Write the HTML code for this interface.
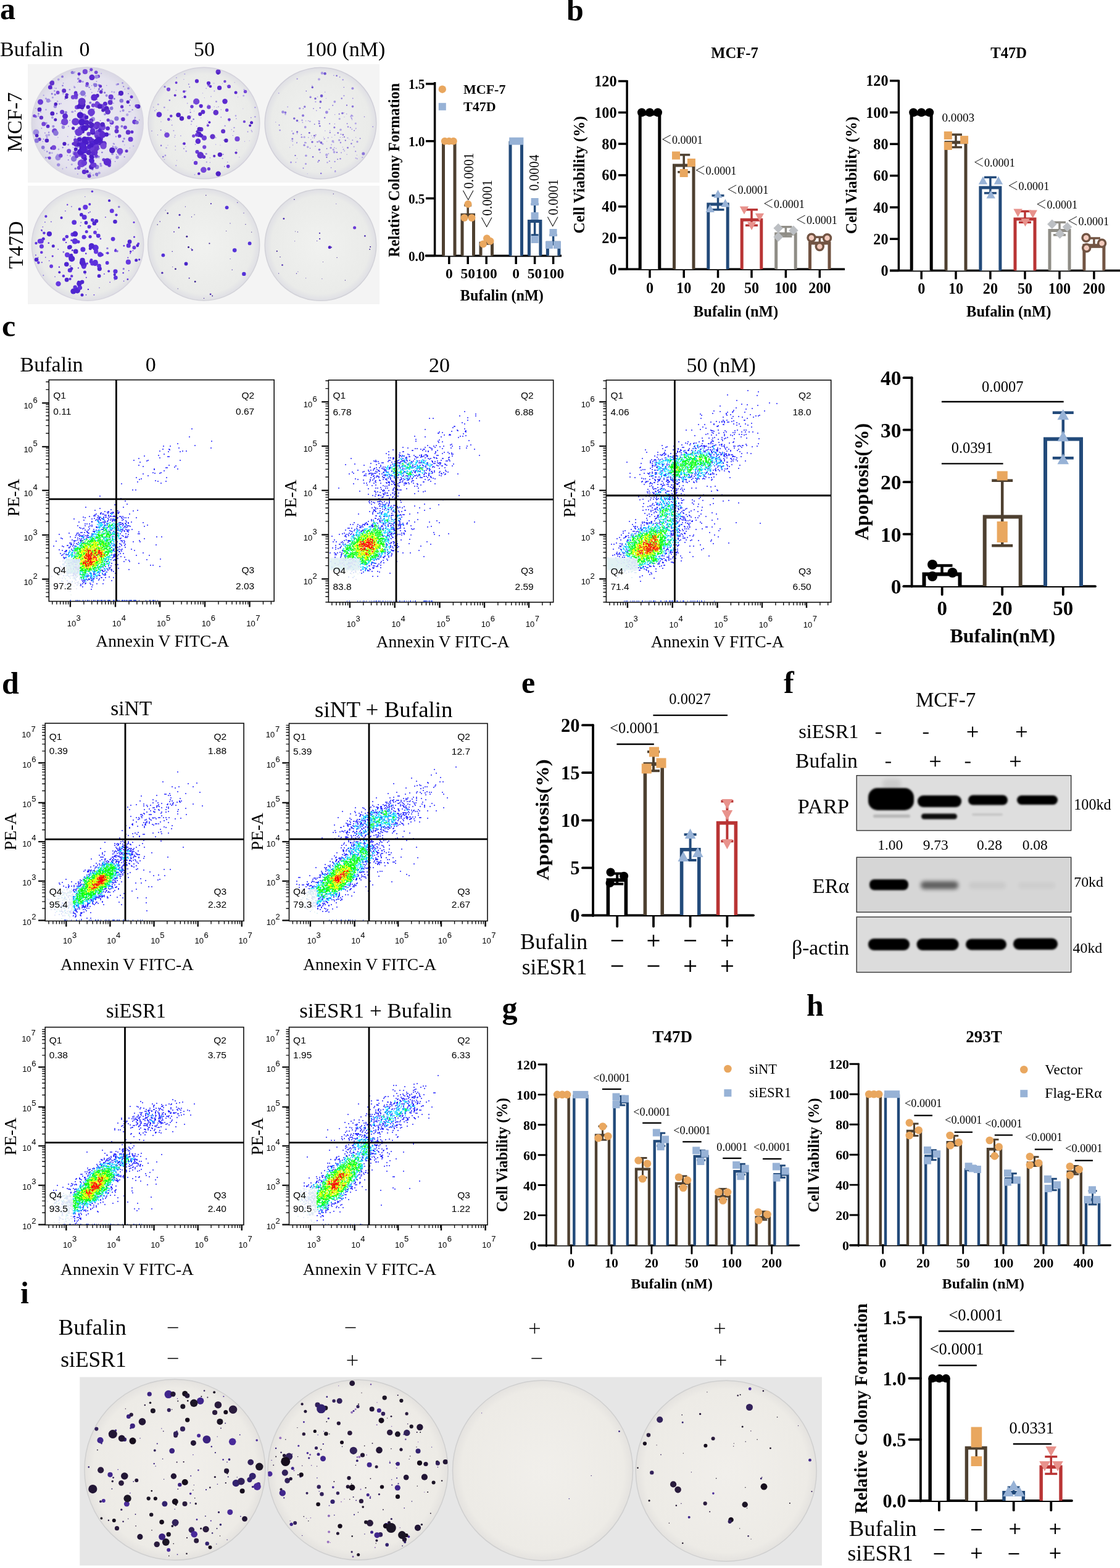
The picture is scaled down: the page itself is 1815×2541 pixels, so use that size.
<!DOCTYPE html>
<html><head><meta charset="utf-8"><title>Figure</title>
<style>
html,body{margin:0;padding:0;background:#fff;overflow:hidden;width:1815px;height:2541px;}
svg{display:block;}
.s{font-family:"Liberation Serif","Times New Roman","Noto Serif CJK SC",serif;}
.a{font-family:"Liberation Sans",Arial,sans-serif;}
.b{font-weight:bold;}
</style></head><body>
<svg width="1815" height="2541" viewBox="0 0 1815 2541">
<rect width="1815" height="2541" fill="#fff"/>
<defs>
<radialGradient id="gpa" cx="50%" cy="50%" r="50%"><stop offset="0" stop-color="#ecebf3"/><stop offset="0.85" stop-color="#e4e2ee"/><stop offset="1" stop-color="#d9d7e4"/></radialGradient>
<radialGradient id="gpb" cx="50%" cy="50%" r="50%"><stop offset="0" stop-color="#f1f2f0"/><stop offset="0.88" stop-color="#eaebe9"/><stop offset="1" stop-color="#dfdfe5"/></radialGradient>
<radialGradient id="gpi" cx="50%" cy="50%" r="50%"><stop offset="0" stop-color="#f1efeb"/><stop offset="0.9" stop-color="#edebe6"/><stop offset="1" stop-color="#e4e2df"/></radialGradient>
<filter id="bc" x="-5%" y="-5%" width="110%" height="110%"><feGaussianBlur stdDeviation="0.5"/></filter>
<filter id="bl0" x="-20%" y="-20%" width="140%" height="140%"><feGaussianBlur stdDeviation="1.2"/></filter>
<filter id="bl1" x="-20%" y="-50%" width="140%" height="200%"><feGaussianBlur stdDeviation="1.6"/></filter>
<filter id="bl2" x="-20%" y="-50%" width="140%" height="200%"><feGaussianBlur stdDeviation="3"/></filter>
<filter id="bl3" x="-10%" y="-10%" width="120%" height="120%"><feGaussianBlur stdDeviation="8"/></filter>
</defs><text class="s b" x="0" y="31" font-size="50">a</text>
<text class="s" x="0" y="90.5" font-size="34">Bufalin</text>
<text class="s" x="137" y="90.5" font-size="34" text-anchor="middle">0</text>
<text class="s" x="331" y="90.5" font-size="34" text-anchor="middle">50</text>
<text class="s" x="495" y="90.5" font-size="34">100 (nM)</text>
<rect x="45" y="104" width="570" height="192" fill="#f4f4f4"/>
<rect x="45" y="301" width="570" height="192" fill="#f4f4f4"/>
<text class="s" x="35" y="198" font-size="33" text-anchor="middle" transform="rotate(-90 35 198)">MCF-7</text>
<text class="s" x="36.5" y="397" font-size="33" text-anchor="middle" transform="rotate(-90 36.5 397)">T47D</text>
<clipPath id="pa1"><circle cx="141.7" cy="199.5" r="90.5"/></clipPath>
<circle cx="141.7" cy="199.5" r="90.5" fill="url(#gpa)" stroke="#d8d6e2" stroke-width="1.5"/>
<g clip-path="url(#pa1)"><g filter="url(#bc)"><circle cx="79.1" cy="218.8" r="2" fill="#b3a6e6"/><circle cx="64.5" cy="223.6" r="0.9" fill="#b3a6e6"/><circle cx="88.3" cy="142.7" r="0.8" fill="#a898e4"/><circle cx="182.1" cy="249.4" r="1.9" fill="#9d8ae0"/><circle cx="96.2" cy="168.4" r="1.1" fill="#8a74da"/><circle cx="84.6" cy="143.7" r="0.8" fill="#9d8ae0"/><circle cx="157.5" cy="239.5" r="0.8" fill="#b3a6e6"/><circle cx="110.7" cy="259.2" r="0.9" fill="#8a74da"/><circle cx="102.4" cy="151.8" r="1.4" fill="#b3a6e6"/><circle cx="110.3" cy="153.4" r="1.2" fill="#9d8ae0"/><circle cx="128.8" cy="152.1" r="0.9" fill="#a898e4"/><circle cx="206.2" cy="211.7" r="0.8" fill="#9d8ae0"/><circle cx="172.7" cy="154.8" r="2.1" fill="#9d8ae0"/><circle cx="160.9" cy="281.5" r="0.8" fill="#b3a6e6"/><circle cx="196.4" cy="192.7" r="0.8" fill="#8a74da"/><circle cx="149.8" cy="154.8" r="0.8" fill="#a898e4"/><circle cx="197.5" cy="204.8" r="2" fill="#8a74da"/><circle cx="142.3" cy="227.3" r="0.8" fill="#b3a6e6"/><circle cx="170.4" cy="258.3" r="1.1" fill="#8a74da"/><circle cx="218.1" cy="192.4" r="1" fill="#b3a6e6"/><circle cx="183.9" cy="237.4" r="0.9" fill="#a898e4"/><circle cx="198.6" cy="134.5" r="1.3" fill="#9d8ae0"/><circle cx="155.1" cy="252.8" r="1.8" fill="#9d8ae0"/><circle cx="174" cy="208.3" r="1.1" fill="#9d8ae0"/><circle cx="148.8" cy="149.8" r="0.9" fill="#9d8ae0"/><circle cx="177.4" cy="217.5" r="1.4" fill="#9d8ae0"/><circle cx="98.8" cy="167.8" r="1.1" fill="#b3a6e6"/><circle cx="157.6" cy="171.5" r="1" fill="#8a74da"/><circle cx="126.1" cy="238.3" r="1.3" fill="#8a74da"/><circle cx="179.4" cy="257.7" r="1.2" fill="#b3a6e6"/><circle cx="191.9" cy="153.7" r="1" fill="#9d8ae0"/><circle cx="190.2" cy="239.1" r="0.9" fill="#b3a6e6"/><circle cx="138.2" cy="278.8" r="1.3" fill="#a898e4"/><circle cx="58" cy="188.9" r="2.1" fill="#8a74da"/><circle cx="150.6" cy="264.3" r="1.8" fill="#9d8ae0"/><circle cx="125.9" cy="281.8" r="0.9" fill="#9d8ae0"/><circle cx="192.6" cy="223.1" r="0.9" fill="#9d8ae0"/><circle cx="165.4" cy="247" r="1.3" fill="#8a74da"/><circle cx="168.9" cy="217.3" r="1.1" fill="#a898e4"/><circle cx="101.5" cy="138.8" r="1.3" fill="#8a74da"/><circle cx="70.7" cy="154.5" r="1.1" fill="#a898e4"/><circle cx="115.7" cy="117.7" r="0.8" fill="#9d8ae0"/><circle cx="67.4" cy="207.8" r="0.9" fill="#9d8ae0"/><circle cx="199.3" cy="229" r="1.6" fill="#8a74da"/><circle cx="164.2" cy="118.9" r="1" fill="#b3a6e6"/><circle cx="208" cy="151.8" r="1" fill="#9d8ae0"/><circle cx="185" cy="149.4" r="1.3" fill="#b3a6e6"/><circle cx="134.6" cy="206.2" r="0.8" fill="#9d8ae0"/><circle cx="85.9" cy="132.5" r="1.9" fill="#a898e4"/><circle cx="84.4" cy="247.9" r="1.3" fill="#b3a6e6"/><circle cx="79.1" cy="214.5" r="1.2" fill="#9d8ae0"/><circle cx="132.1" cy="223.6" r="0.8" fill="#9d8ae0"/><circle cx="73.1" cy="200.7" r="2" fill="#a898e4"/><circle cx="183.9" cy="167.3" r="0.8" fill="#8a74da"/><circle cx="66.2" cy="190.7" r="1" fill="#b3a6e6"/><circle cx="98.7" cy="200" r="1" fill="#a898e4"/><circle cx="160" cy="254" r="1.7" fill="#8a74da"/><circle cx="181.3" cy="162.4" r="1.3" fill="#a898e4"/><circle cx="149.7" cy="230.6" r="1" fill="#9d8ae0"/><circle cx="121.1" cy="116.7" r="0.9" fill="#8a74da"/><circle cx="187.3" cy="238.6" r="2" fill="#b3a6e6"/><circle cx="95" cy="242" r="1.4" fill="#b3a6e6"/><circle cx="107.6" cy="271.5" r="0.9" fill="#9d8ae0"/><circle cx="121.5" cy="157.7" r="1" fill="#9d8ae0"/><circle cx="106.5" cy="156.4" r="0.9" fill="#a898e4"/><circle cx="144.3" cy="232.2" r="0.8" fill="#9d8ae0"/><circle cx="76.1" cy="222.4" r="1.4" fill="#a898e4"/><circle cx="211.6" cy="180.8" r="0.9" fill="#b3a6e6"/><circle cx="138.9" cy="273.4" r="1.6" fill="#9d8ae0"/><circle cx="161.4" cy="240.7" r="1" fill="#8a74da"/><circle cx="80.6" cy="247.8" r="1.9" fill="#9d8ae0"/><circle cx="71.8" cy="243.6" r="1" fill="#b3a6e6"/><circle cx="75.4" cy="219.4" r="2" fill="#b3a6e6"/><circle cx="74.5" cy="177.7" r="1.2" fill="#a898e4"/><circle cx="72.9" cy="215.5" r="0.9" fill="#9d8ae0"/><circle cx="160.7" cy="280.3" r="2.1" fill="#a898e4"/><circle cx="66" cy="181.6" r="0.9" fill="#9d8ae0"/><circle cx="127.1" cy="220" r="1.1" fill="#b3a6e6"/><circle cx="148.7" cy="138.8" r="0.8" fill="#9d8ae0"/><circle cx="126.9" cy="206.6" r="1.2" fill="#8a74da"/><circle cx="55.7" cy="215.6" r="1.9" fill="#b3a6e6"/><circle cx="199.6" cy="179" r="2.1" fill="#9d8ae0"/><circle cx="144.6" cy="141.6" r="1.2" fill="#8a74da"/><circle cx="62.2" cy="188" r="1.2" fill="#a898e4"/><circle cx="101.1" cy="124.2" r="1.9" fill="#8a74da"/><circle cx="130.7" cy="230.5" r="1.2" fill="#a898e4"/><circle cx="106.5" cy="182.1" r="1.2" fill="#9d8ae0"/><circle cx="130.2" cy="190.5" r="2.1" fill="#b3a6e6"/><circle cx="58" cy="175.7" r="0.8" fill="#9d8ae0"/><circle cx="133.6" cy="178.6" r="1.2" fill="#b3a6e6"/><circle cx="210.5" cy="162.1" r="1" fill="#8a74da"/><circle cx="111" cy="204.7" r="1.1" fill="#b3a6e6"/><circle cx="113.2" cy="195" r="1" fill="#9d8ae0"/><circle cx="169.8" cy="185.3" r="1.7" fill="#9d8ae0"/><circle cx="175.3" cy="207.2" r="0.8" fill="#a898e4"/><circle cx="118.9" cy="246.4" r="1.3" fill="#9d8ae0"/><circle cx="74.9" cy="199.6" r="1.8" fill="#a898e4"/><circle cx="126.9" cy="127.7" r="1.9" fill="#9d8ae0"/><circle cx="101.7" cy="239.1" r="1.2" fill="#8a74da"/><circle cx="62.7" cy="180.2" r="1.2" fill="#8a74da"/><circle cx="62.4" cy="184.6" r="1.3" fill="#8a74da"/><circle cx="149.9" cy="274.4" r="1.7" fill="#8a74da"/><circle cx="121.9" cy="244.5" r="2" fill="#8a74da"/><circle cx="148.5" cy="161.5" r="0.8" fill="#8a74da"/><circle cx="159.2" cy="218.7" r="1" fill="#b3a6e6"/><circle cx="169.7" cy="150.1" r="1.7" fill="#8a74da"/><circle cx="162.9" cy="265.5" r="1.7" fill="#9d8ae0"/><circle cx="163.6" cy="268.4" r="2" fill="#a898e4"/><circle cx="188.3" cy="240.8" r="1.6" fill="#8a74da"/><circle cx="161.5" cy="142.1" r="0.8" fill="#b3a6e6"/><circle cx="164.4" cy="229.4" r="0.9" fill="#8a74da"/><circle cx="225.8" cy="194.4" r="0.8" fill="#9d8ae0"/><circle cx="189.6" cy="253.5" r="0.8" fill="#9d8ae0"/><circle cx="113.9" cy="252.5" r="1.2" fill="#b3a6e6"/><circle cx="155" cy="251.3" r="1.4" fill="#9d8ae0"/><circle cx="162.5" cy="168.6" r="1.1" fill="#a898e4"/><circle cx="109.7" cy="221.2" r="0.8" fill="#9d8ae0"/><circle cx="130.3" cy="222.3" r="1.8" fill="#b3a6e6"/><circle cx="107.1" cy="183.3" r="1.3" fill="#a898e4"/><circle cx="156.7" cy="157.6" r="2" fill="#8a74da"/><circle cx="163.7" cy="148.3" r="1.9" fill="#a898e4"/><circle cx="150" cy="123.4" r="1" fill="#8a74da"/><circle cx="187.9" cy="221.4" r="1.1" fill="#9d8ae0"/><circle cx="208.1" cy="143.2" r="1.9" fill="#9d8ae0"/><circle cx="151.2" cy="284" r="1.4" fill="#a898e4"/><circle cx="153.5" cy="254" r="0.8" fill="#9d8ae0"/><circle cx="74.4" cy="255.4" r="1.4" fill="#9d8ae0"/><circle cx="148.1" cy="113.1" r="0.8" fill="#9d8ae0"/><circle cx="138.6" cy="155.3" r="1" fill="#9d8ae0"/><circle cx="146.7" cy="129.2" r="0.8" fill="#a898e4"/><circle cx="141.2" cy="282.8" r="1.2" fill="#b3a6e6"/><circle cx="206.2" cy="186" r="2.2" fill="#b3a6e6"/><circle cx="150.5" cy="177" r="1.3" fill="#9d8ae0"/><circle cx="77.6" cy="255" r="1" fill="#8a74da"/><circle cx="181.4" cy="148.8" r="1.3" fill="#b3a6e6"/><circle cx="195.1" cy="180.4" r="1.2" fill="#a898e4"/><circle cx="110.6" cy="234.5" r="1.4" fill="#a898e4"/><circle cx="102.6" cy="134.7" r="0.8" fill="#8a74da"/><circle cx="82" cy="163.8" r="1" fill="#b3a6e6"/><circle cx="188.1" cy="215.5" r="1" fill="#a898e4"/><circle cx="216.2" cy="236.6" r="1.1" fill="#b3a6e6"/><circle cx="141.3" cy="275.6" r="0.8" fill="#9d8ae0"/><circle cx="210.4" cy="170.9" r="1.1" fill="#8a74da"/><circle cx="118.1" cy="181.5" r="1.3" fill="#b3a6e6"/><circle cx="201.6" cy="254.3" r="1" fill="#8a74da"/><circle cx="183" cy="240.5" r="1.4" fill="#b3a6e6"/><circle cx="85.4" cy="158" r="1.5" fill="#a898e4"/><circle cx="152.8" cy="136.7" r="2.2" fill="#a898e4"/><circle cx="137.5" cy="157" r="0.8" fill="#a898e4"/><circle cx="156.5" cy="131.9" r="1" fill="#a898e4"/><circle cx="84.2" cy="152.1" r="1.5" fill="#8a74da"/><circle cx="90.8" cy="143.1" r="0.9" fill="#8a74da"/><circle cx="71" cy="198.5" r="0.9" fill="#9d8ae0"/><circle cx="135.8" cy="193.3" r="0.9" fill="#9d8ae0"/><circle cx="121.7" cy="179.9" r="1.2" fill="#9d8ae0"/><circle cx="144.7" cy="116" r="0.8" fill="#8a74da"/><circle cx="105.4" cy="160.3" r="1.1" fill="#8a74da"/><circle cx="109.3" cy="251.8" r="0.8" fill="#9d8ae0"/><circle cx="160.6" cy="144.1" r="1.7" fill="#8a74da"/><circle cx="70.6" cy="225.4" r="1" fill="#8a74da"/><circle cx="93.6" cy="251.4" r="2.2" fill="#a898e4"/><circle cx="122.3" cy="273.2" r="1.8" fill="#8a74da"/><circle cx="93.9" cy="222.8" r="0.8" fill="#a898e4"/><circle cx="163.9" cy="211.4" r="1.2" fill="#b3a6e6"/><circle cx="165.5" cy="144.9" r="1.7" fill="#9d8ae0"/><circle cx="177.6" cy="218.1" r="1.4" fill="#9d8ae0"/><circle cx="120.9" cy="141.6" r="1.6" fill="#a898e4"/><circle cx="134.9" cy="231.9" r="1" fill="#a898e4"/><circle cx="121.7" cy="221.8" r="1.5" fill="#a898e4"/><circle cx="69.2" cy="229.3" r="0.9" fill="#a898e4"/><circle cx="157.2" cy="284.2" r="1.5" fill="#8a74da"/><circle cx="210.4" cy="239.7" r="0.8" fill="#b3a6e6"/><circle cx="74.5" cy="159.8" r="1.6" fill="#a898e4"/><circle cx="160.5" cy="138" r="1.8" fill="#8a74da"/><circle cx="175.6" cy="267.8" r="1.9" fill="#a898e4"/><circle cx="157.3" cy="161.4" r="0.8" fill="#8a74da"/><circle cx="63.3" cy="164.1" r="1.4" fill="#b3a6e6"/><circle cx="201.2" cy="224.8" r="1.7" fill="#9d8ae0"/><circle cx="118.5" cy="239" r="0.8" fill="#a898e4"/><circle cx="201.7" cy="234.9" r="0.8" fill="#b3a6e6"/><circle cx="142.9" cy="240.6" r="1.6" fill="#a898e4"/><circle cx="146.8" cy="144.8" r="1" fill="#a898e4"/><circle cx="112.9" cy="145.2" r="1.2" fill="#9d8ae0"/><circle cx="119.9" cy="118.7" r="1" fill="#a898e4"/><circle cx="189.3" cy="137" r="1.8" fill="#b3a6e6"/><circle cx="209.3" cy="181.1" r="1.2" fill="#9d8ae0"/><circle cx="160" cy="145.7" r="1" fill="#8a74da"/><circle cx="142.6" cy="234.7" r="1.4" fill="#8a74da"/><circle cx="118.2" cy="248.8" r="1.2" fill="#a898e4"/><circle cx="162.6" cy="195.5" r="0.9" fill="#9d8ae0"/><circle cx="130.3" cy="232.1" r="2" fill="#9d8ae0"/><circle cx="141.9" cy="188" r="1.1" fill="#9d8ae0"/><circle cx="126.8" cy="235.4" r="1" fill="#8a74da"/><circle cx="93.1" cy="164.2" r="1.2" fill="#b3a6e6"/><circle cx="160.1" cy="242.1" r="0.8" fill="#a898e4"/><circle cx="82.3" cy="138.8" r="1.2" fill="#a898e4"/><circle cx="86.4" cy="204.8" r="2.1" fill="#9d8ae0"/><circle cx="100.8" cy="204" r="0.8" fill="#8a74da"/><circle cx="158.9" cy="148" r="1.2" fill="#a898e4"/><circle cx="146.6" cy="179" r="2" fill="#9d8ae0"/><circle cx="200.2" cy="140.3" r="1.1" fill="#8a74da"/><circle cx="126.1" cy="133.2" r="0.8" fill="#8a74da"/><circle cx="146.3" cy="166.5" r="2" fill="#8a74da"/><circle cx="84.8" cy="133.4" r="0.9" fill="#9d8ae0"/><circle cx="186.6" cy="261.8" r="0.8" fill="#8a74da"/><circle cx="152.7" cy="176.9" r="0.9" fill="#9d8ae0"/><circle cx="197.8" cy="152.9" r="0.8" fill="#a898e4"/><circle cx="179.3" cy="204" r="0.9" fill="#9d8ae0"/><circle cx="153.1" cy="142.6" r="0.8" fill="#b3a6e6"/><circle cx="107.4" cy="193.9" r="1.8" fill="#a898e4"/><circle cx="119.2" cy="250.5" r="1.2" fill="#b3a6e6"/><circle cx="130.4" cy="179.8" r="0.8" fill="#8a74da"/><circle cx="185" cy="233.4" r="1.1" fill="#9d8ae0"/><circle cx="136.2" cy="191.5" r="1" fill="#b3a6e6"/><circle cx="146.9" cy="265" r="1.1" fill="#9d8ae0"/><circle cx="191.4" cy="136.3" r="1.5" fill="#8a74da"/><circle cx="128.2" cy="251.4" r="1.2" fill="#a898e4"/><circle cx="214.6" cy="177.9" r="1.2" fill="#9d8ae0"/><circle cx="140.1" cy="238.6" r="1.5" fill="#a898e4"/><circle cx="124.9" cy="242.1" r="1.1" fill="#a898e4"/><circle cx="90.6" cy="217.2" r="0.8" fill="#9d8ae0"/><circle cx="188.8" cy="250.6" r="0.8" fill="#8a74da"/><circle cx="76.3" cy="245.6" r="1.3" fill="#9d8ae0"/><circle cx="154.4" cy="208.8" r="2.2" fill="#b3a6e6"/><circle cx="122" cy="212.5" r="2" fill="#b3a6e6"/><circle cx="170.9" cy="185" r="0.9" fill="#8a74da"/><circle cx="165.2" cy="150.5" r="1" fill="#b3a6e6"/><circle cx="88.3" cy="147.4" r="1.3" fill="#a898e4"/><circle cx="219" cy="190.7" r="1.4" fill="#9d8ae0"/><circle cx="139.1" cy="237.4" r="0.9" fill="#b3a6e6"/><circle cx="183.9" cy="232.8" r="1.2" fill="#a898e4"/><circle cx="172.8" cy="138.6" r="0.8" fill="#a898e4"/><circle cx="92.1" cy="184" r="1.2" fill="#8a74da"/><circle cx="106.9" cy="182" r="2" fill="#8a74da"/><circle cx="128.7" cy="193.6" r="1.4" fill="#9d8ae0"/><circle cx="181.3" cy="245.2" r="1" fill="#a898e4"/><circle cx="101.4" cy="273.6" r="1" fill="#b3a6e6"/><circle cx="185.3" cy="160" r="1.5" fill="#8a74da"/><circle cx="194.8" cy="162.9" r="1.2" fill="#a898e4"/><circle cx="178.7" cy="265.4" r="1.9" fill="#a898e4"/><circle cx="117.1" cy="181.3" r="1.8" fill="#a898e4"/><circle cx="120.8" cy="151.1" r="1.6" fill="#a898e4"/><circle cx="160" cy="166.6" r="1.2" fill="#9d8ae0"/><circle cx="88.4" cy="215.2" r="1.7" fill="#8a74da"/><circle cx="116.3" cy="266.5" r="1.6" fill="#b3a6e6"/><circle cx="89.2" cy="153.1" r="1.6" fill="#8a74da"/><circle cx="160.4" cy="256.4" r="0.8" fill="#b3a6e6"/><circle cx="182.7" cy="237.2" r="1" fill="#8a74da"/><circle cx="136" cy="265.2" r="1" fill="#9d8ae0"/><circle cx="127.9" cy="123.1" r="1" fill="#b3a6e6"/><circle cx="93.2" cy="164.2" r="1" fill="#b3a6e6"/><circle cx="142.4" cy="138.5" r="2.2" fill="#b3a6e6"/><circle cx="155.3" cy="172.8" r="0.8" fill="#a898e4"/><circle cx="84.9" cy="190.5" r="1.9" fill="#a898e4"/><circle cx="181.5" cy="173.3" r="1.3" fill="#b3a6e6"/><circle cx="134.1" cy="132.3" r="1.6" fill="#a898e4"/><circle cx="202.3" cy="144.4" r="0.9" fill="#b3a6e6"/><circle cx="145.6" cy="281.2" r="2.1" fill="#b3a6e6"/><circle cx="120.2" cy="139.8" r="0.9" fill="#a898e4"/><circle cx="94.8" cy="128.8" r="1.9" fill="#a898e4"/><circle cx="179.7" cy="157.2" r="4.1" fill="#6a3ad6"/><circle cx="108.2" cy="153.6" r="2.5" fill="#5b2bd0"/><circle cx="205.1" cy="244.7" r="2.5" fill="#6233cc"/><circle cx="89.4" cy="172.5" r="2.7" fill="#9d8ae0"/><circle cx="126.5" cy="247" r="2.5" fill="#7446d8"/><circle cx="163.7" cy="148.9" r="2.8" fill="#6233cc"/><circle cx="147.5" cy="247.6" r="3" fill="#4f22c4"/><circle cx="119.7" cy="257.2" r="4.7" fill="#8a74da"/><circle cx="102.5" cy="206.3" r="2.7" fill="#9d8ae0"/><circle cx="172.5" cy="176.1" r="4.3" fill="#4f22c4"/><circle cx="150.6" cy="192.9" r="3.5" fill="#9d8ae0"/><circle cx="181" cy="198.4" r="3.5" fill="#6a3ad6"/><circle cx="223.8" cy="172.5" r="3.6" fill="#4f22c4"/><circle cx="134.3" cy="151.1" r="4.5" fill="#8a74da"/><circle cx="69.7" cy="238.9" r="2.8" fill="#8a74da"/><circle cx="118.6" cy="207.8" r="2.6" fill="#4f22c4"/><circle cx="194.5" cy="249.5" r="2.7" fill="#9d8ae0"/><circle cx="148.2" cy="270.5" r="4.1" fill="#4f22c4"/><circle cx="162.7" cy="139.7" r="2.5" fill="#6233cc"/><circle cx="148" cy="247.1" r="4.6" fill="#9d8ae0"/><circle cx="146.5" cy="231" r="3.6" fill="#7446d8"/><circle cx="199.4" cy="193.3" r="3.2" fill="#6233cc"/><circle cx="147.8" cy="195.5" r="3.4" fill="#6233cc"/><circle cx="141.3" cy="277.9" r="2.5" fill="#4f22c4"/><circle cx="179.7" cy="196.7" r="2.6" fill="#9d8ae0"/><circle cx="105.6" cy="188.3" r="4.5" fill="#5b2bd0"/><circle cx="81.3" cy="141.4" r="3.4" fill="#5b2bd0"/><circle cx="197.6" cy="172.9" r="2.6" fill="#6233cc"/><circle cx="155.7" cy="117.2" r="2.8" fill="#7446d8"/><circle cx="154.6" cy="137.9" r="3.1" fill="#8a74da"/><circle cx="84.2" cy="134.5" r="3.9" fill="#6233cc"/><circle cx="177.2" cy="268.1" r="2.6" fill="#6233cc"/><circle cx="75.9" cy="227.7" r="3.3" fill="#4f22c4"/><circle cx="159.4" cy="123.7" r="2.6" fill="#7446d8"/><circle cx="64" cy="177.4" r="3.4" fill="#4f22c4"/><circle cx="207.6" cy="214.4" r="3.8" fill="#6233cc"/><circle cx="63.9" cy="225.7" r="2.8" fill="#6233cc"/><circle cx="202.9" cy="206.4" r="3" fill="#7446d8"/><circle cx="128.1" cy="119.7" r="2.5" fill="#5b2bd0"/><circle cx="196.8" cy="163.2" r="3.2" fill="#8a74da"/><circle cx="129.7" cy="131.5" r="2.5" fill="#7446d8"/><circle cx="189" cy="212.4" r="3.5" fill="#6233cc"/><circle cx="156.4" cy="124.4" r="3.1" fill="#9d8ae0"/><circle cx="157.2" cy="166.8" r="2.7" fill="#6a3ad6"/><circle cx="70.7" cy="200.9" r="3.4" fill="#7446d8"/><circle cx="193.7" cy="220.5" r="2.8" fill="#6a3ad6"/><circle cx="117.2" cy="117.5" r="2.5" fill="#8a74da"/><circle cx="147.8" cy="112.8" r="2.6" fill="#7446d8"/><circle cx="55.6" cy="187.7" r="2.5" fill="#7446d8"/><circle cx="167.1" cy="178.5" r="2.9" fill="#4f22c4"/><circle cx="58.4" cy="214.4" r="4.9" fill="#9d8ae0"/><circle cx="218.1" cy="197.6" r="3.8" fill="#6a3ad6"/><circle cx="133.2" cy="228.4" r="4.3" fill="#7446d8"/><circle cx="59.7" cy="219.7" r="2.8" fill="#4f22c4"/><circle cx="221.1" cy="171.7" r="2.6" fill="#6a3ad6"/><circle cx="83.9" cy="239.9" r="2.5" fill="#4f22c4"/><circle cx="65.5" cy="165.2" r="4.5" fill="#6a3ad6"/><circle cx="88.4" cy="212.3" r="4.3" fill="#7446d8"/><circle cx="127.7" cy="212.9" r="2.9" fill="#6a3ad6"/><circle cx="168" cy="258.8" r="2.6" fill="#6a3ad6"/><circle cx="87.1" cy="239.1" r="3.9" fill="#7446d8"/><circle cx="59.3" cy="227.9" r="3.7" fill="#8a74da"/><circle cx="77.6" cy="204.7" r="2.9" fill="#5b2bd0"/><circle cx="122.7" cy="150.3" r="2.7" fill="#5b2bd0"/><circle cx="66.9" cy="190.6" r="3.2" fill="#6233cc"/><circle cx="207.3" cy="165.3" r="2.7" fill="#4f22c4"/><circle cx="211.6" cy="225.8" r="4" fill="#6a3ad6"/><circle cx="149" cy="125.4" r="4.6" fill="#5b2bd0"/><circle cx="221.8" cy="198.5" r="3" fill="#8a74da"/><circle cx="178.6" cy="165.9" r="4" fill="#6233cc"/><circle cx="118.3" cy="157.5" r="3.4" fill="#7446d8"/><circle cx="174.6" cy="208.1" r="3.4" fill="#5b2bd0"/><circle cx="156.1" cy="253.7" r="3.1" fill="#9d8ae0"/><circle cx="190" cy="255" r="2.7" fill="#9d8ae0"/><circle cx="90.4" cy="215.6" r="4.4" fill="#8a74da"/><circle cx="127.7" cy="272" r="2.9" fill="#7446d8"/><circle cx="89.8" cy="194" r="2.5" fill="#4f22c4"/><circle cx="118.9" cy="233.1" r="2.5" fill="#5b2bd0"/><circle cx="140.6" cy="138.7" r="2.5" fill="#8a74da"/><circle cx="188.9" cy="192.2" r="3.6" fill="#8a74da"/><circle cx="157" cy="270.5" r="3.6" fill="#8a74da"/><circle cx="170.4" cy="168.3" r="3.5" fill="#5b2bd0"/><circle cx="151" cy="170.7" r="3.1" fill="#7446d8"/><circle cx="104.4" cy="233" r="3.1" fill="#4f22c4"/><circle cx="156.6" cy="282.3" r="2.6" fill="#8a74da"/><circle cx="177.4" cy="261.3" r="2.6" fill="#5b2bd0"/><circle cx="137.9" cy="116.2" r="4.1" fill="#7446d8"/><circle cx="78.1" cy="163.1" r="3.3" fill="#9d8ae0"/><circle cx="213.1" cy="157" r="2.5" fill="#5b2bd0"/><circle cx="180.6" cy="175.6" r="2.9" fill="#8a74da"/><circle cx="90.3" cy="168.7" r="2.8" fill="#4f22c4"/><circle cx="156.5" cy="206.7" r="2.8" fill="#4f22c4"/><circle cx="100.7" cy="181.5" r="3.6" fill="#6a3ad6"/><circle cx="107.7" cy="157.2" r="2.8" fill="#4f22c4"/><circle cx="213.9" cy="213.8" r="2.6" fill="#5b2bd0"/><circle cx="93.7" cy="150" r="2.9" fill="#7446d8"/><circle cx="162.8" cy="208.4" r="3" fill="#7446d8"/><circle cx="80.2" cy="255.9" r="2.5" fill="#6a3ad6"/><circle cx="123.1" cy="157.7" r="3.1" fill="#7446d8"/><circle cx="175.2" cy="194.6" r="2.6" fill="#6a3ad6"/><circle cx="139.6" cy="240.5" r="3.2" fill="#6233cc"/><circle cx="146.8" cy="198.8" r="3.2" fill="#8a74da"/><circle cx="103.7" cy="147.1" r="3.5" fill="#6233cc"/><circle cx="196" cy="151.1" r="4.1" fill="#4f22c4"/><circle cx="94.7" cy="267.1" r="2.7" fill="#9d8ae0"/><circle cx="156.1" cy="252.7" r="2.6" fill="#6a3ad6"/><circle cx="157.4" cy="168.3" r="3.5" fill="#7446d8"/><circle cx="157.8" cy="154.9" r="2.9" fill="#4f22c4"/><circle cx="141.3" cy="135.6" r="2.6" fill="#6a3ad6"/><circle cx="94" cy="255.5" r="4.6" fill="#9d8ae0"/><circle cx="149.8" cy="227.2" r="3" fill="#5b2bd0"/><circle cx="157.7" cy="202.5" r="5.5" fill="#6233cc"/><circle cx="147.9" cy="185.5" r="3.1" fill="#7446d8"/><circle cx="149.2" cy="212.2" r="3.2" fill="#6233cc"/><circle cx="142.7" cy="173.4" r="3.2" fill="#4f22c4"/><circle cx="124.3" cy="253.1" r="3.1" fill="#6a3ad6"/><circle cx="165.4" cy="172.5" r="4.1" fill="#7446d8"/><circle cx="138.2" cy="207.4" r="4.9" fill="#4f22c4"/><circle cx="148" cy="204.8" r="3.5" fill="#4f22c4"/><circle cx="146.2" cy="238.5" r="3" fill="#6233cc"/><circle cx="132.5" cy="169.7" r="6" fill="#4f22c4"/><circle cx="136.7" cy="190.6" r="4.4" fill="#7446d8"/><circle cx="121.9" cy="249.1" r="3.1" fill="#6a3ad6"/><circle cx="142.4" cy="204.8" r="3" fill="#4f22c4"/><circle cx="129.3" cy="248.8" r="5.2" fill="#7446d8"/><circle cx="142.5" cy="225.6" r="4" fill="#7446d8"/><circle cx="148.2" cy="229.4" r="3.7" fill="#4f22c4"/><circle cx="150" cy="266.8" r="3.6" fill="#6a3ad6"/><circle cx="164.4" cy="215.9" r="4.7" fill="#6233cc"/><circle cx="136.5" cy="278.5" r="3.7" fill="#5b2bd0"/><circle cx="104.7" cy="197.4" r="5.7" fill="#7446d8"/><circle cx="157.6" cy="237.7" r="3" fill="#6233cc"/><circle cx="130.2" cy="209.4" r="3.6" fill="#4f22c4"/><circle cx="147.9" cy="253.6" r="3.5" fill="#4f22c4"/><circle cx="134" cy="213.3" r="3" fill="#4f22c4"/><circle cx="143.8" cy="217.1" r="3.4" fill="#6a3ad6"/><circle cx="158.1" cy="219.1" r="5.6" fill="#7446d8"/><circle cx="162.9" cy="225.1" r="4.1" fill="#6233cc"/><circle cx="168.4" cy="232.9" r="4.5" fill="#6233cc"/><circle cx="144.5" cy="238.9" r="3.3" fill="#6a3ad6"/><circle cx="166.3" cy="218.3" r="5.4" fill="#5b2bd0"/><circle cx="146.8" cy="225.7" r="3.1" fill="#5b2bd0"/><circle cx="137.5" cy="198.3" r="3" fill="#6233cc"/><circle cx="135.9" cy="253" r="3" fill="#6a3ad6"/><circle cx="162.2" cy="230.6" r="5.1" fill="#4f22c4"/><circle cx="157.8" cy="170.1" r="4.9" fill="#7446d8"/><circle cx="135.9" cy="254" r="4.6" fill="#5b2bd0"/><circle cx="165.8" cy="206.1" r="5.5" fill="#7446d8"/><circle cx="144.6" cy="285.3" r="3" fill="#6233cc"/><circle cx="155.9" cy="240" r="4.8" fill="#6233cc"/><circle cx="124.6" cy="173.8" r="3.5" fill="#7446d8"/><circle cx="134.9" cy="238.8" r="5.9" fill="#4f22c4"/><circle cx="131.7" cy="206.4" r="3.2" fill="#6a3ad6"/><circle cx="152.6" cy="267.5" r="4" fill="#6a3ad6"/><circle cx="148.9" cy="232.2" r="3.1" fill="#4f22c4"/><circle cx="146.4" cy="225.3" r="3.6" fill="#5b2bd0"/><circle cx="130.2" cy="234.6" r="4" fill="#6a3ad6"/><circle cx="157" cy="221.9" r="3" fill="#6233cc"/><circle cx="98.3" cy="252.2" r="3.2" fill="#7446d8"/><circle cx="152.6" cy="157.9" r="5.3" fill="#5b2bd0"/><circle cx="123.2" cy="154.1" r="3.4" fill="#6a3ad6"/><circle cx="148.9" cy="183.4" r="3" fill="#7446d8"/><circle cx="150.4" cy="214.1" r="4.3" fill="#4f22c4"/><circle cx="174.7" cy="181.2" r="4.4" fill="#6233cc"/><circle cx="189.4" cy="206.4" r="3.1" fill="#7446d8"/><circle cx="124" cy="232.6" r="5.4" fill="#6233cc"/><circle cx="148.1" cy="259.8" r="4.1" fill="#6233cc"/><circle cx="166.2" cy="201.8" r="3.7" fill="#4f22c4"/><circle cx="122.3" cy="197.2" r="6" fill="#6a3ad6"/><circle cx="127.3" cy="213.3" r="3.2" fill="#6233cc"/><circle cx="132.1" cy="264.7" r="6.4" fill="#7446d8"/><circle cx="194.4" cy="245" r="5" fill="#7446d8"/><circle cx="154.6" cy="231.9" r="6" fill="#6a3ad6"/><circle cx="161.8" cy="172.4" r="3.9" fill="#4f22c4"/><circle cx="181.8" cy="243.5" r="4.8" fill="#4f22c4"/><circle cx="126.3" cy="216.4" r="3.2" fill="#5b2bd0"/><circle cx="153.5" cy="204.7" r="3.3" fill="#6a3ad6"/><circle cx="167.5" cy="236.5" r="5.2" fill="#7446d8"/><circle cx="150.2" cy="211.4" r="3.9" fill="#5b2bd0"/><circle cx="148" cy="181.9" r="5.9" fill="#6a3ad6"/><circle cx="149.4" cy="202.1" r="3.4" fill="#4f22c4"/><circle cx="158.2" cy="213.6" r="3.3" fill="#7446d8"/><circle cx="153" cy="246.6" r="5.5" fill="#6233cc"/><circle cx="122.1" cy="226.9" r="3" fill="#6a3ad6"/><circle cx="127.6" cy="214.2" r="6.2" fill="#6a3ad6"/><circle cx="84.8" cy="184" r="3.5" fill="#4f22c4"/><circle cx="132.7" cy="164.5" r="6.1" fill="#6233cc"/><circle cx="148.2" cy="239.4" r="5.1" fill="#6a3ad6"/><circle cx="136.9" cy="188" r="3.1" fill="#5b2bd0"/><circle cx="143.7" cy="247" r="4.4" fill="#4f22c4"/><circle cx="133" cy="173.8" r="3.5" fill="#4f22c4"/><circle cx="146.4" cy="199.6" r="3" fill="#4f22c4"/><circle cx="111.7" cy="244.8" r="3.6" fill="#7446d8"/><circle cx="151.6" cy="231" r="3" fill="#6233cc"/><circle cx="140.5" cy="198.5" r="4.2" fill="#4f22c4"/><circle cx="174" cy="262.4" r="6.2" fill="#5b2bd0"/><circle cx="134.9" cy="189.9" r="6.1" fill="#7446d8"/><circle cx="151.2" cy="248.9" r="3.2" fill="#5b2bd0"/><circle cx="132.6" cy="239.5" r="4.2" fill="#4f22c4"/><circle cx="136.5" cy="264.1" r="4.6" fill="#6a3ad6"/><circle cx="151.3" cy="231.8" r="3.9" fill="#5020d0"/><circle cx="135.5" cy="242.6" r="3" fill="#4a1cc8"/><circle cx="137.3" cy="226.2" r="5" fill="#4a1cc8"/><circle cx="142.1" cy="225.1" r="3" fill="#5020d0"/><circle cx="160.1" cy="226.6" r="4.9" fill="#4a1cc8"/><circle cx="132.4" cy="234.1" r="3.5" fill="#5020d0"/><circle cx="127.3" cy="234.1" r="3" fill="#4a1cc8"/><circle cx="172.7" cy="218" r="3.4" fill="#4a1cc8"/><circle cx="132.6" cy="198.1" r="5.5" fill="#4a1cc8"/><circle cx="156.3" cy="229.4" r="4.6" fill="#4a1cc8"/><circle cx="128.5" cy="225.8" r="3.6" fill="#4a1cc8"/><circle cx="137.2" cy="228.4" r="4.6" fill="#4a1cc8"/><circle cx="148.9" cy="260.8" r="4" fill="#5020d0"/><circle cx="128" cy="172.9" r="3.6" fill="#4a1cc8"/><circle cx="136.4" cy="235.4" r="3.3" fill="#5020d0"/><circle cx="161.7" cy="211.3" r="3" fill="#5020d0"/><circle cx="130.7" cy="246.2" r="5.4" fill="#4a1cc8"/><circle cx="137.9" cy="257.7" r="3" fill="#4a1cc8"/><circle cx="144.7" cy="237.3" r="3.7" fill="#5020d0"/><circle cx="137.2" cy="244.5" r="3.9" fill="#5020d0"/><circle cx="148.3" cy="235.4" r="3.5" fill="#4a1cc8"/><circle cx="122.8" cy="241.8" r="3" fill="#4a1cc8"/><circle cx="149.7" cy="254.8" r="3.1" fill="#4a1cc8"/><circle cx="140.4" cy="231.4" r="3.1" fill="#4a1cc8"/><circle cx="140.2" cy="190.2" r="3.1" fill="#4a1cc8"/><circle cx="132.1" cy="245.9" r="5.1" fill="#4a1cc8"/><circle cx="135.2" cy="243" r="3.1" fill="#4a1cc8"/><circle cx="136" cy="207.7" r="5" fill="#4a1cc8"/><circle cx="129.9" cy="186.5" r="5.2" fill="#4a1cc8"/><circle cx="135.1" cy="242.5" r="4.4" fill="#5020d0"/></g></g>
<clipPath id="pa2"><circle cx="330.5" cy="199.5" r="90.3"/></clipPath>
<circle cx="330.5" cy="199.5" r="90.3" fill="url(#gpb)" stroke="#d4d2dc" stroke-width="1.5"/>
<g clip-path="url(#pa2)"><g filter="url(#bc)"><circle cx="260.6" cy="210.8" r="1" fill="#8a74da"/><circle cx="266.4" cy="258.5" r="0.8" fill="#b3a6e6"/><circle cx="305.8" cy="136.5" r="0.9" fill="#8a74da"/><circle cx="382.9" cy="192.2" r="0.7" fill="#8a74da"/><circle cx="404.2" cy="228" r="0.6" fill="#a898e4"/><circle cx="297.9" cy="128.6" r="0.6" fill="#9d8ae0"/><circle cx="360.6" cy="135.2" r="0.6" fill="#b3a6e6"/><circle cx="358.2" cy="189.9" r="0.8" fill="#8a74da"/><circle cx="251" cy="179.4" r="0.9" fill="#9d8ae0"/><circle cx="272" cy="178.4" r="0.6" fill="#b3a6e6"/><circle cx="301.1" cy="147.4" r="1" fill="#9d8ae0"/><circle cx="314.6" cy="180.1" r="0.6" fill="#a898e4"/><circle cx="297.9" cy="240.8" r="1.1" fill="#a898e4"/><circle cx="362.4" cy="227.3" r="0.7" fill="#8a74da"/><circle cx="408.4" cy="213.4" r="0.8" fill="#9d8ae0"/><circle cx="340.4" cy="255.7" r="0.8" fill="#9d8ae0"/><circle cx="331.3" cy="158.5" r="0.6" fill="#a898e4"/><circle cx="375.2" cy="210" r="0.7" fill="#9d8ae0"/><circle cx="277.7" cy="194.8" r="0.7" fill="#b3a6e6"/><circle cx="246" cy="212.2" r="0.8" fill="#8a74da"/><circle cx="267.4" cy="213.7" r="0.6" fill="#8a74da"/><circle cx="336.6" cy="195.8" r="0.7" fill="#a898e4"/><circle cx="363.8" cy="269.8" r="0.9" fill="#8a74da"/><circle cx="267" cy="140.6" r="1.6" fill="#8a74da"/><circle cx="379.5" cy="206.9" r="1.2" fill="#a898e4"/><circle cx="303.7" cy="167.4" r="0.9" fill="#b3a6e6"/><circle cx="278.7" cy="202.8" r="1.1" fill="#b3a6e6"/><circle cx="358.2" cy="177.8" r="0.7" fill="#9d8ae0"/><circle cx="315.5" cy="283" r="0.9" fill="#b3a6e6"/><circle cx="319.2" cy="160.7" r="0.7" fill="#a898e4"/><circle cx="335.7" cy="200.4" r="0.6" fill="#a898e4"/><circle cx="292.9" cy="220.1" r="0.8" fill="#9d8ae0"/><circle cx="266.3" cy="174.1" r="1.4" fill="#a898e4"/><circle cx="334.2" cy="143.2" r="0.9" fill="#b3a6e6"/><circle cx="346.7" cy="135" r="0.7" fill="#a898e4"/><circle cx="295.5" cy="158.2" r="0.6" fill="#8a74da"/><circle cx="394.7" cy="155.2" r="1.4" fill="#b3a6e6"/><circle cx="254.8" cy="182.6" r="0.7" fill="#9d8ae0"/><circle cx="321.1" cy="162.7" r="0.7" fill="#b3a6e6"/><circle cx="308.3" cy="178.1" r="0.9" fill="#b3a6e6"/><circle cx="310.1" cy="188.1" r="0.7" fill="#9d8ae0"/><circle cx="317.5" cy="169.3" r="0.6" fill="#a898e4"/><circle cx="316.7" cy="233.9" r="1.1" fill="#b3a6e6"/><circle cx="320.5" cy="210.8" r="0.8" fill="#b3a6e6"/><circle cx="309.8" cy="201.4" r="1" fill="#b3a6e6"/><circle cx="334.2" cy="249.3" r="1.5" fill="#9d8ae0"/><circle cx="382" cy="187.6" r="1.3" fill="#b3a6e6"/><circle cx="312.6" cy="259.6" r="0.6" fill="#a898e4"/><circle cx="361.6" cy="250.2" r="1" fill="#8a74da"/><circle cx="255.5" cy="218.7" r="0.6" fill="#8a74da"/><circle cx="269.5" cy="239.6" r="1.2" fill="#b3a6e6"/><circle cx="285.9" cy="125.9" r="0.9" fill="#a898e4"/><circle cx="286.5" cy="259.9" r="0.7" fill="#b3a6e6"/><circle cx="385.5" cy="157.2" r="0.6" fill="#b3a6e6"/><circle cx="340.3" cy="263.2" r="0.7" fill="#9d8ae0"/><circle cx="282.9" cy="222.2" r="0.8" fill="#a898e4"/><circle cx="267.9" cy="251.9" r="1.4" fill="#a898e4"/><circle cx="357" cy="235.2" r="0.6" fill="#b3a6e6"/><circle cx="272" cy="235.4" r="0.7" fill="#b3a6e6"/><circle cx="337.7" cy="138.7" r="1.5" fill="#8a74da"/><circle cx="349.6" cy="234.1" r="0.7" fill="#a898e4"/><circle cx="310.6" cy="196.6" r="1.3" fill="#a898e4"/><circle cx="413.4" cy="189.2" r="1.2" fill="#a898e4"/><circle cx="350.5" cy="164.7" r="1.4" fill="#9d8ae0"/><circle cx="313.6" cy="193.3" r="1.3" fill="#8a74da"/><circle cx="368.8" cy="262.7" r="0.7" fill="#8a74da"/><circle cx="406.8" cy="190.6" r="0.9" fill="#9d8ae0"/><circle cx="308.6" cy="182.1" r="1.1" fill="#8a74da"/><circle cx="270.4" cy="219.7" r="1" fill="#b3a6e6"/><circle cx="260.9" cy="197.2" r="0.8" fill="#b3a6e6"/><circle cx="380.2" cy="133.6" r="0.6" fill="#a898e4"/><circle cx="364.6" cy="203.9" r="1.2" fill="#a898e4"/><circle cx="299.3" cy="120" r="1.1" fill="#b3a6e6"/><circle cx="248.8" cy="173.7" r="0.7" fill="#9d8ae0"/><circle cx="347.2" cy="172.9" r="0.6" fill="#9d8ae0"/><circle cx="261.1" cy="235.9" r="1.3" fill="#8a74da"/><circle cx="401.5" cy="213.5" r="0.9" fill="#9d8ae0"/><circle cx="274.8" cy="162.5" r="1.2" fill="#8a74da"/><circle cx="281.4" cy="211.8" r="1" fill="#a898e4"/><circle cx="347.4" cy="147.6" r="1" fill="#a898e4"/><circle cx="413.4" cy="174.1" r="1.2" fill="#a898e4"/><circle cx="349.7" cy="223.3" r="0.8" fill="#8a74da"/><circle cx="325.7" cy="191" r="0.7" fill="#b3a6e6"/><circle cx="283.7" cy="219.4" r="0.8" fill="#a898e4"/><circle cx="301.7" cy="245.1" r="1.3" fill="#b3a6e6"/><circle cx="285.3" cy="268.3" r="1" fill="#a898e4"/><circle cx="377.4" cy="219.6" r="0.7" fill="#8a74da"/><circle cx="368.1" cy="139" r="0.8" fill="#a898e4"/><circle cx="329.7" cy="256" r="0.6" fill="#b3a6e6"/><circle cx="360.6" cy="256.7" r="1" fill="#a898e4"/><circle cx="295.4" cy="233.1" r="0.7" fill="#a898e4"/><circle cx="393.8" cy="176" r="0.6" fill="#b3a6e6"/><circle cx="395.5" cy="145.3" r="1" fill="#a898e4"/><circle cx="351.2" cy="174" r="0.7" fill="#b3a6e6"/><circle cx="378.7" cy="212.8" r="0.9" fill="#9d8ae0"/><circle cx="354" cy="173.1" r="0.8" fill="#9d8ae0"/><circle cx="313.8" cy="167.4" r="0.8" fill="#a898e4"/><circle cx="396.5" cy="229.2" r="0.6" fill="#a898e4"/><circle cx="285.4" cy="146.3" r="0.9" fill="#b3a6e6"/><circle cx="328.5" cy="150.9" r="0.6" fill="#b3a6e6"/><circle cx="284.2" cy="237" r="0.7" fill="#8a74da"/><circle cx="334.8" cy="262.7" r="1.1" fill="#a898e4"/><circle cx="300.8" cy="237.6" r="0.6" fill="#a898e4"/><circle cx="264.3" cy="254.1" r="1.4" fill="#8a74da"/><circle cx="307.3" cy="141" r="0.9" fill="#8a74da"/><circle cx="327.3" cy="255.6" r="0.6" fill="#9d8ae0"/><circle cx="269.6" cy="218" r="0.7" fill="#8a74da"/><circle cx="387.9" cy="254.7" r="0.7" fill="#b3a6e6"/><circle cx="321.1" cy="224.4" r="0.6" fill="#8a74da"/><circle cx="284.2" cy="243" r="0.7" fill="#a898e4"/><circle cx="337.3" cy="169.3" r="0.6" fill="#9d8ae0"/><circle cx="342" cy="156.4" r="0.9" fill="#b3a6e6"/><circle cx="383.7" cy="242.8" r="0.6" fill="#9d8ae0"/><circle cx="318.7" cy="204.5" r="0.8" fill="#a898e4"/><circle cx="344.3" cy="178.1" r="0.9" fill="#b3a6e6"/><circle cx="256.3" cy="169.2" r="1.4" fill="#b3a6e6"/><circle cx="253.2" cy="177.6" r="0.7" fill="#8a74da"/><circle cx="407.5" cy="211.4" r="0.9" fill="#a898e4"/><circle cx="371.4" cy="197" r="0.8" fill="#b3a6e6"/><circle cx="254.4" cy="187.8" r="1.1" fill="#a898e4"/><circle cx="299.6" cy="156.9" r="2.2" fill="#5b2bd0"/><circle cx="285.6" cy="134.1" r="2" fill="#6a3ad6"/><circle cx="361.6" cy="212.8" r="3.5" fill="#6233cc"/><circle cx="294.5" cy="192" r="3.7" fill="#4f22c4"/><circle cx="371.4" cy="193.8" r="2.4" fill="#6a3ad6"/><circle cx="317.1" cy="264" r="3.2" fill="#6a3ad6"/><circle cx="364.4" cy="131.9" r="2.2" fill="#7446d8"/><circle cx="353.7" cy="281.6" r="4.2" fill="#4f22c4"/><circle cx="313.7" cy="220.3" r="2.6" fill="#7446d8"/><circle cx="319.7" cy="213.3" r="2.2" fill="#6233cc"/><circle cx="283.7" cy="154.4" r="2" fill="#6233cc"/><circle cx="364.5" cy="164.2" r="4.2" fill="#5b2bd0"/><circle cx="367.7" cy="178.5" r="2.7" fill="#6a3ad6"/><circle cx="349.8" cy="182.4" r="4.3" fill="#6233cc"/><circle cx="356.4" cy="250.6" r="3.7" fill="#4f22c4"/><circle cx="407.6" cy="198.7" r="2.5" fill="#4f22c4"/><circle cx="322.4" cy="217.6" r="4.3" fill="#4f22c4"/><circle cx="298.2" cy="148.4" r="2.1" fill="#6a3ad6"/><circle cx="273" cy="144.8" r="3.1" fill="#7446d8"/><circle cx="397.5" cy="148.4" r="2.7" fill="#7446d8"/><circle cx="277.2" cy="188" r="2.3" fill="#6a3ad6"/><circle cx="371.1" cy="140.2" r="2.9" fill="#6a3ad6"/><circle cx="257.9" cy="185.6" r="4.4" fill="#5b2bd0"/><circle cx="347.2" cy="252.9" r="2.1" fill="#6233cc"/><circle cx="384.5" cy="225.2" r="4.1" fill="#7446d8"/><circle cx="273.3" cy="193.5" r="2.4" fill="#6a3ad6"/><circle cx="369.7" cy="269.6" r="2.8" fill="#6a3ad6"/><circle cx="311" cy="172.7" r="2.7" fill="#6a3ad6"/><circle cx="319" cy="131.4" r="3.1" fill="#5b2bd0"/><circle cx="338.4" cy="273.7" r="2.6" fill="#6a3ad6"/><circle cx="344.5" cy="221.4" r="4.2" fill="#6233cc"/><circle cx="395.9" cy="197.2" r="2.1" fill="#7446d8"/><circle cx="353.6" cy="116.6" r="4" fill="#6233cc"/><circle cx="289.1" cy="186.3" r="3.8" fill="#4f22c4"/><circle cx="330.4" cy="254.2" r="2.8" fill="#6233cc"/><circle cx="382.1" cy="150.1" r="2.5" fill="#5b2bd0"/><circle cx="270.5" cy="218.7" r="4.3" fill="#7446d8"/><circle cx="338" cy="134.8" r="3.1" fill="#5b2bd0"/><circle cx="405.2" cy="203.4" r="2" fill="#4f22c4"/><circle cx="306.2" cy="190.2" r="3.1" fill="#6233cc"/><circle cx="355.6" cy="142.4" r="3.6" fill="#5b2bd0"/><circle cx="353.3" cy="119.1" r="2" fill="#4f22c4"/><circle cx="339.4" cy="198.2" r="2" fill="#5b2bd0"/><circle cx="322.3" cy="281.4" r="2.2" fill="#4f22c4"/><circle cx="382.5" cy="247.6" r="2.1" fill="#6233cc"/><circle cx="338.4" cy="173.5" r="3.2" fill="#7446d8"/><circle cx="298.5" cy="232.8" r="2.3" fill="#5b2bd0"/><circle cx="366.4" cy="227.7" r="3.2" fill="#4f22c4"/><circle cx="341" cy="140" r="2.3" fill="#5b2bd0"/><circle cx="336.9" cy="203.3" r="2.1" fill="#7446d8"/><circle cx="318.2" cy="164.5" r="5.1" fill="#7446d8"/><circle cx="328.9" cy="181.4" r="3.4" fill="#5b2bd0"/><circle cx="331.2" cy="238.3" r="3.1" fill="#7446d8"/><circle cx="329.9" cy="275.3" r="4.8" fill="#7446d8"/><circle cx="320.9" cy="228.9" r="4.3" fill="#5b2bd0"/><circle cx="325.8" cy="209.7" r="3.6" fill="#6233cc"/><circle cx="319.5" cy="246" r="3.1" fill="#6a3ad6"/><circle cx="324.2" cy="185.1" r="3" fill="#4f22c4"/><circle cx="323" cy="209.3" r="3.5" fill="#4f22c4"/><circle cx="326.5" cy="219.9" r="3" fill="#4f22c4"/><circle cx="319" cy="218.6" r="3" fill="#6a3ad6"/><circle cx="324.8" cy="251.5" r="5.4" fill="#6233cc"/><circle cx="325.7" cy="171.8" r="3.1" fill="#5b2bd0"/><circle cx="330.9" cy="223.6" r="4.1" fill="#6a3ad6"/></g></g>
<clipPath id="pa3"><circle cx="519.5" cy="199.7" r="90.3"/></clipPath>
<circle cx="519.5" cy="199.7" r="90.3" fill="url(#gpb)" stroke="#d0cfd8" stroke-width="1.5"/>
<g clip-path="url(#pa3)"><g filter="url(#bc)"><circle cx="516.9" cy="260.3" r="1.3" fill="#8a74da"/><circle cx="493.8" cy="173" r="1.7" fill="#8a74da"/><circle cx="544.7" cy="240.5" r="0.7" fill="#a898e4"/><circle cx="534.8" cy="214.8" r="1.3" fill="#9d8ae0"/><circle cx="576.3" cy="209" r="0.6" fill="#a898e4"/><circle cx="542.4" cy="164.8" r="1.9" fill="#a898e4"/><circle cx="506" cy="230.1" r="1.7" fill="#7a62d4"/><circle cx="490.3" cy="198.4" r="0.8" fill="#b3a6e6"/><circle cx="491.3" cy="176" r="0.8" fill="#7a62d4"/><circle cx="545.6" cy="122.7" r="1.3" fill="#7a62d4"/><circle cx="451.7" cy="151" r="0.9" fill="#b3a6e6"/><circle cx="495.1" cy="205.7" r="0.6" fill="#a898e4"/><circle cx="518.8" cy="247.2" r="1.1" fill="#b3a6e6"/><circle cx="549.7" cy="184.8" r="1" fill="#7a62d4"/><circle cx="521.3" cy="232.7" r="0.8" fill="#9d8ae0"/><circle cx="481.2" cy="230.8" r="0.9" fill="#9d8ae0"/><circle cx="505.9" cy="138.7" r="0.6" fill="#8a74da"/><circle cx="473.1" cy="212.3" r="0.9" fill="#a898e4"/><circle cx="536.1" cy="239.6" r="1.7" fill="#a898e4"/><circle cx="536.6" cy="271.7" r="0.8" fill="#8a74da"/><circle cx="557.6" cy="182.7" r="0.7" fill="#b3a6e6"/><circle cx="529.4" cy="254.8" r="1.1" fill="#7a62d4"/><circle cx="558" cy="221.9" r="1.1" fill="#8a74da"/><circle cx="514.4" cy="230.1" r="1.3" fill="#9d8ae0"/><circle cx="534.2" cy="200.4" r="0.9" fill="#7a62d4"/><circle cx="484.3" cy="197.9" r="0.6" fill="#b3a6e6"/><circle cx="539.2" cy="170.7" r="1" fill="#8a74da"/><circle cx="534.8" cy="211.5" r="0.7" fill="#a898e4"/><circle cx="476.8" cy="192" r="1.8" fill="#7a62d4"/><circle cx="481.4" cy="256.8" r="0.6" fill="#a898e4"/><circle cx="541.1" cy="245.6" r="1" fill="#b3a6e6"/><circle cx="522.9" cy="233.2" r="1.5" fill="#b3a6e6"/><circle cx="453.6" cy="211.1" r="1.4" fill="#a898e4"/><circle cx="469.6" cy="238.7" r="0.7" fill="#b3a6e6"/><circle cx="495.6" cy="195.9" r="0.7" fill="#a898e4"/><circle cx="480.9" cy="231.7" r="0.9" fill="#a898e4"/><circle cx="509.3" cy="219.9" r="1.4" fill="#7a62d4"/><circle cx="557.9" cy="189.6" r="0.7" fill="#b3a6e6"/><circle cx="481.6" cy="216.6" r="0.8" fill="#a898e4"/><circle cx="446.8" cy="197.9" r="0.6" fill="#9d8ae0"/><circle cx="562.1" cy="250.2" r="0.7" fill="#a898e4"/><circle cx="499.7" cy="195.7" r="0.8" fill="#9d8ae0"/><circle cx="498.7" cy="238.2" r="1.7" fill="#b3a6e6"/><circle cx="555.2" cy="222.4" r="0.6" fill="#9d8ae0"/><circle cx="491.5" cy="272.4" r="1" fill="#8a74da"/><circle cx="571.5" cy="172.6" r="1.8" fill="#8a74da"/><circle cx="578.3" cy="251.3" r="0.6" fill="#a898e4"/><circle cx="526.2" cy="190.7" r="1.3" fill="#8a74da"/><circle cx="452.5" cy="202.7" r="0.9" fill="#7a62d4"/><circle cx="511.7" cy="218.4" r="1" fill="#9d8ae0"/><circle cx="531.7" cy="223.2" r="1" fill="#a898e4"/><circle cx="494.7" cy="206" r="1.9" fill="#a898e4"/><circle cx="517.5" cy="242.5" r="1.8" fill="#8a74da"/><circle cx="517.4" cy="196.6" r="1.3" fill="#9d8ae0"/><circle cx="574.1" cy="211.6" r="0.9" fill="#7a62d4"/><circle cx="564" cy="205.5" r="1.3" fill="#9d8ae0"/><circle cx="539.4" cy="229.1" r="2" fill="#b3a6e6"/><circle cx="506.3" cy="223.4" r="0.6" fill="#a898e4"/><circle cx="526.8" cy="211.9" r="0.7" fill="#a898e4"/><circle cx="590.5" cy="189.2" r="0.8" fill="#8a74da"/><circle cx="570.3" cy="209.4" r="0.9" fill="#a898e4"/><circle cx="541.6" cy="246.5" r="1.9" fill="#b3a6e6"/><circle cx="529.6" cy="240.8" r="0.9" fill="#8a74da"/><circle cx="583.6" cy="224.3" r="0.9" fill="#7a62d4"/><circle cx="525.6" cy="225.1" r="1.1" fill="#a898e4"/><circle cx="576.2" cy="245.3" r="1.1" fill="#9d8ae0"/><circle cx="530.5" cy="263.3" r="1.2" fill="#b3a6e6"/><circle cx="555.9" cy="218.4" r="1.4" fill="#8a74da"/><circle cx="507.1" cy="254.2" r="1.2" fill="#7a62d4"/><circle cx="474.5" cy="235" r="0.7" fill="#9d8ae0"/><circle cx="502.1" cy="196.7" r="1" fill="#9d8ae0"/><circle cx="462.5" cy="182.4" r="1.8" fill="#8a74da"/><circle cx="491" cy="187.2" r="2" fill="#8a74da"/><circle cx="561.8" cy="184.7" r="0.6" fill="#8a74da"/><circle cx="569.8" cy="187.2" r="1.6" fill="#a898e4"/><circle cx="511.4" cy="165" r="1.1" fill="#a898e4"/><circle cx="515.9" cy="195.6" r="0.6" fill="#9d8ae0"/><circle cx="559.8" cy="227.6" r="1.1" fill="#7a62d4"/><circle cx="552.5" cy="217.5" r="0.8" fill="#7a62d4"/><circle cx="533.5" cy="177.1" r="1.1" fill="#b3a6e6"/><circle cx="573.6" cy="237.7" r="1" fill="#a898e4"/><circle cx="495.9" cy="252.3" r="1.8" fill="#a898e4"/><circle cx="511" cy="220.8" r="0.9" fill="#b3a6e6"/><circle cx="498.2" cy="281.5" r="0.6" fill="#b3a6e6"/><circle cx="493.1" cy="235.2" r="1.7" fill="#9d8ae0"/><circle cx="537.8" cy="222.4" r="0.6" fill="#a898e4"/><circle cx="576.8" cy="208" r="1" fill="#b3a6e6"/><circle cx="542.4" cy="200.8" r="0.7" fill="#9d8ae0"/><circle cx="519.4" cy="164.9" r="1.9" fill="#7a62d4"/><circle cx="503.8" cy="226.2" r="0.6" fill="#9d8ae0"/><circle cx="529.8" cy="229" r="0.6" fill="#b3a6e6"/><circle cx="462.5" cy="185.2" r="1.2" fill="#b3a6e6"/><circle cx="503.1" cy="157.3" r="1.6" fill="#8a74da"/><circle cx="540.8" cy="230.8" r="0.6" fill="#7a62d4"/><circle cx="528.4" cy="159.3" r="0.6" fill="#b3a6e6"/><circle cx="511" cy="237" r="0.7" fill="#7a62d4"/><circle cx="512.8" cy="179.2" r="0.7" fill="#8a74da"/><circle cx="555.2" cy="238.3" r="0.6" fill="#9d8ae0"/><circle cx="541.9" cy="206.4" r="1.5" fill="#8a74da"/><circle cx="509.7" cy="201.3" r="0.9" fill="#7a62d4"/><circle cx="556.6" cy="242.2" r="1.1" fill="#b3a6e6"/><circle cx="541.8" cy="239.3" r="0.9" fill="#a898e4"/><circle cx="553" cy="247.4" r="0.9" fill="#9d8ae0"/><circle cx="526.7" cy="149.2" r="0.7" fill="#9d8ae0"/><circle cx="505" cy="220" r="0.6" fill="#7a62d4"/><circle cx="537.1" cy="234.5" r="0.9" fill="#b3a6e6"/><circle cx="547.7" cy="215.4" r="1.4" fill="#8a74da"/><circle cx="558.2" cy="244.5" r="1" fill="#b3a6e6"/><circle cx="569.8" cy="191.7" r="1.1" fill="#9d8ae0"/><circle cx="481.6" cy="213.8" r="1.5" fill="#7a62d4"/><circle cx="570.6" cy="193.9" r="0.8" fill="#b3a6e6"/><circle cx="502.5" cy="240.3" r="0.7" fill="#7a62d4"/><circle cx="520.4" cy="231.1" r="1.9" fill="#7a62d4"/><circle cx="551.3" cy="222.5" r="0.6" fill="#7a62d4"/><circle cx="511" cy="159.7" r="1.7" fill="#7a62d4"/><circle cx="565.8" cy="225.5" r="0.6" fill="#b3a6e6"/><circle cx="542.5" cy="218.8" r="0.9" fill="#a898e4"/><circle cx="543.4" cy="276.8" r="0.8" fill="#7a62d4"/><circle cx="547.1" cy="258.1" r="0.9" fill="#7a62d4"/><circle cx="496.1" cy="231.5" r="0.7" fill="#8a74da"/><circle cx="490.6" cy="198.6" r="0.6" fill="#9d8ae0"/><circle cx="474.1" cy="228.7" r="1.1" fill="#b3a6e6"/><circle cx="550.2" cy="192.6" r="1.6" fill="#b3a6e6"/><circle cx="587.3" cy="255.1" r="1.1" fill="#b3a6e6"/><circle cx="551.9" cy="231.1" r="1.3" fill="#9d8ae0"/><circle cx="569.4" cy="232.7" r="1.2" fill="#8a74da"/><circle cx="518.3" cy="204.3" r="1.3" fill="#7a62d4"/><circle cx="542.6" cy="185.7" r="0.6" fill="#9d8ae0"/><circle cx="533.9" cy="261.2" r="0.9" fill="#8a74da"/><circle cx="551.5" cy="257.2" r="1.3" fill="#9d8ae0"/><circle cx="524.4" cy="222.4" r="0.6" fill="#b3a6e6"/><circle cx="562.6" cy="200.3" r="0.9" fill="#7a62d4"/><circle cx="517.2" cy="200" r="1.5" fill="#9d8ae0"/><circle cx="517.5" cy="200.1" r="1" fill="#8a74da"/><circle cx="543.2" cy="278" r="1.4" fill="#b3a6e6"/><circle cx="485.7" cy="175.6" r="1.7" fill="#a898e4"/><circle cx="545.9" cy="246.9" r="1.2" fill="#8a74da"/><circle cx="562" cy="170.6" r="1.1" fill="#7a62d4"/><circle cx="508" cy="175.8" r="0.9" fill="#8a74da"/><circle cx="494.5" cy="231.2" r="1.4" fill="#a898e4"/><circle cx="471.8" cy="227.8" r="0.6" fill="#b3a6e6"/><circle cx="473.8" cy="225.1" r="1.5" fill="#8a74da"/><circle cx="515.3" cy="262.5" r="0.9" fill="#8a74da"/><circle cx="481.5" cy="195.6" r="1.8" fill="#7a62d4"/><circle cx="554.9" cy="183.5" r="1.8" fill="#8a74da"/><circle cx="499.8" cy="222.8" r="0.9" fill="#b3a6e6"/><circle cx="517.3" cy="229" r="1.7" fill="#b3a6e6"/><circle cx="576.6" cy="222.6" r="0.6" fill="#a898e4"/><circle cx="563.5" cy="239.4" r="1.4" fill="#8a74da"/><circle cx="518.7" cy="174.8" r="1.1" fill="#7a62d4"/><circle cx="506.3" cy="141.5" r="1.7" fill="#6e55d0"/><circle cx="479.4" cy="263" r="1" fill="#b3a6e6"/><circle cx="526.6" cy="119.2" r="2.2" fill="#6e55d0"/><circle cx="532.4" cy="249" r="0.8" fill="#8a74da"/><circle cx="579" cy="229.7" r="1.6" fill="#a898e4"/><circle cx="517" cy="128.4" r="2" fill="#b3a6e6"/><circle cx="542.6" cy="261.9" r="1.1" fill="#9d8ae0"/><circle cx="571.3" cy="227.2" r="0.9" fill="#9d8ae0"/><circle cx="496.3" cy="147.6" r="0.8" fill="#6e55d0"/><circle cx="495.5" cy="265.4" r="1.5" fill="#a898e4"/><circle cx="604.2" cy="205.4" r="0.8" fill="#8a74da"/><circle cx="502.7" cy="196.8" r="1" fill="#b3a6e6"/><circle cx="576.3" cy="200" r="1.6" fill="#b3a6e6"/><circle cx="552" cy="210.3" r="1.8" fill="#b3a6e6"/><circle cx="520.2" cy="281" r="1.3" fill="#8a74da"/><circle cx="567.9" cy="206.7" r="0.9" fill="#8a74da"/><circle cx="529.3" cy="250.9" r="2.2" fill="#b3a6e6"/><circle cx="557.3" cy="141.5" r="0.8" fill="#8a74da"/><circle cx="521.1" cy="155.4" r="2.3" fill="#6e55d0"/><circle cx="514.5" cy="157.1" r="0.8" fill="#b3a6e6"/><circle cx="475.2" cy="216.5" r="1.4" fill="#9d8ae0"/><circle cx="503.1" cy="156.2" r="0.9" fill="#b3a6e6"/><circle cx="578.8" cy="257.2" r="0.8" fill="#8a74da"/><circle cx="549.7" cy="227.1" r="1.6" fill="#a898e4"/><circle cx="488.9" cy="222.3" r="1.3" fill="#9d8ae0"/><circle cx="563.4" cy="223.5" r="1.1" fill="#b3a6e6"/><circle cx="501.3" cy="215.3" r="1.4" fill="#6e55d0"/><circle cx="540.2" cy="242.5" r="1.7" fill="#b3a6e6"/><circle cx="458.5" cy="181.5" r="2.3" fill="#9d8ae0"/><circle cx="471.5" cy="263.1" r="1.5" fill="#a898e4"/><circle cx="478.5" cy="252" r="1.1" fill="#6e55d0"/><circle cx="493.2" cy="222.2" r="1.6" fill="#b3a6e6"/><circle cx="550.6" cy="124.9" r="0.8" fill="#8a74da"/><circle cx="576.6" cy="256.3" r="1.1" fill="#b3a6e6"/><circle cx="481.6" cy="127.8" r="1.1" fill="#9d8ae0"/><circle cx="557.4" cy="155.2" r="1.1" fill="#a898e4"/><circle cx="555.7" cy="129.2" r="1.2" fill="#a898e4"/><circle cx="571.6" cy="188" r="0.9" fill="#a898e4"/><circle cx="571.4" cy="143.3" r="2" fill="#9d8ae0"/><circle cx="509.3" cy="223.2" r="0.8" fill="#8a74da"/><circle cx="522" cy="118.5" r="2.2" fill="#a898e4"/><circle cx="553.7" cy="159.5" r="1.2" fill="#8a74da"/><circle cx="466.2" cy="173.2" r="1" fill="#b3a6e6"/><circle cx="588.8" cy="248.9" r="2.5" fill="#8a74da"/><circle cx="540.9" cy="122.3" r="0.8" fill="#9d8ae0"/><circle cx="488.4" cy="218.2" r="0.9" fill="#8a74da"/><circle cx="568.6" cy="188.9" r="1.3" fill="#b3a6e6"/><circle cx="489.6" cy="194.9" r="1.4" fill="#b3a6e6"/><circle cx="529.4" cy="182" r="2.4" fill="#9d8ae0"/><circle cx="571.7" cy="159.4" r="0.9" fill="#9d8ae0"/></g></g>
<clipPath id="pa4"><circle cx="142.1" cy="396.5" r="90.7"/></clipPath>
<circle cx="142.1" cy="396.5" r="90.7" fill="url(#gpb)" stroke="#d6d4de" stroke-width="1.5"/>
<g clip-path="url(#pa4)"><g filter="url(#bc)"><circle cx="199.7" cy="442.2" r="1.2" fill="#5b30dc"/><circle cx="136.2" cy="440.5" r="1.3" fill="#8c78dc"/><circle cx="85.2" cy="415.1" r="1.6" fill="#6638e0"/><circle cx="147.3" cy="366.8" r="0.8" fill="#6638e0"/><circle cx="114" cy="431.3" r="1.4" fill="#8c78dc"/><circle cx="107.1" cy="392.9" r="1.2" fill="#6638e0"/><circle cx="178.2" cy="457.4" r="0.8" fill="#6638e0"/><circle cx="187.3" cy="404.5" r="1.5" fill="#6638e0"/><circle cx="70.3" cy="446.2" r="1" fill="#8c78dc"/><circle cx="200.3" cy="435.7" r="1.6" fill="#8c78dc"/><circle cx="82.9" cy="359.4" r="0.8" fill="#5b30dc"/><circle cx="140.9" cy="335.3" r="1.3" fill="#6638e0"/><circle cx="102.9" cy="408.5" r="1.4" fill="#8c78dc"/><circle cx="141.2" cy="427" r="1.8" fill="#6638e0"/><circle cx="139.3" cy="410.9" r="1.3" fill="#5b30dc"/><circle cx="115.9" cy="334.7" r="1" fill="#8c78dc"/><circle cx="168.9" cy="444" r="0.9" fill="#6638e0"/><circle cx="79.7" cy="422.6" r="0.8" fill="#6638e0"/><circle cx="95.9" cy="432.8" r="1.2" fill="#6638e0"/><circle cx="172.4" cy="410" r="1.3" fill="#8c78dc"/><circle cx="67.8" cy="425.2" r="1" fill="#6638e0"/><circle cx="215.4" cy="406.1" r="0.9" fill="#6638e0"/><circle cx="138" cy="444.5" r="0.8" fill="#8c78dc"/><circle cx="69.3" cy="367.7" r="0.8" fill="#5b30dc"/><circle cx="190" cy="407.1" r="1.8" fill="#8c78dc"/><circle cx="78.8" cy="393.8" r="1.4" fill="#6638e0"/><circle cx="206.9" cy="452.7" r="1.4" fill="#5b30dc"/><circle cx="152.4" cy="477.8" r="0.9" fill="#5b30dc"/><circle cx="161" cy="466.3" r="0.9" fill="#8c78dc"/><circle cx="146" cy="343.4" r="1.1" fill="#8c78dc"/><circle cx="137.8" cy="318.8" r="0.8" fill="#8c78dc"/><circle cx="170.9" cy="351.9" r="0.9" fill="#6638e0"/><circle cx="68.2" cy="374.5" r="0.9" fill="#8c78dc"/><circle cx="211.1" cy="410.4" r="1" fill="#6638e0"/><circle cx="208.7" cy="438.6" r="0.8" fill="#5b30dc"/><circle cx="130.4" cy="365.8" r="0.9" fill="#6638e0"/><circle cx="200.6" cy="455.5" r="0.8" fill="#5b30dc"/><circle cx="139.8" cy="449.7" r="1" fill="#5b30dc"/><circle cx="117.3" cy="405.4" r="1.5" fill="#5b30dc"/><circle cx="185.5" cy="453.6" r="0.8" fill="#8c78dc"/><circle cx="192.8" cy="335.3" r="1.8" fill="#8c78dc"/><circle cx="105.9" cy="341.9" r="0.8" fill="#6638e0"/><circle cx="57.9" cy="413.4" r="0.9" fill="#5b30dc"/><circle cx="156.4" cy="380" r="1.3" fill="#8c78dc"/><circle cx="115.8" cy="389.3" r="1.6" fill="#6638e0"/><circle cx="158" cy="371.3" r="0.8" fill="#8c78dc"/><circle cx="162.9" cy="386.9" r="1.4" fill="#6638e0"/><circle cx="225.7" cy="420.7" r="1.6" fill="#5b30dc"/><circle cx="200.9" cy="398.3" r="1.4" fill="#6638e0"/><circle cx="139.6" cy="384.4" r="0.8" fill="#6638e0"/><circle cx="142.9" cy="468.9" r="1.2" fill="#5b30dc"/><circle cx="67.4" cy="373.1" r="1.3" fill="#5b30dc"/><circle cx="217" cy="360.3" r="1.5" fill="#6638e0"/><circle cx="107" cy="428.5" r="1.3" fill="#6638e0"/><circle cx="174" cy="402.4" r="1.7" fill="#8c78dc"/><circle cx="126.9" cy="434.3" r="1.1" fill="#6638e0"/><circle cx="211.7" cy="407.8" r="1.8" fill="#6638e0"/><circle cx="72.9" cy="360.1" r="1" fill="#8c78dc"/><circle cx="149.4" cy="310.2" r="1.7" fill="#5b30dc"/><circle cx="89.1" cy="448.4" r="0.9" fill="#8c78dc"/><circle cx="217.5" cy="384.1" r="1.5" fill="#5b30dc"/><circle cx="139.5" cy="477.8" r="0.9" fill="#5b30dc"/><circle cx="73.8" cy="417.1" r="0.8" fill="#5b30dc"/><circle cx="109.2" cy="331.7" r="1.2" fill="#6638e0"/><circle cx="61.6" cy="417.4" r="0.8" fill="#5b30dc"/><circle cx="131.3" cy="360.5" r="0.9" fill="#8c78dc"/><circle cx="150.5" cy="424" r="0.9" fill="#5b30dc"/><circle cx="143.6" cy="344.8" r="1" fill="#6638e0"/><circle cx="207.3" cy="417.6" r="1" fill="#6638e0"/><circle cx="94.2" cy="403.9" r="0.8" fill="#5b30dc"/><circle cx="70.3" cy="387" r="2.5" fill="#4f28d0"/><circle cx="121.7" cy="465.4" r="3.2" fill="#5b30dc"/><circle cx="146.1" cy="383.6" r="2.6" fill="#5b30dc"/><circle cx="224.2" cy="395" r="2.1" fill="#6638e0"/><circle cx="181.3" cy="341.7" r="3.5" fill="#6638e0"/><circle cx="161.3" cy="435.6" r="3.6" fill="#4f28d0"/><circle cx="94.5" cy="459.9" r="4.2" fill="#6638e0"/><circle cx="155.6" cy="407.7" r="3.7" fill="#6638e0"/><circle cx="160.5" cy="431" r="3.4" fill="#5b30dc"/><circle cx="66.9" cy="390.7" r="3.9" fill="#6638e0"/><circle cx="117.7" cy="380.1" r="3.3" fill="#6638e0"/><circle cx="210.1" cy="391.7" r="3.4" fill="#4f28d0"/><circle cx="177.1" cy="325.2" r="2.1" fill="#4f28d0"/><circle cx="79.9" cy="379.1" r="4.1" fill="#4f28d0"/><circle cx="96.3" cy="441.2" r="2" fill="#4f28d0"/><circle cx="112.2" cy="400.9" r="3.3" fill="#5b30dc"/><circle cx="188.5" cy="348.3" r="2.1" fill="#5b30dc"/><circle cx="185.8" cy="445.1" r="2.2" fill="#4f28d0"/><circle cx="207.9" cy="424.7" r="4.1" fill="#6638e0"/><circle cx="187" cy="439.8" r="3.6" fill="#5b30dc"/><circle cx="59.1" cy="420.8" r="3.3" fill="#4f28d0"/><circle cx="102.9" cy="447.3" r="2.2" fill="#5b30dc"/><circle cx="103.6" cy="387.9" r="2.6" fill="#6638e0"/><circle cx="64.7" cy="390.8" r="3.9" fill="#6638e0"/><circle cx="109" cy="413.1" r="4" fill="#6638e0"/><circle cx="99.6" cy="352.9" r="2.1" fill="#4f28d0"/><circle cx="186.5" cy="359.3" r="3.3" fill="#4f28d0"/><circle cx="71.4" cy="377.6" r="2.2" fill="#5b30dc"/><circle cx="156.1" cy="358.2" r="3.1" fill="#4f28d0"/><circle cx="173.7" cy="426" r="2.9" fill="#5b30dc"/><circle cx="176.2" cy="439.6" r="2" fill="#5b30dc"/><circle cx="217.4" cy="401.3" r="3" fill="#6638e0"/><circle cx="187.1" cy="406.4" r="2.1" fill="#6638e0"/><circle cx="183.1" cy="387.3" r="3.4" fill="#5b30dc"/><circle cx="222.8" cy="398" r="2.4" fill="#4f28d0"/><circle cx="133.1" cy="457.1" r="3.3" fill="#4f28d0"/><circle cx="220.7" cy="421.8" r="2.5" fill="#4f28d0"/><circle cx="136.7" cy="352.1" r="4" fill="#5b30dc"/><circle cx="58.5" cy="394.1" r="2.2" fill="#5b30dc"/><circle cx="86.3" cy="398.7" r="2.5" fill="#4f28d0"/><circle cx="116.2" cy="447.4" r="2.2" fill="#6638e0"/><circle cx="154" cy="376.7" r="2.9" fill="#6638e0"/><circle cx="174.5" cy="410.2" r="2.1" fill="#6638e0"/><circle cx="62.3" cy="425.6" r="2.3" fill="#6638e0"/><circle cx="208.3" cy="397.9" r="3.6" fill="#5b30dc"/><circle cx="127.7" cy="457.4" r="2.7" fill="#4f28d0"/><circle cx="138.3" cy="335.8" r="4" fill="#6638e0"/><circle cx="128.9" cy="338.9" r="2.3" fill="#4f28d0"/><circle cx="67.3" cy="409" r="2.3" fill="#6638e0"/><circle cx="154.5" cy="425.2" r="4.1" fill="#5b30dc"/><circle cx="67.4" cy="399.3" r="3.5" fill="#6638e0"/><circle cx="120.2" cy="360.3" r="3.9" fill="#5b30dc"/><circle cx="187.4" cy="450.1" r="3.3" fill="#5b30dc"/><circle cx="74.4" cy="350.7" r="2.1" fill="#5b30dc"/><circle cx="149.8" cy="426.9" r="3.5" fill="#6638e0"/><circle cx="113.6" cy="452.1" r="2.1" fill="#5b30dc"/><circle cx="162.2" cy="412.4" r="4.2" fill="#5b30dc"/><circle cx="145.3" cy="330.9" r="2" fill="#5b30dc"/><circle cx="108.2" cy="453.4" r="3.4" fill="#4f28d0"/><circle cx="83.1" cy="431.5" r="2.9" fill="#6638e0"/><circle cx="165.3" cy="412.7" r="2.5" fill="#5b30dc"/><circle cx="136" cy="384.2" r="3.4" fill="#5b30dc"/><circle cx="148" cy="421.5" r="2.5" fill="#5b30dc"/><circle cx="149.8" cy="356.6" r="2.8" fill="#5b30dc"/><circle cx="135.8" cy="429.5" r="4.7" fill="#4f28d0"/><circle cx="113.3" cy="438" r="3.6" fill="#5b30dc"/><circle cx="113.7" cy="400.2" r="3.1" fill="#4f28d0"/><circle cx="146.3" cy="402.8" r="2.5" fill="#4f28d0"/><circle cx="133.6" cy="421.9" r="4.1" fill="#4f28d0"/><circle cx="125.3" cy="470.8" r="4.7" fill="#4f28d0"/><circle cx="140.2" cy="375.5" r="2.5" fill="#5b30dc"/><circle cx="154.8" cy="401.5" r="5" fill="#5b30dc"/><circle cx="108.3" cy="383.5" r="2.8" fill="#5b30dc"/><circle cx="139.5" cy="361" r="2.9" fill="#4f28d0"/><circle cx="126.9" cy="391.8" r="2.6" fill="#5b30dc"/><circle cx="144.5" cy="367.5" r="2.9" fill="#5b30dc"/><circle cx="129.3" cy="466.2" r="3.8" fill="#5b30dc"/><circle cx="121.7" cy="379.1" r="4.5" fill="#4f28d0"/><circle cx="148.3" cy="398.6" r="4.6" fill="#4f28d0"/><circle cx="160.6" cy="447.2" r="2.9" fill="#4f28d0"/><circle cx="147.4" cy="424" r="2.7" fill="#5b30dc"/><circle cx="128.4" cy="459.8" r="4.2" fill="#4f28d0"/><circle cx="122.7" cy="407.4" r="3.9" fill="#4f28d0"/><circle cx="121.4" cy="390.9" r="4.7" fill="#5b30dc"/><circle cx="118.9" cy="472" r="4.6" fill="#4f28d0"/><circle cx="137.5" cy="441.1" r="2.5" fill="#4f28d0"/><circle cx="148.9" cy="398.3" r="2.7" fill="#4f28d0"/><circle cx="135.8" cy="432" r="3.7" fill="#5b30dc"/><circle cx="154.3" cy="426.6" r="4.5" fill="#5b30dc"/><circle cx="159.3" cy="382.1" r="3.4" fill="#5b30dc"/><circle cx="131.9" cy="347.9" r="2.9" fill="#4f28d0"/><circle cx="115.9" cy="435.3" r="2.5" fill="#4f28d0"/><circle cx="133.7" cy="425.6" r="4.9" fill="#4f28d0"/><circle cx="107.8" cy="428.2" r="3.8" fill="#4f28d0"/><circle cx="152.8" cy="361.9" r="3.4" fill="#4f28d0"/><circle cx="115.4" cy="414" r="2.9" fill="#4f28d0"/><circle cx="113.6" cy="416.7" r="2.6" fill="#5b30dc"/><circle cx="116.3" cy="419.3" r="5" fill="#4f28d0"/><circle cx="133" cy="478" r="2.5" fill="#4f28d0"/><circle cx="134.4" cy="404.2" r="4" fill="#5b30dc"/></g></g>
<clipPath id="pa5"><circle cx="330.2" cy="396.5" r="90.5"/></clipPath>
<circle cx="330.2" cy="396.5" r="90.5" fill="url(#gpb)" stroke="#d2d2d8" stroke-width="1.5"/>
<g clip-path="url(#pa5)"><g filter="url(#bc)"><circle cx="339.4" cy="394.5" r="1.1" fill="#3a2090"/><circle cx="366.7" cy="374.3" r="0.6" fill="#3a2090"/><circle cx="384.8" cy="328.2" r="0.7" fill="#4a2ab0"/><circle cx="279.2" cy="407.5" r="0.8" fill="#4a2ab0"/><circle cx="341.1" cy="476.8" r="1.4" fill="#4a2ab0"/><circle cx="344.2" cy="479.5" r="0.9" fill="#3a2090"/><circle cx="259.2" cy="359.1" r="0.8" fill="#4a2ab0"/><circle cx="282" cy="375.7" r="0.9" fill="#4a2ab0"/><circle cx="262.9" cy="442.2" r="1.6" fill="#4a2ab0"/><circle cx="407.7" cy="376.2" r="0.6" fill="#3a2090"/><circle cx="271.7" cy="345.6" r="1.3" fill="#3a2090"/><circle cx="316.2" cy="456.4" r="1.4" fill="#3a2090"/><circle cx="373" cy="361.9" r="0.6" fill="#4a2ab0"/><circle cx="279.7" cy="432.5" r="0.6" fill="#4a2ab0"/><circle cx="373.1" cy="419.5" r="0.6" fill="#4a2ab0"/><circle cx="284.4" cy="435.9" r="1.4" fill="#3a2090"/><circle cx="333.8" cy="316.5" r="0.7" fill="#3a2090"/><circle cx="376.2" cy="437.2" r="0.7" fill="#4a2ab0"/><circle cx="397.9" cy="363.6" r="0.7" fill="#3a2090"/><circle cx="309.9" cy="403" r="0.7" fill="#4a2ab0"/><circle cx="255.2" cy="364" r="0.8" fill="#3a2090"/><circle cx="305.5" cy="400.5" r="1.5" fill="#3a2090"/><circle cx="341.9" cy="330.1" r="1.1" fill="#4a2ab0"/><circle cx="300.4" cy="334.9" r="0.6" fill="#4a2ab0"/><circle cx="311.3" cy="404.9" r="1.5" fill="#4a2ab0"/><circle cx="289.9" cy="368.9" r="1.3" fill="#4a2ab0"/><circle cx="395" cy="345.2" r="0.6" fill="#4a2ab0"/><circle cx="268.1" cy="340.8" r="0.6" fill="#4a2ab0"/><circle cx="330.5" cy="483.4" r="0.7" fill="#3a2090"/><circle cx="310.5" cy="351.5" r="0.7" fill="#4a2ab0"/><circle cx="315.1" cy="347.8" r="0.6" fill="#3a2090"/><circle cx="291" cy="348.2" r="1.5" fill="#4a2ab0"/><circle cx="288.2" cy="467.8" r="0.6" fill="#3a2090"/><circle cx="306.6" cy="450.8" r="1" fill="#4a2ab0"/><circle cx="302.8" cy="383.2" r="1.5" fill="#3a2090"/><circle cx="395.3" cy="443.9" r="3.2" fill="#5530d8"/><circle cx="367.6" cy="336.3" r="2.9" fill="#5530d8"/><circle cx="301.5" cy="427.5" r="2.9" fill="#4a28c8"/><circle cx="404.6" cy="394.4" r="2.9" fill="#5530d8"/><circle cx="264.4" cy="413.6" r="2.9" fill="#5530d8"/><circle cx="380.2" cy="405.6" r="3.3" fill="#5530d8"/></g></g>
<clipPath id="pa6"><circle cx="519.5" cy="397" r="90.3"/></clipPath>
<circle cx="519.5" cy="397" r="90.3" fill="url(#gpb)" stroke="#d2d2d8" stroke-width="1.5"/>
<g clip-path="url(#pa6)"><g filter="url(#bc)"><circle cx="480.5" cy="443.3" r="0.7" fill="#4a2ab0"/><circle cx="600.1" cy="400" r="1" fill="#3a2090"/><circle cx="513.7" cy="390.4" r="0.6" fill="#4a2ab0"/><circle cx="476.9" cy="323.2" r="0.8" fill="#3a2090"/><circle cx="540.3" cy="314.2" r="0.6" fill="#3a2090"/><circle cx="544.8" cy="330.3" r="0.5" fill="#4a2ab0"/><circle cx="459.9" cy="354.4" r="1.4" fill="#4a2ab0"/><circle cx="482.9" cy="440.2" r="0.5" fill="#4a2ab0"/><circle cx="457.5" cy="429.5" r="1.3" fill="#4a2ab0"/><circle cx="478.6" cy="375" r="0.5" fill="#3a2090"/><circle cx="477.7" cy="390.8" r="0.5" fill="#4a2ab0"/><circle cx="495.7" cy="450.8" r="0.5" fill="#4a2ab0"/><circle cx="518.1" cy="387.1" r="1.1" fill="#4a2ab0"/><circle cx="599.2" cy="404" r="0.9" fill="#3a2090"/><circle cx="454" cy="416.4" r="0.7" fill="#3a2090"/><circle cx="591.4" cy="382.4" r="1.3" fill="#4a2ab0"/><circle cx="537.2" cy="400.7" r="0.9" fill="#4a2ab0"/><circle cx="448.8" cy="407.1" r="1.1" fill="#3a2090"/><circle cx="523.4" cy="424.5" r="0.5" fill="#3a2090"/><circle cx="521.9" cy="451.8" r="0.5" fill="#3a2090"/><circle cx="518" cy="377.9" r="1.1" fill="#4a2ab0"/><circle cx="559.4" cy="454.2" r="0.6" fill="#3a2090"/><circle cx="482.4" cy="375.9" r="0.6" fill="#3a2090"/><circle cx="546.1" cy="417.4" r="0.6" fill="#3a2090"/><circle cx="451.6" cy="443.1" r="0.7" fill="#4a2ab0"/><circle cx="534.2" cy="400.7" r="2.5" fill="#4f22c4"/><circle cx="574.6" cy="368.9" r="2.5" fill="#6a3ad6"/></g></g>
<line x1="704.6" y1="133" x2="704.6" y2="416" stroke="#000" stroke-width="3.5"/>
<line x1="689" y1="414.5" x2="910" y2="414.5" stroke="#000" stroke-width="3.5"/>
<line x1="690" y1="414.4" x2="704.6" y2="414.4" stroke="#000" stroke-width="3.5"/>
<text class="s b" x="688.5" y="422.9" font-size="24" text-anchor="end" textLength="26.6" lengthAdjust="spacingAndGlyphs">0.0</text>
<line x1="690" y1="321.5" x2="704.6" y2="321.5" stroke="#000" stroke-width="3.5"/>
<text class="s b" x="688.5" y="330" font-size="24" text-anchor="end" textLength="26.6" lengthAdjust="spacingAndGlyphs">0.5</text>
<line x1="690" y1="228.7" x2="704.6" y2="228.7" stroke="#000" stroke-width="3.5"/>
<text class="s b" x="688.5" y="237.2" font-size="24" text-anchor="end" textLength="26.6" lengthAdjust="spacingAndGlyphs">1.0</text>
<line x1="690" y1="135.9" x2="704.6" y2="135.9" stroke="#000" stroke-width="3.5"/>
<text class="s b" x="688.5" y="144.4" font-size="24" text-anchor="end" textLength="26.6" lengthAdjust="spacingAndGlyphs">1.5</text>
<line x1="727.8" y1="414.5" x2="727.8" y2="428" stroke="#000" stroke-width="3.5"/>
<line x1="758.2" y1="414.5" x2="758.2" y2="428" stroke="#000" stroke-width="3.5"/>
<line x1="788.2" y1="414.5" x2="788.2" y2="428" stroke="#000" stroke-width="3.5"/>
<line x1="836.2" y1="414.5" x2="836.2" y2="428" stroke="#000" stroke-width="3.5"/>
<line x1="866.6" y1="414.5" x2="866.6" y2="428" stroke="#000" stroke-width="3.5"/>
<line x1="896.6" y1="414.5" x2="896.6" y2="428" stroke="#000" stroke-width="3.5"/>
<text class="s b" x="727.8" y="451" font-size="23.5" text-anchor="middle">0</text>
<text class="s b" x="758.2" y="451" font-size="23.5" text-anchor="middle">50</text>
<text class="s b" x="788.2" y="451" font-size="23.5" text-anchor="middle">100</text>
<text class="s b" x="836.2" y="451" font-size="23.5" text-anchor="middle">0</text>
<text class="s b" x="866.6" y="451" font-size="23.5" text-anchor="middle">50</text>
<text class="s b" x="896.6" y="451" font-size="23.5" text-anchor="middle">100</text>
<text class="s b" x="745.8" y="486.5" font-size="24.2">Bufalin (nM)</text>
<text class="s b" x="647" y="275.8" font-size="24.3" text-anchor="middle" transform="rotate(-90 647 275.8)">Relative Colony Formation</text>
<path d="M718.5 414.5V231.2H737V414.5" stroke="#4e4030" stroke-width="5" fill="#fff"/>
<path d="M749 414.5V348.2H767.5V414.5" stroke="#4e4030" stroke-width="5" fill="#fff"/>
<path d="M779 414.5V394.2H797.5V414.5" stroke="#4e4030" stroke-width="5" fill="#fff"/>
<path d="M827 414.5V231.2H845.5V414.5" stroke="#224a7a" stroke-width="5" fill="#fff"/>
<path d="M857.4 414.5V358.6H875.9V414.5" stroke="#224a7a" stroke-width="5" fill="#fff"/>
<path d="M887.4 414.5V393.3H905.9V414.5" stroke="#224a7a" stroke-width="5" fill="#fff"/>
<line x1="758.2" y1="353.1" x2="758.2" y2="332.7" stroke="#4e4030" stroke-width="3.5"/>
<line x1="752.2" y1="332.7" x2="764.2" y2="332.7" stroke="#4e4030" stroke-width="3.5"/>
<line x1="866.6" y1="381" x2="866.6" y2="330.8" stroke="#224a7a" stroke-width="3.5"/>
<line x1="860.6" y1="330.8" x2="872.6" y2="330.8" stroke="#224a7a" stroke-width="3.5"/>
<line x1="860.6" y1="381" x2="872.6" y2="381" stroke="#224a7a" stroke-width="3.5"/>
<line x1="896.6" y1="397.7" x2="896.6" y2="381" stroke="#224a7a" stroke-width="3.5"/>
<line x1="890.6" y1="381" x2="902.6" y2="381" stroke="#224a7a" stroke-width="3.5"/>
<circle cx="720.8" cy="228.7" r="6" fill="#e9a75f"/>
<circle cx="727.8" cy="228.7" r="6" fill="#e9a75f"/>
<circle cx="734.8" cy="228.7" r="6" fill="#e9a75f"/>
<circle cx="758.5" cy="330.8" r="6" fill="#e9a75f"/>
<circle cx="752.5" cy="353" r="6" fill="#e9a75f"/>
<circle cx="764.5" cy="353" r="6" fill="#e9a75f"/>
<circle cx="783" cy="395.4" r="6" fill="#e9a75f"/>
<circle cx="789" cy="386.2" r="6" fill="#e9a75f"/>
<circle cx="794.5" cy="390.8" r="6" fill="#e9a75f"/>
<rect x="825.2" y="222.7" width="23.2" height="12" fill="#97b2d6"/>
<rect x="860.6" y="321" width="12" height="12" fill="#97b2d6"/>
<rect x="860.6" y="344" width="12" height="12" fill="#97b2d6"/>
<rect x="860.6" y="382" width="12" height="12" fill="#97b2d6"/>
<rect x="890.5" y="371" width="12" height="12" fill="#97b2d6"/>
<rect x="884" y="391" width="12" height="12" fill="#97b2d6"/>
<rect x="897" y="391" width="12" height="12" fill="#97b2d6"/>
<circle cx="716.8" cy="144.7" r="6.2" fill="#e9a75f"/>
<text class="s b" x="751" y="152" font-size="22">MCF-7</text>
<rect x="710.8" y="166.8" width="12" height="12" fill="#97b2d6"/>
<text class="s b" x="751" y="179.8" font-size="22">T47D</text>
<text class="s" x="767" y="287.4" font-size="22.9" text-anchor="middle" transform="rotate(-90 767 287.4)" textLength="79.7" lengthAdjust="spacingAndGlyphs">&#xFF1C;0.0001</text>
<text class="s" x="797" y="331.1" font-size="22.9" text-anchor="middle" transform="rotate(-90 797 331.1)" textLength="79.7" lengthAdjust="spacingAndGlyphs">&#xFF1C;0.0001</text>
<text class="s" x="873.3" y="280" font-size="22.9" text-anchor="middle" transform="rotate(-90 873.3 280)" textLength="58.6" lengthAdjust="spacingAndGlyphs">0.0004</text>
<text class="s" x="903.7" y="330.2" font-size="22.9" text-anchor="middle" transform="rotate(-90 903.7 330.2)" textLength="79.7" lengthAdjust="spacingAndGlyphs">&#xFF1C;0.0001</text>
<text class="s b" x="918" y="32.6" font-size="50">b</text>
<line x1="1016.1" y1="130" x2="1016.1" y2="437.8" stroke="#000" stroke-width="3.5"/>
<line x1="1002" y1="436.3" x2="1369" y2="436.3" stroke="#000" stroke-width="3.5"/>
<line x1="1002" y1="436.3" x2="1016.1" y2="436.3" stroke="#000" stroke-width="3.5"/>
<text class="s b" x="999.5" y="444.8" font-size="24.2" text-anchor="end">0</text>
<line x1="1002" y1="385.5" x2="1016.1" y2="385.5" stroke="#000" stroke-width="3.5"/>
<text class="s b" x="999.5" y="394" font-size="24.2" text-anchor="end">20</text>
<line x1="1002" y1="334.7" x2="1016.1" y2="334.7" stroke="#000" stroke-width="3.5"/>
<text class="s b" x="999.5" y="343.2" font-size="24.2" text-anchor="end">40</text>
<line x1="1002" y1="283.9" x2="1016.1" y2="283.9" stroke="#000" stroke-width="3.5"/>
<text class="s b" x="999.5" y="292.4" font-size="24.2" text-anchor="end">60</text>
<line x1="1002" y1="233.1" x2="1016.1" y2="233.1" stroke="#000" stroke-width="3.5"/>
<text class="s b" x="999.5" y="241.6" font-size="24.2" text-anchor="end">80</text>
<line x1="1002" y1="182.3" x2="1016.1" y2="182.3" stroke="#000" stroke-width="3.5"/>
<text class="s b" x="999.5" y="190.8" font-size="24.2" text-anchor="end">100</text>
<line x1="1002" y1="131.5" x2="1016.1" y2="131.5" stroke="#000" stroke-width="3.5"/>
<text class="s b" x="999.5" y="140" font-size="24.2" text-anchor="end">120</text>
<line x1="1053" y1="436.3" x2="1053" y2="450.3" stroke="#000" stroke-width="3.5"/>
<line x1="1108.2" y1="436.3" x2="1108.2" y2="450.3" stroke="#000" stroke-width="3.5"/>
<line x1="1163.5" y1="436.3" x2="1163.5" y2="450.3" stroke="#000" stroke-width="3.5"/>
<line x1="1218" y1="436.3" x2="1218" y2="450.3" stroke="#000" stroke-width="3.5"/>
<line x1="1273.4" y1="436.3" x2="1273.4" y2="450.3" stroke="#000" stroke-width="3.5"/>
<line x1="1328.3" y1="436.3" x2="1328.3" y2="450.3" stroke="#000" stroke-width="3.5"/>
<text class="s b" x="1053" y="474.5" font-size="24.2" text-anchor="middle">0</text>
<text class="s b" x="1108.2" y="474.5" font-size="24.2" text-anchor="middle">10</text>
<text class="s b" x="1163.5" y="474.5" font-size="24.2" text-anchor="middle">20</text>
<text class="s b" x="1218" y="474.5" font-size="24.2" text-anchor="middle">50</text>
<text class="s b" x="1273.4" y="474.5" font-size="24.2" text-anchor="middle">100</text>
<text class="s b" x="1328.3" y="474.5" font-size="24.2" text-anchor="middle">200</text>
<text class="s b" x="1190.5" y="93.5" font-size="24.6" text-anchor="middle">MCF-7</text>
<text class="s b" x="947.5" y="283.3" font-size="25.2" text-anchor="middle" transform="rotate(-90 947.5 283.3)">Cell Viability (%)</text>
<text class="s b" x="1123.8" y="512.7" font-size="24.6">Bufalin (nM)</text>
<path d="M1037.2 436.3V184.8H1068.8V436.3" stroke="#000" stroke-width="5" fill="#fff"/>
<path d="M1092.5 436.3V267.9H1124V436.3" stroke="#4e4030" stroke-width="5" fill="#fff"/>
<path d="M1147.8 436.3V330.9H1179.2V436.3" stroke="#224a7a" stroke-width="5" fill="#fff"/>
<path d="M1202.2 436.3V356.2H1233.8V436.3" stroke="#b93434" stroke-width="5" fill="#fff"/>
<path d="M1257.7 436.3V378.9H1289.2V436.3" stroke="#8f8d86" stroke-width="5" fill="#fff"/>
<path d="M1312.5 436.3V394.1H1344V436.3" stroke="#725443" stroke-width="5" fill="#fff"/>
<line x1="1108.2" y1="278.8" x2="1108.2" y2="250.9" stroke="#4e4030" stroke-width="3.5"/>
<line x1="1098.2" y1="250.9" x2="1118.2" y2="250.9" stroke="#4e4030" stroke-width="3.5"/>
<line x1="1098.2" y1="278.8" x2="1118.2" y2="278.8" stroke="#4e4030" stroke-width="3.5"/>
<line x1="1163.5" y1="339.8" x2="1163.5" y2="316.9" stroke="#224a7a" stroke-width="3.5"/>
<line x1="1153.5" y1="316.9" x2="1173.5" y2="316.9" stroke="#224a7a" stroke-width="3.5"/>
<line x1="1153.5" y1="339.8" x2="1173.5" y2="339.8" stroke="#224a7a" stroke-width="3.5"/>
<line x1="1218" y1="365.2" x2="1218" y2="339.8" stroke="#b93434" stroke-width="3.5"/>
<line x1="1208" y1="339.8" x2="1228" y2="339.8" stroke="#b93434" stroke-width="3.5"/>
<line x1="1208" y1="365.2" x2="1228" y2="365.2" stroke="#b93434" stroke-width="3.5"/>
<line x1="1273.4" y1="383" x2="1273.4" y2="367.7" stroke="#8f8d86" stroke-width="3.5"/>
<line x1="1263.4" y1="367.7" x2="1283.4" y2="367.7" stroke="#8f8d86" stroke-width="3.5"/>
<line x1="1263.4" y1="383" x2="1283.4" y2="383" stroke="#8f8d86" stroke-width="3.5"/>
<line x1="1328.3" y1="394.4" x2="1328.3" y2="384.2" stroke="#725443" stroke-width="3.5"/>
<line x1="1318.3" y1="384.2" x2="1338.3" y2="384.2" stroke="#725443" stroke-width="3.5"/>
<line x1="1318.3" y1="394.4" x2="1338.3" y2="394.4" stroke="#725443" stroke-width="3.5"/>
<circle cx="1040" cy="182.3" r="7" fill="#000"/>
<circle cx="1053" cy="182.3" r="7" fill="#000"/>
<circle cx="1066" cy="182.3" r="7" fill="#000"/>
<rect x="1089" y="245.5" width="13" height="13" fill="#e9a75f"/>
<rect x="1113.9" y="257" width="13" height="13" fill="#e9a75f"/>
<rect x="1101.7" y="274" width="13" height="13" fill="#e9a75f"/>
<path d="M1163.5 307.5L1170.7 320.6H1156.3Z" fill="#97b2d6"/>
<path d="M1150.7 331L1157.9 344.1H1143.5Z" fill="#97b2d6"/>
<path d="M1175.4 322.5L1182.6 335.6H1168.2Z" fill="#97b2d6"/>
<path d="M1206 347.5L1213.2 334.4H1198.8Z" fill="#e8928c"/>
<path d="M1230.9 358.8L1238.1 345.7H1223.8Z" fill="#e8928c"/>
<path d="M1218.1 372.9L1225.2 359.8H1210.9Z" fill="#e8928c"/>
<path d="M1261.2 361.9L1269 369.7L1261.2 377.5L1253.4 369.7Z" fill="#bcbfc3"/>
<path d="M1285.8 365.6L1293.6 373.4L1285.8 381.2L1278 373.4Z" fill="#bcbfc3"/>
<path d="M1261.2 376.1L1269 383.9L1261.2 391.7L1253.4 383.9Z" fill="#bcbfc3"/>
<circle cx="1315" cy="385.3" r="6" fill="#f3cbbd" stroke="#725443" stroke-width="3.5"/>
<circle cx="1340.5" cy="385.8" r="6" fill="#f3cbbd" stroke="#725443" stroke-width="3.5"/>
<circle cx="1328.3" cy="399.4" r="6" fill="#f3cbbd" stroke="#725443" stroke-width="3.5"/>
<text class="s" x="1070.9" y="232.8" font-size="19.2" textLength="67.8" lengthAdjust="spacingAndGlyphs">&#xFF1C;0.0001</text>
<text class="s" x="1125.5" y="283.2" font-size="19.2" textLength="67.8" lengthAdjust="spacingAndGlyphs">&#xFF1C;0.0001</text>
<text class="s" x="1177.4" y="314.4" font-size="19.2" textLength="67.8" lengthAdjust="spacingAndGlyphs">&#xFF1C;0.0001</text>
<text class="s" x="1236" y="337" font-size="19.2" textLength="67.8" lengthAdjust="spacingAndGlyphs">&#xFF1C;0.0001</text>
<text class="s" x="1289" y="362.5" font-size="19.2" textLength="67.8" lengthAdjust="spacingAndGlyphs">&#xFF1C;0.0001</text>
<line x1="1456.4" y1="129.4" x2="1456.4" y2="440" stroke="#000" stroke-width="3.5"/>
<line x1="1442" y1="438.5" x2="1815" y2="438.5" stroke="#000" stroke-width="3.5"/>
<line x1="1442" y1="438.5" x2="1456.4" y2="438.5" stroke="#000" stroke-width="3.5"/>
<text class="s b" x="1439.5" y="447" font-size="24.2" text-anchor="end">0</text>
<line x1="1442" y1="387.2" x2="1456.4" y2="387.2" stroke="#000" stroke-width="3.5"/>
<text class="s b" x="1439.5" y="395.7" font-size="24.2" text-anchor="end">20</text>
<line x1="1442" y1="336" x2="1456.4" y2="336" stroke="#000" stroke-width="3.5"/>
<text class="s b" x="1439.5" y="344.5" font-size="24.2" text-anchor="end">40</text>
<line x1="1442" y1="284.7" x2="1456.4" y2="284.7" stroke="#000" stroke-width="3.5"/>
<text class="s b" x="1439.5" y="293.2" font-size="24.2" text-anchor="end">60</text>
<line x1="1442" y1="233.4" x2="1456.4" y2="233.4" stroke="#000" stroke-width="3.5"/>
<text class="s b" x="1439.5" y="241.9" font-size="24.2" text-anchor="end">80</text>
<line x1="1442" y1="182.2" x2="1456.4" y2="182.2" stroke="#000" stroke-width="3.5"/>
<text class="s b" x="1439.5" y="190.7" font-size="24.2" text-anchor="end">100</text>
<line x1="1442" y1="130.9" x2="1456.4" y2="130.9" stroke="#000" stroke-width="3.5"/>
<text class="s b" x="1439.5" y="139.4" font-size="24.2" text-anchor="end">120</text>
<line x1="1493.2" y1="438.5" x2="1493.2" y2="452.5" stroke="#000" stroke-width="3.5"/>
<line x1="1549" y1="438.5" x2="1549" y2="452.5" stroke="#000" stroke-width="3.5"/>
<line x1="1604.9" y1="438.5" x2="1604.9" y2="452.5" stroke="#000" stroke-width="3.5"/>
<line x1="1661" y1="438.5" x2="1661" y2="452.5" stroke="#000" stroke-width="3.5"/>
<line x1="1717" y1="438.5" x2="1717" y2="452.5" stroke="#000" stroke-width="3.5"/>
<line x1="1772.9" y1="438.5" x2="1772.9" y2="452.5" stroke="#000" stroke-width="3.5"/>
<text class="s b" x="1493.2" y="476" font-size="24.2" text-anchor="middle">0</text>
<text class="s b" x="1549" y="476" font-size="24.2" text-anchor="middle">10</text>
<text class="s b" x="1604.9" y="476" font-size="24.2" text-anchor="middle">20</text>
<text class="s b" x="1661" y="476" font-size="24.2" text-anchor="middle">50</text>
<text class="s b" x="1717" y="476" font-size="24.2" text-anchor="middle">100</text>
<text class="s b" x="1772.9" y="476" font-size="24.2" text-anchor="middle">200</text>
<text class="s b" x="1634.7" y="93.5" font-size="24.6" text-anchor="middle">T47D</text>
<text class="s b" x="1388" y="284" font-size="25.2" text-anchor="middle" transform="rotate(-90 1388 284)">Cell Viability (%)</text>
<text class="s b" x="1566" y="512.7" font-size="24.6">Bufalin (nM)</text>
<path d="M1477.2 438.5V184.7H1509.2V438.5" stroke="#000" stroke-width="5" fill="#fff"/>
<path d="M1533 438.5V230.8H1565V438.5" stroke="#4e4030" stroke-width="5" fill="#fff"/>
<path d="M1588.9 438.5V304.1H1620.9V438.5" stroke="#224a7a" stroke-width="5" fill="#fff"/>
<path d="M1645 438.5V355.1H1677V438.5" stroke="#b93434" stroke-width="5" fill="#fff"/>
<path d="M1701 438.5V373.6H1733V438.5" stroke="#8f8d86" stroke-width="5" fill="#fff"/>
<path d="M1756.9 438.5V397.7H1788.9V438.5" stroke="#725443" stroke-width="5" fill="#fff"/>
<line x1="1549" y1="238.6" x2="1549" y2="218.1" stroke="#4e4030" stroke-width="3.5"/>
<line x1="1539" y1="218.1" x2="1559" y2="218.1" stroke="#4e4030" stroke-width="3.5"/>
<line x1="1539" y1="238.6" x2="1559" y2="238.6" stroke="#4e4030" stroke-width="3.5"/>
<line x1="1604.9" y1="312.9" x2="1604.9" y2="287.3" stroke="#224a7a" stroke-width="3.5"/>
<line x1="1594.9" y1="287.3" x2="1614.9" y2="287.3" stroke="#224a7a" stroke-width="3.5"/>
<line x1="1594.9" y1="312.9" x2="1614.9" y2="312.9" stroke="#224a7a" stroke-width="3.5"/>
<line x1="1661" y1="360.3" x2="1661" y2="342.4" stroke="#b93434" stroke-width="3.5"/>
<line x1="1651" y1="342.4" x2="1671" y2="342.4" stroke="#b93434" stroke-width="3.5"/>
<line x1="1651" y1="360.3" x2="1671" y2="360.3" stroke="#b93434" stroke-width="3.5"/>
<line x1="1717" y1="380.8" x2="1717" y2="360.3" stroke="#8f8d86" stroke-width="3.5"/>
<line x1="1707" y1="360.3" x2="1727" y2="360.3" stroke="#8f8d86" stroke-width="3.5"/>
<line x1="1707" y1="380.8" x2="1727" y2="380.8" stroke="#8f8d86" stroke-width="3.5"/>
<line x1="1772.9" y1="400.1" x2="1772.9" y2="386" stroke="#725443" stroke-width="3.5"/>
<line x1="1762.9" y1="386" x2="1782.9" y2="386" stroke="#725443" stroke-width="3.5"/>
<line x1="1762.9" y1="400.1" x2="1782.9" y2="400.1" stroke="#725443" stroke-width="3.5"/>
<circle cx="1480.2" cy="182.2" r="7" fill="#000"/>
<circle cx="1493.2" cy="182.2" r="7" fill="#000"/>
<circle cx="1506.2" cy="182.2" r="7" fill="#000"/>
<rect x="1529.8" y="213" width="13" height="13" fill="#e9a75f"/>
<rect x="1556.1" y="220.1" width="13" height="13" fill="#e9a75f"/>
<rect x="1529.8" y="230" width="13" height="13" fill="#e9a75f"/>
<path d="M1593 285.7L1600.2 298.8H1585.8Z" fill="#97b2d6"/>
<path d="M1617.9 285.7L1625.1 298.8H1610.8Z" fill="#97b2d6"/>
<path d="M1605.7 308.4L1612.9 321.5H1598.5Z" fill="#97b2d6"/>
<path d="M1649.6 351.7L1656.8 338.6H1642.4Z" fill="#e8928c"/>
<path d="M1673.7 353.7L1680.9 340.6H1666.5Z" fill="#e8928c"/>
<path d="M1661.5 367.3L1668.7 354.2H1654.3Z" fill="#e8928c"/>
<path d="M1704.9 355.4L1712.7 363.2L1704.9 371L1697.1 363.2Z" fill="#bcbfc3"/>
<path d="M1729.5 359.9L1737.3 367.7L1729.5 375.5L1721.7 367.7Z" fill="#bcbfc3"/>
<path d="M1717.6 371.2L1725.4 379L1717.6 386.8L1709.8 379Z" fill="#bcbfc3"/>
<circle cx="1760.1" cy="385.3" r="6" fill="#f3cbbd" stroke="#725443" stroke-width="3.5"/>
<circle cx="1785.6" cy="394.3" r="6" fill="#f3cbbd" stroke="#725443" stroke-width="3.5"/>
<circle cx="1760.7" cy="401.7" r="6" fill="#f3cbbd" stroke="#725443" stroke-width="3.5"/>
<text class="s" x="1526.4" y="197.2" font-size="19.2">0.0003</text>
<text class="s" x="1576.9" y="269.6" font-size="19.2" textLength="67.8" lengthAdjust="spacingAndGlyphs">&#xFF1C;0.0001</text>
<text class="s" x="1632.4" y="307.9" font-size="19.2" textLength="67.8" lengthAdjust="spacingAndGlyphs">&#xFF1C;0.0001</text>
<text class="s" x="1678.3" y="337.6" font-size="19.2" textLength="67.8" lengthAdjust="spacingAndGlyphs">&#xFF1C;0.0001</text>
<text class="s" x="1729.3" y="364.5" font-size="19.2" textLength="67.8" lengthAdjust="spacingAndGlyphs">&#xFF1C;0.0001</text>
<text class="s b" x="3" y="545" font-size="50">c</text>
<text class="s" x="32.6" y="602" font-size="34">Bufalin</text>
<text class="s" x="244.3" y="602" font-size="34" text-anchor="middle">0</text>
<text class="s" x="712" y="602.5" font-size="34" text-anchor="middle">20</text>
<text class="s" x="1112.4" y="602.5" font-size="34">50 (nM)</text>
<rect x="107.6" y="905" width="22.4" height="25" fill="#e2f2f4" filter="url(#bl0)"/>
<path d="M129 908h0m-4 0h0m-6 2h0m0-3h0m-1 3h0m-4-1h0m-1-1h0m-2 2h0m-2-3h0m-5 0h0m10 10h0m2-2h0m0-2h0m2 0h0m4 3h0m3 0h0m2 5h0m-1-2h0m-4 1h0m-30-1h0m10 5h0m12 4h0m0 1h0m7-4h0m0 3h0m4-4h0m0 5h0m4 0h0m0 4h0m-1-1h0m-2-2h0m-1 3h0m-2-2h0m-1 2h0m-2-3h0m-1 2h0m-4 1h0m-2 1h0m-3-2h0m-3 1h0m-23 1h0m35 2h0m5 0h0m5 1h0m-3 8h0m-10 0h0m-3-2h0m-1 2h0m12 9h0m-10 4h0" stroke="#dfe4fa" stroke-width="1.7" stroke-linecap="square"/>
<path d="M129 909h0m0-3h0m0 5h0m-1-5h0m-1 3h0m0-2h0m-3 1h0m-1-1h0m-1 4h0m-1 0h0m-1-1h0m-15 1h0m-3 4h0m2-1h0m3 3h0m4-4h0m1 4h0m3-5h0m4 2h0m4 1h0m4-3h0m2 2h0m-2 8h0m-1-2h0m0 3h0m-2-3h0m-1-1h0m-1 0h0m-3 3h0m-21-4h0m22 11h0m6-2h0m2-3h0m-5 8h0m-4 1h0m-16 0h0m-7-3h0m13 11h0m13-3h0m1 2h0m4 3h0m-5 2h0m-11-1h0m14 4h0m4 1h0" stroke="#c9d3f6" stroke-width="1.7" stroke-linecap="square"/>
<path d="M125 905h0m3 4h0m-2-2h0m-1 2h0m0 2h0m-1-2h0m-1 2h0m-2-1h0m0-1h0m0-1h0m-1-1h0m-3 3h0m-1-3h0m-4 1h0m-5 1h0m-1 1h0m-4 4h0m2 3h0m10-5h0m3 0h0m2 3h0m0 2h0m4-4h0m1 0h0m1 0h0m1 1h0m4 3h0m0 6h0m-5 0h0m-5-3h0m0-2h0m-6 2h0m-18 7h0m6-2h0m13-1h0m1 3h0m2-2h0m2-1h0m1 3h0m1 0h0m1-3h0m3 4h0m-3 7h0m-14-3h0m-9 9h0m6-3h0m8-1h0m6 1h0m9 0h0m0-2h0m-12 7h0m-35 4h0m29 3h0m4 0h0" stroke="#cfeef2" stroke-width="1.7" stroke-linecap="square"/>
<path d="M106 905h0m19 1h0m-10 4h0m-3-1h0m-1 2h0m-14-1h0m11 3h0m8 1h0m1-1h0m3 1h0m0 1h0m0-2h0m1 4h0m2 0h0m1-3h0m0 3h0m2-2h0m1-2h0m0 1h0m1-2h0m1 3h0m0 4h0m-1-1h0m0 4h0m-1-3h0m-2 1h0m-2 3h0m-1-2h0m0 1h0m0 1h0m-5-5h0m-2 5h0m-1-1h0m-2-2h0m0-2h0m0 1h0m-2 4h0m-2-2h0m-2-2h0m-8 4h0m-5 4h0m21-3h0m5 1h0m3 3h0m2-4h0m4 1h0m1 3h0m0 3h0m-2-1h0m0 1h0m-1 3h0m-1 1h0m-1-4h0m-2-1h0m0 4h0m-2 1h0m-3-2h0m-23-3h0m3 7h0m7-1h0m9 0h0m5 1h0m12 8h0m-3-1h0m-6-2h0m-17 8h0m5 0h0m11 0h0m-5 14h0" stroke="#e8f3f0" stroke-width="1.7" stroke-linecap="square"/>
<path d="M121 905h0m5 1h0m-1 1h0m-1 4h0m-1-5h0m0 4h0m-3-1h0m-1 2h0m-1-3h0m-7-1h0m-3 0h0m-6 2h0m4 3h0m6 1h0m1 4h0m4-3h0m5 1h0m2 0h0m4 2h0m1 0h0m0 3h0m-1-1h0m0 2h0m-4-2h0m0 3h0m-1-1h0m0 1h0m-3-3h0m-5 3h0m-4 1h0m-7-3h0m0-2h0m-4 2h0m0 3h0m-12 3h0m20 0h0m1 3h0m2 0h0m8 0h0m4 0h0m1 0h0m3-3h0m-2 8h0m-3-2h0m-1-1h0m-2 0h0m-1 2h0m-7 1h0m-12-4h0m2 7h0m20-1h0m9 3h0m-2 7h0m-3-2h0m-8-2h0m-11 5h0m-4-4h0m-2-1h0m7 6h0" stroke="#d8dcf6" stroke-width="1.7" stroke-linecap="square"/>
<path d="M311 695h0m-4 13h0m36 7h0m-55 4h0m-23 4h0m11 0h0m40-1h0m26 4h0m-40 5h0m-6 0h0m-6-5h0m-15 3h0m-1-1h0m-10 0h0m-5 3h0m7 5h0m7-4h0m19 0h0m-18 8h0m-2 0h0m-13 2h0m-2-4h0m-23 1h0m-9 4h0m-8 3h0m10 3h0m11-2h0m2-1h0m52 0h0m-7 9h0m-11-1h0m-49 0h0m7 2h0m18 4h0m0 1h0m19-3h0m2 0h0m12-1h0m5 3h0m-22 3h0m-5 3h0m-2 1h0m-8 0h0m-3-1h0m-16 2h0m8 3h0m30 3h0m-18 5h0m-23-3h0m-3 1h0m-5-3h0m-24 10h0m26-3h0m33-1h0m5 3h0m8-3h0m-54 14h0m5 0h0m-58 10h0m34 4h0m7 4h0m-17 6h0m20-1h0m17 10h0m-23-5h0m-20 4h0m-18-2h0m-8 3h0m-15-5h0m17 11h0m7-1h0m0 1h0m1-2h0m2 2h0m2 0h0m2-4h0m4 1h0m1 2h0m1-2h0m0-1h0m3 3h0m2-1h0m1 1h0m1-2h0m1 1h0m7 0h0m0-3h0m1 4h0m1-2h0m17 3h0m6-5h0m5 11h0m-13 0h0m-4 0h0m-3 0h0m-2-2h0m-2 2h0m-1-2h0m-2 0h0m-3 2h0m-3-1h0m0-3h0m-2 2h0m-1 0h0m0-1h0m-2 1h0m-3 0h0m-1-1h0m-2 2h0m-1-3h0m0 1h0m-4 2h0m0-3h0m-1 3h0m0-3h0m-1 0h0m-2 3h0m0 1h0m-6-1h0m0 1h0m-2-1h0m-1-2h0m-1 3h0m-4-5h0m0 2h0m-1 0h0m-1 0h0m-7 1h0m-7 2h0m-3-1h0m-15 3h0m16 2h0m13 2h0m0-4h0m4-1h0m2 3h0m2-1h0m2 1h0m1 2h0m0-4h0m1-1h0m1 2h0m1 1h0m2-3h0m1 1h0m2 1h0m0-1h0m2 3h0m4 1h0m1-5h0m0 4h0m1-2h0m3 1h0m1-2h0m2 2h0m0 2h0m1-4h0m0 2h0m2-1h0m0 2h0m1-2h0m1 1h0m3-3h0m8 0h0m0 3h0m2-1h0m4 2h0m35 7h0m-7-4h0m-19-1h0m-5 2h0m0-1h0m-3-1h0m0 5h0m-1-2h0m-1-1h0m-3 2h0m-1-2h0m-1 1h0m-2-2h0m0 3h0m-1-3h0m0 3h0m-2-3h0m0 4h0m-5-4h0m-1 3h0m-13 0h0m0-2h0m-3-2h0m0 5h0m-1 0h0m-1-5h0m0 5h0m0-3h0m-2-2h0m-2 1h0m-2 0h0m-3 0h0m-11 4h0m0-5h0m-4 3h0m-4 0h0m-3 0h0m-10-3h0m-2 6h0m3 3h0m2 1h0m3 1h0m2-1h0m2-4h0m6 2h0m1 3h0m1-5h0m3 1h0m7 1h0m1 0h0m0 1h0m3-1h0m8 0h0m0 2h0m6-1h0m9 1h0m8-3h0m1 3h0m7-4h0m2 3h0m1-2h0m1 0h0m1 2h0m2-1h0m1-2h0m2 0h0m2 1h0m23 0h0m-9 9h0m-11-4h0m-5 1h0m-1 3h0m0-3h0m-1 2h0m-1 0h0m0-2h0m-2-1h0m-2 3h0m-1-1h0m-2-2h0m-1 2h0m-1 2h0m0-4h0m-2 1h0m-3 0h0m-2 0h0m-3 4h0m-3-2h0m-3-2h0m-2 0h0m-2 2h0m-10-3h0m-1 0h0m-1 0h0m-5 1h0m-4 0h0m-3 3h0m0-1h0m-1 0h0m0-3h0m-1 3h0m-8-2h0m-1 4h0m-1-1h0m0-1h0m-3-2h0m-1 4h0m-4 0h0m-2 0h0m-35 3h0m16-2h0m11 4h0m1-2h0m1-2h0m2 3h0m0-3h0m2 2h0m0 3h0m1-1h0m2 1h0m1-1h0m0 1h0m1 0h0m2-2h0m3 1h0m2 1h0m1-2h0m1 1h0m0-4h0m1 0h0m4 5h0m1-4h0m0 2h0m2-1h0m28-2h0m4 5h0m4-2h0m4-3h0m4 1h0m3 3h0m2 1h0m4-4h0m0 4h0m3 0h0m1-3h0m16-1h0m2 0h0m36 5h0m-8 0h0m-20 3h0m-28-2h0m-2 0h0m-1 0h0m-7 1h0m-1 1h0m-8 2h0m0-3h0m-9-1h0m-34 0h0m-1 0h0m-1 0h0m-2 1h0m-3 2h0m-1-4h0m-1 2h0m-3 1h0m-1 2h0m-2-2h0m-3-1h0m0 3h0m-4-4h0m-5 4h0m-3-5h0m-13 3h0m-2-1h0m-8 5h0m22 3h0m2 0h0m5 0h0m0-3h0m0-1h0m1 1h0m2-1h0m1 5h0m3-2h0m3-3h0m1 2h0m1-2h0m2 0h0m1 3h0m45 1h0m8-1h0m1 2h0m1-3h0m4 3h0m2-5h0m2 2h0m0-2h0m3 4h0m0-4h0m1 2h0m14 0h0m10-2h0m1 2h0m26 5h0m-50-1h0m0 5h0m-1-3h0m-5 0h0m-1-2h0m-2 4h0m-3 1h0m-3 0h0m-1-1h0m-1-2h0m-1-2h0m-2 2h0m-2 3h0m-55-5h0m-3 3h0m-2 0h0m-2-2h0m-1 2h0m-2-3h0m-1 0h0m0 1h0m-1 3h0m-2 1h0m-2-3h0m-1 0h0m-6 2h0m-2-1h0m-14 0h0m9 6h0m5 1h0m6 1h0m0-1h0m1 0h0m4-4h0m4 2h0m1 2h0m3-4h0m63 4h0m1-1h0m1 2h0m0-3h0m2-2h0m1 1h0m1-1h0m2 4h0m2-2h0m3 1h0m1 2h0m1-3h0m15 0h0m5 2h0m14 4h0m-32 1h0m-5 0h0m-1-3h0m-1 0h0m-1 5h0m-4-3h0m-1 3h0m-1-1h0m-2 1h0m-3 0h0m-60-3h0m-9-1h0m-1 3h0m-2 1h0m-2 0h0m0-5h0m-2 0h0m-1 3h0m-2 2h0m-4-2h0m2 3h0m3 3h0m1 2h0m1-1h0m2-1h0m5-2h0m70 3h0m2-3h0m0 2h0m1-2h0m1 1h0m0-2h0m2 5h0m2-4h0m1 4h0m5-3h0m6 1h0m19-3h0m21 0h0m18 6h0m-22 1h0m-28 3h0m-1-2h0m-5-1h0m-3 3h0m-13-4h0m-1 2h0m0-1h0m-1 0h0m-2 1h0m-4-1h0m-6 3h0m-1 0h0m3 6h0m4 1h0m1-4h0m6 2h0m2-2h0m2 2h0m34-2h0m19 3h0m4 0h0m11 2h0m-50 5h0m-17-2h0m-4 0h0m-7 2h0m-1 0h0m-1-3h0m-2 0h0m0 2h0m-3 0h0m-3-4h0m-2 4h0m-2-3h0m-21 10h0m1 0h0m5-1h0m1-1h0m0-1h0m7 1h0m1 2h0m3-5h0m2 0h0m0 5h0m0-4h0m1 1h0m1 0h0m2-1h0m3 2h0m2-3h0m6 1h0m3 1h0m3 3h0m-10 6h0m-6-3h0m0-2h0m-1 0h0m-1 2h0m-2-1h0m-5 2h0m-1-1h0m-1 0h0m-3 2h0m-3-4h0m-2 4h0m0-4h0m0 1h0m-4-1h0m0 3h0m-1 2h0m-4-1h0m0-2h0m-2 3h0m0-2h0m-8 7h0m3 1h0m0-1h0m2 0h0m2-1h0m2 1h0m2-1h0m0-1h0m1 1h0m2-2h0m1 4h0m1-3h0m0 2h0m2 0h0m1-3h0m0 1h0m5-1h0m3 3h0m1-2h0m3-2h0m1 0h0m3 4h0m3-4h0m10 5h0m3-5h0m-17 10h0m-10 0h0m-6-3h0m-4 4h0m-1-2h0m-7 0h0m-1 1h0m-1-3h0m-2 1h0m-1-2h0m0 4h0m-3 1h0m0 2h0m3 2h0m15 0h0m1-3h0m-2 7h0" stroke="#0000ff" stroke-width="1.7" stroke-linecap="square"/>
<path d="M181 833h0m0 1h0m-18 4h0m-5 7h0m0-1h0m1 1h0m8-4h0m2 2h0m16-2h0m2 4h0m2-1h0m15 7h0m-11-2h0m-2 0h0m-1 1h0m-1-1h0m0-2h0m-1 2h0m-1 0h0m-1 2h0m-1-3h0m0 3h0m-1-3h0m-1 3h0m-1-2h0m0 2h0m-2 0h0m-1-4h0m-1 0h0m0 4h0m-2-3h0m-3 0h0m0 1h0m-7 2h0m0-1h0m-1-1h0m-1 2h0m0-4h0m-1 3h0m0 1h0m0-3h0m-2 1h0m0-2h0m-1 4h0m-2-1h0m1 5h0m2 1h0m0-2h0m1-2h0m0 2h0m0 1h0m1-3h0m1 1h0m1-1h0m1 3h0m3 0h0m0-3h0m1 1h0m0 2h0m1 2h0m1-2h0m0 2h0m1-5h0m0 4h0m1-4h0m3 2h0m1 3h0m0-5h0m0 3h0m1-2h0m0 3h0m0-2h0m2 1h0m0 1h0m1 1h0m1 0h0m0-4h0m1 0h0m1 2h0m1 1h0m0-2h0m1-1h0m0 4h0m0-3h0m0 1h0m1 1h0m0-4h0m1 4h0m1 0h0m0-1h0m2 2h0m2-4h0m1 4h0m0-3h0m1 1h0m0-1h0m3 2h0m-4 5h0m0-1h0m-2 0h0m-6-2h0m-1 3h0m0-3h0m-1 5h0m-2 0h0m-1 0h0m-2-5h0m-1 4h0m-2 0h0m-1-3h0m-2 2h0m-1-1h0m0-2h0m-1 2h0m0 2h0m-3-3h0m-1 2h0m0-1h0m-5-1h0m-2 1h0m0-1h0m-1 2h0m-2 2h0m0-3h0m-1 2h0m0 1h0m-2-2h0m-6 7h0m1-3h0m0 3h0m1-3h0m1 4h0m1-3h0m0-2h0m2 2h0m0-1h0m1 2h0m1 2h0m0-3h0m3 1h0m2-3h0m3 0h0m2 5h0m0-4h0m1-1h0m0 1h0m1-1h0m3 3h0m1-1h0m1-2h0m1 1h0m3-1h0m1 4h0m1-1h0m1-1h0m1-1h0m1 1h0m0-1h0m1 0h0m1 0h0m1 0h0m1 4h0m0-3h0m1-1h0m1 2h0m1 0h0m2-2h0m0 2h0m0 2h0m1-1h0m0 5h0m0-1h0m-1-2h0m-3 2h0m0-2h0m-2 1h0m-1-1h0m0 4h0m-2 1h0m-1-4h0m0 2h0m-1-1h0m0 1h0m0 2h0m-1-5h0m-2 4h0m0-1h0m-3 0h0m-2 1h0m-1 0h0m0-2h0m0 1h0m-1 2h0m-1-5h0m0 5h0m0-3h0m-1-1h0m0 4h0m-1-4h0m0 2h0m-1 1h0m-1-3h0m0-1h0m-4 1h0m-2 2h0m-1-1h0m-1 3h0m-1-5h0m-3 3h0m-1-3h0m0 1h0m0 2h0m-3 1h0m-1-4h0m0 3h0m-1-2h0m-1 3h0m0-1h0m-1 2h0m0-3h0m-1-2h0m-1 0h0m0 4h0m0-3h0m-5 3h0m-2 0h0m-3-4h0m0 5h0m-1-4h0m-2-1h0m-3 11h0m1-1h0m1 0h0m1 1h0m0-2h0m5 0h0m2 2h0m5-3h0m1 0h0m11-2h0m6 3h0m0 1h0m6 1h0m3-4h0m0-1h0m1 0h0m0 1h0m2-1h0m1 3h0m0-2h0m2 3h0m1-2h0m0-1h0m2 2h0m0-3h0m0 2h0m1 3h0m1 0h0m0-5h0m1 0h0m1 5h0m0-3h0m1 0h0m4 4h0m-2 0h0m-2 2h0m-1 1h0m-4-2h0m0 4h0m-1-2h0m0-1h0m-1-1h0m-1 2h0m-1-2h0m-3 4h0m-4-2h0m-3-1h0m-11 2h0m-12 1h0m-4-3h0m-6-1h0m0 2h0m-2-2h0m0 4h0m-1-3h0m0 1h0m-1-1h0m-1 3h0m0-5h0m-4 4h0m-2 0h0m-9 6h0m6 1h0m0-1h0m1-2h0m0 1h0m3-3h0m0 2h0m1 0h0m1 1h0m1-1h0m4-2h0m2 0h0m39 0h0m1 1h0m5 4h0m1 0h0m0-2h0m0-1h0m1 3h0m0-5h0m2 4h0m1 1h0m1-4h0m1 0h0m5 3h0m1-1h0m-4 3h0m-4 0h0m-2 1h0m0-1h0m-1 0h0m-1 1h0m-3 1h0m-2-1h0m-3 3h0m0-2h0m-43 2h0m-3-2h0m-3 3h0m-3 0h0m0-4h0m0 1h0m-1-1h0m0 2h0m-1-1h0m-1 3h0m0-1h0m-1-4h0m-1 0h0m-1 2h0m-1 3h0m0-3h0m-4 1h0m0 7h0m4-2h0m1 0h0m1-2h0m3 0h0m0 1h0m0 2h0m1-1h0m1-1h0m2 0h0m0 3h0m1-3h0m0 1h0m4-1h0m1 0h0m44 4h0m2 0h0m1-1h0m0-1h0m1 0h0m1-1h0m1 1h0m0 1h0m0-2h0m1 1h0m1 0h0m0-3h0m1 3h0m1-3h0m1 0h0m-2 7h0m-1 4h0m-1-5h0m0 5h0m-1-2h0m0-2h0m-1 1h0m-3 3h0m0-4h0m-1 1h0m0-1h0m-1-1h0m0 1h0m0 2h0m-1 0h0m-5-1h0m-9 5h0m3 4h0m0-1h0m1 0h0m4 0h0m2-2h0m1 3h0m2-4h0m0 3h0m0-4h0m0 3h0m2-1h0m0-1h0m1 2h0m2-2h0m0 1h0m2 0h0m2-2h0m0 2h0m-1 4h0m-4 3h0m-1 2h0m-2-2h0m-2-3h0m-3 1h0m0 1h0m-1 1h0m-1-1h0m-1 2h0m0-4h0m0 5h0m-1 0h0m-1-2h0m-1-1h0m0-2h0m-2 2h0m-1 2h0m-2 1h0m-1-2h0m-3 1h0m-2-2h0m-17 7h0m0 2h0m1-4h0m1 1h0m1 1h0m1 0h0m0 2h0m4-5h0m1 2h0m2 0h0m2 0h0m2 0h0m1 1h0m2 2h0m2-4h0m1 1h0m1 1h0m2 0h0m1-1h0m0-2h0m2 5h0m1-2h0m0 1h0m1-2h0m0 2h0m1-2h0m2 0h0m0-2h0m1 3h0m8 1h0m-5 2h0m-7 2h0m-1 0h0m-2 1h0m-1-1h0m0-1h0m-1 4h0m0-3h0m-1 3h0m-4-3h0m0 2h0m-1 0h0m-1-3h0m0-1h0m0 3h0m-2 0h0m-2 0h0m-1-3h0m-2 5h0m0-5h0m-1 2h0m0 2h0m-1 1h0m0-5h0m-1 4h0m-1-4h0m0 3h0m0-1h0m-1-1h0m-1 4h0m-2-3h0m0 3h0m-1 0h0m0-4h0m-1-1h0m2 8h0m0-1h0m3 1h0m1 0h0m0 1h0m0-3h0m0 1h0m3 1h0m1 0h0m6 1h0m3-3h0m1 5h0m0-4h0m-11 5h0" stroke="#00d8ff" stroke-width="1.7" stroke-linecap="square"/>
<path d="M182 850h0m-1 1h0m-4-1h0m-9 7h0m1-1h0m7-3h0m0 1h0m1-2h0m3 0h0m7 4h0m-9 6h0m-2 0h0m-2 0h0m-2-1h0m0-2h0m-1-1h0m0 1h0m-2 1h0m-3 2h0m-4 0h0m-2 0h0m-2 4h0m1 1h0m0-1h0m1-2h0m0 4h0m0-2h0m0 3h0m1-1h0m0 1h0m0-2h0m2 1h0m0-1h0m2 1h0m0 1h0m0-3h0m0 1h0m1-1h0m0 2h0m2-2h0m1-1h0m2-1h0m1 0h0m1 5h0m0-1h0m0-1h0m1-1h0m0-1h0m0 2h0m1-3h0m1 2h0m0 1h0m0-2h0m1 4h0m0-1h0m0-2h0m1 3h0m1-2h0m1-1h0m5 0h0m5 2h0m-7 6h0m-5 0h0m-1-3h0m0 4h0m-2 0h0m0-5h0m-1 5h0m0-5h0m-1 5h0m-1-5h0m-2 0h0m-2 2h0m-2-2h0m0 5h0m-1-5h0m-2 4h0m-1-2h0m0-2h0m0 4h0m-1 0h0m-1-3h0m-1 0h0m0 3h0m-1-2h0m-1-1h0m0 1h0m0-2h0m-1 0h0m0 2h0m-3 3h0m-1-2h0m-1 0h0m0-1h0m-1 3h0m0-3h0m-1 2h0m-1 1h0m-1-4h0m-6 3h0m-1 1h0m-7 2h0m0 4h0m1-1h0m1 1h0m2-1h0m1-3h0m0 3h0m2 0h0m1 1h0m1-3h0m0 1h0m1 2h0m0-5h0m1 1h0m1 2h0m1-3h0m0 2h0m0 3h0m1-4h0m0 1h0m1-1h0m0 3h0m0-2h0m1-2h0m1 1h0m0-1h0m0 2h0m1 3h0m1-5h0m0 2h0m1 1h0m1 2h0m0-4h0m0-1h0m0 2h0m1 2h0m0-3h0m1 3h0m2-2h0m0-2h0m1 0h0m1 4h0m0-3h0m1 3h0m0-1h0m0-3h0m1 5h0m0-4h0m0-1h0m1 5h0m0-3h0m1-2h0m0 5h0m0-3h0m1 0h0m0 3h0m0-2h0m1 1h0m0-1h0m0-2h0m1 4h0m0-4h0m0 3h0m0-1h0m1 0h0m0 1h0m1-3h0m1 3h0m1 0h0m1-2h0m0 3h0m1-1h0m0-3h0m1 0h0m1 3h0m1 0h0m0-1h0m1 2h0m2-3h0m0 1h0m1-2h0m-3 5h0m0 4h0m-2-2h0m0 2h0m0-4h0m-1 4h0m-1-1h0m0-1h0m0 2h0m0-3h0m-2-1h0m0 2h0m0 1h0m-1-3h0m0 4h0m0-3h0m-2 0h0m0 1h0m0 2h0m-1-2h0m0 3h0m0-5h0m0 1h0m0 2h0m-1-3h0m0 5h0m-1-4h0m-1 3h0m-1-4h0m0 3h0m0-2h0m-1 0h0m-2 4h0m0-5h0m-1 4h0m0-3h0m0 4h0m-1-5h0m0 2h0m-1 0h0m0 3h0m0-5h0m-1 3h0m-1-1h0m0-1h0m-1-1h0m0 3h0m-1-2h0m-1 3h0m-1-4h0m0 1h0m-1 1h0m0-1h0m0 4h0m-1-4h0m-1 1h0m0-1h0m-1 4h0m0-2h0m0 1h0m-1-4h0m0 3h0m0 1h0m0-2h0m-1-2h0m0 2h0m-1-2h0m-1 2h0m0-2h0m-1 0h0m-1 4h0m-1-1h0m0-1h0m-1 2h0m0-3h0m0 2h0m-1-3h0m-1 5h0m0-1h0m0-4h0m-1 0h0m0 5h0m0-1h0m-1 1h0m0-1h0m0-1h0m-1 0h0m-2-2h0m0 4h0m-1-3h0m0 1h0m-5 2h0m-5 6h0m1-4h0m0 4h0m0-2h0m0-1h0m1 2h0m1-3h0m1 4h0m0-1h0m0-2h0m0-1h0m1-1h0m0 1h0m2 0h0m0 1h0m0 3h0m1-4h0m0 2h0m0-1h0m1 0h0m0-1h0m0 3h0m0 1h0m1-4h0m0 3h0m2 0h0m1-4h0m0 3h0m1 1h0m1-1h0m1 2h0m0-5h0m0 1h0m1-1h0m1 4h0m1-4h0m1 3h0m1 0h0m0-2h0m1 2h0m0-1h0m0 3h0m2-3h0m1 1h0m0-3h0m1 2h0m2-1h0m0 4h0m1-2h0m0 2h0m0-1h0m1 1h0m0-5h0m1 5h0m0-1h0m1-4h0m0 5h0m0-2h0m0-2h0m3 0h0m1 1h0m0-1h0m2 0h0m0 2h0m1-3h0m0 1h0m1 2h0m0-3h0m0 1h0m1 2h0m1-3h0m1 1h0m0-1h0m1 0h0m0 4h0m0-1h0m1-3h0m1 2h0m0 2h0m2-2h0m0 1h0m0-2h0m0 4h0m1-5h0m1 1h0m1 1h0m0 3h0m1-5h0m0 1h0m1 2h0m1-1h0m0 2h0m2-3h0m0 3h0m1-4h0m1 1h0m1 3h0m1-1h0m0 5h0m-3-2h0m-2 1h0m0-1h0m0 3h0m-1-2h0m0-1h0m0 3h0m0 1h0m-1-3h0m0 3h0m-1 1h0m0-5h0m-1 1h0m0 4h0m-1-3h0m0-2h0m-2 4h0m0-2h0m-1 3h0m-1-3h0m-1-2h0m-5 5h0m-2 0h0m-2-5h0m-1 1h0m0 1h0m0 3h0m-1-4h0m0 3h0m-1-4h0m0 4h0m-1 0h0m-1-1h0m0 1h0m-1-3h0m-1 0h0m-1 1h0m-2 2h0m-2-2h0m-3-2h0m-1 3h0m-1-3h0m-1 5h0m0-4h0m-1 2h0m0 2h0m-1-2h0m0-1h0m-1 2h0m-1-3h0m0 4h0m0-2h0m-1-3h0m-2 3h0m0 1h0m-1-4h0m0 5h0m-1 0h0m0-5h0m0 1h0m-1-1h0m0 5h0m-1-2h0m0 1h0m-1-3h0m0 1h0m-1 1h0m-1-2h0m0 3h0m-2 0h0m-6 1h0m2 6h0m2-2h0m1 0h0m0-1h0m1 2h0m0-3h0m1 4h0m0-4h0m1 1h0m2-2h0m1 4h0m0-2h0m1 1h0m1 1h0m0-1h0m0-1h0m0-2h0m1 0h0m0 2h0m1-2h0m0 2h0m1 3h0m0-5h0m1 5h0m0-5h0m0 2h0m1 3h0m2-1h0m1 0h0m1-3h0m4-1h0m4 4h0m1-4h0m1 5h0m1-5h0m1 4h0m0 1h0m2-5h0m1 0h0m3 0h0m1 2h0m0-2h0m1 2h0m2 3h0m1-3h0m1-2h0m1 3h0m0-3h0m0 4h0m1 0h0m0-4h0m0 1h0m0 4h0m2-5h0m1 4h0m0 1h0m1-4h0m0-1h0m1 1h0m1 1h0m2-2h0m1 0h0m3 1h0m-2 5h0m-3 4h0m0-4h0m-3 4h0m-1-4h0m-1 2h0m-1 2h0m0 1h0m-1-3h0m0-1h0m0 4h0m-1-4h0m0-1h0m-1 5h0m0-3h0m-1 3h0m-1-3h0m0-1h0m-1 3h0m-1 0h0m-1 1h0m0-1h0m-1 0h0m-1-1h0m0-1h0m0 3h0m-7-2h0m-1-2h0m-1 0h0m-4 4h0m-1-4h0m-1 0h0m-1 4h0m-4-2h0m0 2h0m-2-5h0m-1 1h0m-1 0h0m-1 0h0m0-1h0m-1 8h0m1-1h0m1 1h0m0-2h0m1 3h0m0-2h0m1 3h0m0-2h0m1 3h0m0-1h0m1 1h0m1 0h0m0-3h0m0 2h0m1-2h0m2 3h0m1-5h0m0 4h0m1 1h0m1-3h0m2 2h0m1-2h0m1-2h0m2 3h0m0-2h0m1 1h0m0-2h0m0 5h0m2 0h0m0-1h0m1-2h0m0 2h0m1-3h0m1-1h0m0 4h0m1-4h0m0 1h0m0 3h0m0-1h0m1-3h0m0 4h0m1-3h0m1 2h0m1-2h0m2 0h0m2 2h0m1 0h0m0-3h0m1 3h0m3 1h0m0 1h0m0-4h0m0 2h0m6-2h0m-10 5h0m-2 0h0m-1 0h0m-1 1h0m-1 3h0m-1-3h0m0 1h0m-3 1h0m-1-2h0m-1 1h0m-1 0h0m0-1h0m0 2h0m-1 2h0m-1-2h0m0-3h0m0 4h0m-1-3h0m-2 3h0m-1 0h0m0-1h0m-1 1h0m0-1h0m0 2h0m-1-2h0m0 1h0m0 1h0m-1 0h0m0-1h0m-2 1h0m0-5h0m-1 4h0m0-4h0m-1 2h0m0 1h0m0-2h0m0 3h0m-1 0h0m-1 1h0m-1-3h0m0 3h0m-1-2h0m0-1h0m-1-1h0m-1-1h0m0 4h0m0-1h0m0 2h0m-1-1h0m0-4h0m-1 3h0m0-1h0m0 3h0m-1-3h0m0-1h0m-1 2h0m0-1h0m0 5h0m1-1h0m1 0h0m1 1h0m1-1h0m1 4h0m0-4h0m0 1h0m2 3h0m0-1h0m0-2h0m1 4h0m0-4h0m1 0h0m0-1h0m0 3h0m0 1h0m2-4h0m3 0h0m0 1h0m0 1h0m2-2h0m2 0h0m5 0h0m3 1h0m0-1h0m2 0h0m5 0h0m-26 8h0m-1-1h0m-1 4h0m-1-4h0m0 2h0m-1-2h0m-3 0h0m1 5h0m1 0h0m3 1h0" stroke="#00ff00" stroke-width="1.7" stroke-linecap="square"/>
<path d="M149 880h0m2 0h0m1-1h0m1-2h0m0 4h0m1-2h0m0 1h0m2-1h0m0 2h0m1-1h0m0-1h0m2 0h0m1 2h0m6 0h0m3 3h0m-3-1h0m-2 4h0m-2 0h0m-1 0h0m-1-1h0m-2 0h0m-1-1h0m0-2h0m-1 3h0m0-3h0m-1 2h0m-1-2h0m0 3h0m0 1h0m-1-5h0m0 5h0m0-2h0m0-1h0m-1-2h0m0 2h0m-1 1h0m-1 1h0m-1 1h0m0-1h0m0-1h0m-2-2h0m0 1h0m-1 3h0m-2-3h0m-2 3h0m0-1h0m-1 1h0m0-3h0m-1 2h0m-1 1h0m-1-1h0m0-3h0m0 4h0m-1-3h0m-1-1h0m-7 10h0m3-4h0m1 4h0m0-2h0m1 1h0m0-2h0m1 3h0m1-4h0m1 1h0m0 2h0m1 1h0m0-2h0m1-2h0m0-1h0m0 5h0m1-1h0m0-1h0m0-2h0m1-1h0m1 5h0m0-3h0m2 0h0m0-1h0m0 2h0m1-3h0m0 4h0m0 1h0m0-4h0m1 1h0m1 1h0m1 2h0m0-4h0m1 2h0m0-1h0m1-2h0m1 3h0m0 1h0m1-4h0m0 1h0m2 0h0m0 2h0m1 0h0m0 1h0m1 1h0m1-2h0m0 1h0m1 1h0m0-4h0m0 3h0m0-1h0m1 1h0m0 1h0m1 0h0m3-3h0m0 2h0m0-1h0m2 2h0m1 0h0m0-4h0m0 3h0m2 1h0m1-1h0m1 7h0m-2-2h0m0 1h0m-1-1h0m0 1h0m-1-2h0m0-1h0m-1 1h0m0-2h0m0 3h0m-1 1h0m0-2h0m0-2h0m-1 0h0m0 4h0m0 1h0m0-4h0m0 1h0m-2-1h0m-2 2h0m0-1h0m-1 2h0m0-1h0m0-2h0m-1 2h0m-1 1h0m-1-4h0m-1 5h0m-1 0h0m0-4h0m0 1h0m-1 3h0m0-5h0m0 2h0m-1 1h0m0 2h0m0-1h0m-1-1h0m-1 0h0m-1-2h0m-1-1h0m0 1h0m-1 1h0m-1 3h0m0-4h0m-1 0h0m-1 3h0m0 1h0m-1-4h0m0 2h0m-1-1h0m0-2h0m0 4h0m-2-1h0m0-1h0m-1 2h0m0-3h0m-1-1h0m-2 0h0m-1 5h0m0-2h0m-1 0h0m0-1h0m0-2h0m0 1h0m-1-1h0m0 2h0m0-1h0m-1 1h0m-2 1h0m-6 8h0m3 0h0m0-1h0m1 1h0m0-1h0m1-3h0m3 3h0m0 1h0m2-2h0m0-1h0m1-1h0m1 0h0m0 2h0m1-3h0m0 3h0m0 1h0m1-4h0m1 2h0m1 3h0m0-2h0m2 2h0m0-2h0m0-3h0m1 1h0m0 2h0m4-2h0m0 1h0m0-2h0m2 3h0m2 1h0m0-2h0m0-1h0m1-1h0m1 2h0m0-1h0m0 4h0m0-1h0m1-1h0m0 2h0m2-1h0m0-4h0m0 5h0m1-4h0m1 3h0m1-1h0m0 1h0m1-3h0m0 3h0m1 0h0m0-2h0m1 0h0m1 1h0m0-2h0m1 0h0m3 2h0m0-2h0m0 1h0m1 0h0m0 1h0m1-1h0m0-1h0m3-1h0m-8 10h0m0-1h0m0-2h0m0-1h0m-1 0h0m0 1h0m-1 3h0m-1-2h0m-1-2h0m0 1h0m-1 1h0m-1 1h0m-2-1h0m0 3h0m0-4h0m0 2h0m-1 2h0m0-5h0m0 4h0m0-1h0m0-2h0m-1 1h0m0 1h0m-1-2h0m0 4h0m-1-2h0m0-1h0m-1-2h0m0 2h0m0 2h0m0-1h0m-1 1h0m0-3h0m0 4h0m-1-2h0m0-1h0m-2 1h0m-1 0h0m0-1h0m0 2h0m-1 1h0m0-1h0m-1-2h0m-2-2h0m-1 0h0m0 1h0m0 2h0m0-1h0m-1 0h0m0-2h0m0 5h0m-1 0h0m0-4h0m0 3h0m0-4h0m-1 1h0m-1 1h0m-1-2h0m0 4h0m0-3h0m0 2h0m-1 1h0m0 1h0m0-4h0m-1 2h0m-1-1h0m0 2h0m0-4h0m-1 3h0m0 2h0m-1 1h0m1 4h0m0-4h0m0 3h0m1 0h0m2-2h0m0 2h0m2-1h0m0-2h0m0 4h0m1-4h0m0 3h0m1 1h0m0-3h0m2 0h0m1 0h0m1 3h0m1-4h0m0 3h0m0-2h0m1 3h0m0-3h0m2 3h0m0 1h0m0-4h0m1 4h0m1-1h0m0 1h0m1-3h0m1 2h0m0-3h0m1 1h0m1-1h0m1 2h0m0-3h0m1 5h0m0-3h0m1 0h0m1 0h0m0 3h0m3-5h0m3 0h0m1 0h0m-11 6h0m-4 3h0m-1-3h0m0 1h0m-1-1h0m-1 2h0m-1-1h0m0 1h0m-1-1h0m0-1h0m0 5h0m-2-4h0m-2 1h0m0-2h0m0 3h0m0-2h0m-1 0h0m0-1h0m-2 1h0m-1 1h0m-2 0h0" stroke="#ffff00" stroke-width="1.7" stroke-linecap="square"/>
<path d="M138 892h0m3-2h0m0 3h0m2-1h0m1 1h0m0-1h0m2 0h0m1 1h0m6-1h0m1 0h0m1 1h0m0-3h0m5 2h0m1 1h0m1-1h0m7 7h0m-4-4h0m0 3h0m0 1h0m-1 0h0m0-4h0m0 2h0m-2-2h0m0 1h0m0 1h0m-1-3h0m0 3h0m-1-3h0m0 2h0m-1 2h0m0-3h0m-2 4h0m-2-3h0m-1 0h0m0 1h0m-4 1h0m-1-3h0m-1 2h0m0 1h0m0-2h0m0 3h0m-1-2h0m-1 2h0m-2-5h0m0 5h0m0-1h0m-1-3h0m0 2h0m0-1h0m-1 3h0m-2-1h0m0 1h0m0-2h0m-3 6h0m0-1h0m1 3h0m1-1h0m0-4h0m1 1h0m0 3h0m0 1h0m1-4h0m0 1h0m2 2h0m0-2h0m0-1h0m0 4h0m0-2h0m1 2h0m0-5h0m0 3h0m0-1h0m1-2h0m0 1h0m0 4h0m1-1h0m0-1h0m0 2h0m1 0h0m0-3h0m0-1h0m1 4h0m0-1h0m0-3h0m3 2h0m1 0h0m0-3h0m1 4h0m0-2h0m1 0h0m1 1h0m1-3h0m0 5h0m0-1h0m6-4h0m1 2h0m1 0h0m1 0h0m-8 6h0m-1-1h0m-3 3h0m-2 0h0m0-4h0m-1 5h0m-2-1h0m0-4h0m-1 2h0m0 3h0m0-2h0m-1-3h0m0 4h0m-1-3h0m0 4h0m0-5h0m-1 2h0m0-1h0m-1 0h0m0 2h0m0 1h0m-1 0h0m0-4h0m0 3h0m-2 1h0m-1-1h0m-1 0h0m-1 2h0m-2 0h0m0 2h0m0-1h0m0 2h0m2-1h0m1-1h0m1 1h0m0 4h0m0-5h0m0 3h0m0-1h0m1 1h0m0 1h0m2-3h0m0 1h0m1 2h0m0 1h0m1 0h0m0-3h0m1-1h0m1 2h0m0-3h0m1 3h0m1-3h0m0 2h0m0 1h0m0-2h0m1-1h0m2 3h0m-9 6h0m-2-3h0" stroke="#ff0000" stroke-width="1.7" stroke-linecap="square"/>
<path d="M165 973h1M201 973h1M205 973h1M152 973h1M183 973h1M151 973h1M154 973h1M209 973h1M113 973h1M225 973h1M184 973h1M129 973h1M183 973h1M167 973h1M243 973h1M212 973h1M144 973h1M249 973h1M242 973h1M193 973h1M122 973h1M211 973h1M174 973h1M205 973h1M125 973h1M127 973h1M133 973h1M193 973h1M220 973h1M163 973h1M124 973h1M135 973h1M159 973h1M212 973h1M161 973h1M218 973h1M247 973h1M158 973h1M175 973h1M176 973h1M175 973h1M204 973h1M236 973h1M197 973h1M170 973h1M199 973h1M248 973h1M142 973h1M175 973h1M217 973h1M185 973h1M114 973h1M157 973h1M169 973h1M189 973h1M174 973h1M216 973h1M205 973h1M213 973h1M138 973h1M251 973h1M201 973h1M152 973h1M247 973h1M207 973h1M255 973h1M183 973h1M217 973h1M177 973h1M157 973h1M217 973h1M148 973h1M187 973h1M190 973h1M190 973h1M141 973h1M243 973h1M202 973h1M178 973h1M225 973h1M152 973h1M210 973h1M167 973h1M174 973h1M164 973h1M191 973h1M219 973h1M152 973h1M178 973h1M198 973h1" stroke="#1a3cff" stroke-width="1.6"/>
<rect x="79.3" y="615.6" width="364.9" height="358.9" fill="none" stroke="#111" stroke-width="1.6"/>
<line x1="188.4" y1="615.6" x2="188.4" y2="974.5" stroke="#000" stroke-width="2.8"/>
<line x1="79.3" y1="808.8" x2="444.2" y2="808.8" stroke="#000" stroke-width="2.8"/>
<path d="M68.3 938.5H79.3M74.3 916.9H79.3M74.3 904.3H79.3M74.3 895.4H79.3M74.3 888.5H79.3M74.3 882.8H79.3M74.3 878H79.3M74.3 873.8H79.3M74.3 870.2H79.3M74.3 967H79.3M74.3 960.1H79.3M74.3 954.4H79.3M74.3 949.6H79.3M74.3 945.4H79.3M74.3 941.8H79.3M68.3 866.9H79.3M74.3 845.3H79.3M74.3 832.7H79.3M74.3 823.8H79.3M74.3 816.9H79.3M74.3 811.2H79.3M74.3 806.4H79.3M74.3 802.2H79.3M74.3 798.6H79.3M68.3 794.6H79.3M74.3 773H79.3M74.3 760.4H79.3M74.3 751.5H79.3M74.3 744.6H79.3M74.3 738.9H79.3M74.3 734.1H79.3M74.3 729.9H79.3M74.3 726.3H79.3M68.3 723.8H79.3M74.3 702.2H79.3M74.3 689.6H79.3M74.3 680.7H79.3M74.3 673.8H79.3M74.3 668.1H79.3M74.3 663.3H79.3M74.3 659.1H79.3M74.3 655.5H79.3M68.3 653H79.3M74.3 631.4H79.3M74.3 618.8H79.3" stroke="#111" stroke-width="1.4"/>
<rect x="68.3" y="937.5" width="11" height="2.2" fill="#111"/>
<rect x="68.3" y="865.9" width="11" height="2.2" fill="#111"/>
<rect x="68.3" y="793.6" width="11" height="2.2" fill="#111"/>
<rect x="68.3" y="722.8" width="11" height="2.2" fill="#111"/>
<rect x="68.3" y="652" width="11" height="2.2" fill="#111"/>
<path d="M113.9 974.5V983.5M135.9 974.5V979.5M148.8 974.5V979.5M157.9 974.5V979.5M165 974.5V979.5M170.8 974.5V979.5M175.7 974.5V979.5M179.9 974.5V979.5M183.7 974.5V979.5M84.8 974.5V979.5M91.9 974.5V979.5M97.7 974.5V979.5M102.6 974.5V979.5M106.8 974.5V979.5M110.6 974.5V979.5M187 974.5V983.5M209 974.5V979.5M221.9 974.5V979.5M231 974.5V979.5M238.1 974.5V979.5M243.9 974.5V979.5M248.8 974.5V979.5M253 974.5V979.5M256.8 974.5V979.5M259.2 974.5V983.5M281.2 974.5V979.5M294.1 974.5V979.5M303.2 974.5V979.5M310.3 974.5V979.5M316.1 974.5V979.5M321 974.5V979.5M325.2 974.5V979.5M329 974.5V979.5M332 974.5V983.5M354 974.5V979.5M366.9 974.5V979.5M376 974.5V979.5M383.1 974.5V979.5M388.9 974.5V979.5M393.8 974.5V979.5M398 974.5V979.5M401.8 974.5V979.5M404.5 974.5V983.5M426.5 974.5V979.5M439.4 974.5V979.5" stroke="#111" stroke-width="1.4"/>
<rect x="112.7" y="974.5" width="2.4" height="9" fill="#111"/>
<rect x="185.8" y="974.5" width="2.4" height="9" fill="#111"/>
<rect x="258" y="974.5" width="2.4" height="9" fill="#111"/>
<rect x="330.8" y="974.5" width="2.4" height="9" fill="#111"/>
<rect x="403.3" y="974.5" width="2.4" height="9" fill="#111"/>
<text class="a" x="45.8" y="947.5" font-size="13" text-anchor="middle">10</text>
<text class="a" x="53.5" y="938.1" font-size="13">2</text>
<text class="a" x="45.8" y="875.9" font-size="13" text-anchor="middle">10</text>
<text class="a" x="53.5" y="866.5" font-size="13">3</text>
<text class="a" x="45.8" y="803.6" font-size="13" text-anchor="middle">10</text>
<text class="a" x="53.5" y="794.2" font-size="13">4</text>
<text class="a" x="45.8" y="732.8" font-size="13" text-anchor="middle">10</text>
<text class="a" x="53.5" y="723.4" font-size="13">5</text>
<text class="a" x="45.8" y="662" font-size="13" text-anchor="middle">10</text>
<text class="a" x="53.5" y="652.6" font-size="13">6</text>
<text class="a" x="115.9" y="1015" font-size="13" text-anchor="middle">10</text>
<text class="a" x="123.6" y="1005.6" font-size="13">3</text>
<text class="a" x="189" y="1015" font-size="13" text-anchor="middle">10</text>
<text class="a" x="196.7" y="1005.6" font-size="13">4</text>
<text class="a" x="261.2" y="1015" font-size="13" text-anchor="middle">10</text>
<text class="a" x="268.9" y="1005.6" font-size="13">5</text>
<text class="a" x="334" y="1015" font-size="13" text-anchor="middle">10</text>
<text class="a" x="341.7" y="1005.6" font-size="13">6</text>
<text class="a" x="406.5" y="1015" font-size="13" text-anchor="middle">10</text>
<text class="a" x="414.2" y="1005.6" font-size="13">7</text>
<text class="a" x="86.3" y="645.6" font-size="15.5">Q1</text>
<text class="a" x="86.3" y="672.1" font-size="15.5">0.11</text>
<text class="a" x="412.2" y="645.6" font-size="15.5" text-anchor="end">Q2</text>
<text class="a" x="412.2" y="672.1" font-size="15.5" text-anchor="end">0.67</text>
<text class="a" x="412.2" y="929" font-size="15.5" text-anchor="end">Q3</text>
<text class="a" x="412.2" y="954.5" font-size="15.5" text-anchor="end">2.03</text>
<text class="a" x="86.3" y="929" font-size="15.5">Q4</text>
<text class="a" x="86.3" y="954.5" font-size="15.5">97.2</text>
<text class="s" x="31" y="806.5" font-size="27.5" text-anchor="middle" transform="rotate(-90 31 806.5)">PE-A</text>
<text class="s" x="263.3" y="1048" font-size="27.5" text-anchor="middle">Annexin V FITC-A</text>
<rect x="533.5" y="904" width="50.5" height="20" fill="#e2f2f4" filter="url(#bl0)"/>
<path d="M546 905h0m22 0h0m12 3h0m-2-1h0m-1 3h0m-2-1h0m-1 2h0m-5-5h0m-4 3h0m-11-1h0m-3 1h0m-5-3h0m5 8h0m2 0h0m1-2h0m4 3h0m6 0h0m3 0h0m3-3h0m7 10h0m-5-2h0m-14 3h0m25 5h0" stroke="#dfe4fa" stroke-width="1.7" stroke-linecap="square"/>
<path d="M543 905h0m16-1h0m13 0h0m11 5h0m-1-3h0m-4 0h0m-2 3h0m0 2h0m-6-5h0m-3 1h0m-7 0h0m0 1h0m-24 2h0m7 3h0m12 0h0m10-1h0m0 1h0m4 4h0m5-2h0m-1 8h0m-5-5h0m-4 2h0m-26-1h0m5 5h0m9 1h0m16 4h0m5-1h0m-8 7h0m7 1h0" stroke="#c9d3f6" stroke-width="1.7" stroke-linecap="square"/>
<path d="M556 905h0m1 0h0m5-1h0m1 1h0m15 0h0m6 3h0m-2 0h0m0 3h0m0-1h0m-1-1h0m-2 2h0m-2-2h0m-1-1h0m-2 0h0m-4 2h0m-1-1h0m-3-2h0m-16 2h0m12 5h0m2-1h0m1 4h0m2-5h0m13 4h0m1-3h0m1-1h0m2 0h0m-2 7h0m-1 0h0m-7 3h0m-3-3h0m-2-1h0m-16 2h0m-5 4h0m23 0h0m3 10h0" stroke="#cfeef2" stroke-width="1.7" stroke-linecap="square"/>
<path d="M544 905h0m31 0h0m2 0h0m2 0h0m3 0h0m2 6h0m-1 0h0m0-3h0m-2 0h0m-2-1h0m-4 4h0m-1-2h0m-4 0h0m-8 2h0m-8-1h0m-15-2h0m16 6h0m0 1h0m14-1h0m2 2h0m1-3h0m5-1h0m6 0h0m0 4h0m0-1h0m-4 7h0m-1-1h0m-3 1h0m-5 1h0m-4-3h0m-1 0h0m-1-2h0m-1 1h0m-7 0h0m-7 5h0m7 1h0m7 1h0m14 2h0m0-2h0m3 4h0m-10 0h0" stroke="#e8f3f0" stroke-width="1.7" stroke-linecap="square"/>
<path d="M552 905h0m21 0h0m8 0h0m-7 5h0m-1-4h0m-1 1h0m0 1h0m0 1h0m-4-3h0m-9 1h0m-1 0h0m-1 4h0m-1-3h0m-8 7h0m3-3h0m6 3h0m1 2h0m5-2h0m3-2h0m0-1h0m2 1h0m1-1h0m2 0h0m0 2h0m5 2h0m7 2h0m-2 0h0m-14 2h0m-1-2h0m-1 1h0m-1 3h0m6 4h0m6-1h0m0 2h0m1 12h0" stroke="#d8dcf6" stroke-width="1.7" stroke-linecap="square"/>
<path d="M771 671h0m-18-4h0m-8 7h0m13 3h0m13-3h0m6 8h0m-19-1h0m-56-3h0m-6 0h0m53 7h0m4 2h0m0 8h0m-16-4h0m-1 0h0m-2 2h0m-45 3h0m23 4h0m5 1h0m15-2h0m9-2h0m1 1h0m12 1h0m1 1h0m0-2h0m0 8h0m-4-3h0m-1 4h0m-4 0h0m-16-2h0m-1-1h0m-1 1h0m-8 0h0m-9-3h0m-1 0h0m-38 5h0m2 5h0m15-4h0m23 5h0m3-5h0m28 1h0m17 5h0m-43 2h0m-6 1h0m-1-2h0m-36 0h0m-21 10h0m36 0h0m4-3h0m3 3h0m7-2h0m2 2h0m2-3h0m6 2h0m6-1h0m11-2h0m2-1h0m1 3h0m12 1h0m12-1h0m6-2h0m6 7h0m-13-2h0m-11 1h0m-14-1h0m-14 1h0m-8 3h0m-9-1h0m0-2h0m-2-1h0m-4 5h0m-4 0h0m-2-3h0m-2 0h0m-1 2h0m-3-2h0m-6-1h0m-3 0h0m-4 3h0m-1 0h0m-7-4h0m-24 3h0m-11 6h0m4 2h0m0-5h0m12 4h0m0-3h0m5 4h0m1-3h0m5-2h0m1 0h0m7 4h0m2 1h0m20 0h0m6 0h0m2 0h0m3-5h0m11 3h0m1-3h0m0 1h0m11 2h0m3-2h0m6 0h0m2 2h0m4-1h0m0 2h0m2 0h0m43 2h0m-44 1h0m-5 2h0m-1 1h0m-9 1h0m-1 0h0m-7-5h0m-2 0h0m0 5h0m-1-1h0m-3 0h0m-1-1h0m-5 2h0m-4 0h0m-1-4h0m-1 1h0m0-2h0m-3 4h0m-2-3h0m-2 1h0m-2-1h0m0-1h0m0 2h0m-1 1h0m-2-3h0m-3 3h0m-2 1h0m-1-2h0m-1 0h0m-2-2h0m-7 2h0m-1 0h0m-4 2h0m0-1h0m-2 1h0m-2-3h0m-1 0h0m-1 4h0m-1-5h0m-1 2h0m-2-2h0m-1 1h0m-1 2h0m-5 2h0m0-3h0m-4 3h0m0-1h0m-1 0h0m-4 0h0m-3 0h0m-61 1h0m37 4h0m2 1h0m1-2h0m1 2h0m3 0h0m16 0h0m1-2h0m2 0h0m3 3h0m2-5h0m3 4h0m4-1h0m2-1h0m3 3h0m1-1h0m1-3h0m1 2h0m1 0h0m1-1h0m1 2h0m1-1h0m0 2h0m3-5h0m0 2h0m1 1h0m4-1h0m3 2h0m1 1h0m2-2h0m2-3h0m5 3h0m3 0h0m3 2h0m4-3h0m9-2h0m4 3h0m1 1h0m0 1h0m4-1h0m4-1h0m6-1h0m8 1h0m2 0h0m2-2h0m1 0h0m1 2h0m6 5h0m-2 3h0m-9-1h0m-2-1h0m-1-1h0m-4 3h0m-1 0h0m-2-5h0m0 1h0m-1-1h0m0 3h0m-1-3h0m-1 1h0m-1 4h0m-1-5h0m-1 4h0m-3-3h0m-2 0h0m-3 2h0m-7-2h0m0-1h0m-1 0h0m0 3h0m-2 2h0m-4-5h0m0 5h0m-1-1h0m-3-4h0m-1 4h0m-1-4h0m-1 0h0m-3 4h0m-7 1h0m0-1h0m-3-3h0m-4 1h0m-2 1h0m-2-3h0m-6 5h0m-4-4h0m-1-1h0m0 4h0m-1-4h0m-2 0h0m-3 1h0m-1 3h0m0-3h0m-2 4h0m-2-3h0m-3 2h0m-12-4h0m-2 0h0m-2 4h0m-3-3h0m-4 2h0m-9-2h0m-11 3h0m-15-2h0m-15 1h0m40 4h0m6 3h0m1-1h0m3-1h0m1 3h0m4-3h0m2-2h0m2 3h0m2-2h0m0 3h0m2 0h0m1-3h0m1 4h0m6-1h0m0-2h0m1-1h0m0 2h0m15-3h0m2 2h0m4 3h0m0-2h0m3 1h0m12-3h0m3 0h0m2-1h0m3 4h0m4 0h0m4-2h0m6-1h0m2 2h0m1 1h0m3-1h0m0 2h0m1 0h0m4-4h0m1-1h0m2 1h0m8 2h0m9-1h0m5 7h0m-3-1h0m-1-2h0m-3 4h0m-4 1h0m-2-3h0m-1 2h0m-8-1h0m0-2h0m-3 3h0m-1-2h0m0 3h0m-1-3h0m-3-1h0m-1 4h0m-4-5h0m0 5h0m-2-1h0m-1-3h0m-7 1h0m-1 0h0m-2-1h0m-4 0h0m-1 1h0m0 2h0m-1-1h0m-2-2h0m-2 3h0m-9 1h0m-3-3h0m0 1h0m-2 1h0m-2 1h0m-14-1h0m-3-2h0m0-1h0m-6 2h0m-3 0h0m0-2h0m-2 0h0m-1-1h0m-1 3h0m-1 1h0m-6-2h0m-1-2h0m-1 1h0m-2 2h0m-2-1h0m0 3h0m-2 0h0m-2-5h0m-2 5h0m-2-5h0m0 5h0m-2 0h0m-1-3h0m-1-2h0m-7 2h0m-2 1h0m-8-3h0m-7 5h0m-2-2h0m-5 3h0m24 3h0m1-1h0m2 1h0m0-3h0m5 0h0m4 2h0m1-1h0m2-1h0m0 4h0m1-1h0m4 2h0m1-2h0m1 1h0m2 0h0m1-4h0m4 0h0m1 4h0m2-2h0m2-1h0m0 2h0m1-1h0m3 0h0m3-1h0m0 3h0m3-1h0m2 0h0m3 1h0m7-2h0m0-1h0m7 3h0m1-2h0m4 1h0m2 0h0m1 1h0m4-1h0m0 2h0m5 0h0m2-2h0m1 0h0m2-1h0m2 2h0m1-2h0m2 0h0m0-1h0m7 3h0m0-3h0m1 3h0m0-4h0m3 4h0m4-1h0m0-2h0m0 1h0m3 3h0m0-1h0m14-2h0m3 1h0m1-3h0m5 1h0m1-1h0m20 0h0m-37 8h0m-3-1h0m-3-1h0m-3 3h0m-2 1h0m-1-4h0m-4 3h0m-5-3h0m-1 0h0m-2 0h0m-6 1h0m-5 4h0m-2-4h0m0 1h0m0 3h0m-4-3h0m-2 2h0m0-1h0m-2-2h0m0 3h0m-4-1h0m-2-1h0m-1 3h0m-2-3h0m-1 1h0m0-3h0m-1 4h0m-1 0h0m-3-4h0m-4 1h0m0 3h0m0-2h0m-2-2h0m-4 5h0m-2-4h0m0 2h0m-1-3h0m-3 1h0m-2 3h0m-1-2h0m-1 1h0m-2-3h0m-1 0h0m-1 3h0m0-3h0m-5 5h0m-1-1h0m-1-4h0m-5 5h0m-2-5h0m-1 2h0m-2 2h0m-3-4h0m-1 3h0m0 2h0m-11-1h0m-9-1h0m-4-1h0m-3 8h0m17-1h0m4 0h0m5-2h0m7 2h0m2-3h0m1 2h0m8 1h0m9-1h0m1 1h0m2-2h0m1 1h0m1-1h0m0 2h0m4 2h0m0-5h0m1 1h0m2 2h0m0-3h0m1 5h0m0-3h0m1 3h0m5-1h0m2-2h0m1 0h0m1-1h0m3 0h0m3 2h0m2 1h0m0-2h0m1 2h0m1-1h0m3-1h0m1 2h0m4-3h0m3 2h0m6 1h0m1 1h0m9-4h0m1 0h0m11-1h0m7 4h0m-23 2h0m-4 5h0m-2-3h0m-4 0h0m-17-2h0m-8 2h0m-2-1h0m-5-1h0m-1 4h0m-8-4h0m-1 0h0m-2 5h0m-1-3h0m-2 3h0m-1-3h0m-3-1h0m-4 3h0m-5 1h0m-3 0h0m0-5h0m-6 1h0m-8-1h0m-46 5h0m34 5h0m14-4h0m10 4h0m1 0h0m4 1h0m6-4h0m2 2h0m1 1h0m1-2h0m1 1h0m7 0h0m7 0h0m0-2h0m1-1h0m2 5h0m1-5h0m3 1h0m1 1h0m3 0h0m2 0h0m9-2h0m19 4h0m8 1h0m3-1h0m55 7h0m-72-3h0m-26-1h0m-4 2h0m-2-1h0m-1 2h0m-2-3h0m-1 0h0m-3 3h0m-4 1h0m-1-4h0m-1 0h0m0 4h0m-3-5h0m0 2h0m-2 2h0m0-1h0m-1-1h0m-4 3h0m-1-5h0m-2 4h0m0 1h0m-1 0h0m-4-2h0m0-3h0m-5 5h0m-7-2h0m11 3h0m6 4h0m5-2h0m1 0h0m1-1h0m4 4h0m6 0h0m0-2h0m3 2h0m2 0h0m0-3h0m1-1h0m3 2h0m2-1h0m3-2h0m73 6h0m-68 4h0m-1-3h0m-18 1h0m0 2h0m0 1h0m-4 0h0m-3-5h0m-1 3h0m-3 2h0m-2-2h0m-2-1h0m-1 1h0m-1 0h0m-2 0h0m-5 2h0m-2-1h0m-3-1h0m-3-2h0m0 4h0m-1-2h0m4 4h0m12 0h0m1 3h0m0-4h0m1 4h0m1-3h0m2 4h0m1 0h0m0-3h0m1 0h0m2 0h0m0 2h0m2-3h0m4 3h0m1-1h0m0-2h0m4 3h0m4-1h0m2 0h0m4 2h0m11 0h0m17-1h0m16-3h0m23 1h0m-14 6h0m-9 3h0m-8-4h0m-23 4h0m-1 0h0m-4-4h0m-4-1h0m-3 1h0m-3 0h0m0 3h0m-1-1h0m-4-3h0m-2 2h0m-1 2h0m-1-4h0m-3 4h0m-1 0h0m-4-2h0m-1-1h0m-1 3h0m-3-1h0m-4-1h0m-4 0h0m-3-1h0m0 2h0m-2-3h0m0 5h0m-1 0h0m0-1h0m-3-3h0m-22 10h0m18-4h0m5 2h0m0 2h0m1-4h0m3-1h0m1 1h0m3 3h0m3-1h0m1-3h0m2 5h0m0-2h0m1 0h0m1-2h0m9 1h0m6 2h0m2-4h0m0 1h0m3 1h0m6-2h0m1 2h0m4-1h0m13 4h0m13-2h0m-22 3h0m-2 0h0m-2 4h0m-1-3h0m-1-1h0m-2 1h0m-3 1h0m-1 2h0m-1-3h0m0 4h0m-1-3h0m-4-1h0m-2 0h0m-1 1h0m0 3h0m-3-3h0m-4 1h0m-4 0h0m-1 0h0m-7 0h0m-5-1h0m-1 0h0m-12 9h0m5-3h0m0 2h0m3-1h0m3-3h0m1 0h0m3 2h0m2-1h0m1 3h0m1 1h0m0-2h0m1-3h0m2 4h0m3-3h0m13 1h0m5 0h0m1-1h0m1 1h0m0 3h0m4-1h0m1 0h0m1-4h0m0 5h0m1-3h0m14 2h0m14-2h0m31 2h0m61 2h0m-57 1h0m-16-1h0m-24 0h0m-12 1h0m0 2h0m-1 0h0m-5 2h0m-1-1h0m0-2h0m-3 2h0m-2 1h0m0-4h0m0 2h0m-2 1h0m-3 0h0m-2-1h0m-1-3h0m-1 1h0m-1 1h0m-1 2h0m-2-1h0m-3-1h0m-1 0h0m-2 2h0m0-4h0m-4 2h0m-1 3h0m-2-3h0m-1 0h0m0 2h0m-5-4h0m-4 2h0m-6-2h0m-2 5h0m0-2h0m-2 2h0m-6-1h0m-1 0h0m0-1h0m-1-2h0m-2 1h0m0 1h0m-1 2h0m-1-1h0m-2 0h0m-8 0h0m-6-3h0m-2 3h0m-4 0h0m-4 6h0m2 0h0m4 0h0m8 0h0m1-3h0m4-1h0m0 3h0m1 0h0m1 0h0m0-2h0m2-1h0m1 2h0m12 0h0m3-2h0m0 2h0m1-1h0m2 0h0m4-1h0m4 3h0m1 2h0m2-2h0m0 2h0m1-4h0m1-1h0m1 1h0m1 3h0m4 0h0m4-3h0m0-1h0m4 0h0m1 3h0m0-3h0m2 3h0m1 2h0m1-2h0m0-3h0m1 5h0m4 0h0m2 0h0m1-5h0m1 4h0m2 0h0m0-2h0m0-2h0m6 4h0m11-4h0m1 5h0m4 0h0m22-3h0m6-1h0m4 10h0m-34-5h0m-12 3h0m-1-1h0m-7 0h0m-7-1h0m-1 1h0m-2-1h0m0 1h0m-1-2h0m-3 0h0m-3 5h0m0-1h0m-1 0h0m-10-4h0m-1 0h0m-4 1h0m-26 0h0m-2 0h0m-1 1h0m-1 1h0m-1 0h0m-3-2h0m-3-1h0m-4 0h0m-1 2h0m-3 2h0m-2-1h0m-2-1h0m-7-1h0m-22 10h0m12-3h0m5-1h0m3-1h0m1 5h0m1-1h0m1-2h0m3 0h0m1 2h0m1-4h0m2 2h0m2-1h0m3 1h0m0 2h0m5-1h0m42 1h0m1 1h0m6 0h0m1-2h0m1 1h0m0-4h0m2 5h0m1-3h0m2-1h0m0 2h0m1 2h0m0-5h0m0 1h0m3 0h0m1-1h0m2 0h0m0 1h0m0 4h0m1-1h0m0 1h0m1-1h0m2-2h0m3 0h0m3-2h0m0 3h0m3-3h0m1 0h0m0 2h0m11 1h0m38-1h0m8 2h0m15-3h0m-63 9h0m-14 1h0m-9-3h0m-4-1h0m-1 0h0m-2 2h0m-4 2h0m-1-1h0m-55-2h0m-13-2h0m0 5h0m-19 0h0m-2 3h0m5 0h0m8 1h0m2-1h0m1 2h0m2-4h0m6 3h0m0-3h0m1 1h0m1-1h0m1 1h0m59 4h0m6 0h0m2-1h0m0-1h0m3-1h0m1 3h0m0-3h0m1 1h0m3-1h0m1-1h0m1 4h0m19 0h0m29-3h0m6 4h0m-16 3h0m-36 1h0m-2-2h0m0 3h0m-3-4h0m-1 1h0m-1 0h0m-3 2h0m-3-2h0m0 3h0m0-2h0m-5-2h0m-2 0h0m0 3h0m-66-4h0m-3 1h0m-4 2h0m-1 2h0m-1-5h0m-1 0h0m-6 2h0m0 3h0m-5 1h0m5 2h0m4-1h0m3-1h0m4 4h0m1 1h0m68-2h0m4 0h0m6 0h0m1 1h0m1 0h0m1 1h0m0-5h0m1 4h0m3-1h0m2-3h0m36 4h0m-14 4h0m-12 0h0m-8-2h0m-10 3h0m0 2h0m-3-4h0m-2 2h0m-1 0h0m-1 2h0m0-4h0m-4 1h0m-9 3h0m-61-1h0m0-2h0m-1 3h0m-2-4h0m-4 1h0m-2 3h0m-1-2h0m-1 2h0m-1-3h0m-7 0h0m8 7h0m9 0h0m1-2h0m6-1h0m0 2h0m53 3h0m2-3h0m3 1h0m0-2h0m4 2h0m1 1h0m1-2h0m1-1h0m6 2h0m0-2h0m4 0h0m53 1h0m-44 8h0m-15-2h0m-1-2h0m-6 2h0m-3 2h0m-4-4h0m-4 1h0m-4 1h0m-3 3h0m-15 2h0m6 2h0m4 2h0m1 0h0m3-2h0m0-2h0m1-1h0m2 0h0m0 5h0m2 0h0m0-4h0m2 0h0m3 3h0m2-2h0m3 2h0m0-4h0m5 0h0m-5 8h0m-5-2h0m-2 0h0m-4 2h0m-1 1h0m-1-1h0m-4 3h0m-1-1h0m-6-1h0m0 1h0m-2-2h0m-6 4h0m1 5h0m3-2h0m3-3h0m4 0h0m0 1h0m2 0h0m5 1h0m9 0h0m3 1h0m17 2h0m-20 5h0m-8 0h0" stroke="#0000ff" stroke-width="1.7" stroke-linecap="square"/>
<path d="M653 739h0m-3 4h0m-2 1h0m3 0h0m4 3h0m0 2h0m1-4h0m2-1h0m7 5h0m9 0h0m1 0h0m0-3h0m1 2h0m0 1h0m7-1h0m0-1h0m1-1h0m1-1h0m0 4h0m1-1h0m1 1h0m1 0h0m1-1h0m1-2h0m9 8h0m-1 0h0m-1-2h0m-1 3h0m-2-1h0m0-1h0m-2-2h0m-1 1h0m-1 0h0m-2-1h0m-4 1h0m-4 2h0m-3 1h0m-2-5h0m-1 1h0m0 1h0m-1 1h0m-1 0h0m-3-1h0m-2-2h0m-1 0h0m-1 3h0m-2-3h0m-1 3h0m0 1h0m-1-1h0m-1-1h0m-4 2h0m0 1h0m-2-1h0m-2-3h0m-2 1h0m-5 2h0m-1 0h0m-1-4h0m-1 1h0m-1 1h0m-2 2h0m0-1h0m-1-1h0m-9 3h0m-3 3h0m1 2h0m0-2h0m1-2h0m1 5h0m0-3h0m5 0h0m0-1h0m1 3h0m1-3h0m3 4h0m0-1h0m0-4h0m1 3h0m1 0h0m1 0h0m0-1h0m1-2h0m0 5h0m1-5h0m2 4h0m1-2h0m2 2h0m1-4h0m1 5h0m1-4h0m1-1h0m2 0h0m2 4h0m0-3h0m2 2h0m0 1h0m0-3h0m1-1h0m0 3h0m1-2h0m1 3h0m1-2h0m0 2h0m1 1h0m0-4h0m0 2h0m1-2h0m0 1h0m1-1h0m0-1h0m1 3h0m1 0h0m1-1h0m1 0h0m4 1h0m2 0h0m0-2h0m0-1h0m1 3h0m0-3h0m1 3h0m0-2h0m0 1h0m1-2h0m1 0h0m0 1h0m0 1h0m2 0h0m4 0h0m2-2h0m7 3h0m2-3h0m0 11h0m-10-2h0m-1-3h0m-1 5h0m0-5h0m-1 4h0m-3-1h0m0-3h0m-2 2h0m-2 1h0m-1-2h0m-1-1h0m0 1h0m-3-1h0m-5 1h0m0 2h0m-1-1h0m0 1h0m-1 2h0m-1-2h0m-3-1h0m0 3h0m-1-4h0m0 1h0m-1 0h0m-1 2h0m-1-1h0m-3-2h0m0 2h0m0 2h0m-1-5h0m-2 5h0m-1-5h0m-1 3h0m0 1h0m0-3h0m-2 3h0m0-1h0m-1 1h0m-2-2h0m-1 1h0m0 1h0m0 1h0m-3-2h0m0 1h0m-1 1h0m-2 0h0m-1-4h0m-7 3h0m-2-1h0m0 1h0m-4 0h0m2 3h0m2 0h0m0 2h0m2 2h0m1-5h0m2 2h0m1 1h0m1-2h0m5 2h0m1 1h0m2-1h0m1-2h0m1 2h0m1-1h0m4-1h0m0-1h0m2 3h0m0-2h0m5 4h0m4-5h0m2 3h0m1-1h0m2 0h0m0-1h0m2 0h0m1 1h0m2-1h0m0 3h0m9-4h0m2 4h0m-18 2h0m-1 1h0m-2 2h0m-2-2h0m-18 0h0m-18 44h0m3 2h0m0-2h0m13 7h0m-3-3h0m-1 0h0m-1 0h0m-2 0h0m-2 0h0m-1 2h0m-2 2h0m-3-5h0m-3 0h0m-6 10h0m3-1h0m6 1h0m1 1h0m1-1h0m2 1h0m1-2h0m1-2h0m1 0h0m9-1h0m7 8h0m-1-1h0m-1 2h0m0-2h0m-13 0h0m-1 2h0m0 2h0m-2-3h0m-1-2h0m-1 2h0m-1 0h0m0-2h0m-1 3h0m-1-2h0m0-1h0m-1 0h0m-3 0h0m-2 3h0m0 1h0m-1-3h0m-11 9h0m14-2h0m2 1h0m2-2h0m0-1h0m0 4h0m1 1h0m0-2h0m1 0h0m3-1h0m0 2h0m1-1h0m1-2h0m1 3h0m3-4h0m0 5h0m3-3h0m0 3h0m1-2h0m8 0h0m0-3h0m3 0h0m3 10h0m-13-2h0m-6 1h0m-4 0h0m-1-3h0m-2 0h0m-1 1h0m-2 2h0m0-3h0m-3 1h0m-2 0h0m-5 4h0m-3-4h0m-1 3h0m-1-2h0m-1 0h0m0 1h0m-2 0h0m-14 8h0m2 0h0m2 0h0m3-3h0m1-1h0m1 4h0m1 0h0m0-4h0m4 3h0m1 0h0m2 0h0m0-1h0m1 2h0m4-4h0m0 3h0m4 0h0m7 1h0m1-4h0m1 1h0m1 3h0m2 0h0m5 0h0m0-1h0m2-2h0m1 2h0m4 7h0m-3-2h0m-3 1h0m-2 0h0m-1-2h0m0-2h0m-1 1h0m-1 2h0m-1-2h0m-1 3h0m-1-4h0m-1 5h0m-1-3h0m-1 3h0m0-3h0m0 1h0m-2 2h0m-1-3h0m-3 3h0m-2-5h0m-4 4h0m-2 1h0m-1-5h0m-3 3h0m-4 1h0m-2 1h0m0-4h0m-1 0h0m0-1h0m-2 3h0m-1 0h0m-1 1h0m-2-3h0m-2 3h0m0-4h0m-1 2h0m0 2h0m-4 1h0m-2 0h0m-2 0h0m0-1h0m-2-2h0m-1 1h0m0-2h0m0 3h0m-1 0h0m0-3h0m0 4h0m-1 0h0m-7 6h0m2-1h0m3 0h0m2-1h0m0-1h0m1 0h0m0-2h0m1 5h0m0-3h0m2 2h0m0-1h0m1-2h0m0 2h0m0 2h0m2-5h0m3 0h0m4 0h0m2 2h0m0-2h0m2 0h0m14 3h0m4 2h0m3-4h0m1 4h0m2-5h0m1 2h0m3 2h0m0-4h0m1 0h0m0 5h0m4-4h0m1 1h0m2 1h0m6-1h0m-5 6h0m-1-2h0m-2 5h0m0-3h0m-2 2h0m0-4h0m0 1h0m-1 3h0m0-4h0m0 3h0m-1 1h0m0-4h0m-2 5h0m0-1h0m-2 0h0m-3-2h0m-5 1h0m-33 0h0m0-2h0m-4 1h0m-1 2h0m-1 0h0m-1-4h0m-1 2h0m0-2h0m-1 0h0m-1 4h0m-1-2h0m-2 9h0m1-5h0m2 3h0m0-3h0m0 5h0m2-5h0m0 1h0m2 3h0m6-4h0m33 4h0m0-4h0m1 2h0m6-2h0m1 2h0m3-2h0m0 1h0m1 2h0m1-2h0m2 0h0m0-1h0m1 3h0m1 1h0m0-3h0m2 8h0m-1 2h0m-1-1h0m-3-1h0m0-3h0m-1 3h0m-3 1h0m-2-4h0m-51 0h0m-2 2h0m0 1h0m-1-3h0m-1 2h0m-1 0h0m-1-1h0m-1 4h0m-2-3h0m-1 2h0m-1-1h0m0-3h0m-4 0h0m1 8h0m1-1h0m0 4h0m3 0h0m3-2h0m1 1h0m2 1h0m1-2h0m0-2h0m1 2h0m2-2h0m4-1h0m38 3h0m3-2h0m8 1h0m1-1h0m3 2h0m0-3h0m1 4h0m3-3h0m2 5h0m-2 2h0m-1-2h0m-1 4h0m0-4h0m-4 0h0m-1 0h0m0 4h0m-2-3h0m-2 1h0m0 2h0m0-3h0m-1 1h0m-1 1h0m0 1h0m-3 0h0m0-2h0m-2 1h0m-1 2h0m-2-1h0m-42-3h0m0 2h0m-4-1h0m-1 1h0m0-3h0m-2 4h0m-2-4h0m-1 0h0m0 6h0m3 0h0m0 2h0m1-1h0m3 0h0m4-1h0m2 1h0m2 0h0m1 2h0m2 1h0m11 1h0m15-3h0m1-1h0m3 3h0m2-3h0m0 4h0m1 0h0m1-4h0m0 1h0m2-2h0m3 4h0m3-4h0m0 1h0m-6 5h0m-4 0h0m-1 2h0m-1-2h0m-2 0h0m-1 1h0m0-1h0m-1 5h0m0-5h0m-2 2h0m-1 1h0m-1 1h0m0 1h0m-1-1h0m0 1h0m-1-3h0m-5 2h0m-3 0h0m0-2h0m0-2h0m-4 4h0m0 5h0m1-2h0m2 1h0m2 0h0m1 1h0m1-3h0m3 0h0m0 2h0m2-1h0m0 1h0m2-2h0m4 0h0m5 0h0m-12 7h0m0-1h0m-1 3h0m0 1h0m-2-2h0m-3 2h0m0-3h0m-1 1h0m0-2h0m0 5h0m-1-1h0m-2-3h0m7 6h0" stroke="#00d8ff" stroke-width="1.7" stroke-linecap="square"/>
<path d="M664 755h0m-1-3h0m-6 3h0m-4-2h0m0-2h0m-11 4h0m-5 5h0m1 0h0m1-1h0m3 2h0m1-1h0m0-3h0m17 1h0m2 0h0m3-2h0m16 2h0m1 1h0m2 1h0m0 1h0m-19 5h0m-1 0h0m-4 1h0m-10-1h0m0-2h0m-6 3h0m-1-5h0m-1 1h0m-1 2h0m0-2h0m0 1h0m-2-2h0m-1 2h0m2 5h0m22 0h0m1-1h0m1 0h0m2 0h0m0 1h0m-40 74h0m1 0h0m1 0h0m0 2h0m-20 6h0m-2-4h0m0 10h0m1-5h0m1 2h0m0 3h0m1-5h0m2 2h0m1 3h0m9 2h0m-3 2h0m-1-2h0m0 4h0m-1-1h0m-1-2h0m0 2h0m0 1h0m-1-3h0m-1 3h0m-1-2h0m0-1h0m0-2h0m-1 4h0m0 1h0m-1-1h0m0-3h0m-1 0h0m0 1h0m0 3h0m-1-4h0m-1 2h0m-1-2h0m0 4h0m-1-4h0m-1 0h0m0 3h0m-1 1h0m0-1h0m-1-1h0m-3 0h0m-1 0h0m-1-1h0m0-1h0m-1 1h0m-1 1h0m0 2h0m-1-1h0m-2-2h0m-3 3h0m0-2h0m-11 7h0m6-1h0m2 1h0m0-3h0m2 0h0m0 2h0m0-1h0m2 2h0m0 1h0m1-1h0m1-1h0m0 1h0m2-1h0m1-2h0m0 4h0m0-1h0m1 0h0m1-3h0m2-1h0m0 4h0m1-1h0m0-3h0m0 2h0m1 3h0m0-5h0m0 1h0m1-1h0m0 5h0m1-2h0m0-3h0m0 2h0m1 3h0m0-4h0m1 4h0m0-3h0m1 0h0m2 2h0m0-4h0m1 1h0m0 3h0m0-2h0m2 2h0m0-3h0m1 1h0m0 1h0m1-3h0m1 0h0m0 5h0m0-3h0m0 1h0m2 2h0m0-5h0m0 2h0m0 1h0m1-1h0m2 2h0m0-2h0m0 1h0m7 4h0m-1 4h0m-2-2h0m-2-1h0m0 1h0m-1-1h0m0 2h0m-1-2h0m0 2h0m-1-1h0m-1 0h0m0-1h0m-1 1h0m0 1h0m-1 0h0m0-1h0m0 2h0m-1-5h0m-1 4h0m0-4h0m0 2h0m-1 0h0m0 1h0m-1-2h0m0-1h0m-1 2h0m0 3h0m-1-2h0m-1 0h0m-1-1h0m-1 0h0m0 2h0m-2-1h0m0-2h0m-1 0h0m0-1h0m-1 1h0m0 3h0m-2-3h0m0 3h0m-1-3h0m-3 0h0m0-1h0m-1 4h0m0-4h0m-1 2h0m-1 1h0m0-3h0m-1 4h0m0-3h0m0 2h0m0-1h0m-2 2h0m0-4h0m-1 1h0m0 4h0m0-2h0m-1 1h0m-1 1h0m-1-2h0m0-2h0m0 1h0m0-2h0m-1 5h0m0-1h0m-1 0h0m0-4h0m-1 2h0m0-1h0m0 3h0m-1 1h0m-1 0h0m0-2h0m0-3h0m0 2h0m0 2h0m-2 1h0m-1-1h0m-1-1h0m-2-1h0m-1 3h0m-6 2h0m2 3h0m1-2h0m1 1h0m0 2h0m2-3h0m0 3h0m1-3h0m0 3h0m1 0h0m0-2h0m0 1h0m2-4h0m0 3h0m0-1h0m1-1h0m0 3h0m0-2h0m1 1h0m0-2h0m0 1h0m2-2h0m0 1h0m2-1h0m2 4h0m1-3h0m1-1h0m2 2h0m1 2h0m0-1h0m0-1h0m7 0h0m2 3h0m0-4h0m2 0h0m0 3h0m2 1h0m1-2h0m0-2h0m1 4h0m0-5h0m0 3h0m1-1h0m0-1h0m3-1h0m0 1h0m1 3h0m1 0h0m0-2h0m1 3h0m0-2h0m1-2h0m0 2h0m1-2h0m1 4h0m1-2h0m0 2h0m0-5h0m0 2h0m0-1h0m1 3h0m0-4h0m1 3h0m0 2h0m1-4h0m1 4h0m1-2h0m0 2h0m1-4h0m2 10h0m-2-4h0m-1 0h0m0 3h0m-1-3h0m0 2h0m-1-3h0m0 1h0m0 2h0m-1-3h0m-1 0h0m-1 0h0m-1 5h0m0-2h0m0-1h0m-1-2h0m0 2h0m0 3h0m-1-2h0m0 2h0m0-1h0m-1 0h0m-1-1h0m0 1h0m-1 1h0m-2-1h0m0-3h0m0-1h0m0 5h0m-1-4h0m-1 2h0m-2 2h0m0-1h0m0-1h0m-9 2h0m0-2h0m-4-2h0m-3 1h0m-1 0h0m-1 2h0m-1-2h0m-4 0h0m0 3h0m-2 0h0m0-3h0m0 1h0m-1 0h0m0 2h0m0-4h0m0 1h0m-1 0h0m0-1h0m-1 2h0m-1 0h0m-2-2h0m0-1h0m-1 5h0m0-5h0m0 4h0m-1-2h0m0 2h0m-1 0h0m0-2h0m-2-2h0m-1 4h0m-1-2h0m-1 3h0m0-1h0m-2-2h0m-1 2h0m-1-2h0m-5 8h0m2 0h0m0 1h0m1-5h0m1 3h0m1 0h0m0-2h0m0 1h0m0-2h0m1 0h0m0 1h0m0 1h0m2-1h0m0 2h0m0-3h0m0 4h0m2-4h0m1 1h0m0-1h0m0 2h0m1-2h0m0 4h0m1-1h0m1-1h0m0 3h0m0-2h0m1-1h0m1 2h0m1-2h0m0-1h0m0 3h0m2-3h0m1 2h0m0 2h0m2-4h0m0 4h0m1-2h0m0-1h0m0-2h0m0 1h0m1 3h0m0-2h0m1 2h0m0-1h0m1-1h0m2 3h0m0-5h0m2 3h0m0 1h0m1-2h0m0 3h0m2-1h0m1-1h0m1-1h0m0 2h0m1-1h0m1-1h0m2-1h0m1 2h0m0-3h0m1 4h0m1-2h0m0 3h0m1 0h0m1-2h0m0-1h0m0-1h0m4 2h0m1 1h0m1-1h0m1 1h0m1-4h0m1 5h0m0-3h0m1-1h0m0 3h0m0 1h0m2 0h0m0-5h0m3 5h0m0-4h0m1 4h0m1-2h0m1 0h0m0 2h0m1-4h0m0 3h0m0-1h0m1 0h0m0 2h0m1-2h0m2 2h0m-2 1h0m-2 0h0m-2 1h0m0-1h0m-5 0h0m-1 1h0m-1 0h0m0 3h0m-1-3h0m0 4h0m-1-1h0m0 1h0m0-5h0m-1 3h0m-1-3h0m0 1h0m-1 3h0m0-1h0m-1-1h0m0-2h0m-2 3h0m-2 2h0m-1-3h0m0 1h0m-1-3h0m0 4h0m0-2h0m-1 1h0m-1-3h0m0 1h0m-1-1h0m-1 5h0m-1-4h0m0 1h0m-1 3h0m-1 0h0m-2-5h0m0 5h0m-1-2h0m0-3h0m-1 0h0m0 5h0m-1-2h0m-1-1h0m-1 2h0m0 1h0m-2-4h0m0 2h0m0-1h0m-2 0h0m0 2h0m-1 1h0m0-4h0m-1 1h0m0-1h0m-1 4h0m0-5h0m0 4h0m0-2h0m-1-2h0m0 2h0m-1 0h0m0 3h0m0-2h0m-1 2h0m0-4h0m-1 4h0m0-3h0m0 2h0m-1 1h0m-1-4h0m0 1h0m0 2h0m0 1h0m-1-2h0m-1-1h0m0 2h0m-1 0h0m0-2h0m-1 3h0m-1-1h0m-2-1h0m-1 0h0m-1-2h0m-1 1h0m0-2h0m0 3h0m-1 0h0m0-3h0m-1 5h0m-1-4h0m-2 2h0m3 7h0m3-2h0m1 2h0m0-4h0m0 2h0m1 0h0m0-2h0m1 3h0m0-3h0m0 2h0m1-1h0m0-1h0m1 3h0m1-1h0m1-2h0m1 4h0m0-1h0m1-2h0m0 1h0m1 0h0m0 1h0m4-2h0m1 0h0m1 2h0m1 1h0m1-3h0m1 3h0m1-4h0m1 4h0m0-2h0m1 3h0m2-3h0m0-1h0m0 3h0m1-2h0m0 2h0m2-1h0m0 1h0m0-4h0m1 0h0m0 3h0m0 2h0m1 0h0m2-3h0m0 1h0m0 2h0m1 0h0m0-2h0m0-1h0m1 1h0m0 1h0m1-1h0m0-3h0m2 1h0m0 1h0m1 2h0m0-4h0m1 5h0m0-5h0m1 3h0m1-1h0m1 0h0m0 1h0m0 1h0m1-3h0m0 3h0m1-4h0m1 0h0m0 3h0m0-1h0m1-2h0m0 3h0m1 1h0m0-3h0m1-1h0m1 0h0m1 2h0m1-2h0m-12 6h0m0 1h0m-1 0h0m0 2h0m-3-3h0m0 2h0m-1-1h0m0-1h0m-2 2h0m-1-2h0m0 5h0m0-4h0m-1 2h0m0 2h0m-1 0h0m-1-3h0m-1 2h0m0 1h0m-1-4h0m0 2h0m-1-2h0m0 1h0m-1 2h0m0-1h0m-1-3h0m-1 1h0m2 6h0m1-1h0m1 0h0m3 1h0m1 2h0m0-1h0m1-2h0m1 1h0" stroke="#00ff00" stroke-width="1.7" stroke-linecap="square"/>
<path d="M599 863h0m-13 6h0m1 0h0m1 0h0m2-2h0m1-1h0m1 0h0m1 3h0m1-4h0m0 3h0m3 0h0m0-2h0m1-2h0m0 5h0m2-1h0m2 0h0m0-3h0m2 2h0m2 1h0m0-3h0m1 3h0m5 6h0m-2 0h0m0-3h0m-1 4h0m-1-4h0m-1 2h0m0-3h0m0 4h0m0-3h0m-1 2h0m0-2h0m0-1h0m-1 3h0m0 1h0m-3-2h0m0 3h0m-1-5h0m-1 0h0m-1 4h0m0-4h0m0 2h0m-1 2h0m0-4h0m0 1h0m-1 0h0m0 3h0m-1-1h0m0-1h0m-1-1h0m-1 2h0m0 1h0m0 1h0m-1-1h0m0 1h0m-1-5h0m-1 5h0m-1-4h0m-1-1h0m-1 0h0m-1 4h0m-1 0h0m-1-3h0m-1 2h0m-4 8h0m0-1h0m1-1h0m1 0h0m0-1h0m1 1h0m0 2h0m0-5h0m1 1h0m0 3h0m1-4h0m0 5h0m0-1h0m5 0h0m0-3h0m1-1h0m0 1h0m1 2h0m0-3h0m0 5h0m1-2h0m0-2h0m0 1h0m1 0h0m0-2h0m1 4h0m2-3h0m0 3h0m2-3h0m0 4h0m2-3h0m0 2h0m1-4h0m1 5h0m1-2h0m1-1h0m0 3h0m2 0h0m0-5h0m0 4h0m1-1h0m0-2h0m0 4h0m1-2h0m0-2h0m2 4h0m5 2h0m-1 3h0m-1-3h0m-1 2h0m0-2h0m-1 4h0m-1-4h0m0 2h0m-1 1h0m0 1h0m0-3h0m0-2h0m0 3h0m-2 2h0m0-3h0m0-2h0m0 4h0m-1-2h0m-1-1h0m0-1h0m0 3h0m-2 0h0m0 1h0m-1-3h0m-1 2h0m-2 2h0m0-2h0m-1-1h0m-1 2h0m-1 1h0m0-4h0m-1 0h0m-1 4h0m-2-1h0m-1-2h0m-1 3h0m-2-5h0m-1 1h0m-1 1h0m-1 3h0m0-5h0m-1 4h0m0 1h0m0-3h0m-1-1h0m-1 4h0m0-3h0m0-1h0m0 3h0m-1-1h0m0-3h0m-1 4h0m0 1h0m-2-5h0m-1 5h0m0-5h0m0 3h0m0 1h0m-1-3h0m-1 3h0m0-2h0m-1 0h0m0 2h0m-2 2h0m2 3h0m2-3h0m1 2h0m0 3h0m1-1h0m1 1h0m1-2h0m0 2h0m1 0h0m0-4h0m1 4h0m0-1h0m1-1h0m0-2h0m0 3h0m2-1h0m1-3h0m1 4h0m1-2h0m1-1h0m0 4h0m1-1h0m2 1h0m1-2h0m0 2h0m1 0h0m1-2h0m0-3h0m0 2h0m1-1h0m0 4h0m2-4h0m1 2h0m0-3h0m1 5h0m1 0h0m1-3h0m0-1h0m1 0h0m0 1h0m1 2h0m0-3h0m1 1h0m0 3h0m1-3h0m0 2h0m1-1h0m0-2h0m0 1h0m1-1h0m3 0h0m1 0h0m4 3h0m1-2h0m1-1h0m0 3h0m0-2h0m-13 4h0m-1 1h0m0 3h0m-1-3h0m0 1h0m-1 0h0m-1 2h0m0-2h0m0 1h0m-1 0h0m-1-2h0m0 4h0m-1-4h0m-1 4h0m-1-1h0m-1 1h0m0-3h0m-1 0h0m0-1h0m0-1h0m-2 3h0m-1-2h0m0 1h0m-1 0h0m0 2h0m0-1h0m-1-2h0m0 2h0m0-1h0m-1 3h0m-1-4h0m0 2h0m-1 1h0m0-4h0m0 5h0m-1-4h0m0 3h0m0-1h0m-2-1h0m-2 3h0m0-4h0m0 1h0m0 1h0m0 1h0m-3-4h0m-9 7h0m10 1h0m1-2h0m1 1h0m0 1h0m1-1h0m0 1h0m1-1h0m0-1h0m1 3h0m1-3h0m5 4h0m1-4h0m0 4h0m0-1h0m1-2h0m0 3h0m0 1h0m0-2h0m1 1h0m0-4h0m0 1h0m1-1h0m1 1h0m0-1h0m2 2h0m0-1h0m-3 5h0m-3 1h0m0-1h0" stroke="#ffff00" stroke-width="1.7" stroke-linecap="square"/>
<path d="M604 875h0m-1-1h0m-2 0h0m-1 1h0m0-2h0m-3 0h0m-1 1h0m0 1h0m-12 4h0m0-1h0m2 3h0m0-3h0m1 3h0m0-3h0m1 3h0m1-1h0m0-1h0m0 2h0m0-4h0m1 4h0m1 0h0m2-1h0m0-4h0m1 3h0m1-1h0m0 1h0m1 1h0m0-1h0m0-3h0m1 0h0m0 2h0m0 1h0m1 1h0m0 1h0m0-2h0m1 1h0m0-4h0m0 3h0m1-1h0m1 3h0m1-2h0m0-1h0m1 1h0m1-2h0m0-1h0m0 4h0m3-1h0m0 4h0m0-1h0m-2 2h0m-2 3h0m0-2h0m0-1h0m0-2h0m-1 5h0m0-1h0m-1-3h0m-1 0h0m0-1h0m-1 5h0m0-4h0m0 3h0m-1 1h0m0-2h0m0-2h0m-1 2h0m0-1h0m0-2h0m-1 4h0m0-2h0m-1-1h0m0 2h0m-1-2h0m0 3h0m0-4h0m0 3h0m-1 0h0m0-3h0m0 1h0m-1 3h0m-1-3h0m0 1h0m-1-2h0m0 1h0m0 2h0m-1 0h0m-1-3h0m0 4h0m-1-4h0m0 1h0m-1 2h0m-1-3h0m0 3h0m-1-3h0m-1 3h0m0-3h0m-1 1h0m2 7h0m1-1h0m1 3h0m0-3h0m1 1h0m2-2h0m0 3h0m1-1h0m0 1h0m1-2h0m0-1h0m0 2h0m1-1h0m2 3h0m1 0h0m1 0h0m3-4h0m1 1h0m1-1h0m1 0h0m1 3h0m1-3h0m1 2h0m1-1h0m-2 5h0m-1 0h0m-6 5h0m-2-2h0m-1 2h0m-1-3h0m0 2h0" stroke="#ff0000" stroke-width="1.7" stroke-linecap="square"/>
<path d="M638 974h1M693 974h1M588 974h1M579 974h1M579 974h1M665 974h1M669 974h1M642 974h1M696 974h1M616 974h1M686 974h1M630 974h1M658 974h1M613 974h1M609 974h1M672 974h1M695 974h1M689 974h1M602 974h1M562 974h1M579 974h1M688 974h1M699 974h1M690 974h1M673 974h1M686 974h1M655 974h1M599 974h1M654 974h1M691 974h1M647 974h1M648 974h1M686 974h1M696 974h1M633 974h1M661 974h1M605 974h1M566 974h1M672 974h1M648 974h1M621 974h1M687 974h1M614 974h1M607 974h1M624 974h1M610 974h1M593 974h1M651 974h1M590 974h1M583 974h1M619 974h1M700 974h1M566 974h1M643 974h1M627 974h1M664 974h1M698 974h1M691 974h1M688 974h1M566 974h1" stroke="#1a3cff" stroke-width="1.6"/>
<rect x="532.4" y="616" width="364.3" height="359.9" fill="none" stroke="#111" stroke-width="1.6"/>
<line x1="642" y1="616" x2="642" y2="975.9" stroke="#000" stroke-width="2.8"/>
<line x1="532.4" y1="809.3" x2="896.7" y2="809.3" stroke="#000" stroke-width="2.8"/>
<path d="M521.4 938.2H532.4M527.4 916.6H532.4M527.4 904H532.4M527.4 895H532.4M527.4 888.1H532.4M527.4 882.4H532.4M527.4 877.6H532.4M527.4 873.4H532.4M527.4 869.8H532.4M527.4 975.7H532.4M527.4 966.7H532.4M527.4 959.8H532.4M527.4 954.1H532.4M527.4 949.3H532.4M527.4 945.1H532.4M527.4 941.5H532.4M521.4 866.5H532.4M527.4 844.9H532.4M527.4 832.3H532.4M527.4 823.3H532.4M527.4 816.4H532.4M527.4 810.7H532.4M527.4 805.9H532.4M527.4 801.7H532.4M527.4 798.1H532.4M521.4 794.6H532.4M527.4 773H532.4M527.4 760.4H532.4M527.4 751.4H532.4M527.4 744.5H532.4M527.4 738.8H532.4M527.4 734H532.4M527.4 729.8H532.4M527.4 726.2H532.4M521.4 722.9H532.4M527.4 701.3H532.4M527.4 688.7H532.4M527.4 679.7H532.4M527.4 672.8H532.4M527.4 667.1H532.4M527.4 662.3H532.4M527.4 658.1H532.4M527.4 654.5H532.4M521.4 651.2H532.4M527.4 629.6H532.4M527.4 617H532.4" stroke="#111" stroke-width="1.4"/>
<rect x="521.4" y="937.2" width="11" height="2.2" fill="#111"/>
<rect x="521.4" y="865.5" width="11" height="2.2" fill="#111"/>
<rect x="521.4" y="793.6" width="11" height="2.2" fill="#111"/>
<rect x="521.4" y="721.9" width="11" height="2.2" fill="#111"/>
<rect x="521.4" y="650.2" width="11" height="2.2" fill="#111"/>
<path d="M566.9 975.9V984.9M588.8 975.9V980.9M601.6 975.9V980.9M610.7 975.9V980.9M617.8 975.9V980.9M623.5 975.9V980.9M628.4 975.9V980.9M632.6 975.9V980.9M636.4 975.9V980.9M537.9 975.9V980.9M545 975.9V980.9M550.7 975.9V980.9M555.6 975.9V980.9M559.8 975.9V980.9M563.6 975.9V980.9M639.7 975.9V984.9M661.6 975.9V980.9M674.4 975.9V980.9M683.5 975.9V980.9M690.6 975.9V980.9M696.3 975.9V980.9M701.2 975.9V980.9M705.4 975.9V980.9M709.2 975.9V980.9M712.5 975.9V984.9M734.4 975.9V980.9M747.2 975.9V980.9M756.3 975.9V980.9M763.4 975.9V980.9M769.1 975.9V980.9M774 975.9V980.9M778.2 975.9V980.9M782 975.9V980.9M785 975.9V984.9M806.9 975.9V980.9M819.7 975.9V980.9M828.8 975.9V980.9M835.9 975.9V980.9M841.6 975.9V980.9M846.5 975.9V980.9M850.7 975.9V980.9M854.5 975.9V980.9M857 975.9V984.9M878.9 975.9V980.9M891.7 975.9V980.9" stroke="#111" stroke-width="1.4"/>
<rect x="565.7" y="975.9" width="2.4" height="9" fill="#111"/>
<rect x="638.5" y="975.9" width="2.4" height="9" fill="#111"/>
<rect x="711.3" y="975.9" width="2.4" height="9" fill="#111"/>
<rect x="783.8" y="975.9" width="2.4" height="9" fill="#111"/>
<rect x="855.8" y="975.9" width="2.4" height="9" fill="#111"/>
<text class="a" x="498.9" y="947.2" font-size="13" text-anchor="middle">10</text>
<text class="a" x="506.6" y="937.8" font-size="13">2</text>
<text class="a" x="498.9" y="875.5" font-size="13" text-anchor="middle">10</text>
<text class="a" x="506.6" y="866.1" font-size="13">3</text>
<text class="a" x="498.9" y="803.6" font-size="13" text-anchor="middle">10</text>
<text class="a" x="506.6" y="794.2" font-size="13">4</text>
<text class="a" x="498.9" y="731.9" font-size="13" text-anchor="middle">10</text>
<text class="a" x="506.6" y="722.5" font-size="13">5</text>
<text class="a" x="498.9" y="660.2" font-size="13" text-anchor="middle">10</text>
<text class="a" x="506.6" y="650.8" font-size="13">6</text>
<text class="a" x="568.9" y="1016.4" font-size="13" text-anchor="middle">10</text>
<text class="a" x="576.6" y="1007" font-size="13">3</text>
<text class="a" x="641.7" y="1016.4" font-size="13" text-anchor="middle">10</text>
<text class="a" x="649.4" y="1007" font-size="13">4</text>
<text class="a" x="714.5" y="1016.4" font-size="13" text-anchor="middle">10</text>
<text class="a" x="722.2" y="1007" font-size="13">5</text>
<text class="a" x="787" y="1016.4" font-size="13" text-anchor="middle">10</text>
<text class="a" x="794.7" y="1007" font-size="13">6</text>
<text class="a" x="859" y="1016.4" font-size="13" text-anchor="middle">10</text>
<text class="a" x="866.7" y="1007" font-size="13">7</text>
<text class="a" x="539.4" y="646" font-size="15.5">Q1</text>
<text class="a" x="539.4" y="672.5" font-size="15.5">6.78</text>
<text class="a" x="864.7" y="646" font-size="15.5" text-anchor="end">Q2</text>
<text class="a" x="864.7" y="672.5" font-size="15.5" text-anchor="end">6.88</text>
<text class="a" x="864.7" y="930.4" font-size="15.5" text-anchor="end">Q3</text>
<text class="a" x="864.7" y="955.9" font-size="15.5" text-anchor="end">2.59</text>
<text class="a" x="539.4" y="930.4" font-size="15.5">Q4</text>
<text class="a" x="539.4" y="955.9" font-size="15.5">83.8</text>
<text class="s" x="479.5" y="808" font-size="27.5" text-anchor="middle" transform="rotate(-90 479.5 808)">PE-A</text>
<text class="s" x="717.6" y="1048.7" font-size="27.5" text-anchor="middle">Annexin V FITC-A</text>
<rect x="983.5" y="904" width="50.5" height="20" fill="#e2f2f4" filter="url(#bl0)"/>
<path d="M1010 905h0m20 6h0m-2-2h0m-9 2h0m-2-5h0m-7 4h0m-3-1h0m-8-1h0m0 9h0m3-5h0m1 0h0m30 2h0m-2 5h0m-17 3h0m-6 3h0m7 4h0" stroke="#dfe4fa" stroke-width="1.7" stroke-linecap="square"/>
<path d="M998 904h0m22 0h0m2 1h0m0-1h0m10 1h0m1 2h0m-1 1h0m-5-2h0m-3 5h0m-9 6h0m5-2h0m7 2h0m1 0h0m0-5h0m1 4h0m0-4h0m4 8h0m-11 2h0m-4-4h0m-13 8h0m8-1h0m6 2h0m10 1h0m-27 3h0m-1 5h0" stroke="#c9d3f6" stroke-width="1.7" stroke-linecap="square"/>
<path d="M1006 905h0m1-1h0m18 1h0m4 3h0m-2 3h0m-2-5h0m-4 3h0m-3 0h0m-2 2h0m0-4h0m-4 1h0m-11 2h0m-9 5h0m8 0h0m10-3h0m6 4h0m6 0h0m10-2h0m1 1h0m-17 5h0m-6 2h0m2 5h0m11 0h0m2-1h0m6 2h0m-7 8h0" stroke="#cfeef2" stroke-width="1.7" stroke-linecap="square"/>
<path d="M990 904h0m35 0h0m9 3h0m-2-1h0m-2 4h0m-1 1h0m-5-2h0m-6-1h0m-5-1h0m-8 0h0m-2 0h0m-4 7h0m18-1h0m2 3h0m13-1h0m1-2h0m1 1h0m-19 5h0m-12 10h0m20-3h0m4-2h0" stroke="#e8f3f0" stroke-width="1.7" stroke-linecap="square"/>
<path d="M985 904h0m19 0h0m17 0h0m2 1h0m10 6h0m0-5h0m-3 2h0m0 1h0m-1 1h0m-3-4h0m0 3h0m-1 2h0m-5-3h0m0 1h0m-2 2h0m-2-3h0m-4-1h0m-5 6h0m5-1h0m6 2h0m5 2h0m1-3h0m1 0h0m0-1h0m5 1h0m3 3h0m-3 4h0m-5 1h0m-1-2h0m-5 0h0m-13 4h0m-12 2h0m18-1h0m17 0h0" stroke="#d8dcf6" stroke-width="1.7" stroke-linecap="square"/>
<path d="M1229 635h0m-17-2h0m-33 7h0m48 1h0m-33 8h0m53 4h0m12 1h0m-31 3h0m-17-1h0m-9-1h0m-35 3h0m22 7h0m4-4h0m16 2h0m10-1h0m20 4h0m-32 2h0m-19-1h0m-1 1h0m-8 0h0m-2 2h0m0 1h0m-10-4h0m-10-1h0m-2 4h0m-20 1h0m2 2h0m35 3h0m6-3h0m6-1h0m4 3h0m9 0h0m6 1h0m13-4h0m5 4h0m4-2h0m4 0h0m2-1h0m-20 5h0m-4 3h0m-1 0h0m-17 1h0m-3-4h0m0 5h0m-8-2h0m-4 2h0m-1 0h0m-1-2h0m-2 2h0m-9 0h0m-25-5h0m-4 10h0m10 0h0m10-4h0m5 4h0m0-1h0m9-3h0m4 0h0m2 4h0m1 0h0m1-3h0m5-1h0m2 0h0m8 3h0m5 2h0m0-4h0m4 2h0m10 0h0m4 2h0m6-3h0m0 6h0m-18-1h0m-36-1h0m-1 1h0m-1 0h0m-18 3h0m-5-2h0m-27 5h0m9 0h0m14-1h0m17 1h0m1 1h0m1 3h0m1-3h0m2 1h0m7-2h0m9 4h0m2-3h0m2 2h0m11 1h0m3 0h0m0-3h0m4-1h0m7 3h0m4-3h0m2 3h0m1-3h0m5 3h0m6 0h0m8 2h0m-19 2h0m-3 1h0m-4-1h0m-4 0h0m-8 0h0m-3 2h0m-3-1h0m-10 1h0m0-2h0m-9-2h0m-4 3h0m-5-3h0m-3 3h0m-6-2h0m-3 1h0m-18 2h0m12 4h0m11 0h0m5 3h0m1-3h0m3-1h0m6 3h0m6 0h0m0-3h0m4 2h0m2-1h0m3-1h0m11 2h0m11-3h0m9 2h0m20 1h0m-1 8h0m-40-3h0m-1 1h0m-6 1h0m-11-4h0m-6 3h0m-9-2h0m-1 4h0m0-4h0m-2 1h0m-1 3h0m0-2h0m-3 2h0m-1 0h0m-9-4h0m0-1h0m-1 5h0m-5-3h0m-5 2h0m-3 0h0m-1 1h0m-5 0h0m-4-3h0m-1 3h0m-3-1h0m-11-2h0m-27 6h0m6 3h0m2-1h0m11-1h0m13-2h0m1 4h0m2 0h0m10-4h0m7 3h0m1-1h0m4-1h0m1 3h0m0-2h0m3 1h0m2-1h0m1-1h0m2 1h0m2 0h0m0-1h0m1 2h0m1-1h0m2 0h0m3 2h0m3 0h0m3-1h0m1-1h0m2-1h0m1 0h0m2-1h0m6 0h0m3-1h0m0 1h0m1 2h0m0-3h0m3 3h0m1 1h0m0-3h0m4 4h0m11-2h0m2 0h0m5 0h0m2-1h0m2 1h0m2 2h0m1-3h0m1 0h0m5-2h0m1 2h0m9 2h0m8-1h0m-30 5h0m-2 2h0m-5-4h0m-6 5h0m0-1h0m-3-2h0m-3 3h0m-2-3h0m-1-2h0m-8 1h0m-4 1h0m0-2h0m0 3h0m0 2h0m-1 0h0m0-1h0m-1-1h0m-4-2h0m-2 2h0m-2 2h0m-1-2h0m-1 0h0m-3-1h0m-2 1h0m-2 1h0m-3-4h0m0 5h0m-5-3h0m-1 0h0m-7-1h0m-1-1h0m0 4h0m-4-3h0m-2 3h0m-4-3h0m-1 3h0m0-1h0m-1 1h0m-5 0h0m-2 1h0m-4-1h0m-1 0h0m0-1h0m-4-1h0m0-1h0m-1 4h0m-7-2h0m-13 1h0m-4-3h0m-28 2h0m2 4h0m18 0h0m0 4h0m4 0h0m3 0h0m1 0h0m1-2h0m2 0h0m0-2h0m1 3h0m1 0h0m8-1h0m6 2h0m3-2h0m2-3h0m0 1h0m3-1h0m1 0h0m2 5h0m0-3h0m6-1h0m2 1h0m0-1h0m1 2h0m7 0h0m2-2h0m5 2h0m4-2h0m3-1h0m1 3h0m6-3h0m2 0h0m6 3h0m1 0h0m0 2h0m1 0h0m2-5h0m1 1h0m0 1h0m3-2h0m0 5h0m2-3h0m1-1h0m1 3h0m3 1h0m2-4h0m2 4h0m0-3h0m1 3h0m0-1h0m2-3h0m0 2h0m3-1h0m0 3h0m1-1h0m2-1h0m0 2h0m4-1h0m1 1h0m3 0h0m2 0h0m12-5h0m3 3h0m9-1h0m6 1h0m-16 5h0m-7 2h0m-3-2h0m-2 0h0m-1-1h0m-1 1h0m-2 3h0m-1 0h0m-3-5h0m-3 0h0m0 1h0m0 3h0m-3-2h0m-1-2h0m-1 5h0m0-4h0m-7 1h0m-1 2h0m-3-4h0m-1 2h0m0 3h0m-5-2h0m-2 1h0m0 1h0m-2-5h0m0 2h0m-4 0h0m-19-1h0m-1-1h0m-25 3h0m-5-2h0m-2 4h0m0-5h0m0 1h0m-4 3h0m-1-3h0m-1 2h0m-4-1h0m-3-2h0m0 2h0m-5 2h0m-1-4h0m-5 0h0m-7 3h0m-4-2h0m-20 4h0m-25 6h0m38 0h0m0-2h0m2-2h0m2 3h0m2-2h0m1-1h0m1 0h0m1 4h0m0-3h0m1 3h0m3-5h0m3 1h0m3-1h0m6 1h0m9 0h0m3-1h0m63 4h0m6-4h0m1 4h0m0-2h0m6 3h0m0-4h0m1 2h0m1 1h0m0-2h0m5 1h0m0-2h0m4 4h0m1 0h0m6-1h0m1-3h0m2 2h0m1-3h0m4 1h0m2 2h0m13 0h0m-9 7h0m-13-1h0m-7 2h0m-1-2h0m-6-3h0m0 5h0m0-4h0m-6-1h0m-2 5h0m-2-4h0m-1 2h0m-3 2h0m-4-5h0m-3 3h0m-1 2h0m-13-1h0m-53-1h0m-3 1h0m0-2h0m-6 1h0m-1 0h0m0 2h0m-1-3h0m-5 0h0m-5 2h0m-1-2h0m-1 3h0m-3 0h0m0-1h0m-1 0h0m0-3h0m-3-1h0m-15 1h0m-2 7h0m1-1h0m4 4h0m3 0h0m9-2h0m3-2h0m0 4h0m7-4h0m1 1h0m1-2h0m5 2h0m3 2h0m2 0h0m3-3h0m0-1h0m0 3h0m49 1h0m7 1h0m8 0h0m4-1h0m1-4h0m1 3h0m10 2h0m1-2h0m3-2h0m1 4h0m5-5h0m0 2h0m1-2h0m0 5h0m5-1h0m3 0h0m1-1h0m3-3h0m15 3h0m-15 6h0m-1-1h0m-7-1h0m-8 0h0m-6 0h0m0-1h0m-4 0h0m-1 4h0m-4-4h0m-5 3h0m-1 1h0m-1 1h0m-8 0h0m-5-4h0m-3 4h0m-1-2h0m-5 2h0m-35 0h0m-2 0h0m-2 0h0m-9-4h0m-2 0h0m-2 2h0m-5-3h0m-1 4h0m-1 0h0m-1 1h0m0-1h0m0-4h0m-1 0h0m-4 5h0m0-2h0m-4 1h0m-3 1h0m-6 0h0m-5-5h0m-18 5h0m0 6h0m16-4h0m14-1h0m1 0h0m1 4h0m3 0h0m1-1h0m1 0h0m4 2h0m0-4h0m1 4h0m1-5h0m4 5h0m4-1h0m0-4h0m4 2h0m1 1h0m0-1h0m1-1h0m1 1h0m4 3h0m4 0h0m5-4h0m10 4h0m2-4h0m5 3h0m7-3h0m0 4h0m1-3h0m1 3h0m2 0h0m1-3h0m0 2h0m4 0h0m1-4h0m1 2h0m3-1h0m2-1h0m1 3h0m2 1h0m6-2h0m1 2h0m2 1h0m4-5h0m3 1h0m1-1h0m0 1h0m3-1h0m2 5h0m0-5h0m4 1h0m22 5h0m-29 3h0m-1-3h0m0 4h0m-4-4h0m-7 2h0m-2-1h0m-1 1h0m-6 0h0m-2-1h0m-1 2h0m-1-1h0m-1 3h0m-1-4h0m-4 0h0m-2 2h0m-3-3h0m-6 4h0m0-1h0m-2 0h0m-2-3h0m-1 4h0m-3-4h0m-3 4h0m-1-1h0m-5 1h0m-4 0h0m-1 1h0m0-3h0m-1 2h0m-1 0h0m-1-1h0m0-2h0m-4 3h0m-1 1h0m-1-5h0m0 5h0m0-2h0m-5 0h0m0-2h0m-6 1h0m-1 2h0m-1-1h0m0 2h0m-1 0h0m-1-2h0m-4 1h0m0 1h0m-1-2h0m-3-2h0m-5 2h0m-7-1h0m-3 0h0m-3-1h0m-11-1h0m11 7h0m1-1h0m3 5h0m2-3h0m1-2h0m1 1h0m2-1h0m3 4h0m1-2h0m1 1h0m2 1h0m3-2h0m1 0h0m5 3h0m0-4h0m5 4h0m1 0h0m1-5h0m2 3h0m5-3h0m1 5h0m1-3h0m1 3h0m0-3h0m1-2h0m1 1h0m6 0h0m3 3h0m0-4h0m1 3h0m2 2h0m0-1h0m0-4h0m1 5h0m1-1h0m1-2h0m1 0h0m5-2h0m1 1h0m5 0h0m2 1h0m3-2h0m7 1h0m1 1h0m4-1h0m30 7h0m-7 1h0m-6-1h0m-18 3h0m-7 0h0m-14-4h0m-2 4h0m-4-3h0m-9-2h0m0 3h0m-1 2h0m0-2h0m-2-3h0m-1 4h0m0-4h0m-2 3h0m-3-1h0m-6-2h0m-2 0h0m-1 1h0m-1 1h0m0 3h0m-7-1h0m-8-1h0m0 2h0m-2-4h0m-3 1h0m-4 9h0m1-4h0m2 3h0m7-3h0m2-1h0m1 4h0m1 1h0m0-5h0m3 3h0m1-1h0m1 3h0m2 0h0m0-4h0m2-1h0m4 0h0m2 2h0m3 2h0m1 0h0m2 0h0m4-1h0m2-3h0m2 4h0m4-1h0m0-3h0m1 2h0m2-2h0m4 1h0m3 1h0m1 2h0m2-3h0m44 3h0m9-2h0m1 1h0m22 8h0m-15-1h0m-30 0h0m-1 1h0m-12 0h0m-18-1h0m-5-2h0m-7-2h0m-1 2h0m0-2h0m-2 3h0m-1-2h0m-2 3h0m-2-2h0m-4 2h0m-1-1h0m-5-2h0m0-1h0m-9 0h0m-1 4h0m-2-4h0m0 4h0m-5-1h0m-2-2h0m-1 1h0m0 3h0m-1-5h0m-5 4h0m0-3h0m-3 0h0m-15 6h0m7 4h0m5-5h0m5 0h0m3 3h0m4 2h0m1-3h0m3 2h0m1-2h0m1 3h0m2-1h0m4 0h0m1-3h0m3-1h0m2 4h0m3 0h0m4 1h0m0-1h0m1-2h0m1-1h0m1 4h0m3-1h0m0-2h0m1-2h0m7 2h0m1 2h0m5 0h0m29 0h0m2-2h0m21 2h0m41 7h0m-16-4h0m-9 1h0m-33-1h0m-14 1h0m-3-2h0m0 5h0m-14-5h0m-2 1h0m-1 0h0m0 4h0m-1 0h0m-4 0h0m-6-5h0m-1 1h0m-3 3h0m-2-1h0m-3-3h0m-4 5h0m-3-5h0m-3 3h0m-5 1h0m-6-4h0m-1 4h0m-9-4h0m-3 2h0m-14-2h0m5 11h0m1-5h0m7 5h0m3-1h0m2 0h0m2-2h0m1-2h0m2 3h0m4-2h0m1 1h0m0-2h0m3 3h0m1-2h0m3 0h0m4-1h0m3 3h0m1-3h0m3 1h0m8 1h0m3 1h0m1-1h0m1 2h0m3 1h0m1-5h0m2 3h0m22-2h0m7 4h0m1-4h0m19 1h0m5-2h0m-18 6h0m-1 5h0m-12-1h0m-12-2h0m-2 1h0m-2 2h0m-2 0h0m-2-4h0m-2 1h0m0-2h0m-3 3h0m0 1h0m-1-2h0m-4-1h0m-1 1h0m-4-2h0m0 3h0m-3-1h0m-12-1h0m-1-1h0m-4 5h0m-1-3h0m-4-2h0m0 1h0m0 3h0m-2-2h0m-1 2h0m-1-1h0m-3 2h0m-1-4h0m-2 4h0m-4-1h0m-4 0h0m-5 1h0m3 5h0m7 1h0m3-4h0m5 2h0m2-2h0m2 1h0m31-2h0m3 1h0m2 4h0m3-2h0m2-2h0m2 2h0m1 1h0m9-2h0m3-2h0m11 1h0m5 4h0m18-2h0m7 2h0m-17 4h0m-11-1h0m-2 3h0m-4 0h0m-7-1h0m-2-2h0m-1-1h0m-3 2h0m-2-3h0m-3 4h0m-2 1h0m0-2h0m-2 0h0m-1 0h0m-5 1h0m-3-2h0m-14 2h0m-15 0h0m0-3h0m-1 1h0m0-1h0m-1 3h0m-4-1h0m-5-3h0m-3 3h0m-4-2h0m-29 10h0m10-3h0m18-2h0m1 3h0m7 2h0m5-1h0m1-3h0m1-1h0m1 0h0m5 3h0m12 0h0m10 1h0m0-3h0m5-1h0m0 4h0m5 0h0m1-3h0m1-1h0m2 2h0m2 1h0m1-2h0m2-1h0m0 3h0m1-1h0m1 2h0m3 0h0m3-1h0m3 2h0m1-1h0m0 1h0m6-2h0m26 0h0m9-2h0m69 7h0m-39-1h0m-35 2h0m-21-1h0m-2-2h0m-17 2h0m-1 3h0m-1-1h0m-1-2h0m-1 0h0m-3-1h0m-5 0h0m-1 3h0m-1 0h0m-3 1h0m-2-5h0m-1 2h0m-1-2h0m-2 3h0m-1-2h0m-13 3h0m-2-4h0m-9 4h0m-1-4h0m-1 2h0m-3 0h0m-3 0h0m-3 1h0m-3-1h0m0-2h0m-1 0h0m-2 2h0m-1-1h0m-2 2h0m-1 0h0m0-2h0m-1 2h0m-1-2h0m-3-1h0m0 1h0m0 4h0m-3-5h0m0 2h0m-2 3h0m-9-4h0m-5 3h0m2 3h0m2 1h0m0 2h0m1 1h0m0-4h0m3 1h0m2 3h0m3-1h0m1-2h0m0 3h0m4-1h0m1-1h0m3 1h0m4-2h0m11-1h0m18 2h0m2-1h0m6 2h0m0-2h0m5 2h0m2-2h0m5 3h0m0-4h0m1 0h0m8 0h0m1 1h0m0 3h0m3 0h0m1-3h0m2 3h0m1-3h0m1 0h0m20 3h0m6-3h0m2 0h0m8 0h0m13 3h0m-2 3h0m-15 3h0m-22-5h0m-16 3h0m-5-1h0m-1-2h0m-4 2h0m-1 3h0m0-4h0m-3 4h0m-1-3h0m-5-1h0m-1 2h0m-1-1h0m-2 1h0m-1 0h0m-22 0h0m-17 0h0m-7-3h0m-1 2h0m0-1h0m-5 3h0m-2-1h0m-2 1h0m-3-1h0m-2 0h0m-3-3h0m-10 2h0m-3 1h0m-3 6h0m3-3h0m4 5h0m1 0h0m3-1h0m1-4h0m4 3h0m3 1h0m3-3h0m54 3h0m4-1h0m1-2h0m0-1h0m1 2h0m0 2h0m2-1h0m0-3h0m1 2h0m6 2h0m1 0h0m1 1h0m2-2h0m0 2h0m2-4h0m2 1h0m1 3h0m2-5h0m1 0h0m0 1h0m8 3h0m5 1h0m1-2h0m34 0h0m6 3h0m-11 5h0m-32 0h0m-7-4h0m-2 4h0m-2-3h0m-1 0h0m-2 0h0m-4 3h0m-4-2h0m0-1h0m0 2h0m-6-3h0m-6-1h0m-5 5h0m-56-5h0m-7 1h0m-2 4h0m-3-5h0m-1 1h0m-2 1h0m-5 3h0m-2-4h0m-4 2h0m-1 7h0m6 1h0m3 0h0m8-4h0m2-1h0m4 0h0m70 0h0m2 2h0m0 2h0m5-1h0m2-3h0m9 3h0m9-3h0m13 0h0m20 1h0m4 4h0m25-1h0m-46 3h0m-11 2h0m-6 0h0m-18-2h0m-1 1h0m-1 1h0m-2-2h0m-4 0h0m-6 4h0m-72-5h0m-1 4h0m-5-3h0m-2 2h0m0 1h0m-2-1h0m-9-3h0m-4 0h0m3 8h0m9-2h0m3 2h0m1 1h0m7 2h0m1-3h0m2 3h0m59-5h0m0 1h0m3 4h0m1-2h0m1-1h0m1-1h0m1 2h0m3 2h0m1 0h0m1-1h0m4 0h0m0-2h0m2 0h0m1 1h0m3 2h0m0-3h0m39 1h0m3-2h0m-22 6h0m-19 1h0m-2-1h0m-1 1h0m0 3h0m-1-4h0m-5 0h0m-2 0h0m0 3h0m-2-2h0m0-1h0m-6 2h0m-1 0h0m0-1h0m-1 2h0m-61-3h0m-5 1h0m-2 1h0m-1-2h0m-3 4h0m-2-3h0m0 2h0m-2 0h0m-2 0h0m0-3h0m-1 2h0m-3 2h0m-3 1h0m8 1h0m3 1h0m5 1h0m2-3h0m1 3h0m56-1h0m3 3h0m2-5h0m0 1h0m3 4h0m0-4h0m5 2h0m2 0h0m1 1h0m0-3h0m6 3h0m1-2h0m4 3h0m8-4h0m2 3h0m18-2h0m26-1h0m-45 8h0m-10 0h0m-4 2h0m-2 0h0m-1-5h0m-3 0h0m0 2h0m-4 1h0m-1-2h0m-1 1h0m-4 3h0m-1-5h0m0 1h0m-3 2h0m-2 2h0m-17-2h0m0 6h0m2 2h0m0-4h0m6 4h0m0-4h0m7 1h0m2 0h0m0-1h0m4 4h0m2-5h0m1 0h0m1 4h0m1 0h0m14-4h0m-17 9h0m-5-3h0m-6 4h0m-3-4h0m-5 0h0m-2 0h0m-3 2h0m-2 0h0m-1 3h0m-1-5h0m-2 4h0m-1-4h0m-1 1h0m-2 2h0m-2 0h0m0-1h0m-3 0h0m1 4h0m1 0h0m11 0h0m3 3h0m0-2h0m4 3h0m8-2h0m-7 4h0m-3 1h0m-12 2h0m-4 2h0m23 2h0m-22 5h0" stroke="#0000ff" stroke-width="1.7" stroke-linecap="square"/>
<path d="M1126 722h0m4 1h0m1-2h0m25 4h0m1-2h0m1 6h0m-2-3h0m-9 5h0m-7-2h0m-2-3h0m-3 4h0m-1 0h0m-2 0h0m0-4h0m-1 5h0m-6-4h0m-2 4h0m-17 6h0m2 0h0m0-5h0m1 5h0m1-1h0m1 0h0m3 1h0m1-1h0m1 1h0m0-1h0m1 0h0m1 1h0m1 0h0m2 0h0m1-1h0m0 1h0m0-2h0m1-3h0m2 4h0m1-1h0m0-1h0m0-2h0m2 3h0m1-2h0m1 2h0m1 0h0m1 1h0m2-2h0m1-1h0m1-1h0m0 3h0m2 0h0m0 2h0m0-3h0m3 0h0m0 3h0m3-3h0m1 2h0m1 1h0m1-3h0m1 1h0m1 2h0m0-4h0m3 3h0m1 0h0m3-4h0m3 1h0m2 1h0m1 3h0m3-1h0m6-2h0m1 3h0m-5 6h0m-3-2h0m-2 1h0m0 1h0m-3-1h0m-1-1h0m-2 2h0m-1-1h0m0 1h0m-1-3h0m-2 1h0m-1 0h0m-1 0h0m-4-3h0m-1 3h0m-2-3h0m-5 2h0m-3-1h0m-1 1h0m-1 1h0m-4-1h0m-1-1h0m0 4h0m-1-3h0m0 2h0m0-3h0m-1 4h0m-4-5h0m-2 5h0m0-2h0m-1 2h0m-2-2h0m-1 1h0m-1-2h0m-2-1h0m-1-1h0m0 2h0m0 1h0m-1-3h0m-2 3h0m0 1h0m-3 0h0m-1 0h0m-3-3h0m-1 4h0m-3-2h0m0 2h0m-10-3h0m0 1h0m-2 2h0m-6-1h0m-19 7h0m7-2h0m1-1h0m0 3h0m2 0h0m1-1h0m2-1h0m0 2h0m1-3h0m1 1h0m2-1h0m1 1h0m2-3h0m0 2h0m1 2h0m0-1h0m0-2h0m1 1h0m1 1h0m1 2h0m1-3h0m0 2h0m1-4h0m0 1h0m2 0h0m1 4h0m1-4h0m2 0h0m1 1h0m2 1h0m0 1h0m0-2h0m1 2h0m0-3h0m1-1h0m1 3h0m1-3h0m1 5h0m1-5h0m1 3h0m0 1h0m1-2h0m1 0h0m1-1h0m1 0h0m1 0h0m1 3h0m1 1h0m1-3h0m2 0h0m0-2h0m2 1h0m2 0h0m0 2h0m0-3h0m2 1h0m2-1h0m1 5h0m0-5h0m3 1h0m1-1h0m0 1h0m1-1h0m1 2h0m1 2h0m1-1h0m0 1h0m4 1h0m2 0h0m3-1h0m5-2h0m7 1h0m1-3h0m0 3h0m1-1h0m1 0h0m1 0h0m1 3h0m2 0h0m1-5h0m1 3h0m1 2h0m2-5h0m1 5h0m1-4h0m2 3h0m1 0h0m3 1h0m2 6h0m-4-4h0m-2 3h0m0-4h0m-1 5h0m-1-4h0m-1 0h0m-1 0h0m-1 2h0m-4-2h0m-2 2h0m-3 2h0m-1 0h0m0-3h0m-1-1h0m-2 3h0m0-3h0m-1 2h0m-2 0h0m-1-3h0m-2 3h0m0-3h0m-1 3h0m0-3h0m0 2h0m-2-1h0m-1 4h0m0-2h0m-1 2h0m0-5h0m-1 0h0m-1 3h0m-1-3h0m-2 5h0m-2-5h0m-1 1h0m0 2h0m-9-3h0m-1 4h0m-1 1h0m-1-2h0m-3 1h0m-1-3h0m-2 1h0m-3 1h0m-1-2h0m0 2h0m0 2h0m-3-4h0m-3 4h0m-2-1h0m-1-4h0m0 4h0m0-1h0m-1-1h0m-1-2h0m-2 3h0m0 2h0m-4-4h0m-2 2h0m0-2h0m-1 3h0m-3-4h0m-3 0h0m-6 1h0m0 2h0m-3 2h0m0-4h0m-3 1h0m-2-2h0m-1 1h0m-1-1h0m0 5h0m-2-3h0m0 1h0m0-3h0m3 6h0m0 3h0m0 2h0m2-1h0m0-2h0m0 1h0m0-3h0m1 3h0m2 0h0m2-3h0m1 5h0m2-2h0m0 2h0m1-3h0m0-2h0m1 4h0m1 1h0m1-1h0m2 1h0m0-4h0m1-1h0m1 0h0m2 1h0m1 4h0m1-5h0m0 3h0m4-2h0m3 1h0m4 3h0m1-2h0m3 1h0m1-4h0m3 5h0m3-4h0m0 2h0m1-2h0m1 3h0m3-3h0m0 1h0m3-2h0m5 5h0m1-5h0m0 1h0m2 4h0m1 0h0m1-5h0m0 2h0m2 3h0m0-1h0m0-4h0m0 1h0m1 3h0m3-4h0m0 4h0m1 1h0m0-4h0m1 4h0m0-3h0m1 2h0m0 1h0m3-1h0m1 0h0m1-3h0m0-1h0m1 3h0m0-1h0m2-1h0m0 2h0m1 0h0m2-1h0m1 0h0m0 3h0m1-4h0m1 3h0m16-4h0m1 3h0m1 0h0m2-3h0m-20 7h0m-1 1h0m-3-2h0m-2 1h0m-4 3h0m-3 0h0m-1 0h0m-1 1h0m0-5h0m0 4h0m0-3h0m-1-1h0m-2 3h0m-1 2h0m0-2h0m-1 1h0m-2-1h0m-3-3h0m0 1h0m0 4h0m-4-1h0m-3 1h0m-1-1h0m-2-3h0m-3-1h0m0 3h0m-1 1h0m-3 1h0m0-5h0m-1 4h0m-1-1h0m0 2h0m0-5h0m-3 4h0m-1-3h0m0 1h0m0 3h0m-1-1h0m0 1h0m-4 0h0m-1-3h0m0 2h0m-3 0h0m-2-2h0m-3 0h0m0-1h0m-2 4h0m-1-4h0m-1 4h0m0-5h0m0 4h0m-2-3h0m-1 3h0m-1-3h0m-3 4h0m0-3h0m-2 0h0m0-2h0m0 1h0m-3 3h0m-1 1h0m-1-3h0m0 2h0m-2-4h0m-2 5h0m-1-5h0m-4 5h0m-8 3h0m4 1h0m11-2h0m0-1h0m2 1h0m0 1h0m3 0h0m1 1h0m2 1h0m2-4h0m0 3h0m2-2h0m2 1h0m1 3h0m2-5h0m2 2h0m1 0h0m1 2h0m2-1h0m3 1h0m1-3h0m1 1h0m0 2h0m2 1h0m0-4h0m2 1h0m1-1h0m2-1h0m1 5h0m3-5h0m1 1h0m1 4h0m1-4h0m1 0h0m0 2h0m0 1h0m1-3h0m2-1h0m2 4h0m12-1h0m1-2h0m1 4h0m0-3h0m2 1h0m2 0h0m3-2h0m1 3h0m0-3h0m3 0h0m7 0h0m-18 5h0m-2 0h0m-1 4h0m-12-4h0m-2 0h0m-4 0h0m-2 3h0m-1-2h0m-1 0h0m0-1h0m0 2h0m0 3h0m-2-3h0m-4-2h0m-3 4h0m-2-1h0m-1-3h0m-2 1h0m-3-1h0m-1 3h0m-18-3h0m0 17h0m1 4h0m2-1h0m1 0h0m0-1h0m9 10h0m-1-2h0m-1 0h0m-2-1h0m-4 3h0m-5-5h0m-2 3h0m-1 2h0m-1 0h0m0-4h0m-2 2h0m0 2h0m-1-3h0m0 4h0m6 5h0m1-3h0m1 2h0m0-2h0m0 3h0m4-3h0m2 0h0m1 2h0m1-4h0m1 2h0m0 3h0m1-1h0m1-3h0m3 3h0m1-4h0m1 2h0m3 3h0m3-2h0m1 1h0m1 4h0m-1 3h0m0-1h0m0-1h0m-1 2h0m-2-3h0m-2-2h0m-5 4h0m-1-1h0m-1 0h0m-1-3h0m-3 3h0m-3 2h0m0-2h0m-1-2h0m-1 3h0m0-2h0m0-2h0m-2 0h0m0 1h0m-6 4h0m0 1h0m1 1h0m4 1h0m1-2h0m1 2h0m0 2h0m4-4h0m0 1h0m0 3h0m1 1h0m3-5h0m0 2h0m0 3h0m1-1h0m1-2h0m2 3h0m0-5h0m2 3h0m0 2h0m1-3h0m1 0h0m0 1h0m0-2h0m1 1h0m0 2h0m1 1h0m3-5h0m0 1h0m2-1h0m3 4h0m5 1h0m-2 1h0m-8 4h0m-1 0h0m-1-4h0m0 3h0m-4-1h0m0 3h0m-1-4h0m0 4h0m0-5h0m-1 4h0m-1 0h0m-1-1h0m-1-1h0m-2 0h0m-1-1h0m0 4h0m-1-1h0m-1-2h0m-2 0h0m0-2h0m-3 0h0m0 2h0m-1-2h0m-1 3h0m0 1h0m-1 0h0m-1-1h0m-2 2h0m2 3h0m0 3h0m1-3h0m2 3h0m0-5h0m1 5h0m4 0h0m1-3h0m1 1h0m1 2h0m1-1h0m1 1h0m0-4h0m1 4h0m2-5h0m0 4h0m0 1h0m1-5h0m1 2h0m1 2h0m0 1h0m3-5h0m0 2h0m0-1h0m1 0h0m1 3h0m1-2h0m3 2h0m5 1h0m1 4h0m-1-2h0m0 2h0m-1-3h0m-2 1h0m0-1h0m-1 3h0m-2 0h0m-1-2h0m-1 3h0m-1-2h0m-1-1h0m-1 0h0m-1 2h0m-1-2h0m-1 1h0m0-1h0m-2 4h0m-1-4h0m-5 2h0m0-2h0m-1 2h0m-1-1h0m-1-1h0m-4 1h0m-1 2h0m0-1h0m-1 1h0m0-1h0m-2 1h0m-2 3h0m4 0h0m2 1h0m2 1h0m1 2h0m0-3h0m1-1h0m1-1h0m0 4h0m0-3h0m1 0h0m1-1h0m3 3h0m1 2h0m0-1h0m2-3h0m1 0h0m0 2h0m2 1h0m1-3h0m0 2h0m1 2h0m7-4h0m3 0h0m1 10h0m-5-3h0m0-1h0m-1 1h0m0 2h0m-3-1h0m0 1h0m-1-1h0m-2-1h0m0 1h0m0 1h0m-1 1h0m0-4h0m0 3h0m-1-4h0m0 5h0m-2-2h0m-2 0h0m-2 1h0m0 1h0m0-3h0m-1 0h0m-1 3h0m-3-3h0m-2-2h0m-1 0h0m0 1h0m-2 3h0m0-4h0m0 1h0m-1-1h0m0 1h0m-6 3h0m-1 1h0m0-4h0m-5 3h0m-1 1h0m-1 0h0m-3-3h0m-14 9h0m3-2h0m1 1h0m1-1h0m1 0h0m4 1h0m0-1h0m1 1h0m0-4h0m1 1h0m1 4h0m1-1h0m1-2h0m2 3h0m3-1h0m0-1h0m1 1h0m1-2h0m2 1h0m1-2h0m0-1h0m1 0h0m0 4h0m1-3h0m0 3h0m1-3h0m0 2h0m1 0h0m0 1h0m0 1h0m4-5h0m2 3h0m0 2h0m0-1h0m1-2h0m1 2h0m0-3h0m0 2h0m1 2h0m0-1h0m2 1h0m1 0h0m1 0h0m1-5h0m0 1h0m1 1h0m1 0h0m2-2h0m1 0h0m1 2h0m1 2h0m1-1h0m3-1h0m0-1h0m3 4h0m0-2h0m1 2h0m1-4h0m0 8h0m0 1h0m-1-4h0m-1 1h0m-2 4h0m0-5h0m-1 1h0m0 3h0m-2-1h0m-6-1h0m-1 0h0m0-1h0m-1 1h0m0-1h0m-1 1h0m0-2h0m-1 0h0m-2 1h0m-2 4h0m-2-4h0m-3-1h0m0 4h0m-1-2h0m-3 0h0m-1 2h0m-2-3h0m-1-1h0m-1 2h0m0 3h0m-1-5h0m-1 4h0m0-2h0m-2 0h0m-1-2h0m0 1h0m-1 0h0m-1 2h0m-2-1h0m0-2h0m-2 0h0m-1 0h0m-1 4h0m0-1h0m-1-2h0m-1 4h0m-1-4h0m-1 1h0m-1-2h0m-1 3h0m0 1h0m-1-2h0m-1 0h0m-1 2h0m-3-2h0m-1-1h0m-2 0h0m-2-1h0m-11 11h0m1-4h0m2 1h0m5 3h0m0-4h0m3 2h0m1-3h0m1 5h0m1 0h0m0-1h0m0-3h0m2 0h0m0-1h0m1 1h0m1-1h0m7 1h0m0-1h0m1 0h0m1 3h0m4-3h0m1 1h0m0 4h0m2-2h0m8-3h0m11 4h0m0 1h0m2-3h0m1 1h0m1 1h0m1-3h0m1 3h0m3 0h0m1-4h0m11 2h0m0 2h0m1 1h0m1-2h0m-4 8h0m-3-1h0m-2-2h0m-1 2h0m0-2h0m-1 3h0m-2 0h0m0-5h0m-2 5h0m-1-1h0m-1-4h0m-2 1h0m-1 0h0m0 2h0m0-1h0m-2 2h0m0-3h0m-36 2h0m-2-2h0m-2-1h0m-6 0h0m-2 0h0m-2 1h0m0-1h0m-5 1h0m-1 3h0m0 1h0m-3-1h0m-4 7h0m2-2h0m1-1h0m1 3h0m2-3h0m1-2h0m2 5h0m2-1h0m1 0h0m3 0h0m0-3h0m2 1h0m2 3h0m2-5h0m2 1h0m33 3h0m0-1h0m6-1h0m0-2h0m1 5h0m0-4h0m1 4h0m1-5h0m5 3h0m2 0h0m0-2h0m0 4h0m1-5h0m3 3h0m1-3h0m2 2h0m3 1h0m0-3h0m3 4h0m-11 5h0m0-1h0m0-2h0m-1 2h0m-1 1h0m-1-1h0m-1-2h0m-1 5h0m0-5h0m-1 5h0m0-3h0m-1 2h0m0-3h0m-3 3h0m0-2h0m-2 0h0m0 2h0m0-3h0m-1 2h0m-46 1h0m-2-4h0m-2 2h0m0 2h0m-4 1h0m0-4h0m-2 0h0m0 3h0m-1 1h0m-1-1h0m-2 0h0m0-2h0m-1 2h0m0 1h0m-3-2h0m-4 8h0m3-5h0m0 2h0m1-1h0m1 2h0m3 2h0m0-5h0m2 3h0m1-2h0m1 4h0m1-2h0m1-1h0m3 0h0m1-2h0m47 1h0m0 3h0m2-2h0m3 2h0m10 0h0m0-1h0m2 0h0m0 1h0m2-4h0m-7 10h0m-1-4h0m-5 3h0m-2-1h0m0-2h0m-2 5h0m-2-4h0m-2 3h0m0-4h0m-4 5h0m-1-1h0m-4-2h0m-32-1h0m-11 1h0m-1 0h0m-1 1h0m-1-2h0m-1-1h0m-1 3h0m-3-2h0m4 5h0m2 0h0m1 0h0m0 1h0m0 1h0m1-1h0m1 0h0m0 1h0m1 0h0m3 0h0m0 2h0m5-2h0m8 2h0m13-2h0m9-1h0m3 0h0m0 3h0m2-2h0m0 1h0m1 2h0m0-4h0m1 4h0m4-1h0m0 1h0m1-4h0m1 5h0m-3 0h0m-1 2h0m0-2h0m-1 0h0m-1 4h0m-1 1h0m-2-3h0m0 1h0m-1-1h0m-3 0h0m-2-1h0m0 4h0m-1-2h0m-1 2h0m-2-2h0m-2 2h0m-1 0h0m-3 0h0m0-4h0m-2 0h0m-2 3h0m-1 1h0m-6 5h0m1 0h0m1-1h0m1 1h0m2-2h0m0 1h0m2 0h0m2-2h0m0 1h0m2 0h0m0-2h0m3 2h0m0 1h0m4-3h0m1 1h0m3-1h0m2 2h0m-16 6h0m-2-1h0m-1 1h0" stroke="#00d8ff" stroke-width="1.7" stroke-linecap="square"/>
<path d="M1109 736h0m10 0h0m4-2h0m12 3h0m2 0h0m3 0h0m9 6h0m-2-3h0m-2 2h0m0-4h0m-1 4h0m0 1h0m-1-2h0m0 2h0m0-1h0m0-2h0m-1 1h0m0 2h0m-1-4h0m-1-1h0m0 1h0m-1 3h0m-2-3h0m0 2h0m-1 0h0m-1 1h0m0-1h0m-1-2h0m0 3h0m-1-2h0m-3 0h0m-4 1h0m-1 1h0m-1-3h0m0 4h0m-2 0h0m-1 0h0m-2-2h0m0 1h0m-2 1h0m-1-2h0m-1-2h0m-2 4h0m-2-2h0m0 1h0m-1-1h0m-1-1h0m0-2h0m-7 4h0m-18 3h0m2 2h0m1 0h0m0-1h0m7 2h0m1 1h0m3 0h0m2-4h0m4 0h0m1-1h0m1 5h0m0-1h0m1 0h0m0-1h0m1 0h0m0 2h0m1-2h0m1 0h0m0 1h0m1 1h0m0-2h0m0 1h0m1-2h0m1 1h0m1-1h0m0-2h0m1 4h0m1 1h0m0-4h0m0 3h0m2-3h0m1 4h0m2 0h0m0-2h0m1 1h0m0-2h0m1-1h0m0-1h0m0 5h0m1 0h0m0-2h0m1-3h0m1 5h0m0-3h0m1 3h0m0-3h0m1 2h0m0-1h0m1 0h0m0-3h0m1 2h0m1 1h0m1 0h0m1-3h0m1 1h0m0 3h0m0-2h0m1-1h0m1 1h0m0-2h0m0 4h0m1-4h0m0 1h0m2 2h0m1 1h0m0-1h0m3 0h0m0-3h0m1 1h0m0 4h0m0-1h0m1 0h0m0-2h0m0-2h0m0 3h0m1 1h0m2 0h0m0 1h0m0-3h0m1-2h0m0 1h0m1 0h0m1 0h0m1 3h0m0 1h0m-2 4h0m0-3h0m0 4h0m0-3h0m-2 4h0m-1-4h0m0-1h0m-1 0h0m-3 4h0m-1-3h0m-1 2h0m-1-3h0m0 4h0m-2-3h0m-2 1h0m0-1h0m0-1h0m-1 2h0m0 1h0m-1 0h0m-2-2h0m0 1h0m-1-1h0m-2 2h0m-1-3h0m0 4h0m-1-4h0m0 3h0m0-2h0m0 1h0m0 2h0m-1-3h0m0 4h0m-1-2h0m-1-1h0m0 3h0m0-5h0m-2 4h0m0-1h0m0-2h0m-1 4h0m0-4h0m0 2h0m0 1h0m-1 1h0m0-3h0m-1-2h0m-1 2h0m0-1h0m-1 3h0m0-1h0m-2-1h0m0-1h0m-2 0h0m-1-1h0m0 3h0m-1-1h0m0 2h0m0-3h0m-1 4h0m0-1h0m-1-3h0m-1 3h0m-1-1h0m-1 2h0m0-4h0m-1 3h0m0-1h0m-2 1h0m0 1h0m0-3h0m-1 0h0m-3-1h0m-2 4h0m-1 0h0m0-3h0m0-1h0m0 3h0m0-1h0m-2-1h0m0-2h0m-1 1h0m0 3h0m-1-1h0m-1 2h0m0-2h0m0-3h0m-1 3h0m-1 2h0m-1-2h0m-3 2h0m1 3h0m1-2h0m1 3h0m0-2h0m0-1h0m0 2h0m1-1h0m0 4h0m0-3h0m1-2h0m0 1h0m0 1h0m2-1h0m0 3h0m0-1h0m1 0h0m0 1h0m1-4h0m0 4h0m0-3h0m1 0h0m1 2h0m1-2h0m0 1h0m1 1h0m0 2h0m0-5h0m0 1h0m0 1h0m1-2h0m1 1h0m0 1h0m1-1h0m0 3h0m1 0h0m0 1h0m1-1h0m1-3h0m2 2h0m0 2h0m1-3h0m0-1h0m3 3h0m0-3h0m3-1h0m1 1h0m0 1h0m1 2h0m2 1h0m1 0h0m0-4h0m1 0h0m0 3h0m1-4h0m0 2h0m0 3h0m1-1h0m0-3h0m1 3h0m0-2h0m1 0h0m1-1h0m4 0h0m5 4h0m1-2h0m0 2h0m11-4h0m-11 6h0m-13 3h0m-1-4h0m0 4h0m-1-3h0m-1 0h0m0-1h0m0 2h0m-1 2h0m-1-1h0m-1-1h0m0-2h0m-7 2h0m0-1h0m-3-1h0m-2 0h0m-1 2h0m0-1h0m-1 2h0m-1 1h0m0-4h0m0 2h0m0-1h0m-1 0h0m-1 2h0m-2-2h0m0 1h0m0 2h0m0-1h0m-1-2h0m-1 0h0m0 1h0m-2 1h0m-1-2h0m-1 2h0m-1 0h0m0-3h0m-1 4h0m-1-1h0m-2 0h0m6 4h0m4 2h0m0-2h0m1 0h0m1 2h0m0-1h0m1-1h0m1-1h0m0 2h0m2 1h0m0 1h0m8-3h0m1 1h0m3 0h0m-30 51h0m1 0h0m0-2h0m1 0h0m3 7h0m-5 0h0m-2 0h0m-1-2h0m-1 1h0m-1 2h0m-2-1h0m-1 0h0m-1 1h0m-2-4h0m-2 6h0m1 2h0m2-3h0m1 5h0m0-2h0m0-3h0m0 2h0m1-1h0m2 2h0m1-3h0m2 0h0m1 0h0m8 2h0m0 3h0m1-3h0m3 3h0m-3 1h0m-9 0h0m-1 2h0m-1 2h0m-1-4h0m-2 2h0m-2-1h0m0-1h0m-1 0h0m-2 2h0m-1 0h0m0 9h0m5-3h0m7 2h0m3 0h0m1-1h0m1 2h0m2-4h0m-3 9h0m-1 0h0m-10-3h0m-1 2h0m-1 0h0m-9 1h0m-9 7h0m2-2h0m3 2h0m2-2h0m8 0h0m3-1h0m1 1h0m1-3h0m1 4h0m5 0h0m3-3h0m-3 6h0m-1 2h0m-1 1h0m0-1h0m0-2h0m-3 1h0m0 3h0m0-1h0m-1-1h0m-1-3h0m0 3h0m-1 0h0m0-1h0m-1 3h0m-1-1h0m0-3h0m-1 1h0m0 3h0m0-5h0m0 4h0m-2 1h0m-1-3h0m-1 3h0m-3-2h0m0 2h0m0-3h0m-1 3h0m-1-2h0m-1-3h0m0 4h0m-1 0h0m0-2h0m-1 0h0m-2-1h0m0-1h0m0 3h0m-1 2h0m-1 0h0m0-2h0m-1 0h0m-1 2h0m-4 0h0m-11-1h0m-12 7h0m5 0h0m1-1h0m2 1h0m1 0h0m1-2h0m0-1h0m1 1h0m1 0h0m1-3h0m1 5h0m1-2h0m0 2h0m1-3h0m0 2h0m1 0h0m1-4h0m0 4h0m2-2h0m0-1h0m0 3h0m1 0h0m1-2h0m0-1h0m1 3h0m0-1h0m1-2h0m0 1h0m1 3h0m1-1h0m1-1h0m0-1h0m0 2h0m1-1h0m0 1h0m0-4h0m1 3h0m1-1h0m1-1h0m0 3h0m0-2h0m1 2h0m1-4h0m0 5h0m1-4h0m1 0h0m0 2h0m2 0h0m0-3h0m0 4h0m1-1h0m0 2h0m1-3h0m2 3h0m1 0h0m0-1h0m1-1h0m1 0h0m1 0h0m0-2h0m0-1h0m1 4h0m1-4h0m0 1h0m1 1h0m1 2h0m0 1h0m0-2h0m1 2h0m2-5h0m1 1h0m0-1h0m9 11h0m-9-3h0m0-2h0m-1 3h0m0-1h0m0-2h0m-2 0h0m0 5h0m-1-4h0m0 1h0m-1 3h0m0-1h0m0-3h0m-1 2h0m0-1h0m0 3h0m-1-4h0m0 4h0m0-1h0m0-4h0m-1 0h0m0 4h0m0 1h0m0-3h0m-1 3h0m-2-5h0m0 1h0m-1-1h0m-1 1h0m-2 2h0m-2-1h0m-1 1h0m0-2h0m-1-1h0m0 2h0m-2-1h0m0-1h0m-1 2h0m-1-1h0m0 2h0m-1-3h0m0 4h0m-1 0h0m0-4h0m0 2h0m-1 2h0m0-3h0m-2 3h0m0-4h0m-1 3h0m-1 0h0m0-1h0m-1 0h0m-1 2h0m0-2h0m0-1h0m0-1h0m-1 4h0m0 1h0m-2-4h0m-1 0h0m-2 2h0m0 1h0m0-4h0m0 5h0m-1-5h0m0 4h0m0-2h0m-1 0h0m-1 1h0m0-2h0m-1 3h0m-2-1h0m0-2h0m-1 3h0m0-2h0m-2 3h0m-1-2h0m-2-1h0m-1 3h0m0-1h0m0-2h0m0 1h0m-1-1h0m-1 3h0m0-4h0m0 3h0m-7 5h0m2 2h0m0-1h0m2-1h0m1 0h0m2-3h0m0 3h0m2-1h0m1-2h0m0 5h0m0-2h0m1 0h0m1-2h0m0 3h0m0-1h0m1 1h0m1-1h0m2-3h0m1 5h0m0-1h0m1-3h0m0 3h0m0-4h0m0 2h0m1 2h0m0 1h0m1 0h0m0-1h0m1-3h0m0 3h0m1-1h0m0-1h0m0-2h0m1 0h0m0 2h0m1 0h0m4-1h0m0 4h0m1-4h0m2 3h0m0-1h0m2-2h0m0 2h0m1-3h0m1 4h0m1-1h0m1 0h0m1 0h0m1-1h0m0 1h0m3 1h0m0-1h0m0 2h0m1-3h0m0-2h0m1 1h0m1 2h0m1-2h0m0 1h0m1-2h0m2 2h0m0-1h0m2-1h0m0 4h0m0-1h0m1-1h0m0 3h0m0-5h0m1 2h0m1 1h0m0 1h0m0-3h0m1 1h0m0 3h0m1-3h0m0 1h0m0-2h0m1 4h0m0-5h0m2 0h0m1 0h0m0 4h0m0-1h0m3 2h0m2-1h0m1-3h0m1 1h0m1 2h0m-2 3h0m-3-1h0m-1 0h0m0 1h0m-1 0h0m-1-1h0m-3 1h0m0-1h0m-2 1h0m0 1h0m-1 2h0m0-4h0m-1 1h0m0 1h0m0 3h0m0-2h0m-1 1h0m0 1h0m0-3h0m0 1h0m0-2h0m-1-1h0m0 2h0m0 2h0m-1-2h0m0 2h0m0 1h0m0-5h0m-1 2h0m-1-2h0m-1 0h0m-4 0h0m0 3h0m-1 1h0m-1-4h0m0 4h0m-1-3h0m-2 2h0m0-2h0m-1 3h0m0-3h0m0-1h0m-4 4h0m-2-4h0m-1 1h0m-1 0h0m0 3h0m-2-4h0m-4 4h0m-1-4h0m-1 0h0m-1 4h0m0-1h0m-2-3h0m-2 3h0m0 1h0m-1-2h0m0-1h0m-1-1h0m-2 4h0m0 1h0m-1 0h0m0-2h0m0-2h0m0 1h0m0-2h0m-1 0h0m0 2h0m-1 0h0m0 1h0m-2 2h0m0-5h0m0 3h0m-1 1h0m-1-1h0m-1-2h0m-1 3h0m-1 1h0m0-1h0m-1-2h0m-1-2h0m1 10h0m1 1h0m1-4h0m1 2h0m0 2h0m1-4h0m0-1h0m1 5h0m0-2h0m1-1h0m0 1h0m0 2h0m1-4h0m0 1h0m1-2h0m0 3h0m1-2h0m0-1h0m0 3h0m1 2h0m0-5h0m0 3h0m1 1h0m0-1h0m1 0h0m0-3h0m0 4h0m1 1h0m1-3h0m1-2h0m0 1h0m0 1h0m1 0h0m0 1h0m2-1h0m0-2h0m0 5h0m4-2h0m1 2h0m2-3h0m1 2h0m3-4h0m1 0h0m0 4h0m3-1h0m1 0h0m2 0h0m0 1h0m3-1h0m0 2h0m1-1h0m0 1h0m1-2h0m1 2h0m1 0h0m3 0h0m1-1h0m1-4h0m2 2h0m0-2h0m0 1h0m1 0h0m0 1h0m0 3h0m1-3h0m0 1h0m0-3h0m1 2h0m0 1h0m0-3h0m2 5h0m-1 3h0m-1 0h0m0-2h0m-1 3h0m-1 0h0m-1-3h0m0 3h0m-1 0h0m-1 1h0m0-2h0m-1 1h0m0 1h0m0-2h0m-1-2h0m-2 0h0m-1 3h0m-1 1h0m-1-2h0m-1-1h0m0 4h0m-1-4h0m-1 4h0m-1 0h0m0-3h0m-1 0h0m-1 0h0m0 2h0m-1-3h0m0 4h0m-3-2h0m-1 2h0m-1-2h0m-4 1h0m0 1h0m-1-3h0m-1 3h0m0-3h0m-4 3h0m-2-2h0m-2-3h0m-1 4h0m-1 1h0m-2-2h0m-3 2h0m-1-4h0m0 3h0m0-2h0m-1 2h0m-1-2h0m0-1h0m0 3h0m-1-3h0m0 1h0m-1 1h0m-1 2h0m0-2h0m-2 0h0m0 1h0m-3-2h0m0 3h0m4 1h0m5 1h0m1 1h0m2 1h0m0-2h0m1 2h0m1-3h0m0 3h0m0 1h0m1-1h0m1 1h0m2-2h0m1 1h0m0-2h0m0-1h0m1 1h0m3 4h0m1-5h0m0 2h0m0 2h0m1-4h0m1 5h0m0-4h0m0 3h0m0-2h0m1 2h0m0-4h0m1 2h0m0 3h0m1-4h0m1 0h0m1 4h0m0-3h0m0-2h0m1 3h0m0-3h0m0 5h0m1-2h0m0-3h0m0 5h0m0-4h0m1 3h0m0-3h0m1 0h0m0 3h0m0 1h0m1 0h0m0-1h0m0-1h0m2-2h0m1 1h0m0-1h0m0 3h0m0-1h0m1 2h0m0-2h0m1 2h0m0-2h0m1-3h0m1 4h0m0 1h0m0-2h0m0-2h0m1 0h0m0 3h0m1-4h0m1 0h0m0 5h0m3 4h0m-1-3h0m-1 1h0m0 1h0m0 1h0m0-3h0m-1 0h0m-1 1h0m-1 3h0m0-2h0m0-1h0m0 2h0m-1 0h0m0-3h0m0 2h0m-1 2h0m-1-2h0m-1-2h0m-1 5h0m-2-2h0m-1-3h0m0 2h0m-2 1h0m-1-2h0m-1-1h0m0 2h0m-3 2h0m-1-2h0m0-2h0m0 3h0m-1 1h0m0 1h0m0-3h0m-2-2h0m0 3h0m-1 0h0m0 1h0m0 1h0m-1-2h0m-1-2h0m-1-1h0m0 2h0m-1-2h0m0 1h0m0 2h0m-1 1h0m0-3h0m0-1h0m-1 2h0m0 2h0m0 1h0m3 3h0m0-2h0m1 2h0m2 2h0m1-3h0m16 0h0m4 0h0m-24 5h0" stroke="#00ff00" stroke-width="1.7" stroke-linecap="square"/>
<path d="M1135 743h0m-2 0h0m1 1h0m-42 11h0m5 6h0m0-1h0m2-1h0m0-2h0m3 5h0m-3 0h0m-2 0h0m-26 101h0m-26 6h0m1 0h0m1 0h0m1 0h0m1-2h0m0 2h0m1-1h0m1-1h0m0-1h0m3 3h0m6 0h0m1-4h0m0 4h0m1-4h0m0 4h0m1-4h0m1 3h0m0 1h0m1-1h0m0 1h0m2-2h0m0-2h0m1 1h0m5 1h0m-7 7h0m0 1h0m-2-5h0m0 1h0m0 2h0m-1 2h0m0-3h0m-1 1h0m0-1h0m0 2h0m-1 0h0m0-3h0m0 4h0m-3-3h0m0 2h0m-1 0h0m0 1h0m-1-1h0m0-1h0m0 2h0m-1-1h0m-1 1h0m0-2h0m-3-1h0m-1 0h0m0 1h0m-1-2h0m0 1h0m-1 2h0m0 1h0m-1 0h0m-1-2h0m-1-1h0m0 1h0m0-2h0m-1 0h0m0 2h0m0 2h0m-3 0h0m-1-4h0m-2 2h0m-1 1h0m-1 1h0m-2 6h0m4-3h0m0-1h0m0 2h0m1-1h0m0 3h0m2-4h0m0 3h0m1 1h0m0-5h0m1 2h0m2 2h0m1 0h0m0-2h0m1 3h0m1-3h0m0-2h0m1 1h0m1-1h0m0 1h0m0 2h0m3 0h0m1-3h0m1 2h0m0-1h0m1 1h0m1 3h0m1-2h0m1 2h0m0-4h0m2 4h0m0-2h0m1 2h0m1 0h0m1-1h0m0-4h0m1 1h0m0 1h0m1 0h0m0-2h0m1 4h0m0-1h0m1-2h0m0 3h0m1 3h0m-1 2h0m-1-3h0m0 3h0m0 2h0m-1-2h0m0-2h0m0 3h0m-1-1h0m0-1h0m-1 0h0m0 2h0m-1 0h0m0 1h0m-1-2h0m-1-1h0m-1-1h0m0 1h0m-2 1h0m-1-2h0m-1 1h0m-1 0h0m-1 1h0m-1 0h0m-1 0h0m-1-3h0m-1 1h0m0 3h0m-1-1h0m0-1h0m0-1h0m-1 2h0m0 2h0m0-3h0m-2 1h0m0-2h0m0-1h0m0 5h0m0-3h0m-1-1h0m0 2h0m0 2h0m0-1h0m-1-4h0m0 3h0m-1 2h0m-1-2h0m0 2h0m-1-4h0m-1 1h0m-1 1h0m0-2h0m0 3h0m0 1h0m-1-4h0m-1 4h0m0-4h0m0-1h0m-1 3h0m0 2h0m-1-3h0m0-2h0m-1 1h0m0 1h0m-1 1h0m0 2h0m-1 0h0m0-4h0m-1 3h0m0-3h0m-6 9h0m1 1h0m0-2h0m1-1h0m1 2h0m2-3h0m1 1h0m1 2h0m0-2h0m0-2h0m1 3h0m0-3h0m0 4h0m2-4h0m1 2h0m0 1h0m1 1h0m0-3h0m1 0h0m0 1h0m1 1h0m0-3h0m1 3h0m0 2h0m0-3h0m1-2h0m0 1h0m0 4h0m1-1h0m0-3h0m1 4h0m0-3h0m0 2h0m0-1h0m2-2h0m0-1h0m0 3h0m0-1h0m2 2h0m0-2h0m1 0h0m0 3h0m2-3h0m0-1h0m1-1h0m0 5h0m1-1h0m0-4h0m1 5h0m1-5h0m0 2h0m1-1h0m1 3h0m1-4h0m2 2h0m1 2h0m1-4h0m0 1h0m0 2h0m1-2h0m1-1h0m1 2h0m1 2h0m0-2h0m1-2h0m0 5h0m2-5h0m0 2h0m0 4h0m-2 0h0m-2 0h0m-2 0h0m-1 0h0m-1 4h0m-1 0h0m-1-1h0m0-1h0m-1-1h0m-1 0h0m0 3h0m-1-1h0m-1 0h0m-2-1h0m0 2h0m0 1h0m-1-3h0m0 1h0m0 1h0m-1-3h0m0 4h0m0-3h0m0 2h0m-1-4h0m0 2h0m0 2h0m-1-4h0m0 1h0m0 3h0m-1-1h0m0-2h0m0-1h0m-1 5h0m0-4h0m-2 1h0m-1-1h0m0-1h0m-1 4h0m0-1h0m-1-3h0m0 3h0m-1 2h0m-1-5h0m-1 0h0m0 1h0m-1 4h0m0-5h0m-1 1h0m0-1h0m-1 4h0m0 1h0m0-4h0m-1 1h0m0 1h0m-1-3h0m0 3h0m0-1h0m-1 1h0m0-2h0m0 3h0m-1-1h0m0-2h0m-1 1h0m0 3h0m0-4h0m-2 0h0m0-1h0m-1 4h0m0-3h0m-1 2h0m0-3h0m-1 2h0m0 1h0m7 4h0m0-1h0m2 0h0m2 0h0m2 0h0m0 3h0m0-2h0m1-1h0m0 1h0m0 1h0m1 3h0m1-2h0m0 2h0m1-2h0m0-3h0m1 1h0m1-1h0m1 2h0m1-2h0m1 3h0m1-2h0m5 3h0m1-4h0m3 6h0m-17 1h0m0-1h0" stroke="#ffff00" stroke-width="1.7" stroke-linecap="square"/>
<path d="M1058 868h0m3 0h0m4 7h0m-2-1h0m0-3h0m-1 4h0m0-5h0m-1 0h0m0 3h0m-1 1h0m-1-3h0m-1 2h0m0-3h0m-3 5h0m-12 6h0m0-2h0m1 0h0m1 0h0m1-3h0m1 4h0m1-3h0m0 3h0m1 1h0m2 0h0m2-3h0m1 3h0m0-1h0m2-3h0m1 0h0m2 3h0m0-1h0m2-2h0m0 3h0m1-4h0m1 4h0m1 1h0m5 6h0m-1-4h0m-3 4h0m-2-4h0m0 2h0m-1 1h0m0-3h0m-1 4h0m0-1h0m0-3h0m-2 4h0m0-3h0m-1 3h0m-1-3h0m0-2h0m-1 4h0m0-4h0m-1 5h0m-1-4h0m0 1h0m0 2h0m-1-4h0m0 4h0m-1-2h0m0-1h0m0 3h0m-1-2h0m0 1h0m0-2h0m-1-1h0m-1 5h0m-1-1h0m-1-1h0m0-3h0m-1 4h0m-2 1h0m-1-4h0m0-1h0m0 4h0m-3 1h0m-2 0h0m-1-2h0m0-1h0m-3 9h0m2 0h0m0-5h0m2 4h0m2 0h0m1 0h0m2-3h0m1 2h0m0-2h0m3 2h0m0-2h0m0 4h0m1-4h0m1 1h0m0 3h0m1-2h0m0 1h0m0-4h0m1 1h0m0 2h0m1 2h0m0-3h0m1-1h0m0-1h0m0 4h0m1-1h0m1-3h0m0 5h0m0-3h0m2 3h0m0-2h0m1-1h0m0-1h0m0-1h0m1 0h0m1 1h0m0-1h0m1 2h0m1 1h0m1 0h0m0 1h0m0-3h0m1 0h0m1 2h0m0-3h0m1 1h0m0 2h0m2-2h0m-14 6h0m-1 1h0m-2-2h0m-1 0h0m-1 1h0m0 2h0m-2-1h0m-1 0h0m-5 0h0m0 2h0m-1-4h0m0 2h0m-2 1h0m0-1h0m-1 0h0m0-1h0m-3 4h0m0-1h0" stroke="#ff0000" stroke-width="1.7" stroke-linecap="square"/>
<path d="M1051 974h1M1137 974h1M1071 974h1M1122 974h1M1079 974h1M1040 974h1M1137 974h1M1045 974h1M1124 974h1M1107 974h1M1129 974h1M1048 974h1M1085 974h1M1053 974h1M1062 974h1M1015 974h1M1016 974h1M1051 974h1M1028 974h1M1157 974h1M1024 974h1M1092 974h1M1033 974h1M1098 974h1M1031 974h1M1097 974h1M1106 974h1M1041 974h1M1079 974h1M1060 974h1M1077 974h1M1088 974h1M1085 974h1M1141 974h1M1136 974h1M1126 974h1M1086 974h1M1055 974h1M1031 974h1M1011 974h1M1089 974h1M1058 974h1M1133 974h1M1120 974h1M1080 974h1M1130 974h1M1071 974h1M1071 974h1M1120 974h1M1062 974h1M1028 974h1M1070 974h1M1097 974h1M1021 974h1M1086 974h1M1157 974h1M1114 974h1M1059 974h1M1118 974h1M1090 974h1M1013 974h1M1096 974h1M1120 974h1M1026 974h1M1102 974h1M1084 974h1M1102 974h1M1108 974h1M1021 974h1M1035 974h1" stroke="#1a3cff" stroke-width="1.6"/>
<rect x="982.4" y="616" width="364.3" height="360" fill="none" stroke="#111" stroke-width="1.6"/>
<line x1="1093.4" y1="616" x2="1093.4" y2="976" stroke="#000" stroke-width="2.8"/>
<line x1="982.4" y1="803" x2="1346.7" y2="803" stroke="#000" stroke-width="2.8"/>
<path d="M971.4 938.2H982.4M977.4 916.6H982.4M977.4 904H982.4M977.4 895H982.4M977.4 888.1H982.4M977.4 882.4H982.4M977.4 877.6H982.4M977.4 873.4H982.4M977.4 869.8H982.4M977.4 975.7H982.4M977.4 966.7H982.4M977.4 959.8H982.4M977.4 954.1H982.4M977.4 949.3H982.4M977.4 945.1H982.4M977.4 941.5H982.4M971.4 866.5H982.4M977.4 844.9H982.4M977.4 832.3H982.4M977.4 823.3H982.4M977.4 816.4H982.4M977.4 810.7H982.4M977.4 805.9H982.4M977.4 801.7H982.4M977.4 798.1H982.4M971.4 794.6H982.4M977.4 773H982.4M977.4 760.4H982.4M977.4 751.4H982.4M977.4 744.5H982.4M977.4 738.8H982.4M977.4 734H982.4M977.4 729.8H982.4M977.4 726.2H982.4M971.4 722.9H982.4M977.4 701.3H982.4M977.4 688.7H982.4M977.4 679.7H982.4M977.4 672.8H982.4M977.4 667.1H982.4M977.4 662.3H982.4M977.4 658.1H982.4M977.4 654.5H982.4M971.4 651.2H982.4M977.4 629.6H982.4M977.4 617H982.4" stroke="#111" stroke-width="1.4"/>
<rect x="971.4" y="937.2" width="11" height="2.2" fill="#111"/>
<rect x="971.4" y="865.5" width="11" height="2.2" fill="#111"/>
<rect x="971.4" y="793.6" width="11" height="2.2" fill="#111"/>
<rect x="971.4" y="721.9" width="11" height="2.2" fill="#111"/>
<rect x="971.4" y="650.2" width="11" height="2.2" fill="#111"/>
<path d="M1016.9 976V985M1038.8 976V981M1051.6 976V981M1060.7 976V981M1067.8 976V981M1073.5 976V981M1078.4 976V981M1082.6 976V981M1086.4 976V981M987.9 976V981M995 976V981M1000.7 976V981M1005.6 976V981M1009.8 976V981M1013.6 976V981M1089.7 976V985M1111.6 976V981M1124.4 976V981M1133.5 976V981M1140.6 976V981M1146.3 976V981M1151.2 976V981M1155.4 976V981M1159.2 976V981M1162.5 976V985M1184.4 976V981M1197.2 976V981M1206.3 976V981M1213.4 976V981M1219.1 976V981M1224 976V981M1228.2 976V981M1232 976V981M1235 976V985M1256.9 976V981M1269.7 976V981M1278.8 976V981M1285.9 976V981M1291.6 976V981M1296.5 976V981M1300.7 976V981M1304.5 976V981M1307 976V985M1328.9 976V981M1341.7 976V981" stroke="#111" stroke-width="1.4"/>
<rect x="1015.7" y="976" width="2.4" height="9" fill="#111"/>
<rect x="1088.5" y="976" width="2.4" height="9" fill="#111"/>
<rect x="1161.3" y="976" width="2.4" height="9" fill="#111"/>
<rect x="1233.8" y="976" width="2.4" height="9" fill="#111"/>
<rect x="1305.8" y="976" width="2.4" height="9" fill="#111"/>
<text class="a" x="948.9" y="947.2" font-size="13" text-anchor="middle">10</text>
<text class="a" x="956.6" y="937.8" font-size="13">2</text>
<text class="a" x="948.9" y="875.5" font-size="13" text-anchor="middle">10</text>
<text class="a" x="956.6" y="866.1" font-size="13">3</text>
<text class="a" x="948.9" y="803.6" font-size="13" text-anchor="middle">10</text>
<text class="a" x="956.6" y="794.2" font-size="13">4</text>
<text class="a" x="948.9" y="731.9" font-size="13" text-anchor="middle">10</text>
<text class="a" x="956.6" y="722.5" font-size="13">5</text>
<text class="a" x="948.9" y="660.2" font-size="13" text-anchor="middle">10</text>
<text class="a" x="956.6" y="650.8" font-size="13">6</text>
<text class="a" x="1018.9" y="1016.5" font-size="13" text-anchor="middle">10</text>
<text class="a" x="1026.6" y="1007.1" font-size="13">3</text>
<text class="a" x="1091.7" y="1016.5" font-size="13" text-anchor="middle">10</text>
<text class="a" x="1099.4" y="1007.1" font-size="13">4</text>
<text class="a" x="1164.5" y="1016.5" font-size="13" text-anchor="middle">10</text>
<text class="a" x="1172.2" y="1007.1" font-size="13">5</text>
<text class="a" x="1237" y="1016.5" font-size="13" text-anchor="middle">10</text>
<text class="a" x="1244.7" y="1007.1" font-size="13">6</text>
<text class="a" x="1309" y="1016.5" font-size="13" text-anchor="middle">10</text>
<text class="a" x="1316.7" y="1007.1" font-size="13">7</text>
<text class="a" x="989.4" y="646" font-size="15.5">Q1</text>
<text class="a" x="989.4" y="672.5" font-size="15.5">4.06</text>
<text class="a" x="1314.7" y="646" font-size="15.5" text-anchor="end">Q2</text>
<text class="a" x="1314.7" y="672.5" font-size="15.5" text-anchor="end">18.0</text>
<text class="a" x="1314.7" y="930.5" font-size="15.5" text-anchor="end">Q3</text>
<text class="a" x="1314.7" y="956" font-size="15.5" text-anchor="end">6.50</text>
<text class="a" x="989.4" y="930.5" font-size="15.5">Q4</text>
<text class="a" x="989.4" y="956" font-size="15.5">71.4</text>
<text class="s" x="932.2" y="808" font-size="27.5" text-anchor="middle" transform="rotate(-90 932.2 808)">PE-A</text>
<text class="s" x="1162.6" y="1048.7" font-size="27.5" text-anchor="middle">Annexin V FITC-A</text>
<line x1="1477.6" y1="612.2" x2="1477.6" y2="950.5" stroke="#000" stroke-width="3.8" stroke-linecap="round"/>
<line x1="1464.5" y1="950.2" x2="1775" y2="950.2" stroke="#000" stroke-width="3.8" stroke-linecap="round"/>
<line x1="1464.5" y1="950.2" x2="1477.6" y2="950.2" stroke="#000" stroke-width="3.8" stroke-linecap="round"/>
<text class="s b" x="1460.5" y="962.2" font-size="33.5" text-anchor="end">0</text>
<line x1="1464.5" y1="865.7" x2="1477.6" y2="865.7" stroke="#000" stroke-width="3.8" stroke-linecap="round"/>
<text class="s b" x="1460.5" y="877.7" font-size="33.5" text-anchor="end">10</text>
<line x1="1464.5" y1="781.2" x2="1477.6" y2="781.2" stroke="#000" stroke-width="3.8" stroke-linecap="round"/>
<text class="s b" x="1460.5" y="793.2" font-size="33.5" text-anchor="end">20</text>
<line x1="1464.5" y1="696.7" x2="1477.6" y2="696.7" stroke="#000" stroke-width="3.8" stroke-linecap="round"/>
<text class="s b" x="1460.5" y="708.7" font-size="33.5" text-anchor="end">30</text>
<line x1="1464.5" y1="612.2" x2="1477.6" y2="612.2" stroke="#000" stroke-width="3.8" stroke-linecap="round"/>
<text class="s b" x="1460.5" y="624.2" font-size="33.5" text-anchor="end">40</text>
<line x1="1526.7" y1="950.2" x2="1526.7" y2="963.5" stroke="#000" stroke-width="3.8" stroke-linecap="round"/>
<text class="s b" x="1526.7" y="997" font-size="33" text-anchor="middle">0</text>
<line x1="1624.2" y1="950.2" x2="1624.2" y2="963.5" stroke="#000" stroke-width="3.8" stroke-linecap="round"/>
<text class="s b" x="1624.2" y="997" font-size="33" text-anchor="middle">20</text>
<line x1="1722.8" y1="950.2" x2="1722.8" y2="963.5" stroke="#000" stroke-width="3.8" stroke-linecap="round"/>
<text class="s b" x="1722.8" y="997" font-size="33" text-anchor="middle">50</text>
<text class="s b" x="1624.8" y="1040.5" font-size="32" text-anchor="middle">Bufalin(nM)</text>
<text class="s b" x="1407.5" y="780.6" font-size="32.2" text-anchor="middle" transform="rotate(-90 1407.5 780.6)">Apoptosis(%)</text>
<path d="M1497.5 950V930.4H1555.5V950" stroke="#000" stroke-width="6" fill="#fff"/>
<path d="M1595.7 950V837.4H1653.7V950" stroke="#4e4030" stroke-width="6" fill="#fff"/>
<path d="M1694 950V711.5H1752V950" stroke="#224a7a" stroke-width="6" fill="#fff"/>
<line x1="1526.5" y1="931.6" x2="1526.5" y2="916.4" stroke="#000" stroke-width="4.5"/>
<line x1="1509.5" y1="916.4" x2="1543.5" y2="916.4" stroke="#000" stroke-width="4.5"/>
<line x1="1624.2" y1="884.3" x2="1624.2" y2="778.7" stroke="#4e4030" stroke-width="4.5"/>
<line x1="1607.2" y1="778.7" x2="1641.2" y2="778.7" stroke="#4e4030" stroke-width="4.5"/>
<line x1="1607.2" y1="884.3" x2="1641.2" y2="884.3" stroke="#4e4030" stroke-width="4.5"/>
<line x1="1722.8" y1="742.3" x2="1722.8" y2="668.8" stroke="#224a7a" stroke-width="4.5"/>
<line x1="1705.8" y1="668.8" x2="1739.8" y2="668.8" stroke="#224a7a" stroke-width="4.5"/>
<line x1="1705.8" y1="742.3" x2="1739.8" y2="742.3" stroke="#224a7a" stroke-width="4.5"/>
<circle cx="1511" cy="915" r="8" fill="#000"/>
<circle cx="1543.5" cy="928" r="8" fill="#000"/>
<circle cx="1511" cy="934" r="8" fill="#000"/>
<rect x="1615.6" y="763.5" width="17.2" height="15" fill="#e9a75f"/>
<rect x="1615.6" y="845" width="17.2" height="34" fill="#e9a75f"/>
<path d="M1722.8 663.2L1732.1 680.3H1713.5Z" fill="#97b2d6"/>
<path d="M1722.8 698.2L1732.1 715.3H1713.5Z" fill="#97b2d6"/>
<path d="M1722.8 735.2L1732.1 752.3H1713.5Z" fill="#97b2d6"/>
<line x1="1525.9" y1="651" x2="1723.7" y2="651" stroke="#000" stroke-width="2.4"/>
<line x1="1525.9" y1="751.4" x2="1625.6" y2="751.4" stroke="#000" stroke-width="2.4"/>
<text class="s" x="1624.8" y="635" font-size="24.5" text-anchor="middle">0.0007</text>
<text class="s" x="1575.4" y="733.7" font-size="24.5" text-anchor="middle">0.0391</text>
<text class="s b" x="3" y="1124.3" font-size="50">d</text>
<text class="s" x="212.7" y="1159.2" font-size="33.5" text-anchor="middle">siNT</text>
<path d="M111 1439h0m0 1h0m3 5h0m1 1h0m-6 2h0m-1 0h0m-4-1h0m-24 0h0m17 5h0m4 3h0m3 1h0m1 1h0m3 0h0m2-4h0m8 10h0m-2-5h0m-1 3h0m-4 2h0m-10-4h0m-1 10h0m1-2h0m1-3h0m11 0h0m0 3h0m4 1h0m0 4h0m-6-1h0m-5 4h0m-3-5h0m-1 0h0m-14 3h0m2 6h0m11-1h0m8 2h0m5-1h0m1-1h0m1 1h0" stroke="#dfe4fa" stroke-width="1.7" stroke-linecap="square"/>
<path d="M94 1441h0m19 3h0m3 1h0m2 5h0m-6 1h0m-2-5h0m-7 4h0m-19-4h0m-8 11h0m29-2h0m12-1h0m-4 4h0m-7 4h0m-5 1h0m-8 4h0m6 2h0m1-1h0m1-4h0m3 5h0m2-1h0m1 1h0m4 3h0m-7 0h0m-15 2h0m11 2h0m0 5h0m2-3h0m4 1h0m7-2h0m1 1h0m1-2h0m-13 8h0m-6-2h0m16 8h0" stroke="#c9d3f6" stroke-width="1.7" stroke-linecap="square"/>
<path d="M112 1439h0m-11 6h0m3-3h0m11 3h0m2-3h0m1 7h0m-3 2h0m-3-4h0m0-1h0m-5 3h0m-5-2h0m-1 4h0m-3-1h0m-7 2h0m4 4h0m5-1h0m5-2h0m1 2h0m9-2h0m0-1h0m1 5h0m2 1h0m-2 5h0m-2 0h0m-7-5h0m-15 5h0m2 6h0m19-3h0m4-1h0m-1 8h0m-4-3h0m-6 0h0m-1 5h0m-1-5h0m-5 1h0m-7 6h0m5 0h0m8 0h0m2 3h0m5-2h0m0 6h0m-1-1h0m-11 6h0" stroke="#cfeef2" stroke-width="1.7" stroke-linecap="square"/>
<path d="M94 1445h0m14-3h0m5 3h0m2-2h0m2 7h0m-4 1h0m-2-5h0m-1 2h0m-1 3h0m-3-4h0m-2 3h0m0-2h0m-7 8h0m3-3h0m3 4h0m8-2h0m2 1h0m3 0h0m1 1h0m0 4h0m-1-1h0m-7 0h0m-1-1h0m-2-1h0m-1 1h0m-2 0h0m-1 0h0m-5 1h0m-6 1h0m1 4h0m5 3h0m5 0h0m3 1h0m3 0h0m1-5h0m1 3h0m5-2h0m1-1h0m1 2h0m1 4h0m-21 5h0m-3-1h0m10 7h0m7-5h0m0 5h0m1 1h0" stroke="#e8f3f0" stroke-width="1.7" stroke-linecap="square"/>
<path d="M109 1440h0m0 2h0m7-1h0m2 2h0m-1 6h0m-3-2h0m-6 4h0m-3-4h0m-3-1h0m-8 10h0m1-4h0m16 2h0m1-2h0m6 0h0m-5 11h0m-1-2h0m-5 2h0m-10-2h0m-18-3h0m12 8h0m9 1h0m3 0h0m0-3h0m1 0h0m0 4h0m7-1h0m3-1h0m1 0h0m2 1h0m0 3h0m0 5h0m-6-5h0m-11 3h0m-2-3h0m-15 4h0m16 3h0m10 0h0m5 3h0m2 0h0m2 5h0m-5 1h0m-8-2h0m-16-1h0" stroke="#d8dcf6" stroke-width="1.7" stroke-linecap="square"/>
<path d="M288 1251h0m31 18h0m-14 1h0m-41-3h0m15 8h0m5 2h0m6-2h0m23 0h0m-25 8h0m-34 6h0m13-2h0m2 0h0m4 2h0m2-3h0m1 3h0m25-3h0m23-2h0m-32 10h0m-15-1h0m-48-3h0m-2 8h0m21 3h0m0-5h0m5 2h0m3 3h0m19-2h0m1-3h0m3 2h0m2 3h0m6-1h0m4-1h0m0-1h0m1 2h0m2-2h0m34 8h0m-15-3h0m-28 2h0m-5-1h0m0-2h0m-2 3h0m-2-2h0m-4 0h0m-1 1h0m-9-2h0m-4 5h0m-1-3h0m-1 2h0m-2 0h0m-10-1h0m-5 2h0m-1-2h0m-5 1h0m0-3h0m-12 1h0m-9 1h0m-5 3h0m3 4h0m24 0h0m8-1h0m6-2h0m2 0h0m1 3h0m3-4h0m3 4h0m1 1h0m4-4h0m7 3h0m1-4h0m3 0h0m0 2h0m16 2h0m12-2h0m-13 9h0m0-4h0m-15 0h0m-4 1h0m-7 0h0m-1 2h0m-10-2h0m-1 0h0m-1-1h0m-5-1h0m-6 2h0m-4 3h0m-1-1h0m-30 2h0m9 3h0m9 2h0m4 0h0m3-5h0m1 3h0m1 2h0m0-5h0m1 2h0m11-2h0m2 0h0m1 0h0m3 5h0m3 0h0m6 0h0m2 0h0m3-3h0m3 3h0m4 0h0m5 0h0m28-5h0m-9 6h0m-9 1h0m-14 1h0m-4 2h0m-13-3h0m-5-1h0m-3 3h0m-2-1h0m-1-2h0m-4 5h0m-1-3h0m-2 1h0m-9-2h0m-2 1h0m-8 1h0m-2 7h0m1 1h0m0-2h0m6-3h0m10 5h0m2-4h0m2 3h0m1 1h0m0-2h0m0-2h0m2 0h0m4 1h0m0-2h0m5 4h0m2 1h0m3-2h0m2 0h0m3 0h0m3-3h0m13 1h0m6 5h0m-1 5h0m-9-2h0m-3-1h0m-32-1h0m0 2h0m-11-2h0m-13 2h0m0 1h0m-6-4h0m-6 8h0m26 3h0m33 0h0m3-5h0m1 4h0m12 2h0m-11 1h0m-14-1h0m-14 2h0m-2 0h0m-6 3h0m-4-3h0m-3-2h0m-4 1h0m-7 3h0m-4-2h0m-10 6h0m22-2h0m10 0h0m26 0h0m9 7h0m-28-1h0m-2 5h0m-16-2h0m-7 1h0m0 1h0m0-3h0m-7 1h0m-2-2h0m-3 1h0m-1 3h0m-4 0h0m-5 0h0m-16-2h0m16 5h0m2 3h0m1-5h0m2 2h0m1-1h0m0-1h0m2 5h0m4-1h0m1-1h0m0-3h0m1 5h0m1-3h0m0 3h0m4-2h0m0 2h0m1-5h0m1 5h0m4-5h0m1 1h0m9 4h0m5-3h0m8 3h0m63 0h0m-73 6h0m-7-4h0m-1 2h0m-1 0h0m-2-2h0m0 4h0m-1-2h0m-1 2h0m0-4h0m-2 0h0m-1 2h0m-1 0h0m-1 1h0m-1-4h0m-1 3h0m0-2h0m-2-1h0m-1 3h0m-1 0h0m-2-2h0m-2 1h0m-2 0h0m0 1h0m-1-2h0m0 3h0m-2-1h0m0 1h0m-1-3h0m-1 0h0m-2 4h0m-4 0h0m-20-4h0m3 7h0m0 2h0m4-4h0m13 4h0m2-2h0m1-2h0m3 0h0m1 3h0m3-1h0m1 2h0m1-4h0m1 5h0m0-3h0m1 1h0m1-1h0m0 1h0m1 2h0m2-2h0m3 0h0m1 0h0m1 0h0m0 1h0m3 0h0m0-1h0m2-3h0m1 4h0m1 0h0m0 1h0m1-3h0m0-1h0m1 3h0m0-4h0m0 5h0m2-5h0m3 2h0m1 2h0m1 0h0m1 1h0m2 0h0m1 0h0m20-3h0m26 7h0m-38-1h0m-1 3h0m-8-1h0m0-1h0m-5-1h0m-1 0h0m-1-2h0m-1 2h0m-1 2h0m-3 1h0m-1-1h0m0-3h0m0 4h0m-5-2h0m-1 1h0m-5 0h0m-3-1h0m-2 2h0m0-2h0m-1 0h0m-1 0h0m-1-2h0m-1 1h0m-2-1h0m-2-1h0m0 3h0m-1-2h0m-1 1h0m0-1h0m-1 1h0m-1 3h0m-1-2h0m-1 0h0m-2 2h0m-11-5h0m-2 3h0m-2 0h0m-2 0h0m-2-3h0m-13 6h0m14 3h0m3-2h0m4 4h0m1-5h0m0 2h0m1-2h0m1 4h0m2-1h0m2 1h0m0 1h0m2-4h0m1 0h0m2 3h0m1-2h0m0 3h0m1-4h0m1 2h0m2-2h0m2 0h0m0 3h0m1 0h0m0-1h0m2 1h0m0-3h0m2 4h0m0-1h0m2-2h0m1 0h0m1-2h0m3 5h0m1-2h0m0-1h0m2 0h0m1-1h0m1 1h0m1 0h0m4 0h0m0 1h0m2-1h0m1 2h0m3-2h0m3-1h0m1 2h0m2 2h0m5-2h0m-3 4h0m-3 4h0m-4-3h0m-4 3h0m-3-3h0m-1-1h0m-3 3h0m-1-1h0m0-3h0m-1 5h0m-1-4h0m-1 0h0m0 4h0m-1-3h0m0 2h0m-1 0h0m-1 1h0m-2-5h0m-3 4h0m-2-2h0m0-2h0m0 5h0m-1-1h0m-3-4h0m-3 2h0m-2-2h0m-1 0h0m-8 0h0m-3 2h0m-1 0h0m-1 2h0m-1-1h0m-2-2h0m0 1h0m-1 2h0m-3 0h0m-1-2h0m-3 2h0m-2-3h0m-4 4h0m-5 2h0m7 2h0m1-2h0m2 0h0m3 1h0m27 2h0m5 0h0m0 1h0m2-3h0m3 1h0m0-2h0m1 0h0m0 4h0m1-1h0m5 0h0m3 0h0m7-4h0m3 1h0m4 4h0m2-1h0m43 1h0m10 0h0m-33 4h0m-10-3h0m-22 4h0m-10 0h0m0-3h0m-1-1h0m-2 2h0m0-1h0m-1 3h0m0-4h0m-1 3h0m-1-2h0m-1 0h0m-2 3h0m-2 0h0m-1 1h0m0-2h0m-36-3h0m0 2h0m-2-1h0m0 4h0m-1-1h0m-2-4h0m-1 1h0m0 1h0m-1 3h0m-1-5h0m-1 2h0m-1 0h0m0 1h0m0-3h0m-1 2h0m0 1h0m-4-3h0m-2 2h0m1 9h0m4-3h0m3-1h0m0 3h0m1-2h0m46 0h0m3 2h0m0-3h0m2 0h0m0 3h0m3-2h0m0-2h0m4 3h0m4-3h0m42 3h0m8-1h0m10 1h0m-8 6h0m-3 1h0m-20 1h0m-8-3h0m-20-2h0m-13 1h0m-5 4h0m0-4h0m-1-1h0m-1 2h0m-1-1h0m-1 4h0m0-3h0m-2 1h0m-1 2h0m-45-4h0m-3 2h0m-3 2h0m-2-1h0m-23-1h0m-11 6h0m1 2h0m4-3h0m15-1h0m7 3h0m4-3h0m0 2h0m1 1h0m2-3h0m0 2h0m2 2h0m4 0h0m43-4h0m3 1h0m0 3h0m1-3h0m1 1h0m2-1h0m1-2h0m1 2h0m5 3h0m4-4h0m23 2h0m9 0h0m17 6h0m-5 0h0m-52 0h0m-1 1h0m-1 0h0m-1-4h0m-3 5h0m-1-2h0m0-1h0m-1 1h0m-2-1h0m-1 0h0m-1 0h0m-42 0h0m-4-1h0m-1-1h0m-1 2h0m-1 0h0m-1 1h0m0-3h0m-2 2h0m-5-1h0m0 2h0m-4-1h0m-4 0h0m-1 2h0m0-4h0m0 3h0m-4 1h0m-4-2h0m16 7h0m1 2h0m0-3h0m0-1h0m1 4h0m2-3h0m0 1h0m0-2h0m2-1h0m43 2h0m0 3h0m2-4h0m1-1h0m1 0h0m0 4h0m1-1h0m3-3h0m0 5h0m2-4h0m2-1h0m4 5h0m2-2h0m6-2h0m0-1h0m22 4h0m7-3h0m-20 7h0m-6 3h0m-16 0h0m-1-5h0m-3 0h0m-4 0h0m-2 5h0m-4-4h0m-2 2h0m-4 0h0m-35-1h0m-5 5h0m0 3h0m1-3h0m32 4h0m1-1h0m2 1h0m0-4h0m0 2h0m1 0h0m1-1h0m2 1h0m0-1h0m1-2h0m1 0h0m0 3h0m1-3h0m0 1h0m1 3h0m1-4h0m1 2h0m1-1h0m0-1h0m1 0h0m2 1h0m5 2h0m0-2h0m1 2h0m15-1h0m9 1h0m24 0h0m14 0h0m0 8h0m-44-1h0m-27 0h0m0-1h0m-3-3h0m-6 4h0m-1 0h0m-1-4h0m-4 3h0m0-2h0m-1 3h0m-1-4h0m0 1h0m-1 1h0m-1-2h0m-4 0h0m-1 5h0m-22 5h0m4 0h0m1-1h0m2 1h0m6 0h0m2-1h0m0 1h0m1 1h0m1 0h0m2-2h0m0 2h0m3-3h0m0 3h0m0-4h0m0 3h0m0-1h0m1-2h0m1-1h0m1 0h0m1 5h0m4-5h0m1 1h0m2 1h0m2-2h0m4 0h0m9 2h0m29 0h0m-53 6h0m-3 0h0m-2-2h0m-1 4h0m-1-3h0m-1-1h0m-1 4h0m-1-4h0m-1 1h0m-4 2h0m-1-3h0m0 1h0m-2 2h0m-2 2h0m-1-2h0m-1 0h0m0 2h0m-1-5h0m-2 8h0m0 2h0m2 0h0m1-4h0m0 5h0m2-4h0m1 1h0m6 1h0m0 2h0m1-1h0m1-1h0m3-1h0m4-2h0m7 3h0m91-3h0m-107 8h0m-1-1h0m-7 0h0m0 2h0m-1 1h0m-3-2h0m13 6h0m9-2h0m6 0h0" stroke="#0000ff" stroke-width="1.7" stroke-linecap="square"/>
<path d="M198 1373h0m11 5h0m0 1h0m-5-3h0m-1 2h0m-1 1h0m-5 0h0m-1-1h0m0-4h0m-1 5h0m0-1h0m-2 2h0m7 1h0m1 4h0m1-1h0m1 1h0m3-5h0m1 0h0m1 3h0m0-3h0m3 4h0m0 1h0m-1 1h0m-2 5h0m-1-1h0m-2 0h0m-1-3h0m0 1h0m0 3h0m-2-1h0m0-1h0m0-3h0m-1 3h0m0 2h0m-1-5h0m-1 4h0m-32 7h0m16-2h0m16-3h0m2 0h0m2 0h0m1 0h0m-12 9h0m-2 0h0m-1-1h0m-1 2h0m-1 1h0m-1-1h0m-2-2h0m-2-1h0m-1 1h0m0 2h0m0-4h0m-1 2h0m-1-2h0m0 3h0m0-1h0m-2 3h0m-1 0h0m0-2h0m-1 0h0m-1-1h0m-1 2h0m-1-4h0m0 3h0m-2 1h0m0-1h0m-1 2h0m-1-3h0m-1-1h0m0 2h0m-8 6h0m1 0h0m1-2h0m1 4h0m1 0h0m0-1h0m1-2h0m0 3h0m1-5h0m0 2h0m1 1h0m1-3h0m0 5h0m2-5h0m0 2h0m2-1h0m2 3h0m1-2h0m5 0h0m0 3h0m1-2h0m4 2h0m1-1h0m0-1h0m1 0h0m0-3h0m1 0h0m1 4h0m0-1h0m1-1h0m0 2h0m0 1h0m1-5h0m0 5h0m1 0h0m1-4h0m1-1h0m1 4h0m4 2h0m-2 0h0m-2 0h0m-1 0h0m-2 3h0m-2-3h0m-1 5h0m-1-1h0m-1-1h0m0-3h0m0 2h0m-2 3h0m-1-1h0m-1-2h0m-3 0h0m-1 1h0m-3-1h0m-1-1h0m-2 4h0m0-3h0m-1 1h0m-1 0h0m0-1h0m-2 0h0m0-1h0m0 3h0m-1-4h0m-1 0h0m-1 0h0m-1 1h0m-1 3h0m0-3h0m-1 0h0m-2 1h0m0-2h0m-1 0h0m0 1h0m0 1h0m-1 0h0m0 2h0m-1 0h0m0-3h0m0 1h0m-2 3h0m-1 0h0m-1-1h0m-1 1h0m-2 0h0m0-3h0m-3 2h0m-7 7h0m1-2h0m4 0h0m2-2h0m0 1h0m1 3h0m0-5h0m1 3h0m3-3h0m2 5h0m0-4h0m1-1h0m24 2h0m1 2h0m1-2h0m0 3h0m1-5h0m1 3h0m1 2h0m0-5h0m0 2h0m1 1h0m1-2h0m2 2h0m0-3h0m0 2h0m0-1h0m2 3h0m3-4h0m0 2h0m-3 4h0m-3 3h0m-2-3h0m-2 3h0m-1-3h0m0 1h0m-1 1h0m-3-2h0m-27 1h0m-2 0h0m-4-1h0m-1 1h0m0 1h0m-1-2h0m0 1h0m-2 0h0m0-1h0m-2 2h0m-1 0h0m0 3h0m-2-5h0m-1 4h0m-1 7h0m1-5h0m2 0h0m1 3h0m1 0h0m1-2h0m32 4h0m2-5h0m0 5h0m1-2h0m1-3h0m2 1h0m0 2h0m1-3h0m1 2h0m0-2h0m1 1h0m0 10h0m-1-3h0m-2-1h0m-1-1h0m0 1h0m-1 0h0m0-1h0m0 4h0m-1-3h0m0-1h0m0 3h0m-2-2h0m-1 2h0m-2 0h0m-1 2h0m-3 0h0m0-2h0m-1 1h0m-1-2h0m-26-1h0m-1 0h0m-1 2h0m0 1h0m-2-4h0m-1 4h0m-1 0h0m-2-1h0m-2 1h0m-1 0h0m-2 0h0m-1 6h0m3 1h0m1-1h0m1-3h0m0 4h0m1-3h0m0-1h0m1 0h0m1-1h0m2 5h0m1-5h0m1 0h0m1 0h0m4 2h0m13 3h0m0-1h0m1-1h0m1 0h0m1 1h0m2 0h0m2-2h0m1-2h0m1 3h0m0-2h0m1 2h0m1 2h0m0-3h0m1 3h0m1-3h0m-1 8h0m-1-4h0m-1 3h0m0 1h0m-2-3h0m-1-1h0m0 4h0m-1-3h0m-1 1h0m-1-2h0m-2 0h0m-1 5h0m0-2h0m-1 1h0m-1 1h0m-3 0h0m0-2h0m-1-2h0m-3 4h0m-2 0h0m-2-3h0m0 1h0m-1 1h0m0-2h0m-5 3h0m-2-3h0m-3 1h0m0-2h0m-3 0h0m0-1h0m-1 4h0m-1-2h0m-1-2h0m-1 5h0m-1-1h0m-1-4h0m-1 0h0m-2 9h0m0-1h0m1 1h0m0-1h0m1-1h0m1 3h0m1-3h0m0 3h0m3-4h0m0 5h0m0-3h0m2 1h0m2 0h0m1 0h0m2-1h0m0 1h0m1 1h0m4 0h0m0-2h0m1 0h0m0 2h0m0-3h0m0 2h0m2-3h0m0 2h0m1 3h0m1 0h0m2-1h0m1-4h0m1 4h0m2-1h0m0-1h0m0-1h0m1 2h0m0 1h0m1-4h0m0 4h0m1-1h0m0-2h0m1 0h0m0 4h0m1-3h0m0-1h0m3-1h0m-7 6h0m0 2h0m-4 3h0m0-2h0m-1-2h0m-1 4h0m-2-1h0m0-2h0m-1 0h0m0 1h0m-1-1h0m-1-2h0m0 2h0m-1 1h0m-2 0h0m-1 2h0m0-1h0m0-1h0m-1 2h0m0-2h0m0-2h0m-2 4h0m-1-5h0m-4 1h0m-1-1h0m0 4h0m-1 1h0m0-4h0m-1-1h0m0 3h0m0-2h0m-1 4h0m-1-5h0m-1 5h0m-1-2h0m0-3h0m-1 1h0m0-1h0m0 11h0m0-5h0m1 3h0m1 1h0m1-2h0m0-1h0m1 0h0m0 1h0m3 0h0m0-2h0m0 4h0m1-3h0m0 2h0m0 2h0m0-5h0m1 2h0m2-2h0m3 1h0m1-1h0m0 1h0m1-1h0m1 1h0m-10 5h0m-5 1h0m0 1h0m-1-1h0m0 4h0" stroke="#00d8ff" stroke-width="1.7" stroke-linecap="square"/>
<path d="M183 1402h0m-1 0h0m-2-1h0m0 1h0m-1 0h0m-1-1h0m-2-1h0m-1 3h0m-2-3h0m0 3h0m-6 0h0m-6 6h0m2-2h0m1 1h0m4-2h0m0 3h0m1-1h0m1 0h0m0-1h0m1 1h0m0-1h0m1-1h0m0 2h0m0 1h0m1-5h0m0 1h0m1 0h0m1 2h0m0 2h0m1-4h0m0 4h0m0-1h0m1 0h0m0 1h0m1-3h0m0 1h0m0 2h0m1-5h0m0 3h0m1-1h0m0 2h0m1-3h0m0 1h0m0 2h0m0-4h0m1 3h0m0-2h0m0 1h0m0 3h0m1-1h0m0 1h0m0-2h0m0-2h0m1 1h0m0 2h0m0-4h0m1 1h0m1 3h0m0-2h0m1 0h0m0 5h0m0 1h0m-1-1h0m-2 0h0m-1 2h0m0 2h0m-1-5h0m0 5h0m0-4h0m-1 0h0m0 4h0m0-3h0m-1 3h0m0-3h0m0-1h0m-1 4h0m0-1h0m-1 1h0m0-4h0m-1-1h0m0 4h0m-1-4h0m0 3h0m0-2h0m0 3h0m0 1h0m-1-1h0m0-4h0m0 1h0m-1 3h0m0-4h0m0 3h0m-1-1h0m-1-2h0m0 1h0m-1 3h0m0-3h0m0 4h0m0-3h0m0-2h0m-1 1h0m0 4h0m-1-3h0m-1 3h0m-1-2h0m0-1h0m0 2h0m0 1h0m-1-3h0m0-1h0m0 3h0m0 1h0m-2 0h0m-1-5h0m0 2h0m0 1h0m-1 2h0m0-1h0m0-1h0m-1-1h0m0-1h0m0 2h0m-1-2h0m0 2h0m-1 2h0m-2 0h0m-1-2h0m-2-1h0m-12 9h0m7 0h0m1-2h0m0 2h0m1-2h0m0 2h0m0-5h0m0 2h0m1 0h0m1 3h0m0-2h0m1 1h0m0-2h0m1 3h0m1-3h0m0 3h0m0-4h0m1 2h0m0 2h0m0-4h0m0-1h0m1 4h0m1-3h0m1-1h0m1 0h0m0 2h0m1-2h0m0 2h0m0-1h0m1 2h0m1 2h0m1-1h0m0-4h0m0 2h0m1-1h0m0 2h0m1-3h0m1 2h0m1 3h0m1 0h0m0-5h0m0 1h0m1 1h0m0 1h0m1 0h0m0-3h0m0 1h0m1 4h0m0-4h0m0 1h0m1 2h0m0-4h0m0 3h0m1-1h0m1 0h0m0 1h0m1 0h0m0-3h0m1 4h0m0-3h0m0-1h0m0 5h0m0-2h0m1 0h0m0 1h0m0-4h0m1 2h0m0-1h0m0-1h0m1 1h0m1 0h0m0 1h0m0 3h0m1-5h0m0 1h0m3 2h0m1-3h0m-6 6h0m-1 2h0m0 3h0m0-4h0m-1-1h0m-1 5h0m0-3h0m0 1h0m-2-2h0m0 1h0m0 3h0m-1-4h0m-1 0h0m0 4h0m0-5h0m-1 4h0m0-1h0m0-3h0m0 2h0m-1 3h0m-1-4h0m0 1h0m-1 3h0m-2-5h0m-2 2h0m-5 2h0m-1 0h0m-1 1h0m0-1h0m-2-2h0m-1 2h0m-2-2h0m-1 0h0m0-2h0m-1 2h0m0-1h0m0-1h0m-1 3h0m0 2h0m-1-5h0m0 2h0m0 3h0m-1-1h0m0 1h0m0-2h0m-1 1h0m-1-4h0m0 3h0m-1 1h0m0-1h0m-1-1h0m0 3h0m0-4h0m-1 2h0m-1 2h0m-1-5h0m0 1h0m-1 2h0m-1-2h0m0 4h0m-1 0h0m-2-2h0m0 2h0m0-1h0m-1 0h0m1 4h0m1 2h0m0-3h0m0 4h0m1-5h0m1 5h0m0-2h0m1 1h0m0 1h0m0-4h0m1 2h0m0-2h0m0 1h0m2-2h0m0 4h0m0 1h0m0-4h0m1 3h0m0-1h0m0-2h0m0-1h0m1 2h0m1 0h0m0-1h0m1 1h0m0 2h0m1 0h0m0-3h0m0 4h0m1-1h0m0-3h0m3 0h0m0-1h0m0 4h0m0-2h0m1 0h0m0-2h0m1 5h0m1-2h0m0-3h0m2 4h0m0 1h0m2-2h0m5-1h0m0 3h0m1 0h0m1-2h0m1 1h0m1 1h0m0-1h0m1 1h0m0-2h0m0-1h0m1 3h0m0-1h0m1 0h0m0-3h0m1 1h0m0-2h0m1 4h0m0-1h0m1 2h0m0-4h0m2 1h0m0 3h0m0-5h0m-5 10h0m0-4h0m0 2h0m-1 1h0m0 1h0m0-4h0m-1 2h0m-1 1h0m-1-1h0m-1 2h0m-1-2h0m0-1h0m0 3h0m-1 1h0m0-5h0m0 3h0m-2-1h0m0 3h0m0-5h0m0 4h0m-1 1h0m-1-4h0m0 3h0m0-1h0m-1-1h0m0 2h0m-1 0h0m-1-1h0m-2 2h0m-2-4h0m-4 2h0m0-2h0m-2 0h0m-1 4h0m0-4h0m-1 2h0m-1-1h0m-2 3h0m0-5h0m-1 1h0m0-1h0m0 3h0m0-1h0m-1 1h0m0-3h0m0 4h0m-1-3h0m0 3h0m0-2h0m0 3h0m0-5h0m-1 4h0m0-2h0m0 3h0m-1-2h0m-2-3h0m0 5h0m-2-2h0m0 2h0m-7 4h0m1-3h0m0 3h0m0 2h0m1-2h0m2-1h0m0 3h0m0-1h0m0-4h0m1 3h0m0 1h0m0-3h0m0 4h0m1-3h0m0 2h0m0-3h0m0 2h0m1-1h0m0-2h0m0 4h0m1-1h0m1 0h0m0 1h0m1-3h0m1 1h0m0-2h0m0 1h0m0 2h0m0 1h0m1-4h0m1 4h0m0 1h0m1-4h0m1 1h0m0-1h0m1 2h0m1 0h0m1-1h0m0 1h0m0-3h0m1 1h0m0 4h0m0-1h0m2 0h0m0-3h0m0 2h0m1-1h0m0-2h0m1 5h0m1-3h0m0 2h0m0 1h0m1-1h0m0-2h0m0-1h0m1 2h0m0-2h0m1 2h0m0-2h0m1 0h0m1-1h0m0 4h0m1-1h0m0-3h0m1 0h0m1 1h0m1 2h0m0-1h0m1 1h0m0 2h0m1-1h0m0-2h0m1-2h0m0 5h0m0-1h0m1 0h0m0-3h0m2-1h0m0 2h0m-4 4h0m-1 2h0m-1 0h0m-1-1h0m-4-1h0m0 1h0m-1 1h0m0 1h0m-1-1h0m-1 2h0m0-3h0m0 2h0m0-1h0m-1-1h0m0 1h0m0 2h0m0-1h0m-1-3h0m-1 5h0m0-5h0m-1 0h0m0 3h0m0 1h0m0 1h0m0-4h0m-1 0h0m0 3h0m0-2h0m0 3h0m0-5h0m-1 3h0m-1 1h0m0-2h0m-1-2h0m0 4h0m0-3h0m0 2h0m-1 1h0m0-2h0m-1-1h0m-1 2h0m0-2h0m-1 2h0m0 2h0m0-3h0m0 2h0m-1-4h0m0 3h0m-1-1h0m0-2h0m0 4h0m-1-4h0m0 4h0m0-1h0m-1-3h0m0 2h0m0 2h0m0-3h0m-1 1h0m-1 2h0m0 1h0m0-5h0m0 1h0m0 2h0m-1 1h0m0 1h0m0-4h0m0 1h0m-1 0h0m0 1h0m-2 2h0m0-3h0m-1 3h0m0-5h0m0 2h0m0 2h0m0-3h0m-2 2h0m-1 0h0m-1 0h0m0 2h0m-1 6h0m0-1h0m1-2h0m0-2h0m0 3h0m0 1h0m1-3h0m0 3h0m2 0h0m0-4h0m1 4h0m0-2h0m0-1h0m1 1h0m0 3h0m0-4h0m1-1h0m0 5h0m1-2h0m0-3h0m0 4h0m1-3h0m0-1h0m2 3h0m0-1h0m0-1h0m0-1h0m1 2h0m0-2h0m1 2h0m1 1h0m2 0h0m0-2h0m0 1h0m1 1h0m2 1h0m0-3h0m1-1h0m0 5h0m1-2h0m1 0h0m1-3h0m0 2h0m0-1h0m1 0h0m0 2h0m1-3h0m-8 6h0m-1 0h0m-3 0h0m-2 1h0m-2 0h0m0 4h0m0-2h0m-1 0h0m0 1h0m-1-1h0m-1 1h0m0-1h0m0-2h0m0-1h0m-1 0h0m0 1h0m-1 0h0m0 1h0m-1-2h0m0 3h0m0 2h0m-4-1h0m-1 0h0m0-3h0m-1 1h0m0 2h0m-1 0h0m-1-1h0m0 1h0m1 2h0m1 1h0m8-1h0m2 1h0" stroke="#00ff00" stroke-width="1.7" stroke-linecap="square"/>
<path d="M155 1419h0m0 1h0m3 1h0m0-2h0m0-1h0m1 2h0m0-1h0m1 1h0m0-1h0m1 2h0m2-1h0m1 0h0m0-2h0m2 3h0m0-3h0m0 2h0m1 0h0m0-3h0m1 2h0m0-3h0m1 1h0m2-1h0m1 4h0m2 1h0m2 0h0m0-1h0m1 3h0m-2 1h0m0 3h0m-1-2h0m-2 1h0m0-2h0m0-1h0m0-1h0m-1 3h0m-1-2h0m0 1h0m0 2h0m-1 0h0m-1-2h0m-1 1h0m0-1h0m0-1h0m-2 4h0m-4-5h0m-1 2h0m0 3h0m0-2h0m-1-1h0m-1-2h0m-1 5h0m0-5h0m0 3h0m-1-2h0m0 2h0m0-1h0m-1 0h0m0-2h0m0 4h0m0-3h0m-1 3h0m-1 1h0m0-1h0m0-1h0m-1 1h0m-2-1h0m0 1h0m-3 1h0m-1 0h0m-1-1h0m-3 6h0m1 1h0m0-1h0m0-1h0m1-1h0m0 1h0m1-1h0m1 3h0m0-2h0m0-2h0m0 3h0m1 1h0m0-5h0m0 3h0m1-3h0m0 5h0m1-5h0m0 2h0m1 1h0m1 1h0m0-4h0m0 1h0m0 1h0m0 1h0m1 1h0m0-2h0m0-2h0m1 3h0m1-2h0m1-1h0m0 3h0m0-1h0m1 0h0m1-2h0m0 3h0m0-1h0m1-1h0m0 2h0m1-3h0m0 5h0m0-1h0m1 0h0m2-4h0m0 4h0m0-1h0m1 0h0m1 0h0m0 2h0m0-4h0m2 2h0m1-2h0m0 3h0m0 1h0m1-5h0m0 2h0m0-1h0m1 0h0m0 2h0m1-2h0m1 0h0m1-1h0m1 1h0m1 0h0m-5 5h0m-2 0h0m0 1h0m-2 0h0m-1-1h0m0 1h0m-2 0h0m-1-1h0m-1 1h0m0-1h0m0 5h0m0-2h0m-1 0h0m-1 1h0m0-3h0m-1 2h0m0 2h0m-1-2h0m-1-3h0m0 4h0m0-1h0m-1-1h0m0 1h0m-1 1h0m0-3h0m-1 1h0m0 1h0m-1-1h0m0-1h0m0 3h0m0 1h0m-2-2h0m0-1h0m-1 1h0m0-3h0m0 4h0m-1 0h0m0-2h0m-1 0h0m0 3h0m-1-5h0m0 3h0m0-2h0m-1 0h0m0 1h0m0 1h0m0 2h0m-5-4h0m3 5h0m0 3h0m0 1h0m1 1h0m0-1h0m1-3h0m0 4h0m0-5h0m0 2h0m1 3h0m0-1h0m1-4h0m0 3h0m1 0h0m0-3h0m1 0h0m0 2h0m2 0h0m0-2h0m1 3h0m1-3h0m1 4h0m0-4h0m0 2h0m1-2h0m1 0h0m3 2h0m-20 5h0" stroke="#ffff00" stroke-width="1.7" stroke-linecap="square"/>
<path d="M162 1419h0m0 2h0m1 0h0m1-2h0m1 0h0m0 2h0m2 0h0m0-2h0m1 2h0m0-1h0m1-1h0m2 2h0m1 4h0m-1 1h0m0-4h0m-2 3h0m0-1h0m0 3h0m-1-4h0m0 3h0m-1-4h0m0 5h0m0-1h0m-1-4h0m0 4h0m0 1h0m0-4h0m0 2h0m-1-2h0m0 3h0m0-2h0m0 1h0m-1 0h0m0-3h0m0 5h0m0-1h0m0-3h0m-1 1h0m0 1h0m0 1h0m-1 1h0m0-3h0m0-1h0m0-1h0m0 3h0m-1-2h0m0 2h0m0-1h0m-1-2h0m-1 3h0m-1 0h0m0-2h0m-8 5h0m0 5h0m4-1h0m0 1h0m2 0h0m1 0h0m0-1h0m0-3h0m2 0h0m0 2h0m1-3h0m0 5h0m0-3h0m1 3h0m0-5h0m0 2h0m0-1h0m0 3h0m1-3h0m1 0h0m0 3h0m0-2h0m0-2h0m1 2h0m0-2h0m1 1h0m0 2h0m0-3h0m0 4h0m1 0h0m0-3h0m0-1h0m1 0h0m1 3h0m-9 3h0m0 1h0m-1-1h0m-1 4h0m0-3h0m0-1h0m-1 4h0m0-3h0m0-1h0m-2 4h0m0 1h0m-1-5h0m0 3h0m-1 2h0m0-1h0m0-4h0m0 1h0m-1-1h0m-2 5h0m-3-1h0m-1 0h0m4 3h0m2-1h0" stroke="#ff0000" stroke-width="1.7" stroke-linecap="square"/>
<path d="M223 1491h1M175 1491h1M108 1491h1M227 1491h1M199 1491h1M123 1491h1M155 1491h1M200 1491h1M184 1491h1M146 1491h1M163 1491h1M223 1491h1M192 1491h1M190 1491h1M158 1491h1M104 1491h1M131 1491h1M170 1491h1M124 1491h1M182 1491h1M230 1491h1M184 1491h1M177 1491h1M183 1491h1M159 1491h1M144 1491h1M193 1491h1M159 1491h1M115 1491h1M123 1491h1M154 1491h1M204 1491h1M106 1491h1M189 1491h1M215 1491h1M115 1491h1M207 1491h1M190 1491h1M202 1491h1M105 1491h1M148 1491h1M199 1491h1M128 1491h1M172 1491h1M185 1491h1" stroke="#1a3cff" stroke-width="1.6"/>
<rect x="73.2" y="1172.1" width="321.9" height="320.4" fill="none" stroke="#111" stroke-width="1.6"/>
<line x1="203" y1="1172.1" x2="203" y2="1492.5" stroke="#000" stroke-width="2.8"/>
<line x1="73.2" y1="1360.1" x2="395.1" y2="1360.1" stroke="#000" stroke-width="2.8"/>
<path d="M62.2 1491.5H73.2M68.2 1472.3H73.2M68.2 1461.1H73.2M68.2 1453.1H73.2M68.2 1446.9H73.2M68.2 1441.9H73.2M68.2 1437.6H73.2M68.2 1433.9H73.2M68.2 1430.6H73.2M62.2 1427.7H73.2M68.2 1408.5H73.2M68.2 1397.3H73.2M68.2 1389.3H73.2M68.2 1383.1H73.2M68.2 1378.1H73.2M68.2 1373.8H73.2M68.2 1370.1H73.2M68.2 1366.8H73.2M62.2 1363.9H73.2M68.2 1344.7H73.2M68.2 1333.5H73.2M68.2 1325.5H73.2M68.2 1319.3H73.2M68.2 1314.3H73.2M68.2 1310H73.2M68.2 1306.3H73.2M68.2 1303H73.2M62.2 1300.7H73.2M68.2 1281.5H73.2M68.2 1270.3H73.2M68.2 1262.3H73.2M68.2 1256.1H73.2M68.2 1251.1H73.2M68.2 1246.8H73.2M68.2 1243.1H73.2M68.2 1239.8H73.2M62.2 1236.3H73.2M68.2 1217.1H73.2M68.2 1205.9H73.2M68.2 1197.9H73.2M68.2 1191.7H73.2M68.2 1186.7H73.2M68.2 1182.4H73.2M68.2 1178.7H73.2M68.2 1175.4H73.2" stroke="#111" stroke-width="1.4"/>
<rect x="62.2" y="1490.5" width="11" height="2.2" fill="#111"/>
<rect x="62.2" y="1426.7" width="11" height="2.2" fill="#111"/>
<rect x="62.2" y="1362.9" width="11" height="2.2" fill="#111"/>
<rect x="62.2" y="1299.7" width="11" height="2.2" fill="#111"/>
<rect x="62.2" y="1235.3" width="11" height="2.2" fill="#111"/>
<path d="M107.3 1492.5V1501.5M128.7 1492.5V1497.5M141.2 1492.5V1497.5M150.1 1492.5V1497.5M157 1492.5V1497.5M162.6 1492.5V1497.5M167.4 1492.5V1497.5M171.5 1492.5V1497.5M175.1 1492.5V1497.5M79 1492.5V1497.5M85.9 1492.5V1497.5M91.5 1492.5V1497.5M96.3 1492.5V1497.5M100.4 1492.5V1497.5M104 1492.5V1497.5M178.4 1492.5V1501.5M199.8 1492.5V1497.5M212.3 1492.5V1497.5M221.2 1492.5V1497.5M228.1 1492.5V1497.5M233.7 1492.5V1497.5M238.5 1492.5V1497.5M242.6 1492.5V1497.5M246.2 1492.5V1497.5M249.5 1492.5V1501.5M270.9 1492.5V1497.5M283.4 1492.5V1497.5M292.3 1492.5V1497.5M299.2 1492.5V1497.5M304.8 1492.5V1497.5M309.6 1492.5V1497.5M313.7 1492.5V1497.5M317.3 1492.5V1497.5M320.7 1492.5V1501.5M342.1 1492.5V1497.5M354.6 1492.5V1497.5M363.5 1492.5V1497.5M370.4 1492.5V1497.5M376 1492.5V1497.5M380.8 1492.5V1497.5M384.9 1492.5V1497.5M388.5 1492.5V1497.5M391.8 1492.5V1501.5" stroke="#111" stroke-width="1.4"/>
<rect x="106.1" y="1492.5" width="2.4" height="9" fill="#111"/>
<rect x="177.2" y="1492.5" width="2.4" height="9" fill="#111"/>
<rect x="248.3" y="1492.5" width="2.4" height="9" fill="#111"/>
<rect x="319.5" y="1492.5" width="2.4" height="9" fill="#111"/>
<rect x="390.6" y="1492.5" width="2.4" height="9" fill="#111"/>
<text class="a" x="43.5" y="1499.2" font-size="13" text-anchor="middle">10</text>
<text class="a" x="51.2" y="1489.8" font-size="13">2</text>
<text class="a" x="43.5" y="1435.4" font-size="13" text-anchor="middle">10</text>
<text class="a" x="51.2" y="1426" font-size="13">3</text>
<text class="a" x="43.5" y="1371.6" font-size="13" text-anchor="middle">10</text>
<text class="a" x="51.2" y="1362.2" font-size="13">4</text>
<text class="a" x="43.5" y="1308.4" font-size="13" text-anchor="middle">10</text>
<text class="a" x="51.2" y="1299" font-size="13">5</text>
<text class="a" x="43.5" y="1244" font-size="13" text-anchor="middle">10</text>
<text class="a" x="51.2" y="1234.6" font-size="13">6</text>
<text class="a" x="109.3" y="1529" font-size="13" text-anchor="middle">10</text>
<text class="a" x="117" y="1519.6" font-size="13">3</text>
<text class="a" x="180.4" y="1529" font-size="13" text-anchor="middle">10</text>
<text class="a" x="188.1" y="1519.6" font-size="13">4</text>
<text class="a" x="251.5" y="1529" font-size="13" text-anchor="middle">10</text>
<text class="a" x="259.2" y="1519.6" font-size="13">5</text>
<text class="a" x="322.7" y="1529" font-size="13" text-anchor="middle">10</text>
<text class="a" x="330.4" y="1519.6" font-size="13">6</text>
<text class="a" x="393.8" y="1529" font-size="13" text-anchor="middle">10</text>
<text class="a" x="401.5" y="1519.6" font-size="13">7</text>
<text class="a" x="79.8" y="1198.9" font-size="15.5">Q1</text>
<text class="a" x="79.8" y="1222.4" font-size="15.5">0.39</text>
<text class="a" x="367.1" y="1198.9" font-size="15.5" text-anchor="end">Q2</text>
<text class="a" x="367.1" y="1222.4" font-size="15.5" text-anchor="end">1.88</text>
<text class="a" x="367.1" y="1449.7" font-size="15.5" text-anchor="end">Q3</text>
<text class="a" x="367.1" y="1471.2" font-size="15.5" text-anchor="end">2.32</text>
<text class="a" x="79.8" y="1449.7" font-size="15.5">Q4</text>
<text class="a" x="79.8" y="1471.2" font-size="15.5">95.4</text>
<text class="a" x="42.4" y="1195.4" font-size="13" text-anchor="middle">10</text>
<text class="a" x="50.5" y="1186" font-size="13">7</text>
<text class="s" x="25.9" y="1347.4" font-size="27.5" text-anchor="middle" transform="rotate(-90 25.9 1347.4)">PE-A</text>
<text class="s" x="206" y="1571.7" font-size="27.5" text-anchor="middle">Annexin V FITC-A</text>
<text class="s" x="621.8" y="1162" font-size="35" text-anchor="middle" textLength="223.6" lengthAdjust="spacingAndGlyphs">siNT + Bufalin</text>
<path d="M501 1444h0m1-1h0m5 0h0m2-1h0m3-1h0m-1 8h0m-9 0h0m-7-1h0m-1 2h0m-13 1h0m29 2h0m-10 5h0m-11 0h0m9 6h0m2 5h0m5-3h0m-7 7h0" stroke="#dfe4fa" stroke-width="1.7" stroke-linecap="square"/>
<path d="M490 1441h0m9-1h0m5 5h0m0-2h0m2 2h0m4-1h0m1-1h0m2-2h0m1 3h0m-6 3h0m0 2h0m-9-3h0m-9 1h0m7 10h0m1 0h0m8-2h0m0-2h0m2 1h0m2 0h0m2 9h0m0-3h0m-2 3h0m-2-1h0m-1-4h0m-10 9h0m9 2h0m1-2h0m1-3h0m3 3h0m-15 5h0m7 5h0" stroke="#c9d3f6" stroke-width="1.7" stroke-linecap="square"/>
<path d="M493 1441h0m7 4h0m3-2h0m0 2h0m2-3h0m0-1h0m2 4h0m2-4h0m0-1h0m2 1h0m1 5h0m-5 3h0m-1-1h0m-1 3h0m-3-4h0m-1 0h0m-3 4h0m-8-3h0m-5-2h0m6 9h0m6 1h0m14 3h0m-6 1h0m-13 9h0m19 1h0m3 10h0" stroke="#cfeef2" stroke-width="1.7" stroke-linecap="square"/>
<path d="M507 1441h0m7 1h0m-3 6h0m-4 0h0m0-1h0m-3 3h0m-4 0h0m-1-1h0m-1 1h0m-8-4h0m-1 4h0m5 3h0m4 0h0m3 1h0m4 1h0m2 2h0m1-5h0m2 3h0m0 1h0m1-1h0m2-1h0m-6 9h0m-11 0h0m-9-5h0m22 9h0m-2 6h0m-2 2h0m-16-5h0m21 8h0" stroke="#e8f3f0" stroke-width="1.7" stroke-linecap="square"/>
<path d="M502 1441h0m10 3h0m1 5h0m-1 2h0m-8-2h0m-1-2h0m-7 0h0m0 1h0m-3-1h0m12 9h0m2-3h0m0 3h0m2-2h0m4 5h0m-10 9h0m3-4h0m3 4h0m1 1h0m3-4h0m-6 5h0m-2 0h0" stroke="#d8dcf6" stroke-width="1.7" stroke-linecap="square"/>
<path d="M739 1243h0m-35 4h0m3 6h0m-8 3h0m-32 5h0m47-1h0m4 7h0m-5 0h0m-19 2h0m-1-1h0m-18-2h0m-37 4h0m20 7h0m14-3h0m4-1h0m4-1h0m2 1h0m4 4h0m3-2h0m3 0h0m11 1h0m2-2h0m1-2h0m-14 11h0m-6-2h0m-4-3h0m-6 5h0m-47 3h0m14-2h0m14 3h0m7-2h0m11 0h0m6-1h0m2 2h0m6-1h0m1 3h0m6-4h0m1 3h0m2-3h0m18 0h0m2 3h0m6 6h0m-42 1h0m-8-2h0m0 2h0m-5-2h0m-2 3h0m-7-2h0m-1 2h0m-2-1h0m-4 0h0m-7-4h0m-2 0h0m-7 2h0m-6 1h0m-22 0h0m-6 6h0m21 1h0m2 0h0m5-1h0m0 1h0m1-3h0m3 0h0m1 1h0m1 2h0m0-4h0m3 3h0m2-2h0m2 0h0m1 0h0m2 4h0m2-4h0m0 2h0m2 2h0m3-3h0m3-2h0m2 3h0m3 0h0m2-1h0m4 1h0m2 2h0m3 0h0m1-4h0m10 3h0m5-4h0m14 9h0m-4-3h0m-3 5h0m-9-2h0m0 1h0m-4-3h0m-3 4h0m-8-2h0m-1-2h0m-3 4h0m-5-3h0m-3-1h0m-3 3h0m-3-2h0m-1 3h0m0-5h0m0 4h0m-2-1h0m-3-1h0m0 2h0m-3-4h0m-1 0h0m-4 3h0m-4 0h0m-2 0h0m-1 2h0m0-1h0m-1-4h0m-2 2h0m0 3h0m-1-5h0m0 3h0m-3 2h0m0-5h0m-1 3h0m-2 0h0m-1 1h0m-2-2h0m-3 3h0m-1 0h0m-4-3h0m-7 3h0m-2-2h0m-6 0h0m-22 4h0m12 0h0m2 1h0m2 2h0m7-1h0m0-2h0m2-1h0m3 5h0m5 0h0m1-5h0m2 0h0m0 3h0m0-1h0m1-1h0m4 1h0m0-2h0m1 3h0m0-3h0m1 3h0m0-1h0m1 3h0m3-3h0m2-1h0m1 2h0m2-2h0m2 3h0m0-4h0m1 3h0m0-3h0m4 4h0m0-2h0m2-2h0m2 2h0m6 1h0m1 0h0m0 1h0m6-1h0m3-3h0m1 5h0m1-5h0m1 2h0m1-1h0m1 3h0m1-1h0m2-3h0m0 4h0m4 1h0m4 0h0m7-1h0m10-4h0m31 1h0m-12 5h0m-14 0h0m-13 0h0m-2 4h0m-2-3h0m-3 0h0m-3-1h0m-2 2h0m-1 3h0m-4-2h0m-1-2h0m-2 2h0m-2 1h0m-1-1h0m-2 0h0m-1 2h0m0-2h0m-1 0h0m-3 2h0m-3-5h0m-1 0h0m0 4h0m-1 1h0m-1-1h0m-3-3h0m-1 0h0m-2-1h0m0 5h0m-1 0h0m-3-3h0m-1 2h0m-2-4h0m-2 1h0m-2-1h0m-6 5h0m-2-5h0m-1 4h0m0-1h0m-3-2h0m-2 2h0m-2 1h0m-1-2h0m0 1h0m-2-1h0m-1 1h0m-2 0h0m0-3h0m-3 2h0m0-1h0m-1 4h0m-1-1h0m-3-1h0m-1 0h0m-4 1h0m-6-2h0m-4 2h0m-6-1h0m-1-2h0m-7 4h0m-13-4h0m-7 10h0m29-4h0m6 2h0m1-3h0m0 2h0m1-2h0m3 1h0m4 4h0m1-1h0m2-3h0m1 4h0m1-3h0m2 3h0m2-4h0m2-1h0m7 1h0m7 4h0m1-1h0m0 1h0m7-2h0m4 1h0m1-3h0m2 1h0m1 0h0m12 3h0m1-4h0m1 2h0m1-3h0m2 4h0m0-1h0m1-1h0m2-2h0m2 1h0m1 0h0m2 3h0m0-4h0m1 4h0m0-1h0m1 1h0m1 1h0m1-5h0m2 4h0m1 0h0m4 0h0m4 0h0m5-3h0m2 4h0m1 0h0m1 0h0m11 1h0m-21 4h0m-1-3h0m-4-1h0m-1 1h0m-1 0h0m-1 1h0m-4-1h0m-1-1h0m-4 0h0m-1 4h0m-1-2h0m-3-2h0m-3 0h0m-1 2h0m-1 2h0m-5-1h0m-2 0h0m-3 2h0m-4-2h0m-2 2h0m0-4h0m-6 2h0m-2 0h0m-2-2h0m-12 1h0m-5 1h0m-6 0h0m-1-1h0m-3 3h0m0-2h0m-2 1h0m-1-3h0m-1 3h0m-2-1h0m-3-1h0m-1 0h0m-2 3h0m-1-3h0m-1 2h0m-1 1h0m-3 0h0m-1 0h0m-4-3h0m-2 3h0m0-5h0m-4 4h0m-21 7h0m19-3h0m2 1h0m0 2h0m2-1h0m2 0h0m1 0h0m0-3h0m5 2h0m4-3h0m2 1h0m1 1h0m0 2h0m3-4h0m1 3h0m0 2h0m1-3h0m1-1h0m0 2h0m2 1h0m1 1h0m1-3h0m2 1h0m0-3h0m2 5h0m4-2h0m1-1h0m0 1h0m1 2h0m6-5h0m3 1h0m2 4h0m2 0h0m3-1h0m1 1h0m14 0h0m4-1h0m2-3h0m1 3h0m2-1h0m1-2h0m0 2h0m1-2h0m1 2h0m1-1h0m1 3h0m3-1h0m1-4h0m2 2h0m1 1h0m1 0h0m1 2h0m8-2h0m4-3h0m14 0h0m-37 7h0m-4 0h0m-1 3h0m-1 1h0m-3-3h0m-2 2h0m-1 0h0m-1-1h0m0-1h0m-2 0h0m-1 2h0m-2-1h0m-1 2h0m-1-4h0m-1 2h0m-1-1h0m-3 0h0m0 2h0m-1-4h0m-2 0h0m-5 5h0m-1 0h0m-3-1h0m-1 0h0m-6 0h0m-3-1h0m0-1h0m-3 0h0m-1 0h0m-2 2h0m-1 0h0m-2-3h0m-1 4h0m-2-3h0m-3 0h0m-1 3h0m-1-4h0m0 4h0m-1-4h0m-3 0h0m-2 0h0m0 4h0m-1-5h0m-1 4h0m-1-1h0m0 1h0m-1-2h0m-2 3h0m-3-4h0m0-1h0m-7 1h0m-4 2h0m-1 0h0m-12 8h0m3-3h0m1 3h0m7-1h0m3-1h0m1 0h0m2 1h0m2-2h0m2 3h0m1 0h0m1-2h0m0 1h0m0 1h0m3-4h0m0 4h0m1-4h0m5 3h0m1-1h0m2 2h0m3-1h0m0-1h0m0-3h0m5 4h0m1-2h0m2 3h0m1-5h0m4 4h0m1-3h0m1 2h0m4-2h0m1 1h0m1 2h0m1-3h0m2 3h0m0-1h0m2 2h0m1-2h0m0-2h0m3 2h0m0-1h0m1 0h0m2-1h0m2 4h0m0-5h0m4 0h0m0 4h0m1 0h0m0-3h0m2 4h0m1-4h0m1 1h0m2 1h0m2 1h0m2 0h0m1-4h0m9 3h0m0 1h0m2-2h0m15 1h0m9 3h0m-21 1h0m-7-1h0m-16 4h0m-4 1h0m0-4h0m-2-1h0m-1 4h0m0-1h0m-3 0h0m-1 0h0m-3 1h0m-5 1h0m-2-5h0m-1 5h0m-1-5h0m0 2h0m-1 0h0m-3 1h0m-1 1h0m0 1h0m-2-5h0m-3 5h0m-1-2h0m0-3h0m-1 0h0m0 3h0m-4 1h0m-3-3h0m0 1h0m-2 2h0m-1-4h0m-2 4h0m-4 0h0m-5-1h0m-2-2h0m-13 4h0m-27 3h0m21 1h0m9 0h0m1-2h0m7 1h0m0-2h0m2 0h0m0 1h0m0 1h0m2-1h0m4 4h0m2-3h0m0-2h0m3 3h0m1 2h0m2-3h0m1 1h0m2 1h0m0-4h0m2 3h0m1-2h0m8 0h0m3 4h0m5-4h0m1 0h0m0 2h0m1-3h0m11 0h0m0 1h0m2-1h0m7 2h0m5 3h0m2-1h0m14-1h0m3-1h0m9-2h0m17 3h0m-11 3h0m-29 1h0m-2 2h0m-6-3h0m-3 3h0m-2-1h0m-1-2h0m-1 4h0m-4 1h0m-6-3h0m-2 1h0m0-2h0m-1-1h0m-1 2h0m-1 1h0m-1-3h0m-2 0h0m-3 0h0m-2 5h0m-1-2h0m-1 1h0m-1-4h0m-4 4h0m-1-4h0m-4 2h0m0 3h0m-2-3h0m-1 0h0m-3 0h0m-2 2h0m-3 0h0m-1-1h0m0 1h0m-3-4h0m0 2h0m-7 2h0m-4 4h0m3-2h0m4 2h0m9 1h0m0-2h0m3 2h0m0-2h0m1 1h0m0-2h0m15 5h0m1-5h0m1 3h0m5-2h0m0 4h0m3-1h0m2 0h0m2-3h0m1 1h0m1 2h0m1-1h0m2-2h0m3 3h0m0-4h0m3 1h0m5 1h0m2 1h0m1 2h0m9-3h0m44 3h0m-24 3h0m-20 0h0m-9 1h0m-3 1h0m0 1h0m-3-4h0m-3 3h0m-1-4h0m-3 1h0m-2-1h0m0 3h0m-1-3h0m-1 5h0m-1-5h0m0 2h0m-3-1h0m0 4h0m-1-2h0m-2-1h0m-3 1h0m-14-2h0m-7-1h0m-1 2h0m-3 3h0m-1-4h0m-1-1h0m-3 1h0m0 4h0m-1-4h0m-2 2h0m-1 2h0m-3-5h0m-1 4h0m-1-1h0m0 2h0m-3-5h0m-7 8h0m9 3h0m2-5h0m1 3h0m2 2h0m1 0h0m0-1h0m2 1h0m4-5h0m1 4h0m0-2h0m4 3h0m1-4h0m6 4h0m2-1h0m22-3h0m1 3h0m2-4h0m4 0h0m1 1h0m0 4h0m1-4h0m0 1h0m0 1h0m2-1h0m3 3h0m1-2h0m2 0h0m3-3h0m3 2h0m4 3h0m0-4h0m2 4h0m2-3h0m43 8h0m-27-1h0m-13 1h0m-11 0h0m-8 0h0m0-1h0m-1-2h0m-4 1h0m-4 2h0m-2-4h0m-3 1h0m-3-1h0m-17 1h0m-24 2h0m0-3h0m-2 0h0m-1 5h0m-3-2h0m0 1h0m-3 0h0m0 1h0m-2 0h0m-4-2h0m-1 1h0m-2-3h0m-7 9h0m3-4h0m1 5h0m5-1h0m1-3h0m0 2h0m0-1h0m1-1h0m2 4h0m1-1h0m2-2h0m0-2h0m2 0h0m35 4h0m4 0h0m1 0h0m0 1h0m2-2h0m2 2h0m1-2h0m0-1h0m7-2h0m1 5h0m1-2h0m2-3h0m0 1h0m1 0h0m1-1h0m0 4h0m1-3h0m1 4h0m2 0h0m2-2h0m11-2h0m3 0h0m6 4h0m2 0h0m2-2h0m30 5h0m-30-1h0m-12 0h0m-1-1h0m-4 5h0m-1-5h0m-5 0h0m-2 0h0m-1 3h0m-1-2h0m-1 0h0m-1 1h0m0 1h0m-3-2h0m-9-1h0m-1 1h0m-1 2h0m0-1h0m-4 0h0m-2 2h0m-2-1h0m-2-3h0m-42 1h0m-5 1h0m-1-2h0m-1 5h0m-4-1h0m-3 1h0m-5-2h0m-15 5h0m14 0h0m2 3h0m0-2h0m1-1h0m5-2h0m1 1h0m2 4h0m2 0h0m42 0h0m5-1h0m0-1h0m2 0h0m1 1h0m1 0h0m1-3h0m2 2h0m2 0h0m2-1h0m0 1h0m2-3h0m0 5h0m1-3h0m5 0h0m44 6h0m-30 0h0m-3 0h0m-4 1h0m-17 0h0m-5 0h0m-1 0h0m-1 0h0m-2 0h0m-1 1h0m-2-1h0m0 1h0m-3-3h0m-49 4h0m-1-5h0m-2 2h0m-6 3h0m0-1h0m-1-2h0m-19 7h0m16-1h0m1 2h0m1-2h0m3-1h0m0-1h0m2 1h0m2-1h0m2 1h0m1 0h0m45 1h0m5 2h0m0-3h0m1 2h0m5 2h0m0-3h0m2 2h0m2 1h0m1-4h0m1 4h0m4-3h0m18 2h0m45-3h0m4 2h0m-70 4h0m-8 3h0m-2-2h0m0-1h0m-5 2h0m0-1h0m0-1h0m-1 3h0m0-1h0m-4 0h0m-48-3h0m-3 5h0m-3-5h0m0 5h0m-2-5h0m-3 1h0m-2 2h0m-1-2h0m-2 0h0m-2 2h0m-21-3h0m-2 0h0m-3 6h0m0 5h0m16 0h0m1-4h0m1 4h0m1-1h0m5-2h0m1-2h0m1 0h0m2 1h0m3 1h0m2 0h0m1 0h0m0 1h0m1-2h0m6-1h0m46 3h0m0 2h0m3 0h0m4 0h0m3-1h0m1-1h0m21-3h0m35 1h0m-31 5h0m-11 3h0m-16-2h0m-2 0h0m-1 2h0m-1-2h0m-1 2h0m-5-1h0m0-2h0m-3 4h0m-3-1h0m-2 0h0m-47 0h0m-3-1h0m-2 2h0m0-1h0m-1 0h0m-1-2h0m-2 0h0m-1 1h0m-3-2h0m0 1h0m-3 2h0m-4-3h0m-2 0h0m-5 4h0m0-4h0m16 6h0m48 3h0m8-2h0m3 1h0m3 2h0m4-2h0m1-1h0m1-1h0m28 4h0m-23 2h0m-10 4h0m-4 0h0m-10-1h0m0-2h0m0 3h0m0 1h0m-4-3h0m-1 2h0m-1-1h0m-5 1h0m-10-1h0m-13 8h0m1-1h0m2-1h0m3-2h0m0 4h0m1-2h0m1-3h0m1 3h0m5 2h0m0-1h0m2 0h0m3 0h0m0-1h0m6-1h0m0-2h0m6 5h0m1-3h0m1-1h0m0 4h0m0-5h0m3 3h0m2 2h0m1-4h0m15-1h0m-16 6h0m-2 1h0m-7 4h0m0-5h0m-3 2h0m-1-2h0m-3 0h0m-7 5h0m-1-1h0m-1-1h0m-1 0h0m-3 0h0m-2-3h0m-4 3h0m-5 4h0m1 4h0m1-1h0m2-2h0m0 2h0m1-1h0m4 1h0m0-4h0m1 2h0m1-2h0m1 0h0m1 2h0m6 2h0m0-1h0m4-1h0m9 4h0m-7 3h0m-8 1h0m-3-1h0m-2-1h0m-5-2h0m0 1h0m-2 3h0m-4-1h0m0-1h0m8 5h0m5 0h0m2-1h0m3 2h0" stroke="#0000ff" stroke-width="1.7" stroke-linecap="square"/>
<path d="M634 1305h0m-25 7h0m8 1h0m7 0h0m4-1h0m2-1h0m29 1h0m1 1h0m-19 5h0m-2 0h0m-1-1h0m-1 1h0m-5-1h0m0-3h0m-1 4h0m-1-3h0m0 3h0m-1-4h0m-1 5h0m-1-3h0m-2 0h0m-3 3h0m-2-5h0m0 4h0m-1-3h0m-3 2h0m0-1h0m-2 1h0m0 2h0m-2-4h0m-4 4h0m-2-3h0m-2 2h0m-1-2h0m-1 1h0m-1-1h0m-1 3h0m-11 4h0m0 2h0m1-2h0m1 1h0m1-1h0m1-2h0m0 2h0m1 1h0m2 0h0m0-2h0m5 3h0m1-3h0m0-1h0m1 2h0m2 0h0m0-1h0m1 0h0m2 2h0m0 1h0m1 0h0m0-2h0m1 2h0m1-1h0m1 1h0m0-5h0m1 3h0m0 1h0m1 0h0m0-4h0m0 1h0m1 4h0m1-4h0m0 3h0m1-2h0m1 0h0m1 3h0m1-1h0m0 1h0m1-2h0m2-1h0m0 2h0m1 0h0m0-2h0m0 3h0m2-3h0m0 1h0m0 1h0m1-1h0m1 2h0m0-1h0m1-2h0m0-2h0m1 3h0m2 0h0m1-2h0m0 2h0m2-3h0m0 3h0m1 2h0m1-2h0m0 1h0m0-4h0m1 2h0m1-2h0m0 3h0m1-2h0m1 2h0m0-1h0m1 1h0m0 2h0m0-5h0m1 5h0m5-3h0m-6 6h0m-1-1h0m-2 2h0m-1-3h0m0 4h0m-2 1h0m0-4h0m-1 3h0m0-2h0m-1 0h0m-2 0h0m-1 0h0m-2 1h0m-3 1h0m0 1h0m-1-1h0m-2-3h0m0 1h0m-1-1h0m0 2h0m-2 1h0m-1 1h0m-1-3h0m-1-1h0m-1 2h0m0-1h0m-1 2h0m0-2h0m-3 2h0m-1-4h0m-1 0h0m0 5h0m-2-3h0m0-1h0m0 4h0m0-2h0m-2-2h0m0-1h0m-2 2h0m-1-2h0m0 4h0m-1 0h0m0-3h0m-1 0h0m0 3h0m-1-1h0m0-3h0m-1 2h0m0 1h0m-1-2h0m-6-1h0m-1 2h0m-1-2h0m-3 2h0m-1-2h0m-1 5h0m-8 4h0m8-3h0m1 5h0m1 0h0m4-3h0m3 2h0m2 1h0m0-3h0m0-2h0m1 2h0m3-1h0m1 2h0m0-3h0m2 0h0m0 2h0m2 2h0m0-4h0m3 1h0m0-1h0m2 3h0m1-3h0m1 3h0m0-3h0m0 4h0m0 1h0m1-3h0m3-1h0m2-1h0m0 1h0m0 4h0m0-3h0m1 1h0m2 0h0m0-3h0m1 0h0m1 2h0m1 1h0m0-1h0m1 1h0m1-2h0m0 4h0m0-5h0m2 4h0m0-2h0m1 2h0m1-4h0m0 3h0m0-1h0m1-2h0m0 3h0m1 1h0m0-1h0m3-2h0m2-1h0m2 5h0m1-5h0m1 4h0m1 1h0m-9 1h0m-1 0h0m-1 1h0m-7 1h0m-4 0h0m-3-1h0m-3-1h0m-2 5h0m0-4h0m-1 0h0m0-1h0m-1 2h0m-1-2h0m-2 0h0m-1 3h0m0-1h0m0-1h0m-2 1h0m0-1h0m0 4h0m-1-4h0m-2 0h0m-1 4h0m0-2h0m-1-3h0m-1 1h0m-1-1h0m-1 5h0m-11-3h0m-3 2h0m0-4h0m-2 2h0m-1 2h0m-1 1h0m-1-5h0m-1 0h0m-1 2h0m-1-1h0m15 7h0m0 2h0m1 0h0m2 1h0m0-3h0m2 2h0m2-2h0m1-2h0m4 2h0m0-2h0m-6 8h0m-7-1h0m-3 3h0m0-2h0m-2-1h0m-1 1h0m-1-2h0m-4 1h0m12 8h0m1 0h0m2 2h0m7 6h0m-1 0h0m-4-4h0m-3 1h0m-1-2h0m0 1h0m-2 4h0m-3 0h0m-2 0h0m0-2h0m0 1h0m-3 0h0m-1 0h0m-2-1h0m0 1h0m-6 6h0m2 1h0m2-4h0m2 0h0m0 2h0m1 2h0m1-1h0m0-2h0m1 2h0m1-3h0m0 1h0m1 1h0m1 1h0m0-2h0m0 1h0m0 2h0m1-3h0m1 2h0m1 1h0m1-1h0m4-2h0m2 1h0m0 2h0m1-1h0m0 1h0m1-5h0m0 3h0m0-1h0m0-1h0m1 1h0m2 2h0m0 1h0m0-5h0m0 2h0m2 0h0m2 1h0m2 1h0m5 7h0m-1-2h0m-6-2h0m-2 3h0m-2 1h0m-1-4h0m-3-1h0m0 4h0m-1 0h0m0-2h0m-1-1h0m-1-1h0m-1 4h0m0-4h0m-2 4h0m-2-3h0m-3 4h0m-1-1h0m-1-1h0m0-3h0m0 4h0m-1-1h0m-1-1h0m-1-2h0m-1 5h0m0-2h0m0-1h0m-1 2h0m0-1h0m0 2h0m0-5h0m-1 5h0m-1-2h0m-2-1h0m0 1h0m-2-1h0m-2 1h0m-2 1h0m-1-4h0m1 7h0m4-1h0m0 2h0m0 2h0m0-1h0m1-1h0m0 2h0m0-4h0m3 4h0m1 1h0m1-1h0m1 1h0m0-5h0m1 5h0m0-4h0m2 1h0m1 0h0m2-2h0m2 4h0m0-2h0m0 3h0m1-5h0m2 1h0m1-1h0m0 2h0m2-2h0m1 1h0m1 4h0m1-2h0m0 2h0m1-5h0m0 1h0m1 4h0m1-2h0m0 1h0m1 0h0m1-1h0m0 2h0m0-5h0m5 1h0m0 2h0m1 0h0m2-1h0m-4 8h0m0 1h0m-1-5h0m0 5h0m0-2h0m-1 2h0m-1 0h0m-1-3h0m-1 2h0m0-1h0m0-2h0m0 1h0m-1 2h0m0-4h0m-1 4h0m-2 0h0m0-1h0m0 2h0m-1-4h0m0 4h0m0-1h0m-3 1h0m-1-2h0m0-1h0m-1 1h0m0-2h0m-1 3h0m-1-3h0m-1 0h0m0 2h0m-1 0h0m-1 2h0m-2-5h0m-2 0h0m0 2h0m0-1h0m-2 4h0m0-2h0m-1 0h0m-1-1h0m0 3h0m-1-3h0m-2 0h0m0 3h0m0-5h0m-1 4h0m0-2h0m0-1h0m-3-1h0m-1 5h0m0-2h0m-2 1h0m-1-4h0m0 3h0m-1 2h0m0-1h0m-1-2h0m-6 2h0m-1 1h0m-2 5h0m1-1h0m1 0h0m0 1h0m2-1h0m1-3h0m0 1h0m1 1h0m0-2h0m3 0h0m1 1h0m0 3h0m3 1h0m1-1h0m1-2h0m2-2h0m2 3h0m4-1h0m1 1h0m1-3h0m1 0h0m2 2h0m3 2h0m1-3h0m0-1h0m1 2h0m1 2h0m0-4h0m0 2h0m1 0h0m2-1h0m0-1h0m0 5h0m1-5h0m2 2h0m0-1h0m1-1h0m0 1h0m1 4h0m1-1h0m4-2h0m-12 7h0m-3 1h0m0-4h0m-1 3h0m0-3h0m0 5h0m-1-4h0m0 1h0m-2-2h0m0 4h0m0-2h0m-2 2h0m-1 0h0m-1 1h0m-1 0h0m-7 0h0m-9-3h0m-2 2h0m0-2h0m-1 0h0m0-1h0m-5 2h0m-2-3h0m0 3h0m-1 2h0m-1-2h0m-1-2h0m0 3h0m-1-1h0m-1-2h0m-1 4h0m0-1h0m-1-1h0m0 2h0m-1-4h0m-10 10h0m3-2h0m4 1h0m1-1h0m0 1h0m1-4h0m2 2h0m3-1h0m0 4h0m2-4h0m2 2h0m21 1h0m1 1h0m4 0h0m1 0h0m1-4h0m1 4h0m1-4h0m3 2h0m0-1h0m1-1h0m1 0h0m0-1h0m0 5h0m1-5h0m2 0h0m0 4h0m0-2h0m0 5h0m-3 0h0m-2 1h0m-3-2h0m0 4h0m-1-3h0m-5 4h0m0-5h0m-1 1h0m-2 1h0m0 1h0m-3 0h0m-31-1h0m-2-1h0m0 4h0m-1-5h0m0 5h0m0-3h0m-1 3h0m0-5h0m-1 0h0m0 2h0m-9 9h0m1-4h0m2 2h0m1-2h0m0 2h0m3 1h0m4-3h0m0 1h0m1-1h0m1-1h0m1 5h0m0-2h0m32-1h0m2 2h0m0 1h0m1 0h0m1 0h0m0-1h0m0-2h0m1-2h0m0 4h0m0-1h0m1 0h0m1 2h0m1-1h0m1-3h0m0 3h0m-4 2h0m-2 1h0m-1 4h0m-8 0h0m-29-1h0m-3-4h0m-1 1h0m-3 1h0m-2 2h0m-2 0h0m0 1h0m-7 4h0m0 2h0m1-3h0m3 1h0m0-2h0m1 2h0m0-1h0m1 0h0m1 2h0m1 0h0m0 1h0m1-1h0m3-4h0m3 2h0m5 0h0m20 2h0m2-1h0m2 2h0m0-2h0m4-2h0m1 3h0m2-1h0m2-2h0m1 0h0m-4 5h0m-1 1h0m-1-1h0m-1 0h0m-1 5h0m0-5h0m-5 3h0m-1 0h0m0 2h0m-3 0h0m-3 0h0m-7-5h0m-12 5h0m-2-3h0m0-2h0m-2 5h0m-1 0h0m-2-4h0m0 4h0m0-3h0m-3-2h0m-2 0h0m0 4h0m0 1h0m-1-4h0m-2-1h0m0 1h0m-1 2h0m0 1h0m0-3h0m-2-1h0m0 3h0m0 2h0m-3-2h0m-1 2h0m-4 0h0m-1 1h0m3 0h0m6 0h0m1 3h0m0 2h0m1-1h0m2 1h0m1-4h0m2-1h0m4 0h0m1 3h0m1 2h0m0-3h0m1 1h0m0 2h0m4-1h0m6-3h0m3 0h0m2 1h0m1 3h0m1-2h0m3 2h0m1-5h0m2 1h0m0 2h0m3-1h0m0 1h0m1-2h0m1-1h0m0 1h0m2-1h0m1 0h0m0 1h0m-9 9h0m-3-1h0m0 2h0m-1-3h0m-1-2h0m-1 1h0m-1 1h0m-1-1h0m0 3h0m-1 1h0m-2-5h0m0 5h0m-1-1h0m-1 0h0m0-4h0m0 5h0m-1-4h0m0 1h0m0 1h0m-2 0h0m0-1h0m-1 1h0m-1 0h0m-1-1h0m-2 0h0m-1-1h0m-1 4h0m-3-4h0m0 4h0m-1-2h0m0-2h0m0-1h0m-1 0h0m-1 1h0m0 3h0m-2-4h0m0 3h0m-2 1h0m-1 1h0m0-3h0m0 2h0m-1 2h0m2 0h0m0 1h0m2 0h0m1 0h0m1 2h0m0-2h0m3 1h0m1 2h0m0-1h0m2-3h0m0 3h0m2-2h0m1 3h0m1-4h0m2 5h0m1-2h0m1 1h0m3 0h0m0-3h0m7-1h0m1 1h0m-12 6h0m-1-1h0m-1 1h0m-3 0h0m-3 1h0m-3 0h0m-1-1h0m-1 2h0m0-3h0m-1 2h0m0 2h0m-1-4h0m-1 3h0m-1 2h0m0-2h0m-1-1h0m0 3h0m-1 0h0m0-1h0m1 2h0m1 3h0m2-2h0" stroke="#00d8ff" stroke-width="1.7" stroke-linecap="square"/>
<path d="M626 1318h0m0-1h0m0-2h0m0 4h0m-2 0h0m0-5h0m0 1h0m-1 4h0m-2-3h0m-2 1h0m-15 6h0m1 2h0m17-5h0m2 0h0m2 1h0m11 4h0m1-1h0m1 1h0m-1 3h0m-23-1h0m0 2h0m-1 0h0m-1 2h0m-2 0h0m-4-4h0m-1 3h0m-1-3h0m-7 10h0m3 0h0m1 0h0m0-1h0m1 1h0m1-2h0m2 0h0m4-2h0m4-1h0m1 1h0m9 0h0m3 0h0m-22 5h0m-2 4h0m-2-1h0m0-1h0m-20 28h0m0 3h0m1-3h0m11 11h0m-1-2h0m-1 1h0m-1-1h0m0-2h0m-1 2h0m0-3h0m-1 2h0m0-1h0m-1-1h0m0 2h0m0 1h0m-1-1h0m0 2h0m-1 1h0m-1-1h0m0-3h0m-10 10h0m9-3h0m1-2h0m1 1h0m1 1h0m0 3h0m1 0h0m1-5h0m0 2h0m1 1h0m1 1h0m2-2h0m0 1h0m1-3h0m0 3h0m1-3h0m1 2h0m0 3h0m2-5h0m1 3h0m2 4h0m-8 0h0m-1 2h0m0-1h0m-4 0h0m-5 1h0m0 1h0m0 1h0m-1-1h0m-1 1h0m0-1h0m-1 1h0m-1-2h0m-2-2h0m-1 3h0m-1-3h0m0-1h0m-1 3h0m0 2h0m-1-4h0m-1 2h0m-1 2h0m-17 4h0m3-1h0m1 2h0m1 0h0m2 1h0m0-1h0m1 0h0m0-1h0m1 1h0m0 1h0m1 0h0m1-5h0m1 4h0m1-3h0m1 0h0m0 4h0m1-2h0m0 2h0m0-5h0m1 1h0m0 3h0m1 1h0m1-3h0m1-1h0m1 1h0m0 1h0m1-2h0m0 2h0m0 2h0m0-1h0m1 0h0m0-3h0m0-1h0m0 3h0m2 1h0m1-2h0m0 1h0m0 1h0m1 1h0m0-2h0m0-2h0m1-1h0m0 3h0m1-2h0m1 0h0m1 2h0m0-1h0m0 2h0m3-4h0m1 1h0m2-1h0m8 1h0m-12 8h0m-6-3h0m-1 1h0m-1-1h0m-1 2h0m0 1h0m-1-3h0m-1 3h0m0-2h0m0 4h0m-1-1h0m0-1h0m0-2h0m-1 4h0m0-4h0m0 2h0m-1 1h0m0-3h0m0 2h0m-1 1h0m-1-1h0m0 1h0m0-3h0m0-1h0m-1 5h0m0-5h0m0 4h0m-1-4h0m0 3h0m0 1h0m-2-2h0m0-1h0m0 4h0m0-1h0m-1-2h0m0 1h0m-1-1h0m0-2h0m-1 2h0m0 3h0m0-1h0m0-4h0m-1 4h0m-1 0h0m0-3h0m-1 2h0m0-1h0m-1 1h0m0-3h0m-1 5h0m-3 0h0m-2 0h0m0-1h0m-2-3h0m0 3h0m-1 0h0m-1 0h0m-1-1h0m-4 6h0m1-2h0m0-1h0m1 4h0m0 1h0m0-5h0m0 1h0m2 1h0m0-2h0m0 4h0m0 1h0m1-5h0m0 3h0m0-1h0m0 2h0m1 0h0m1 1h0m1-3h0m0 2h0m1-2h0m0 3h0m0-4h0m1 3h0m0 1h0m2-5h0m0 1h0m0 2h0m0 2h0m0-3h0m1-2h0m0 1h0m1 0h0m0 3h0m0-2h0m1 1h0m0-1h0m1-2h0m1 5h0m0-1h0m1-1h0m0-1h0m0-2h0m1 2h0m0-2h0m1 2h0m1-2h0m1 5h0m0-5h0m1 1h0m0 4h0m0-5h0m1 0h0m1 1h0m0 1h0m0 2h0m1 0h0m0-1h0m0-1h0m0 3h0m0-4h0m0-1h0m1 2h0m1 1h0m0-1h0m1 1h0m1 1h0m0-2h0m0 3h0m1-2h0m0-1h0m0-2h0m0 5h0m0-1h0m1-3h0m0 1h0m0-2h0m1 3h0m0-1h0m0 2h0m3 0h0m-2 2h0m-1 4h0m-1-3h0m0 1h0m0 2h0m-1-1h0m-1 2h0m0-2h0m-2-2h0m-1 2h0m0-3h0m-1 1h0m0-1h0m-1 5h0m-1-2h0m0-1h0m-1 3h0m0-4h0m-1 1h0m0-2h0m0 3h0m-2 0h0m0 2h0m-1 0h0m0-1h0m-1-1h0m0 1h0m-2 1h0m-1-2h0m-1-3h0m-1 2h0m0-1h0m0 4h0m-1-4h0m-2-1h0m0 3h0m0 1h0m-1-3h0m0 2h0m-1 0h0m-1 0h0m0-3h0m0 1h0m-1 0h0m-1-1h0m-1 0h0m0 1h0m0 2h0m-1 1h0m-1 1h0m0-4h0m-1-1h0m0 2h0m0 2h0m-1 0h0m-1-4h0m0 2h0m-1 3h0m0-3h0m0 1h0m0-3h0m-1 1h0m0 4h0m0-3h0m0 1h0m-1-3h0m0 5h0m0-1h0m-1 1h0m-2-1h0m-7 7h0m2-2h0m0 1h0m1 1h0m1-2h0m0 2h0m0-3h0m2 1h0m1 0h0m1 1h0m0-4h0m0 1h0m1-1h0m0 4h0m1-2h0m1 2h0m0-4h0m0 3h0m1-3h0m0 1h0m1 3h0m0-2h0m0 1h0m1 1h0m0-3h0m0 1h0m1-2h0m1 3h0m1 2h0m3-1h0m0-2h0m1-1h0m6 4h0m0-3h0m1 0h0m0 2h0m1 0h0m1-4h0m0 2h0m0-1h0m1 2h0m0 2h0m1-1h0m1-2h0m0-1h0m0 4h0m1-1h0m1-3h0m0 3h0m0-2h0m0-2h0m1 4h0m0-4h0m1 2h0m1-2h0m0 2h0m0 2h0m0 1h0m1-5h0m0 5h0m1-1h0m0-1h0m0-3h0m0 1h0m0 4h0m1-1h0m0 1h0m1-5h0m0 1h0m1 1h0m1 4h0m-2 1h0m-1 4h0m0-2h0m0-3h0m-1 3h0m-1 1h0m0 1h0m0-4h0m0 1h0m-1-2h0m0 3h0m0 1h0m-1-2h0m-1 1h0m0-3h0m0 2h0m-1 3h0m0-3h0m0-2h0m0 3h0m-1 0h0m0-2h0m0-1h0m-1 5h0m0-1h0m0-4h0m-1 0h0m-1 1h0m0 3h0m-1 0h0m-1 1h0m-1-1h0m0-2h0m0-2h0m-1 2h0m-2 3h0m0-5h0m-1 1h0m-1 2h0m-1 0h0m-8 2h0m-1-1h0m-1-1h0m-1 0h0m0-1h0m-2 2h0m0-4h0m0 5h0m0-3h0m-1-1h0m0 3h0m0-4h0m-1 3h0m0-2h0m-1-1h0m0 5h0m0-3h0m-1-2h0m0 2h0m-1 2h0m-1 0h0m0-3h0m-1 1h0m0 2h0m0-1h0m0-2h0m0 4h0m-2-2h0m0-3h0m-1 3h0m0-3h0m0 1h0m-1 3h0m0 1h0m-1 0h0m0-4h0m0 3h0m0-1h0m0-3h0m-2 4h0m-1 5h0m1-1h0m0 1h0m1-1h0m2 1h0m1 0h0m1-1h0m1 2h0m0-1h0m0 2h0m1-5h0m0 4h0m1-3h0m0 2h0m1-2h0m0-1h0m1 3h0m0-2h0m1 0h0m0 3h0m1 0h0m0-1h0m0-3h0m1 3h0m0-2h0m0 4h0m1-4h0m0 4h0m1-3h0m0-2h0m0 4h0m1-1h0m0 1h0m1 1h0m0-5h0m1 2h0m1 0h0m4 2h0m1 1h0m0-2h0m3-2h0m0 1h0m0 2h0m1 0h0m1 1h0m1-5h0m0 4h0m1-2h0m0 2h0m1-1h0m0-3h0m1 3h0m0 1h0m0 1h0m2-2h0m0 2h0m1-1h0m1-2h0m1-1h0m0-1h0m1 0h0m2 0h0m2 0h0m1 1h0m-9 5h0m-2 2h0m0-1h0m-2 0h0m0 1h0m-1-2h0m0 3h0m-1-1h0m0-2h0m0 4h0m-1-4h0m0 5h0m0-3h0m-1 2h0m0-4h0m0 1h0m-1 0h0m0 1h0m-1 0h0m0 3h0m-1-2h0m-1 1h0m0-4h0m-1 2h0m-1-1h0m0 3h0m-1-3h0m-2 3h0m0-2h0m-1 1h0m0-2h0m-1-1h0m0 1h0m-1 2h0m0-3h0m-1 1h0m0 2h0m0 1h0m0-2h0m-1-1h0m0 2h0m-1-1h0m-1 1h0m0-2h0m0 1h0m-1 1h0m0 2h0m-1 0h0m0-1h0m-1 0h0m0-3h0m0 2h0m-1 1h0m-1-4h0m0 1h0m0 3h0m-1 1h0m-1-5h0m0 1h0m-1 0h0m0 1h0m-1-2h0m-1 4h0m-1-1h0m0 1h0m-1-1h0m-1-3h0m0 2h0m-2 2h0m-3 0h0m0-1h0m-1 2h0m0-2h0m-1 2h0m-1 1h0m2 2h0m1 1h0m0-2h0m1 1h0m0 3h0m1-4h0m0 2h0m0-1h0m1 3h0m0-1h0m1 0h0m0 1h0m0-3h0m1 1h0m0-1h0m1-1h0m0 4h0m0-2h0m0-1h0m1 0h0m1-2h0m0 1h0m1 0h0m0-1h0m2 5h0m0-4h0m1 2h0m0 1h0m0 1h0m0-3h0m0-2h0m1 3h0m0 2h0m0-5h0m0 2h0m0 2h0m1-4h0m0 2h0m1-1h0m0 1h0m0 1h0m1 1h0m1-1h0m0-2h0m0 4h0m1-4h0m1-1h0m2 0h0m0 4h0m1 1h0m0-2h0m0-2h0m0-1h0m1 2h0m0-2h0m1 5h0m0-3h0m1-2h0m0 3h0m0 2h0m1-1h0m0-3h0m0 1h0m1-1h0m1-1h0m0 4h0m1 1h0m0-5h0m1 0h0m2 2h0m0-2h0m1 0h0m0 2h0m1-1h0m1-1h0m1 1h0m1-1h0m-13 8h0m-5 0h0m-7 0h0m-2-2h0m0 4h0m-2-4h0m-1 0h0m-2 4h0m-1 0h0m0 1h0m-2-4h0m-2 0h0m0 4h0m-1-4h0m8 6h0m1 1h0m0-1h0m-8 7h0" stroke="#00ff00" stroke-width="1.7" stroke-linecap="square"/>
<path d="M560 1403h0m0-2h0m-4 2h0m-9 4h0m1 2h0m3 0h0m1-5h0m1 3h0m1 1h0m1 0h0m1 0h0m0-1h0m0 2h0m1 0h0m0-5h0m1 4h0m1 0h0m1-4h0m0 3h0m1-2h0m1 4h0m0-4h0m1 0h0m0-1h0m1 5h0m0-1h0m0-2h0m1 1h0m0 1h0m1-1h0m0-1h0m1 2h0m0-2h0m0 1h0m3 4h0m-2-1h0m-1 4h0m0-4h0m-1 0h0m-1 4h0m0 1h0m-1-2h0m0-2h0m-1-1h0m0 4h0m-1-4h0m0 1h0m-2 0h0m0 3h0m0-4h0m0 2h0m-1 1h0m0-3h0m-1 1h0m0 4h0m-1-4h0m0 1h0m0 2h0m-2 0h0m0-1h0m0 2h0m-1-5h0m0 3h0m-1-2h0m-1-1h0m0 4h0m-1-2h0m0 3h0m0-1h0m-1-2h0m0 3h0m-1 0h0m0-1h0m-1-3h0m-2 1h0m0-2h0m0 5h0m-1-1h0m-1-3h0m0 4h0m-3 5h0m2-1h0m0 2h0m1-2h0m0 2h0m1-1h0m0-2h0m0-1h0m0 4h0m1-4h0m0 1h0m1 3h0m0-4h0m0 1h0m1-1h0m0 3h0m1-3h0m0-1h0m0 5h0m1-3h0m0 1h0m1 2h0m0-5h0m0 3h0m3 1h0m0-4h0m0 3h0m1-3h0m0 5h0m0-3h0m1 2h0m2-1h0m0-2h0m1 2h0m0 1h0m1-3h0m0 3h0m1-3h0m0 4h0m1-5h0m1 1h0m4 2h0m0 8h0m-2-4h0m-1 3h0m-1 0h0m-1-1h0m-1-2h0m0 1h0m-1 0h0m0-2h0m-1 1h0m-1 2h0m0-3h0m0 1h0m0 1h0m-1 1h0m0 2h0m-1-1h0m0-4h0m0 5h0m0-2h0m-1 1h0m0-1h0m-1 1h0m0-1h0m-1 1h0m0-2h0m0 1h0m-2-2h0m-1 1h0m0 1h0m-1-1h0m0-1h0m0-1h0m-1 4h0m-2-2h0m-1 0h0m0 2h0m0-4h0m-2 3h0m-1-2h0m-1 0h0m0 1h0m0 2h0m0-4h0m-1 0h0m0 1h0m0 4h0m-1-5h0m0 1h0m-1 2h0m-1-1h0m-1 2h0m0-4h0m-1 4h0m0-1h0m0-2h0m1 10h0m2-3h0m2-1h0m0 1h0m0-2h0m1 4h0m0-2h0m1-1h0m0 3h0m0-4h0m0 5h0m1-1h0m0 1h0m1-1h0m0-3h0m1 2h0m0-3h0m0 2h0m0 3h0m0-4h0m1 0h0m1-1h0m0 5h0m0-2h0m1-1h0m1 1h0m0 1h0m1 0h0m0-2h0m0-1h0m1 2h0m0-3h0m2 2h0m0-1h0m0 3h0m3-3h0m0 1h0m2-1h0m0 1h0m0-2h0m-6 10h0m-1-2h0m-3-2h0m0 5h0m0-1h0m-1-1h0m0 2h0m-1-2h0m0 1h0m0 1h0m-1-2h0m0-1h0m0 3h0m-1 0h0m0-1h0m0-4h0m0 2h0m-1 1h0m0-2h0m0 3h0m-1-3h0m-1 4h0m-2 0h0m-1-5h0m-1 4h0m-1-3h0m0 3h0m0-1h0m0-3h0m0 5h0m-1-5h0m0 5h0m-1-4h0m-1 0h0m-1-1h0m10 7h0m2-1h0m3 2h0m0-1h0" stroke="#ffff00" stroke-width="1.7" stroke-linecap="square"/>
<path d="M564 1412h0m-1-1h0m-1 1h0m-3 0h0m-1 0h0m-1 1h0m-1 1h0m-12 6h0m2-1h0m1 1h0m1 1h0m1-2h0m2 1h0m1-3h0m0 4h0m0-3h0m1-2h0m0 2h0m1 3h0m1-4h0m1-1h0m0 1h0m1 2h0m1-3h0m0 2h0m0 3h0m3-5h0m0 3h0m-9 5h0m0-1h0m-1-1h0m0 4h0m-1-3h0m-1 4h0m0-2h0m0 1h0m-1-1h0m0 2h0m0-3h0m0-2h0m0 1h0m-1 3h0m0-4h0m0 1h0m0 2h0m0-1h0m-1 3h0m0-4h0m0 3h0m0-4h0m-1 5h0m-1-2h0m0-2h0m0-1h0m0 2h0m0 2h0m-1-3h0m0 3h0m0-2h0m-2 3h0m-3-4h0m6 5h0m2 2h0m1 0h0m1-2h0m1 1h0m0-1h0m3 2h0" stroke="#ff0000" stroke-width="1.7" stroke-linecap="square"/>
<path d="M571 1491h1M588 1491h1M588 1491h1M575 1491h1M564 1491h1M564 1491h1M539 1491h1M552 1491h1M533 1491h1M567 1491h1M545 1491h1M559 1491h1M565 1491h1M588 1491h1M553 1491h1" stroke="#1a3cff" stroke-width="1.6"/>
<rect x="468.5" y="1172.4" width="321.5" height="320.1" fill="none" stroke="#111" stroke-width="1.6"/>
<line x1="598" y1="1172.4" x2="598" y2="1492.5" stroke="#000" stroke-width="2.8"/>
<line x1="468.5" y1="1359.9" x2="790" y2="1359.9" stroke="#000" stroke-width="2.8"/>
<path d="M457.5 1491.5H468.5M463.5 1472.3H468.5M463.5 1461.1H468.5M463.5 1453.1H468.5M463.5 1446.9H468.5M463.5 1441.9H468.5M463.5 1437.6H468.5M463.5 1433.9H468.5M463.5 1430.6H468.5M457.5 1427.7H468.5M463.5 1408.5H468.5M463.5 1397.3H468.5M463.5 1389.3H468.5M463.5 1383.1H468.5M463.5 1378.1H468.5M463.5 1373.8H468.5M463.5 1370.1H468.5M463.5 1366.8H468.5M457.5 1363.9H468.5M463.5 1344.7H468.5M463.5 1333.5H468.5M463.5 1325.5H468.5M463.5 1319.3H468.5M463.5 1314.3H468.5M463.5 1310H468.5M463.5 1306.3H468.5M463.5 1303H468.5M457.5 1300.7H468.5M463.5 1281.5H468.5M463.5 1270.3H468.5M463.5 1262.3H468.5M463.5 1256.1H468.5M463.5 1251.1H468.5M463.5 1246.8H468.5M463.5 1243.1H468.5M463.5 1239.8H468.5M457.5 1236.3H468.5M463.5 1217.1H468.5M463.5 1205.9H468.5M463.5 1197.9H468.5M463.5 1191.7H468.5M463.5 1186.7H468.5M463.5 1182.4H468.5M463.5 1178.7H468.5M463.5 1175.4H468.5" stroke="#111" stroke-width="1.4"/>
<rect x="457.5" y="1490.5" width="11" height="2.2" fill="#111"/>
<rect x="457.5" y="1426.7" width="11" height="2.2" fill="#111"/>
<rect x="457.5" y="1362.9" width="11" height="2.2" fill="#111"/>
<rect x="457.5" y="1299.7" width="11" height="2.2" fill="#111"/>
<rect x="457.5" y="1235.3" width="11" height="2.2" fill="#111"/>
<path d="M502.9 1492.5V1501.5M524.5 1492.5V1497.5M537.1 1492.5V1497.5M546.1 1492.5V1497.5M553 1492.5V1497.5M558.7 1492.5V1497.5M563.5 1492.5V1497.5M567.7 1492.5V1497.5M571.3 1492.5V1497.5M474.4 1492.5V1497.5M481.3 1492.5V1497.5M487 1492.5V1497.5M491.8 1492.5V1497.5M496 1492.5V1497.5M499.6 1492.5V1497.5M574.6 1492.5V1501.5M596.2 1492.5V1497.5M608.8 1492.5V1497.5M617.8 1492.5V1497.5M624.7 1492.5V1497.5M630.4 1492.5V1497.5M635.2 1492.5V1497.5M639.4 1492.5V1497.5M643 1492.5V1497.5M645.2 1492.5V1501.5M666.8 1492.5V1497.5M679.4 1492.5V1497.5M688.4 1492.5V1497.5M695.3 1492.5V1497.5M701 1492.5V1497.5M705.8 1492.5V1497.5M710 1492.5V1497.5M713.6 1492.5V1497.5M715 1492.5V1501.5M736.6 1492.5V1497.5M749.2 1492.5V1497.5M758.2 1492.5V1497.5M765.1 1492.5V1497.5M770.8 1492.5V1497.5M775.6 1492.5V1497.5M779.8 1492.5V1497.5M783.4 1492.5V1497.5M786.6 1492.5V1501.5" stroke="#111" stroke-width="1.4"/>
<rect x="501.7" y="1492.5" width="2.4" height="9" fill="#111"/>
<rect x="573.4" y="1492.5" width="2.4" height="9" fill="#111"/>
<rect x="644" y="1492.5" width="2.4" height="9" fill="#111"/>
<rect x="713.8" y="1492.5" width="2.4" height="9" fill="#111"/>
<rect x="785.4" y="1492.5" width="2.4" height="9" fill="#111"/>
<text class="a" x="438.9" y="1499.2" font-size="13" text-anchor="middle">10</text>
<text class="a" x="446.6" y="1489.8" font-size="13">2</text>
<text class="a" x="438.9" y="1435.4" font-size="13" text-anchor="middle">10</text>
<text class="a" x="446.6" y="1426" font-size="13">3</text>
<text class="a" x="438.9" y="1371.6" font-size="13" text-anchor="middle">10</text>
<text class="a" x="446.6" y="1362.2" font-size="13">4</text>
<text class="a" x="438.9" y="1308.4" font-size="13" text-anchor="middle">10</text>
<text class="a" x="446.6" y="1299" font-size="13">5</text>
<text class="a" x="438.9" y="1244" font-size="13" text-anchor="middle">10</text>
<text class="a" x="446.6" y="1234.6" font-size="13">6</text>
<text class="a" x="504.9" y="1529" font-size="13" text-anchor="middle">10</text>
<text class="a" x="512.6" y="1519.6" font-size="13">3</text>
<text class="a" x="576.6" y="1529" font-size="13" text-anchor="middle">10</text>
<text class="a" x="584.3" y="1519.6" font-size="13">4</text>
<text class="a" x="647.2" y="1529" font-size="13" text-anchor="middle">10</text>
<text class="a" x="654.9" y="1519.6" font-size="13">5</text>
<text class="a" x="717" y="1529" font-size="13" text-anchor="middle">10</text>
<text class="a" x="724.7" y="1519.6" font-size="13">6</text>
<text class="a" x="788.6" y="1529" font-size="13" text-anchor="middle">10</text>
<text class="a" x="796.3" y="1519.6" font-size="13">7</text>
<text class="a" x="475.1" y="1199.2" font-size="15.5">Q1</text>
<text class="a" x="475.1" y="1222.7" font-size="15.5">5.39</text>
<text class="a" x="762" y="1199.2" font-size="15.5" text-anchor="end">Q2</text>
<text class="a" x="762" y="1222.7" font-size="15.5" text-anchor="end">12.7</text>
<text class="a" x="762" y="1449.7" font-size="15.5" text-anchor="end">Q3</text>
<text class="a" x="762" y="1471.2" font-size="15.5" text-anchor="end">2.67</text>
<text class="a" x="475.1" y="1449.7" font-size="15.5">Q4</text>
<text class="a" x="475.1" y="1471.2" font-size="15.5">79.3</text>
<text class="a" x="438" y="1195.4" font-size="13" text-anchor="middle">10</text>
<text class="a" x="446" y="1186" font-size="13">7</text>
<text class="s" x="426" y="1347.6" font-size="27.5" text-anchor="middle" transform="rotate(-90 426 1347.6)">PE-A</text>
<text class="s" x="599.2" y="1572" font-size="27.5" text-anchor="middle">Annexin V FITC-A</text>
<text class="s" x="220.5" y="1649" font-size="33.5" text-anchor="middle" textLength="97" lengthAdjust="spacingAndGlyphs">siESR1</text>
<path d="M105 1937h0m12 6h0m-3-1h0m-4-3h0m-3 1h0m-23 1h0m-7 6h0m14-2h0m11 4h0m2 0h0m2 0h0m5-3h0m3 0h0m4 8h0m-8-2h0m-2 1h0m-1-3h0m0 2h0m-4 3h0m-2-4h0m-5-1h0m-4 4h0m11 3h0m2 3h0m6 0h0m5-4h0m-4 8h0m-4 0h0m-5-1h0m-2-1h0m0 4h0m0 1h0m-10-4h0m5 9h0m6-2h0m-4 4h0m6 7h0" stroke="#dfe4fa" stroke-width="1.7" stroke-linecap="square"/>
<path d="M114 1934h0m0 1h0m4 1h0m0 7h0m-3-5h0m-1 1h0m-4 4h0m-2-3h0m0 3h0m-3-1h0m-3-4h0m-3 2h0m-1 1h0m-4-3h0m-2 9h0m3-1h0m1-2h0m5 4h0m9 1h0m6-4h0m1 6h0m0 1h0m-2-2h0m-1 3h0m0 1h0m-2-1h0m-7 1h0m-4-2h0m-12-2h0m-1 4h0m3 4h0m19 3h0m2 1h0m0 4h0m-10-1h0m-3-1h0m2 4h0m8 1h0m6 2h0m1 0h0m-9 8h0m-5-3h0m-5-2h0m-1 8h0" stroke="#c9d3f6" stroke-width="1.7" stroke-linecap="square"/>
<path d="M91 1936h0m22 1h0m-4 5h0m-1-4h0m-2 4h0m-3-4h0m-12 11h0m9-3h0m2 1h0m1-2h0m8 3h0m1-1h0m2 1h0m1 1h0m0-1h0m2 1h0m1 1h0m-3 2h0m-5-1h0m-3 0h0m-4 2h0m-8-2h0m2 10h0m10-4h0m2 3h0m1-1h0m7 2h0m1-2h0m0-2h0m-1 9h0m-1 0h0m-6 0h0m-1-3h0m-11 0h0m2 7h0m7 2h0m0-3h0m1 1h0m2 0h0m5 5h0m-3 2h0m-5-2h0m-1 1h0m11 4h0" stroke="#cfeef2" stroke-width="1.7" stroke-linecap="square"/>
<path d="M95 1936h0m12 0h0m5 0h0m1 0h0m-4 7h0m-1-4h0m-2 1h0m-1-2h0m-11 1h0m2 10h0m9-1h0m2 0h0m0-1h0m1 0h0m5-1h0m0-2h0m1 5h0m1-5h0m2 1h0m0 2h0m0 7h0m-1-1h0m-2 2h0m0-5h0m-3 4h0m-1 1h0m-2-3h0m-4 1h0m-12-2h0m-2 4h0m-3-4h0m-2 2h0m16 6h0m5-2h0m3 4h0m3-1h0m0 1h0m6-5h0m0 2h0m-5 6h0m-2 1h0m-3 2h0m-3-5h0m0 4h0m-3-4h0m0 1h0m-2 3h0m-3-3h0m3 12h0m-12 6h0m20-1h0" stroke="#e8f3f0" stroke-width="1.7" stroke-linecap="square"/>
<path d="M103 1934h0m12 0h0m2 7h0m-4-2h0m-1-1h0m-2 2h0m-1-2h0m-1 4h0m-7-3h0m-4 2h0m-1 0h0m-7 7h0m1-4h0m14 3h0m4 2h0m1-1h0m0 1h0m1-3h0m2 2h0m0-2h0m0-1h0m1 4h0m0-1h0m2-3h0m1-1h0m0 4h0m2 1h0m-2 3h0m-1 1h0m0 2h0m-2-5h0m-2 5h0m-4 0h0m-3-3h0m-1-2h0m-3 1h0m-14 6h0m12 0h0m0 1h0m2-2h0m12 1h0m1 2h0m1-1h0m2 1h0m1-3h0m0 4h0m1 2h0m-7 1h0m-5 1h0m-1 0h0m-9-2h0m21 13h0m-7-1h0m-14 3h0" stroke="#d8dcf6" stroke-width="1.7" stroke-linecap="square"/>
<path d="M296 1786h0m-5 1h0m-7-3h0m-4-2h0m-49 5h0m-3-2h0m-17 8h0m11 0h0m25-4h0m2 3h0m1-1h0m4-3h0m8 5h0m0-3h0m1 3h0m1-1h0m5-1h0m5-2h0m3 1h0m1-1h0m8-1h0m29 1h0m-11 10h0m-10-3h0m-1 3h0m-2-2h0m-2-1h0m-1 3h0m-1-1h0m-1-4h0m-6 5h0m-3-4h0m0 2h0m-12-2h0m-1 4h0m-2-1h0m-2-2h0m-1 1h0m-1 2h0m-1-3h0m-4 0h0m-3 2h0m-1 0h0m0-4h0m-6 2h0m0 3h0m-2 0h0m-4-1h0m-4-2h0m-5-1h0m-1 2h0m-3-3h0m-6 10h0m9-1h0m2 1h0m1-1h0m5-2h0m1 4h0m1-4h0m0 3h0m3-4h0m1 1h0m1 3h0m0-1h0m4-3h0m0 1h0m6 1h0m0 1h0m0 1h0m1-4h0m3 2h0m1 2h0m1 0h0m5 0h0m2-1h0m3 2h0m5-5h0m0 1h0m1 1h0m1-1h0m1 3h0m1-1h0m0 1h0m4 0h0m1-1h0m1 1h0m2-1h0m3 2h0m1 0h0m4-2h0m5-2h0m9-1h0m2 7h0m-11-1h0m-4 1h0m-4 1h0m-3 3h0m-9-2h0m-4-1h0m-1 2h0m-1-1h0m-2 0h0m-2-3h0m-3 3h0m-1-3h0m-1 4h0m-1 0h0m0-3h0m-2 4h0m0-1h0m-1-2h0m-1 3h0m0-5h0m0 1h0m0 3h0m-5-2h0m-1 2h0m0-3h0m-4 1h0m-1-2h0m-1 5h0m-1-3h0m0 3h0m-4-5h0m-1 3h0m-1-3h0m0 5h0m-2 0h0m-1 0h0m0-4h0m0 1h0m-4 1h0m-3-2h0m-1-1h0m-1 4h0m-1 1h0m-2-4h0m0 2h0m-2 1h0m-5-1h0m-2 1h0m-18 4h0m0-2h0m4 5h0m3 0h0m2 0h0m3-5h0m5 1h0m1 4h0m2-2h0m0-3h0m2 2h0m1-2h0m1 2h0m1 1h0m1 1h0m0-1h0m1-3h0m2 1h0m1 3h0m0-1h0m5-1h0m1 0h0m2 2h0m0-3h0m2-1h0m2 4h0m0-2h0m2 2h0m2-2h0m2 1h0m1-3h0m1 5h0m0-5h0m3 0h0m0 5h0m1-3h0m0 1h0m1-2h0m0 2h0m5-2h0m0 4h0m1-1h0m0-3h0m1 4h0m1-4h0m2 3h0m1-3h0m1 2h0m5-3h0m7 0h0m2 5h0m1-2h0m20 7h0m-13-3h0m-10 0h0m-2 4h0m-3-2h0m-2 1h0m-2-3h0m-3 1h0m-2-1h0m0 1h0m-1 1h0m-1-3h0m0 1h0m-1 0h0m-3 1h0m-1 3h0m-5-3h0m-2-2h0m0 2h0m-4 1h0m0-1h0m-1 2h0m0-3h0m-2-1h0m-1 2h0m-1 2h0m-1 0h0m-2-1h0m-2 0h0m-5-3h0m0 2h0m-1 1h0m-1 2h0m0-5h0m-4 2h0m0 2h0m-1-2h0m-1 3h0m0-5h0m-10 5h0m-3-2h0m-4-2h0m-3 2h0m-10-1h0m-5 9h0m11-4h0m2-1h0m2 3h0m11 1h0m2-1h0m1 0h0m1-3h0m2 0h0m7 1h0m0 1h0m2-2h0m1 4h0m5-4h0m1 0h0m2 0h0m2 0h0m1 1h0m1 4h0m1-2h0m1 0h0m1-3h0m3 4h0m1 1h0m0-5h0m4 1h0m2-1h0m0 2h0m3 1h0m2 0h0m3-1h0m24 0h0m-5 8h0m-11-4h0m-10 2h0m-1 3h0m-5 0h0m-1 0h0m-1-5h0m-1 2h0m-6 0h0m-4-1h0m-3 4h0m-1-4h0m-1-1h0m0 4h0m-1-4h0m-8 0h0m-23 0h0m-3 4h0m-5-3h0m-3 0h0m-6 0h0m26 7h0m1-1h0m13-1h0m0 1h0m2 2h0m4-3h0m3 3h0m13 1h0m4-4h0m9 0h0m-35 11h0m-9-5h0m-13 5h0m-23 3h0m31 3h0m8-2h0m13-3h0m-16 9h0m-8 2h0m-11-4h0m-32 9h0m28-2h0m4 2h0m1-2h0m0 1h0m1 2h0m0-3h0m4 2h0m0-3h0m3 2h0m1 2h0m2-4h0m0 4h0m2-3h0m3-2h0m47 11h0m-33-2h0m-5 2h0m-5-1h0m-4 0h0m-1 0h0m-4-2h0m0 2h0m-1 1h0m-3 0h0m-3-1h0m-3 0h0m0 1h0m-1-5h0m0 1h0m-2 3h0m-1 0h0m-1 0h0m-1 0h0m-3-3h0m-3 4h0m0-5h0m-1 4h0m-1 1h0m-1-1h0m-4-3h0m-2 0h0m-9 2h0m-29-2h0m28 10h0m4-5h0m1 0h0m3 4h0m3-2h0m0 2h0m4-2h0m0-2h0m1 1h0m2 3h0m0-2h0m1-1h0m0 4h0m0-2h0m2 0h0m2 1h0m1 1h0m1 0h0m1 0h0m2-2h0m2 0h0m1-2h0m0 4h0m1-3h0m3 1h0m1-2h0m3 2h0m1 0h0m1-1h0m1 0h0m4-2h0m0 1h0m2 0h0m0 2h0m1-2h0m1 0h0m3 1h0m6 0h0m26 9h0m-17-5h0m-8 4h0m-3 0h0m-4-3h0m0 1h0m-2-1h0m-1 3h0m0-4h0m-1 2h0m0 2h0m-1-3h0m-4 4h0m0-1h0m-1-1h0m0-3h0m0 2h0m-3 2h0m-1-1h0m0 1h0m-10-3h0m0-1h0m-1 5h0m-3 0h0m0-1h0m-1 1h0m-2 0h0m-1-2h0m-2 2h0m-1-4h0m-1 3h0m0-3h0m-1 0h0m-2 2h0m-2-1h0m-1 3h0m-1-5h0m-1 1h0m-2 2h0m0-3h0m-1 3h0m-1 0h0m0-3h0m-1 1h0m-1 2h0m-1 1h0m-2-3h0m-3 1h0m-1 0h0m-1-1h0m-2 4h0m-5 4h0m1 2h0m4-2h0m1-1h0m1 3h0m1-1h0m3-3h0m0 4h0m0-5h0m2 0h0m4 2h0m2-1h0m0 1h0m2-2h0m0 3h0m3 2h0m2-5h0m5 4h0m2 1h0m1-4h0m1-1h0m1 3h0m2 2h0m0-1h0m0-3h0m3 0h0m1 1h0m4 1h0m1 1h0m1-2h0m5 1h0m2 2h0m2-1h0m1-2h0m2-2h0m0 1h0m2 0h0m2-1h0m0 1h0m2 0h0m1 3h0m0-2h0m3 2h0m0 1h0m1-2h0m3 2h0m9-4h0m-11 10h0m-2-5h0m-5 0h0m-3 4h0m0-2h0m-3-1h0m-1 1h0m-3 1h0m-2 1h0m0-4h0m-1 0h0m-4 1h0m-3 3h0m-2-4h0m-5 5h0m-2-2h0m-2 2h0m-6-4h0m-19 4h0m-4-2h0m-1-1h0m-1 1h0m-1-2h0m-2 1h0m-4 2h0m-1-1h0m-2 1h0m-4 1h0m-4-2h0m-4 6h0m3 0h0m2-3h0m1 5h0m1-5h0m0 4h0m1-1h0m3-2h0m36-1h0m3 4h0m3-4h0m4 3h0m3-3h0m6 0h0m1 3h0m0-2h0m5 1h0m5-2h0m8 2h0m3-1h0m17 3h0m5-4h0m-6 11h0m-5-2h0m-1-3h0m-10 5h0m-6 0h0m-20 0h0m0-2h0m-1 2h0m-3-2h0m0 2h0m-2-1h0m-2 0h0m0-3h0m-1 0h0m-1 2h0m-1 0h0m-4 2h0m-39-4h0m-3 1h0m-1 2h0m-2-4h0m-6 4h0m-1-3h0m-2 0h0m-8 8h0m1-1h0m5-1h0m0 1h0m1 1h0m2 1h0m5-4h0m0 1h0m1 3h0m0-4h0m1 4h0m0-2h0m43 1h0m2-3h0m2 1h0m0 3h0m2 1h0m1 0h0m0-3h0m1 2h0m2 1h0m2-1h0m7-3h0m6-1h0m8 2h0m5 3h0m5-5h0m27 4h0m3-4h0m-2 11h0m-25-5h0m-37 1h0m-1-1h0m-54 3h0m-5-1h0m-1-1h0m-7 4h0m-1-4h0m-4 4h0m-2-1h0m-5 1h0m-18 2h0m9 3h0m13-2h0m2-1h0m4-1h0m3 0h0m6 1h0m0 3h0m6-4h0m37 3h0m3-2h0m4 2h0m0 2h0m1-1h0m1-4h0m6 2h0m26 3h0m25-5h0m-25 10h0m-26-2h0m-1 1h0m-1 1h0m-4-4h0m-1 2h0m-5 1h0m-52-2h0m-1 4h0m-1-4h0m-1 4h0m0-3h0m-2-2h0m-5 2h0m-1-1h0m-2 0h0m-2-1h0m-18 3h0m-4 0h0m1 4h0m27 0h0m0-1h0m5 1h0m51 0h0m2-1h0m2 2h0m1-1h0m3 4h0m3-5h0m4 5h0m1-5h0m28 1h0m30 7h0m-44-2h0m-10 3h0m-18-3h0m-1 2h0m-1 2h0m-2-4h0m-2 5h0m-3-5h0m-1 0h0m-4 1h0m-5 10h0m9-4h0m0-1h0m0 5h0m4-1h0m24-1h0m16 1h0m16 2h0m-40 0h0m-13 2h0m-11-1h0m-3 3h0m-4-1h0m-2-3h0m-1 0h0m-2 3h0m-1-1h0m-8-1h0m-3 0h0m0 3h0m-1-4h0m-5 0h0m0 6h0m2 1h0m3 3h0m0-3h0m1-1h0m2 5h0m2 0h0m3-4h0m5 3h0m0-1h0m3-1h0m2-2h0m4 0h0m62 3h0m7 0h0m21 0h0m-24 3h0m-63 2h0m-1-1h0m-15 4h0m-1-5h0m-3 1h0m-3-1h0m-4 0h0m-1 4h0m0-4h0m-3 0h0m0 5h0m-6 0h0m-1-2h0m-2 2h0m0 5h0m2-1h0m0 1h0m4 1h0m2 0h0m1-5h0m0 1h0m1 2h0m3-3h0m8 1h0m-9 7h0m0-2h0m-1 1h0m-1-1h0m-2 3h0m-2 2h0m-4-1h0m0-3h0m0 4h0m1 4h0m2-1h0" stroke="#0000ff" stroke-width="1.7" stroke-linecap="square"/>
<path d="M239 1804h0m0 1h0m23 4h0m-15-2h0m-1 3h0m-4-2h0m2 8h0m2 0h0m4 2h0m-3 0h0m-58 57h0m5 1h0m0-4h0m1 3h0m1 1h0m1-4h0m1 4h0m3-4h0m2 1h0m1 4h0m1-5h0m0 4h0m1 1h0m0-4h0m0 3h0m1-1h0m0 1h0m0 1h0m4-2h0m3 2h0m3 0h0m-2 1h0m-1 0h0m0 1h0m0 2h0m-3 1h0m-2 1h0m-1-5h0m-3 1h0m0-1h0m0 3h0m-1 0h0m-1 2h0m0-3h0m-1 0h0m0-1h0m0-1h0m-1 5h0m-2-3h0m0 3h0m-1 0h0m-1-3h0m0 1h0m-3-3h0m-1 0h0m-2 4h0m-3-3h0m0 2h0m-1 1h0m-10-1h0m-13 5h0m0 1h0m1 0h0m2 0h0m0-1h0m2 3h0m1-1h0m0-2h0m2-1h0m0 4h0m1 0h0m1-4h0m1 0h0m2 2h0m1-2h0m0 1h0m2 3h0m0-3h0m2 0h0m0 1h0m2 0h0m2 0h0m1-3h0m0 5h0m2-2h0m1-1h0m4-2h0m2 3h0m1 2h0m1-2h0m1 2h0m1-4h0m1 2h0m0 1h0m0 1h0m1 0h0m0-4h0m0-1h0m0 4h0m2-4h0m4 1h0m-6 7h0m-9-1h0m0 3h0m-1 1h0m-1-3h0m-1 0h0m0 2h0m-1 0h0m0-1h0m0 2h0m0-3h0m-1 2h0m0-2h0m-1-1h0m-1 2h0m0-1h0m0 3h0m-2-2h0m0-3h0m0 2h0m0-1h0m-1 1h0m-1-1h0m0 1h0m-1-1h0m-1 0h0m0 4h0m0-3h0m-1 3h0m0-5h0m-1 4h0m0 1h0m-1-3h0m0-1h0m0 2h0m-1 1h0m-1 1h0m0-4h0m0 2h0m-2-3h0m0 2h0m-1-2h0m0 1h0m-1-1h0m0 4h0m-1 1h0m-1 0h0m0-4h0m-2 2h0m-1-3h0m-1 2h0m0-2h0m-1 2h0m-1 0h0m-1 2h0m-1-1h0m-1-3h0m-2 2h0m0 2h0m-1 0h0m-5 1h0m-5 5h0m2 1h0m2-2h0m0 2h0m1 0h0m0-3h0m5-1h0m0-1h0m3 1h0m0 4h0m2-5h0m0 3h0m4 1h0m0-2h0m1-1h0m1 1h0m1 1h0m1-3h0m3 5h0m3-2h0m3-3h0m1 1h0m0 1h0m1 1h0m1-3h0m1 1h0m1 1h0m0 2h0m2-2h0m0-1h0m1 1h0m1 3h0m0-3h0m5 6h0m-1 0h0m-3-1h0m-2 1h0m-1 1h0m-1-3h0m0 2h0m0-1h0m-1 1h0m0-1h0m-2-1h0m-1 3h0m0 2h0m-4-3h0m-22 3h0m-1 0h0m-3-4h0m0 2h0m-1-3h0m-1 0h0m0 4h0m-1-4h0m-2 2h0m0 2h0m0-1h0m-2 1h0m-4 6h0m1 1h0m1-3h0m1-1h0m1 0h0m2-1h0m10 0h0m20 3h0m1 0h0m2 0h0m3-3h0m0 4h0m0 1h0m1-5h0m0 5h0m1-1h0m2-4h0m-2 6h0m-4 2h0m-1 3h0m0-1h0m-2 0h0m0-2h0m-2 3h0m0-3h0m-1 3h0m-1-1h0m-4 1h0m-28-5h0m-1 5h0m0-5h0m-1 2h0m0-1h0m-1 0h0m-1 4h0m-2-4h0m-3 3h0m-1 1h0m-2 4h0m1-1h0m0 3h0m1-5h0m0 3h0m1-1h0m0 2h0m2-3h0m1 0h0m0 1h0m0 3h0m4-1h0m0-1h0m1-2h0m2 1h0m1 3h0m21-2h0m2 0h0m5-3h0m1 2h0m1 3h0m0-4h0m1 0h0m1-1h0m0 5h0m1-5h0m2 0h0m0 7h0m0 3h0m-1-4h0m-2 0h0m-1 3h0m-1-3h0m0 3h0m-1 2h0m-1 0h0m-2-4h0m0-1h0m-1 5h0m-1-5h0m-1 1h0m0 3h0m0-4h0m-2 3h0m-3 1h0m-16-4h0m-6 3h0m0-2h0m0-1h0m-6 2h0m-2 1h0m-1 2h0m0-5h0m-1 4h0m0-1h0m0 2h0m-2-2h0m0-3h0m0 1h0m-2 1h0m-1 1h0m-5 7h0m0 1h0m1-1h0m1-3h0m0 3h0m2 1h0m0-2h0m1-1h0m0 1h0m1 1h0m1-3h0m0 3h0m1 1h0m0-3h0m0-1h0m4 4h0m2-1h0m22-4h0m0 4h0m1-4h0m1 5h0m1-2h0m1-3h0m1 3h0m1-3h0m1 5h0m0-4h0m2 2h0m1-2h0m1 2h0m1-2h0m0 1h0m1 3h0m3-5h0m1 2h0m2 1h0m-7 3h0m-1 3h0m-4-1h0m-1-1h0m-1 2h0m-1 0h0m-1 1h0m-1-3h0m-1 3h0m-1-2h0m-1-2h0m-2 2h0m0 3h0m-26-2h0m-4 1h0m-2 0h0m-1 1h0m3 2h0m1 0h0m0-1h0m1 2h0m0 2h0m1 0h0m0-1h0m0 2h0m2-2h0m0 1h0m2 0h0m1 1h0m1-4h0m0 4h0m1-1h0m2-3h0m0 1h0m0 3h0m0-1h0m3-1h0m0 1h0m2 1h0m2-1h0m2-4h0m1 3h0m1 1h0m0-1h0m1 2h0m1-1h0m1 1h0m1-2h0m1-2h0m0 1h0m1-2h0m1 3h0m1 0h0m0-1h0m0-1h0m1-1h0m0 4h0m0-1h0m2-3h0m0 2h0m0-1h0m1-1h0m2 0h0m1 1h0m-16 6h0m-2 0h0m0 4h0m-1-2h0m0-1h0m0-2h0m0 1h0m0 4h0m-1-5h0m-1 1h0m-1 2h0m-2 1h0m0-4h0m-2 1h0m-1 1h0m-2-1h0m-1 4h0m0-1h0m-1-3h0m-1 1h0m-1-1h0m0 4h0m0-2h0m-3 0h0m-1 0h0m0 2h0m-2-2h0m-1 5h0m1 2h0m1-3h0m1 4h0m2 0h0m1-1h0m0-4h0m0 5h0m1-4h0m2 0h0m1 2h0m0-2h0m1-1h0m1 5h0m3-2h0m0-1h0m-6 4h0m-1 2h0m-2-2h0m0 1h0m-1 0h0m-3 1h0m0-2h0m-1 2h0m-1-2h0m0 5h0m0-1h0m-1-1h0m0-3h0" stroke="#00d8ff" stroke-width="1.7" stroke-linecap="square"/>
<path d="M208 1879h0m0 1h0m-2-2h0m-1 5h0m-12 9h0m-4-2h0m-4 2h0m0 2h0m-4-1h0m-1 0h0m-3 1h0m-1-4h0m-1 4h0m-1 0h0m0-4h0m-1 4h0m-3 0h0m-1 0h0m-2-3h0m-3 0h0m-11 10h0m1-4h0m0 2h0m1 2h0m1-1h0m1-1h0m0 1h0m0-2h0m1 1h0m1-2h0m0 4h0m0-1h0m1 0h0m0-4h0m0 3h0m0-1h0m1 3h0m1 0h0m0-3h0m0-1h0m2-1h0m1 1h0m0 2h0m1 2h0m1-3h0m0 1h0m0-3h0m0 5h0m1-2h0m0 2h0m1-4h0m1 4h0m0-1h0m0-1h0m1-2h0m0 4h0m0-3h0m1 2h0m0-2h0m1-1h0m0 2h0m1-1h0m0 1h0m0 2h0m1-1h0m0-1h0m0-2h0m1-1h0m0 4h0m0-3h0m1 1h0m0 2h0m0-1h0m1 0h0m0-3h0m2 5h0m0-5h0m2 4h0m2 6h0m0-1h0m-1-1h0m-1 3h0m-1-1h0m0-3h0m-1-1h0m0 2h0m0-1h0m-1 1h0m0 1h0m-1 1h0m0-1h0m0-3h0m-1 5h0m0-5h0m0 1h0m-1 4h0m0-3h0m-1 1h0m0 1h0m0-3h0m0 1h0m-1 1h0m0 1h0m0 1h0m-1-3h0m0 1h0m0 1h0m0-3h0m-1 0h0m-1-1h0m0 4h0m-1-3h0m-1 1h0m0-2h0m-1 5h0m0-2h0m-1 0h0m0-3h0m0 5h0m-1 0h0m0-3h0m0-2h0m-1 2h0m0 2h0m-1-1h0m0-3h0m0 4h0m-1-3h0m-1-1h0m0 2h0m0 3h0m-1-3h0m0 1h0m0 2h0m-2-3h0m-2-1h0m0 1h0m-1 0h0m0 1h0m-1-2h0m-1 3h0m0-1h0m-1-1h0m0 2h0m-1-4h0m0 1h0m0 4h0m-1-3h0m0 2h0m-1-2h0m0 1h0m-10 8h0m2-1h0m1 1h0m1-2h0m0 2h0m1-5h0m0 3h0m0 2h0m1 0h0m1-2h0m0 2h0m1-5h0m0 5h0m0-1h0m1 0h0m0 1h0m0-5h0m1 2h0m0 2h0m0 1h0m0-5h0m0 3h0m1-1h0m1-1h0m0 3h0m1-2h0m1-2h0m0 4h0m0 1h0m0-2h0m1-1h0m0-2h0m0 3h0m1-2h0m0 3h0m0-2h0m1-2h0m0 4h0m1 0h0m1 1h0m0-1h0m2-3h0m1 3h0m1 1h0m0-3h0m0 2h0m1-4h0m1 4h0m0-1h0m1 1h0m0-4h0m1 3h0m1 2h0m0-4h0m1 2h0m1 1h0m0 1h0m0-4h0m1 0h0m0-1h0m0 5h0m1-5h0m0 4h0m1 1h0m2 0h0m0-5h0m0 3h0m1 1h0m0 1h0m0-3h0m1 2h0m0-2h0m1 0h0m0 1h0m0 2h0m0-5h0m2 4h0m0-3h0m0 4h0m1-5h0m3 2h0m-5 5h0m-1 1h0m-2-1h0m-1 0h0m0 2h0m0 1h0m-1-3h0m-1-1h0m-1 0h0m0 1h0m-1 2h0m0 1h0m-1-1h0m0-2h0m0 1h0m-1-2h0m0 4h0m-1-4h0m-1 3h0m0-2h0m-1 4h0m-1-3h0m0 3h0m-1-2h0m-3 0h0m0 2h0m-1-4h0m-4 4h0m-4-5h0m0 3h0m-1-3h0m0 5h0m0-3h0m-1 2h0m0-2h0m-1-2h0m-1 5h0m0-5h0m0 2h0m-1-2h0m0 5h0m-2-4h0m-1 2h0m0 2h0m-1-1h0m0-3h0m0 2h0m-1 2h0m0-5h0m0 1h0m-1 2h0m0 1h0m0 1h0m-2 0h0m0-1h0m-1 1h0m0-1h0m-1 0h0m-6 7h0m3-2h0m3 2h0m1-1h0m0-3h0m1 0h0m0-1h0m1 0h0m1 4h0m0-3h0m1 3h0m0 1h0m1-5h0m0 4h0m0-1h0m1-3h0m0 2h0m0 3h0m0-2h0m0-2h0m1 4h0m0-1h0m0-4h0m1 4h0m0 1h0m1-4h0m1-1h0m0 1h0m1-1h0m3 5h0m4-2h0m2-3h0m0 3h0m1 0h0m1-3h0m0 5h0m1 0h0m0-1h0m1 1h0m0-3h0m2 0h0m1 0h0m0 3h0m1-4h0m0 3h0m1-3h0m0 4h0m1-2h0m0 2h0m1-1h0m0-4h0m3 3h0m0 1h0m2 1h0m0-5h0m1 1h0m-3 5h0m0 1h0m0 1h0m-1-1h0m-1 2h0m0-2h0m-1 1h0m0 1h0m-1 0h0m0 1h0m-2-2h0m-1 0h0m0 3h0m-1-4h0m0-1h0m-1 0h0m0 4h0m0-1h0m-1 1h0m0-1h0m-1-3h0m0 1h0m0 1h0m-1 0h0m0 2h0m-1-4h0m0 5h0m-1-5h0m0 4h0m0-3h0m-1 0h0m0 2h0m-1 2h0m-1 0h0m-1-1h0m0-2h0m-2 1h0m-1-1h0m-2-1h0m-1-1h0m-1 0h0m0 4h0m-2-2h0m-1 1h0m0 1h0m0-2h0m0-1h0m-2 2h0m-1 1h0m0 1h0m-1-5h0m-1 4h0m0-2h0m-1-2h0m0 4h0m-1-4h0m0 4h0m0 1h0m0-3h0m0-1h0m-1 3h0m-1-3h0m0 1h0m0-2h0m-1 5h0m0-1h0m0-1h0m-1 2h0m0-1h0m0-1h0m-1-1h0m0-1h0m0 2h0m-4 1h0m-3 0h0m-4 5h0m1 0h0m0 1h0m3 1h0m0-2h0m0-3h0m1 3h0m1-3h0m0 3h0m0 1h0m1-4h0m0 5h0m0-4h0m1 1h0m0-1h0m1 4h0m1-3h0m1 0h0m0 2h0m0-4h0m1 5h0m0-4h0m1 4h0m0-1h0m0-3h0m1 0h0m0 3h0m1-4h0m1 3h0m1-2h0m0 4h0m0-5h0m0 3h0m0-1h0m1 1h0m2 0h0m1-3h0m1 5h0m3 0h0m2-4h0m1 1h0m0 3h0m1-3h0m1 3h0m0-1h0m0-3h0m1 3h0m0 1h0m1-4h0m0 4h0m1-5h0m0 1h0m2 2h0m0-1h0m1 0h0m0 1h0m0-3h0m1 0h0m0 2h0m1 2h0m0-2h0m1-2h0m1 1h0m0 2h0m0-1h0m1 1h0m1-1h0m2 2h0m1-4h0m-9 8h0m0 1h0m-2-3h0m-1 1h0m0 1h0m0 1h0m0 1h0m-1 0h0m-2-4h0m0 2h0m0 3h0m0-1h0m-1-4h0m0 5h0m-1-3h0m0-2h0m0 1h0m0 4h0m-1-5h0m0 4h0m-1 0h0m-1-4h0m0 4h0m-1 0h0m0 1h0m-1 0h0m0-4h0m-1 4h0m0-1h0m0-1h0m-1-3h0m0 3h0m-1 1h0m0-3h0m-1 1h0m0 2h0m0 1h0m0-2h0m-1-1h0m-1 0h0m0 3h0m0-2h0m-1-2h0m-1 0h0m0 4h0m0-3h0m-1 2h0m0-4h0m-1 2h0m-1 1h0m0 2h0m0-3h0m-1 3h0m0-2h0m0-2h0m0 3h0m-1-2h0m0-2h0m0 1h0m-1 4h0m0-5h0m0 4h0m-1-4h0m0 1h0m0 2h0m0 2h0m-1-1h0m0-1h0m-1 0h0m0 1h0m0-2h0m-1 2h0m0-2h0m-1-1h0m0 1h0m0 2h0m-1-2h0m-1 3h0m0-3h0m0 2h0m0-4h0m-1 2h0m0 1h0m0 2h0m-1-5h0m-1 1h0m-1 0h0m0 6h0m0 3h0m1-3h0m0 2h0m1-1h0m1 0h0m0 3h0m1-3h0m0 3h0m0-1h0m1-3h0m2 0h0m2-1h0m0 2h0m0-1h0m1 2h0m1-1h0m0-2h0m2 0h0m0 1h0m1 4h0m0-5h0m0 4h0m1-4h0m0 3h0m1-3h0m0 2h0m1-2h0m1 0h0m1 0h0m0 2h0m1 0h0m0 1h0m1-3h0m0 4h0m0-3h0m1 0h0m0 1h0m1 0h0m0-2h0m0 1h0m1 0h0m1 0h0m1 1h0m0-1h0m1 1h0m0-1h0m1 1h0m0-2h0m4 1h0m1 0h0m2 0h0m1-1h0m-17 6h0m-1 2h0m-9-2h0m-1 2h0m-1-1h0m0 1h0m0-2h0m0 4h0m-1-4h0m-2 1h0m-1 2h0m0-3h0m0 2h0m-1 2h0m0 1h0m-1-5h0m0 4h0m-1 1h0m0-2h0m2 4h0m0 4h0m0-5h0m1 3h0m0-1h0m1-1h0m1-1h0m0 1h0m1 3h0m1-3h0" stroke="#00ff00" stroke-width="1.7" stroke-linecap="square"/>
<path d="M167 1900h0m1 0h0m3 0h0m1-4h0m0 5h0m-1 3h0m0 3h0m-1 0h0m0-2h0m0-1h0m-1 1h0m-1 1h0m-1 0h0m-1-1h0m0 1h0m-1-1h0m0-3h0m-3 4h0m-1-4h0m-1 2h0m0 1h0m-1 0h0m0-2h0m0 3h0m-1-1h0m-2-3h0m0 1h0m-8 7h0m1-1h0m2 2h0m0-2h0m0 4h0m1-2h0m1 0h0m4 0h0m1-1h0m0 3h0m0-4h0m1-1h0m1 2h0m1-2h0m1 5h0m0-3h0m0-1h0m0-1h0m1 1h0m1 4h0m0-4h0m0 2h0m1 2h0m0-3h0m2 0h0m0-2h0m0 1h0m0 4h0m1-5h0m0 3h0m1 1h0m1-4h0m1 2h0m1-1h0m1 1h0m0-2h0m0 3h0m1-3h0m0 1h0m0 2h0m1-2h0m0 1h0m-6 5h0m0 2h0m-1 2h0m0-2h0m-1 2h0m-1-1h0m0-1h0m0-2h0m-1 0h0m0 3h0m0-1h0m-1-1h0m0 2h0m0-3h0m-2 4h0m0-5h0m0 3h0m0-1h0m-2 2h0m0-1h0m0-3h0m-1 4h0m0-3h0m-1 1h0m-1-2h0m0 2h0m0 2h0m-1-3h0m0 1h0m-1 0h0m0-2h0m0 3h0m0 1h0m-1 1h0m0-5h0m-1 0h0m0 2h0m0-1h0m-1 1h0m0 2h0m-1-3h0m-1 0h0m0-1h0m0 5h0m-1 0h0m0-1h0m-1 0h0m0-3h0m-1 1h0m0 1h0m-1 2h0m0-4h0m0-1h0m-1 2h0m1 7h0m0-2h0m1-1h0m0 2h0m1 3h0m0-2h0m0-1h0m2-1h0m0 2h0m1-2h0m1 3h0m0-1h0m1-2h0m2 4h0m0-2h0m0-2h0m3 0h0m1 4h0m0-4h0m2 2h0m0-2h0m1-1h0m1 3h0m0-1h0m0-2h0m0 5h0m1-4h0m0 3h0m0-4h0m2 0h0m0 2h0m1 0h0m1 0h0m-5 6h0m-1-2h0m0 1h0m-3 3h0m0-1h0m0-2h0m-1 4h0m-2-3h0m-1 1h0m0-2h0m0 3h0m-1 1h0m0-2h0m-1 2h0m0-3h0m0 1h0m0-3h0m-1 0h0m-1 5h0m0-1h0m-2 0h0m0 1h0m-1-4h0m0 1h0m0 3h0m-1-2h0m0-2h0m-1-1h0m0 3h0m-1 2h0m-2-1h0m0-3h0m0 1h0m0 3h0m-1-1h0m-1-1h0m0-2h0m0-1h0m-1 2h0m0 2h0m-2-1h0m-1 0h0m-1 0h0m0 2h0m-1-1h0m-3 1h0m-2 1h0m1 1h0m3 1h0m1 1h0m0-1h0m1 3h0m0-2h0m1-2h0m0 1h0m1 2h0m1 0h0m0 1h0m0-5h0m1 4h0m0-2h0m1 3h0m0-3h0m0 2h0m1-1h0m0 2h0m0-4h0m1-1h0m0 3h0m0-2h0m1 4h0m0-2h0m0-1h0m1 0h0m1 2h0m1-1h0m0-2h0m0 3h0m1-1h0m0 2h0m1-4h0m0 2h0m0 1h0m1-4h0m0 3h0m0 1h0m1-1h0m0-3h0m1 2h0m1-2h0m-2 7h0m-1 1h0m-1 1h0m-1 2h0m0-4h0m-1 1h0m0-2h0m0 5h0m-1-2h0m0 2h0m-1-4h0m-1 2h0m-1-3h0m-1 4h0m-1-4h0m0 3h0m0-1h0m-1-1h0m0-1h0m-1 4h0m0-3h0m-1 3h0m0-3h0m-1 2h0m0-3h0m-1 4h0m-1 1h0m0-3h0m-1-1h0m0 2h0m-3 0h0" stroke="#ffff00" stroke-width="1.7" stroke-linecap="square"/>
<path d="M160 1913h0m0-5h0m0 3h0m1 0h0m0-1h0m1 1h0m2 1h0m1-3h0m0-1h0m1 1h0m0 4h0m0-3h0m-2 9h0m0-5h0m-1 0h0m0 1h0m0 4h0m-1-1h0m-1-2h0m0-1h0m-2-1h0m-2 5h0m-1-1h0m-1 1h0m-1-3h0m0 2h0m-1 0h0m0-1h0m-2 0h0m-1 0h0m-2 0h0m0 7h0m1-1h0m0 2h0m0-3h0m1 3h0m0-1h0m0-2h0m1 1h0m0-1h0m0 3h0m0-1h0m0-4h0m1 0h0m0 1h0m1 1h0m0-2h0m0 4h0m0-1h0m1 1h0m0 1h0m0-3h0m1 0h0m0 2h0m1-4h0m0 2h0m0 2h0m0-3h0m1 3h0m0-1h0m0-2h0m1 4h0m0-3h0m0 2h0m1 0h0m0-2h0m1 2h0m0-3h0m0 2h0m1-3h0m1 1h0m-2 5h0m-3 0h0m-1 0h0m-2 0h0m0 1h0m-1 0h0m-1 0h0m-1 0h0m0 2h0m-1 1h0m0-1h0m0-1h0m-1 1h0m-2-1h0m-1 0h0m-1 2h0m-5-1h0m0 2h0m0 2h0m1-1h0m0 1h0m1 1h0m1 2h0m0-2h0m1-2h0m1 0h0m0 1h0m0 2h0m1-3h0m1 2h0m1 0h0m-3 6h0m-1-2h0" stroke="#ff0000" stroke-width="1.7" stroke-linecap="square"/>
<path d="M153 1984h1M126 1984h1M225 1984h1M170 1984h1M142 1984h1M140 1984h1M118 1984h1M181 1984h1M198 1984h1M152 1984h1M149 1984h1M114 1984h1M139 1984h1M105 1984h1M141 1984h1M112 1984h1M105 1984h1M179 1984h1M190 1984h1M129 1984h1M217 1984h1M113 1984h1M216 1984h1M206 1984h1M130 1984h1M105 1984h1M132 1984h1M129 1984h1M166 1984h1M184 1984h1M156 1984h1M178 1984h1M143 1984h1M229 1984h1M220 1984h1M192 1984h1M112 1984h1M175 1984h1M198 1984h1M159 1984h1M226 1984h1M102 1984h1M178 1984h1M104 1984h1M118 1984h1" stroke="#1a3cff" stroke-width="1.6"/>
<rect x="73.2" y="1664.6" width="321.7" height="320.4" fill="none" stroke="#111" stroke-width="1.6"/>
<line x1="202.5" y1="1664.6" x2="202.5" y2="1985" stroke="#000" stroke-width="2.8"/>
<line x1="73.2" y1="1851.6" x2="394.9" y2="1851.6" stroke="#000" stroke-width="2.8"/>
<path d="M62.2 1984.5H73.2M68.2 1965.3H73.2M68.2 1954.1H73.2M68.2 1946.1H73.2M68.2 1939.9H73.2M68.2 1934.9H73.2M68.2 1930.6H73.2M68.2 1926.9H73.2M68.2 1923.6H73.2M62.2 1920.7H73.2M68.2 1901.5H73.2M68.2 1890.3H73.2M68.2 1882.3H73.2M68.2 1876.1H73.2M68.2 1871.1H73.2M68.2 1866.8H73.2M68.2 1863.1H73.2M68.2 1859.8H73.2M62.2 1856.9H73.2M68.2 1837.7H73.2M68.2 1826.5H73.2M68.2 1818.5H73.2M68.2 1812.3H73.2M68.2 1807.3H73.2M68.2 1803H73.2M68.2 1799.3H73.2M68.2 1796H73.2M62.2 1793.7H73.2M68.2 1774.5H73.2M68.2 1763.3H73.2M68.2 1755.3H73.2M68.2 1749.1H73.2M68.2 1744.1H73.2M68.2 1739.8H73.2M68.2 1736.1H73.2M68.2 1732.8H73.2M62.2 1729.3H73.2M68.2 1710.1H73.2M68.2 1698.9H73.2M68.2 1690.9H73.2M68.2 1684.7H73.2M68.2 1679.7H73.2M68.2 1675.4H73.2M68.2 1671.7H73.2M68.2 1668.4H73.2" stroke="#111" stroke-width="1.4"/>
<rect x="62.2" y="1983.5" width="11" height="2.2" fill="#111"/>
<rect x="62.2" y="1919.7" width="11" height="2.2" fill="#111"/>
<rect x="62.2" y="1855.9" width="11" height="2.2" fill="#111"/>
<rect x="62.2" y="1792.7" width="11" height="2.2" fill="#111"/>
<rect x="62.2" y="1728.3" width="11" height="2.2" fill="#111"/>
<path d="M107.3 1985V1994M128.7 1985V1990M141.2 1985V1990M150.1 1985V1990M157 1985V1990M162.6 1985V1990M167.4 1985V1990M171.5 1985V1990M175.1 1985V1990M79 1985V1990M85.9 1985V1990M91.5 1985V1990M96.3 1985V1990M100.4 1985V1990M104 1985V1990M178.4 1985V1994M199.8 1985V1990M212.3 1985V1990M221.2 1985V1990M228.1 1985V1990M233.7 1985V1990M238.5 1985V1990M242.6 1985V1990M246.2 1985V1990M249.5 1985V1994M270.9 1985V1990M283.4 1985V1990M292.3 1985V1990M299.2 1985V1990M304.8 1985V1990M309.6 1985V1990M313.7 1985V1990M317.3 1985V1990M320.7 1985V1994M342.1 1985V1990M354.6 1985V1990M363.5 1985V1990M370.4 1985V1990M376 1985V1990M380.8 1985V1990M384.9 1985V1990M388.5 1985V1990M391.8 1985V1994" stroke="#111" stroke-width="1.4"/>
<rect x="106.1" y="1985" width="2.4" height="9" fill="#111"/>
<rect x="177.2" y="1985" width="2.4" height="9" fill="#111"/>
<rect x="248.3" y="1985" width="2.4" height="9" fill="#111"/>
<rect x="319.5" y="1985" width="2.4" height="9" fill="#111"/>
<rect x="390.6" y="1985" width="2.4" height="9" fill="#111"/>
<text class="a" x="43.5" y="1992.2" font-size="13" text-anchor="middle">10</text>
<text class="a" x="51.2" y="1982.8" font-size="13">2</text>
<text class="a" x="43.5" y="1928.4" font-size="13" text-anchor="middle">10</text>
<text class="a" x="51.2" y="1919" font-size="13">3</text>
<text class="a" x="43.5" y="1864.6" font-size="13" text-anchor="middle">10</text>
<text class="a" x="51.2" y="1855.2" font-size="13">4</text>
<text class="a" x="43.5" y="1801.4" font-size="13" text-anchor="middle">10</text>
<text class="a" x="51.2" y="1792" font-size="13">5</text>
<text class="a" x="43.5" y="1737" font-size="13" text-anchor="middle">10</text>
<text class="a" x="51.2" y="1727.6" font-size="13">6</text>
<text class="a" x="109.3" y="2021.5" font-size="13" text-anchor="middle">10</text>
<text class="a" x="117" y="2012.1" font-size="13">3</text>
<text class="a" x="180.4" y="2021.5" font-size="13" text-anchor="middle">10</text>
<text class="a" x="188.1" y="2012.1" font-size="13">4</text>
<text class="a" x="251.5" y="2021.5" font-size="13" text-anchor="middle">10</text>
<text class="a" x="259.2" y="2012.1" font-size="13">5</text>
<text class="a" x="322.7" y="2021.5" font-size="13" text-anchor="middle">10</text>
<text class="a" x="330.4" y="2012.1" font-size="13">6</text>
<text class="a" x="393.8" y="2021.5" font-size="13" text-anchor="middle">10</text>
<text class="a" x="401.5" y="2012.1" font-size="13">7</text>
<text class="a" x="79.8" y="1691.4" font-size="15.5">Q1</text>
<text class="a" x="79.8" y="1714.9" font-size="15.5">0.38</text>
<text class="a" x="366.9" y="1691.4" font-size="15.5" text-anchor="end">Q2</text>
<text class="a" x="366.9" y="1714.9" font-size="15.5" text-anchor="end">3.75</text>
<text class="a" x="366.9" y="1942.2" font-size="15.5" text-anchor="end">Q3</text>
<text class="a" x="366.9" y="1963.7" font-size="15.5" text-anchor="end">2.40</text>
<text class="a" x="79.8" y="1942.2" font-size="15.5">Q4</text>
<text class="a" x="79.8" y="1963.7" font-size="15.5">93.5</text>
<text class="a" x="42.4" y="1687.5" font-size="13" text-anchor="middle">10</text>
<text class="a" x="50.5" y="1678" font-size="13">7</text>
<text class="s" x="25.9" y="1841.8" font-size="27.5" text-anchor="middle" transform="rotate(-90 25.9 1841.8)">PE-A</text>
<text class="s" x="206" y="2065.5" font-size="27.5" text-anchor="middle">Annexin V FITC-A</text>
<text class="s" x="608.8" y="1649" font-size="34.5" text-anchor="middle" textLength="247" lengthAdjust="spacingAndGlyphs">siESR1 +  Bufalin</text>
<path d="M513 1930h0m-3-1h0m-3 2h0m-1-4h0m-5 3h0m-8-4h0m-1 4h0m-3 1h0m-1 4h0m12-2h0m1 4h0m4-5h0m7 2h0m2 0h0m-2 8h0m-3 0h0m-3-1h0m-1-2h0m-4 4h0m0-2h0m-1 1h0m-5-2h0m0-1h0m-3 9h0m1-4h0m6 4h0m1-1h0m7 1h0m1-3h0m1 1h0m0 6h0m-3 2h0m-16-3h0m14 5h0m1 0h0m7 0h0m1 0h0m-5 11h0m-2-1h0m-1 0h0m-7-2h0m0 5h0m5 0h0" stroke="#dfe4fa" stroke-width="1.7" stroke-linecap="square"/>
<path d="M505 1925h0m5 1h0m-14 5h0m4 3h0m1 0h0m1-2h0m3 1h0m7 7h0m-1-2h0m0 1h0m-1-1h0m0 4h0m-1 1h0m-1 0h0m-7-3h0m-7-1h0m-5 3h0m0 2h0m1 1h0m5-1h0m1 1h0m4-1h0m4 0h0m1 2h0m0 3h0m3-5h0m1 1h0m1 3h0m1 0h0m-7 4h0m-6 2h0m-2-4h0m-2 9h0m1-2h0m9 1h0m4 2h0m1 1h0m3-1h0m-32 5h0m26 3h0" stroke="#c9d3f6" stroke-width="1.7" stroke-linecap="square"/>
<path d="M513 1927h0m-6-1h0m-2 2h0m-2-1h0m-1 2h0m-6-2h0m-9 2h0m2 7h0m3 1h0m4-1h0m6 0h0m1-4h0m3 2h0m1-2h0m3 3h0m-3 6h0m-3-1h0m-1 1h0m-2 1h0m-2-2h0m-4 2h0m-2-4h0m-4 5h0m-5 4h0m3 0h0m6 0h0m9-2h0m8 0h0m1 0h0m2 3h0m1 7h0m-2-1h0m0-4h0m-1 0h0m-2 3h0m-1 1h0m0-1h0m-1 1h0m-12-3h0m-6 5h0m4 3h0m20-2h0m1 6h0m-3 1h0m-1 0h0m-4 1h0m-5 2h0m-1-2h0m-1-1h0m-6 0h0m-10 7h0m19-2h0m2 8h0m5 4h0" stroke="#cfeef2" stroke-width="1.7" stroke-linecap="square"/>
<path d="M513 1926h0m-5 3h0m-5-3h0m-3 3h0m-9-3h0m-3 4h0m-1 3h0m0 3h0m5-4h0m11 1h0m0 3h0m0-1h0m1-3h0m3 5h0m1-2h0m2-1h0m1-2h0m1 3h0m0-3h0m1 9h0m-1-2h0m-3 0h0m-2 1h0m-5-1h0m-3 4h0m-2-2h0m-3 2h0m-2-2h0m-2-1h0m3 9h0m6 0h0m1 0h0m2-5h0m1 2h0m1 0h0m5 2h0m0-4h0m3 5h0m0-3h0m-3 9h0m-7-4h0m-8 1h0m0 8h0m16-4h0m1 3h0m2 3h0m-3 0h0m-2 3h0m-1 1h0m-3-1h0m-5 8h0m7-4h0m2 0h0m-13 12h0m18-1h0" stroke="#e8f3f0" stroke-width="1.7" stroke-linecap="square"/>
<path d="M510 1931h0m-16 0h0m-1-3h0m-7 7h0m1-3h0m15 3h0m2 0h0m3-1h0m1-1h0m0 4h0m2 0h0m1 3h0m-1 0h0m-3-2h0m-1 0h0m0 4h0m-1-4h0m0 3h0m-3 2h0m-3-1h0m0-3h0m-3 2h0m0 6h0m1-1h0m2-1h0m4 0h0m2 2h0m1 2h0m1-2h0m6 0h0m0-2h0m-2 9h0m0-1h0m-1-3h0m-3 3h0m0-3h0m-4 1h0m-3 0h0m-7 1h0m6 7h0m4-2h0m6 3h0m2-3h0m0 6h0m-5 4h0m-14-2h0m0 8h0m9-4h0m2-1h0m2 11h0" stroke="#d8dcf6" stroke-width="1.7" stroke-linecap="square"/>
<path d="M710 1743h0m-39 14h0m5-1h0m14 4h0m-4 0h0m-4 2h0m-11 0h0m-15-1h0m-14-2h0m-4 0h0m-1 7h0m3 2h0m8-1h0m6 0h0m16 0h0m2-1h0m1 3h0m1-4h0m14-1h0m17 7h0m-2 0h0m-16 3h0m-7 0h0m-1-2h0m-2-2h0m-2 2h0m-5-2h0m-3 3h0m-3 2h0m0-1h0m-3-2h0m-2 1h0m0-3h0m-5 5h0m-1-2h0m-4 1h0m-6-2h0m-44 4h0m23 4h0m1-2h0m2-1h0m4 0h0m9-1h0m4 4h0m3-4h0m0 5h0m5-3h0m1 2h0m2 0h0m0 1h0m1-1h0m2-4h0m0 5h0m3 0h0m1-5h0m1 1h0m1 3h0m1-2h0m5 0h0m0 1h0m1-1h0m2 0h0m0 2h0m0-3h0m2-1h0m0 2h0m3 1h0m1-1h0m3-2h0m1 1h0m2 3h0m12 4h0m-4 2h0m-10-1h0m-4 2h0m0-2h0m-2-2h0m-1 3h0m-3-2h0m-3-1h0m0 2h0m0 2h0m-3-5h0m-2 4h0m-1-2h0m-4 2h0m-2-4h0m-3 1h0m-3 2h0m-1-1h0m-1-1h0m-4-1h0m0 4h0m0 1h0m-1 0h0m-3 0h0m-6 0h0m-1-1h0m-4 0h0m-1 0h0m-8-2h0m-7-1h0m-2 0h0m-9 1h0m-21 5h0m21 0h0m5 4h0m4-2h0m0-1h0m2 1h0m1-3h0m8 5h0m1-2h0m4 2h0m0-3h0m2 3h0m3 0h0m0-3h0m1-1h0m2 1h0m0 2h0m3-3h0m1-1h0m2 4h0m2-1h0m0-3h0m4 4h0m4-3h0m2 0h0m1 3h0m1-3h0m5-1h0m2 1h0m0 3h0m1-1h0m1 1h0m4-4h0m1 3h0m1 2h0m0-4h0m0 2h0m0-1h0m6-1h0m1-1h0m3 0h0m3 5h0m2-1h0m1 0h0m14 2h0m-18 5h0m-2 0h0m-4-1h0m0-1h0m-1 2h0m-3-4h0m0 3h0m0 1h0m0-3h0m-2 1h0m-4-2h0m-1 2h0m-4-3h0m-1 2h0m-6 1h0m0-3h0m-1 3h0m-7 1h0m-1-4h0m-3 2h0m-3 1h0m-3 0h0m-1 1h0m-4-2h0m0-1h0m-3 4h0m-4-5h0m-3 4h0m-4 1h0m-3-2h0m-1 1h0m0 1h0m-4 0h0m-3-4h0m-6 3h0m-4-4h0m-2 11h0m15-3h0m0 2h0m2 0h0m2 0h0m0 1h0m0-5h0m2 2h0m1 0h0m1 2h0m0 1h0m7-2h0m1-1h0m2 3h0m0-5h0m1 3h0m2-2h0m2 3h0m1-2h0m2 3h0m14-2h0m3 2h0m5-2h0m0 2h0m1-4h0m6 2h0m2 1h0m0-2h0m1-2h0m4 2h0m0-2h0m1 0h0m2 4h0m2 0h0m19 2h0m-11 0h0m-6 4h0m-7 1h0m-3-3h0m-5 3h0m-5 0h0m-3 0h0m-2-3h0m-1 1h0m0-1h0m-3 0h0m-1 1h0m-3-3h0m-5 5h0m-5-4h0m-2 0h0m-5 4h0m-5-1h0m-1-3h0m-4 4h0m-2-3h0m-2 1h0m-1-2h0m-2 2h0m-3 2h0m-1-5h0m-2 4h0m-2-4h0m-1 3h0m-2-3h0m0 3h0m-2 1h0m-1-4h0m-4 2h0m-8 2h0m-21-4h0m5 11h0m5-2h0m8 0h0m6 1h0m14-3h0m0 3h0m0 1h0m1-3h0m3 1h0m0-2h0m2 4h0m2 0h0m1-5h0m0 3h0m3 1h0m1-4h0m3 2h0m0 1h0m7 0h0m1 2h0m2-4h0m2 3h0m1-3h0m1 2h0m5 2h0m4-2h0m0-3h0m4 0h0m4 4h0m3-2h0m2-2h0m0 2h0m4 2h0m2-1h0m0-3h0m1 3h0m0-2h0m0 1h0m11-2h0m1 1h0m22-1h0m-26 10h0m-9-3h0m-5-1h0m-5 5h0m-1 0h0m-1-5h0m-1 4h0m-2-4h0m-1 0h0m0 5h0m-1 0h0m-1-5h0m-1 1h0m-4 2h0m-2-2h0m-2 2h0m-5 2h0m-3-3h0m-1-1h0m-1-1h0m-1 3h0m0-3h0m-1 4h0m-1-1h0m-3 2h0m-2-1h0m-4-4h0m-4 5h0m-1 0h0m0-3h0m0-2h0m-5 5h0m-1 0h0m-1-4h0m-2 4h0m-1-1h0m-1 1h0m-2-4h0m0 2h0m-3-1h0m-8-1h0m-3 3h0m-1 0h0m-2 1h0m-4-3h0m-7 1h0m-6-2h0m-9 10h0m11-2h0m6 0h0m3 1h0m7 0h0m1-4h0m0 5h0m1-2h0m1 2h0m3-2h0m1 2h0m1-3h0m1-2h0m4 4h0m1 0h0m0-4h0m1 3h0m0 2h0m5-3h0m1 3h0m0-3h0m4-1h0m3 3h0m1-4h0m2 1h0m3-1h0m2 2h0m0 1h0m1 1h0m0-4h0m4 2h0m1 2h0m0 1h0m1-5h0m1 5h0m2-5h0m1 2h0m2-2h0m1 1h0m4 2h0m2-1h0m1 1h0m2-3h0m1 2h0m2 2h0m0 1h0m1-4h0m2-1h0m1 0h0m0 3h0m6 1h0m2-1h0m9-2h0m-15 7h0m-8 0h0m-1 3h0m-7-4h0m-2-1h0m-6 0h0m-1 0h0m-1 4h0m-2-4h0m-2 5h0m-2-4h0m0-1h0m-4 1h0m0 2h0m-1 2h0m-2-3h0m-3 2h0m-2-1h0m-2-3h0m-1 2h0m0 3h0m-4-3h0m-2 3h0m-2-4h0m-2 2h0m-1 2h0m-1-5h0m-1 2h0m-1 1h0m-7-2h0m-1 2h0m-5-2h0m-5 2h0m-4 0h0m-2 2h0m-29-4h0m27 8h0m3 2h0m2-2h0m1 1h0m4 0h0m1-2h0m3 2h0m1-3h0m3 0h0m1 1h0m1-1h0m0 1h0m1 1h0m0 1h0m1-3h0m1 0h0m0 1h0m2 1h0m2 0h0m3 1h0m3 0h0m0 1h0m0-2h0m1 2h0m2-4h0m2-1h0m1 0h0m5 2h0m4-1h0m6-1h0m1 0h0m2 0h0m1 2h0m12-2h0m14 3h0m3 3h0m-1 1h0m-13 3h0m-6 1h0m-8 0h0m-1-5h0m-4 2h0m0 3h0m-5-1h0m-1-2h0m-2 2h0m0-2h0m-7 2h0m-1 1h0m0-4h0m-1 0h0m-1 1h0m0-1h0m-1 1h0m-1 3h0m-2-4h0m0 4h0m-4 0h0m0-5h0m-7 3h0m0-1h0m-1 1h0m-2 1h0m-1-1h0m-3 0h0m-1-2h0m-1 4h0m-1-4h0m-2 0h0m-1 3h0m-1-1h0m-7 0h0m-3 2h0m-1-2h0m0-3h0m-25 1h0m8 5h0m5 0h0m24 0h0m6 3h0m2 2h0m0-4h0m2 3h0m2-1h0m1 2h0m4-2h0m3 1h0m4 1h0m7-3h0m4 2h0m0-4h0m1 1h0m1 1h0m1 2h0m0-4h0m5 2h0m2-1h0m1 0h0m1 1h0m2 1h0m4-2h0m0 4h0m1-2h0m16-3h0m34 6h0m-44 3h0m-10-2h0m-2 2h0m-3-1h0m0-1h0m-1 1h0m0 1h0m-2-1h0m0-1h0m-1 0h0m-3 1h0m-3 3h0m-16-1h0m-11 1h0m-1-4h0m-1 2h0m-1-1h0m-6-1h0m-3 4h0m-1-3h0m-1 2h0m-14 1h0m-12 5h0m22 0h0m4-3h0m3 2h0m2 0h0m1-2h0m2 4h0m0-5h0m1 2h0m3-2h0m4 0h0m0 3h0m5-1h0m18 3h0m2 0h0m4-1h0m0 1h0m1-1h0m2-2h0m2-2h0m1 4h0m3-3h0m5 1h0m2 3h0m1-1h0m5-2h0m0-1h0m27 6h0m-20-1h0m-3 4h0m-3-2h0m-9 0h0m-3 3h0m-2-4h0m-1-1h0m-4 4h0m-2-4h0m0 4h0m-2-1h0m-1 1h0m-1-1h0m-2 1h0m0-2h0m0 3h0m-14-1h0m-2-2h0m-5-2h0m-3 4h0m-3-2h0m-1-1h0m-1 1h0m-3 1h0m-2-2h0m-4 1h0m-2-2h0m-2 4h0m-61 5h0m47 1h0m1-1h0m3-1h0m8 2h0m4-3h0m1 0h0m0 1h0m4-2h0m4 1h0m3 0h0m14 2h0m1 2h0m0-5h0m0 3h0m5 2h0m1-2h0m1 2h0m4 0h0m4-2h0m3-1h0m1 2h0m5 0h0m5-2h0m1-1h0m1 2h0m0-1h0m1-2h0m0 4h0m9-2h0m13 4h0m-10 3h0m-13-3h0m-6 5h0m-3 0h0m-1 0h0m0-5h0m-2 2h0m-6-1h0m-1 0h0m0-1h0m-2 5h0m-1-2h0m-3 0h0m-1 0h0m-1-2h0m-5 1h0m-1-1h0m-10-1h0m-18 1h0m-3 1h0m-4 3h0m0-2h0m-1-2h0m0-1h0m-2 1h0m-3-1h0m-2 2h0m0-1h0m-7 0h0m-5 6h0m3 0h0m5 4h0m2 0h0m3-4h0m2 3h0m0-2h0m2 0h0m42 0h0m9 3h0m2-4h0m26-1h0m0 5h0m4 0h0m-8 1h0m-24 0h0m-8 0h0m-4 4h0m-44 1h0m-2-3h0m-1 3h0m-2-5h0m0 2h0m-1-2h0m0 1h0m-2-1h0m-3 0h0m0 5h0m-1-3h0m-10 9h0m5-4h0m8 1h0m0-1h0m4 0h0m1 0h0m44 3h0m2-4h0m1 3h0m0-1h0m3 3h0m3-1h0m1-3h0m0 3h0m3 1h0m1-5h0m6 0h0m24 2h0m27 0h0m-15 9h0m-2 0h0m-47-4h0m-4 1h0m-1 2h0m-2-3h0m-2 1h0m-2 2h0m-52 1h0m-3-2h0m-2 2h0m0-2h0m-9 2h0m-12 2h0m13 1h0m3 3h0m1-5h0m0 3h0m2 2h0m3-5h0m4 1h0m47 3h0m4-1h0m1 1h0m4-3h0m1 0h0m7 3h0m89 2h0m-96 2h0m-1 0h0m0 2h0m-7-2h0m0 1h0m-1-3h0m-1 4h0m-5 1h0m-47-5h0m-1 1h0m-5 1h0m-2-2h0m-1 2h0m0-1h0m-1 2h0m-8 0h0m-11 0h0m0 5h0m4 0h0m0 1h0m2-1h0m1-2h0m3 4h0m2-2h0m3-2h0m1 3h0m7 2h0m0-3h0m1 2h0m2-4h0m2 5h0m45-3h0m2 1h0m2 2h0m0-2h0m1 0h0m4 2h0m1-5h0m2 0h0m9 3h0m50 2h0m27 1h0m-24 1h0m-23 2h0m-24-1h0m-16 1h0m-6-2h0m-1-1h0m-2 0h0m-4 1h0m-1 1h0m0 3h0m-1 0h0m-2-2h0m-7 6h0m3 2h0m3-1h0m1-4h0m1 4h0m7-4h0m-8 9h0m-4 1h0m-3 0h0m-2-1h0m-14 8h0m6 0h0m0-4h0m4 4h0m0-2h0m1 0h0m1 1h0m2-2h0m3-2h0m11 0h0m53 9h0m-64-1h0m-2 1h0m-6 2h0m-2-5h0m-2 1h0m-2 0h0m-2 4h0m0-4h0m-1 2h0m-4 0h0m-1 1h0m-12 7h0m2 0h0m6 0h0m0-5h0m2 5h0m0-3h0m1 1h0m1-2h0m0 3h0m13-3h0m4 0h0m7 0h0m-5 7h0m-10-1h0m-6 2h0m-7 0h0m0-2h0m-4 2h0m-2 0h0m0-2h0m-1 1h0m-2 3h0m-2-1h0m0-3h0m-3 7h0m6 2h0m2-2h0m1 0h0m1 1h0m0 6h0m-10 1h0" stroke="#0000ff" stroke-width="1.7" stroke-linecap="square"/>
<path d="M660 1785h0m-2 0h0m-2 0h0m0-1h0m0 3h0m-2-3h0m-6 3h0m0-1h0m-8-2h0m0 1h0m4 7h0m0-2h0m1-1h0m1 4h0m2-3h0m0-2h0m3 4h0m4-2h0m6-2h0m4 5h0m1-3h0m2 3h0m3 0h0m1-1h0m-6 2h0m-3 3h0m-1 2h0m-2-1h0m-1 1h0m-1-2h0m-1 1h0m-1-1h0m0 1h0m-1-2h0m0 2h0m-2 1h0m-1-2h0m-2-3h0m-2 2h0m-1 1h0m-2-1h0m0 1h0m-1 2h0m-1 0h0m0-1h0m0-3h0m-14 1h0m0 1h0m-1 1h0m-1-4h0m0 5h0m-1-1h0m-1-3h0m-1 7h0m1-1h0m1 3h0m1-3h0m1 3h0m2-2h0m2 1h0m0 2h0m0-4h0m2 0h0m0 1h0m1-1h0m1 3h0m2-4h0m2 2h0m0 2h0m1-3h0m1 2h0m0 2h0m1-3h0m0-2h0m1 4h0m0-1h0m1 2h0m1-5h0m0 5h0m1-5h0m2 2h0m1 0h0m0 3h0m1-2h0m0-2h0m5-1h0m0 5h0m0-2h0m1-2h0m3-1h0m3 0h0m-6 8h0m-7 3h0m-2-5h0m-1 1h0m0-1h0m-1 3h0m-2-2h0m-1-1h0m-1 0h0m-3 2h0m-1 0h0m-1 0h0m-1 2h0m-2-2h0m-1 1h0m-2 2h0m-2-4h0m0-1h0m0 4h0m-2-1h0m0-3h0m-5 4h0m-1 1h0m-2-2h0m-1 0h0m-6 2h0m-3-1h0m-2 1h0m-6 6h0m1-5h0m5 0h0m5 0h0m5 5h0m1 0h0m2-4h0m0 1h0m3 0h0m1-1h0m1 1h0m1 0h0m0-2h0m3 3h0m3-3h0m0 2h0m2-2h0m0 5h0m1 0h0m1-4h0m2 3h0m0-3h0m0 10h0m-4-5h0m-3 1h0m-1 0h0m-1 4h0m0-5h0m-1 1h0m-1-1h0m-2 5h0m-1-1h0m0-4h0m-5 1h0m-3 0h0m0 1h0m-10 2h0m0-1h0m-1 2h0m-1 0h0m-24 4h0m10 0h0m36-2h0m9 1h0m-33 7h0m-1 1h0m-5-4h0m-3 11h0m12 4h0m-3 1h0m-1-1h0m0 1h0m-6 1h0m-3-1h0m-4 0h0m-2 0h0m-2 1h0m-1 0h0m-1-5h0m-4 4h0m-1 7h0m3-5h0m0 3h0m1-3h0m0 4h0m1-4h0m0 2h0m1-1h0m0 3h0m1-4h0m1 3h0m1 2h0m2-4h0m1 0h0m2 3h0m0 1h0m1-5h0m0 1h0m1-1h0m0 3h0m3 1h0m1 0h0m1-2h0m1 3h0m1-1h0m6-2h0m-2 7h0m0 1h0m-1-2h0m-4 2h0m-1 0h0m0-3h0m-1 1h0m0-2h0m0 4h0m-1-2h0m0 2h0m-2-2h0m-1 1h0m-1-3h0m-1 0h0m-2 1h0m-1 2h0m0 1h0m-1-1h0m-1 2h0m-1-4h0m-1 4h0m-2-2h0m-1-3h0m0 5h0m0-4h0m-1-1h0m0 3h0m0-1h0m-1 2h0m-3-3h0m-1-1h0m-2 3h0m0 7h0m2-2h0m0-1h0m7-1h0m2 1h0m1 4h0m1-2h0m1-1h0m0-1h0m2 1h0m1-1h0m0 1h0m0 3h0m1-2h0m0-2h0m1 4h0m0-3h0m1-2h0m1 2h0m1 3h0m1-4h0m2 1h0m0-2h0m1 0h0m1 1h0m1 1h0m0-2h0m0 4h0m2 0h0m3-3h0m3 8h0m-1-3h0m-8 4h0m-1-4h0m0 1h0m-2 1h0m-1 3h0m-1-4h0m0 4h0m-1-1h0m0-1h0m-2 1h0m0-1h0m-1-3h0m0 4h0m-1-2h0m-1-2h0m0 3h0m-1-1h0m0-2h0m-1 5h0m-1 0h0m-2-4h0m0 1h0m-1 0h0m0 3h0m-1-1h0m0-1h0m-1 2h0m-1-3h0m-1 1h0m0 2h0m-6 0h0m-2-1h0m-12 6h0m1 1h0m4 0h0m1 0h0m3-1h0m3 0h0m0-4h0m1 3h0m1-3h0m0 2h0m2 2h0m3 1h0m0-1h0m1 0h0m0-2h0m1 1h0m0-1h0m2 2h0m0-3h0m2 3h0m5 0h0m1-3h0m0-1h0m3 0h0m0 4h0m2 0h0m1-2h0m1 3h0m0-2h0m2-3h0m1 2h0m-7 5h0m-1-1h0m-4 3h0m-1 0h0m-1-3h0m0 4h0m0-1h0m-2 0h0m0 1h0m-3 1h0m0-3h0m-1 0h0m0-1h0m-1 0h0m-1 4h0m-1-4h0m0-1h0m-2 5h0m-1-3h0m-5 0h0m-1 0h0m-5-1h0m0-1h0m-1 1h0m-1 2h0m-1 2h0m0-2h0m-1-1h0m0-2h0m-1 5h0m-4-2h0m-9 5h0m3 2h0m1 0h0m2-4h0m0 5h0m0-4h0m1 2h0m2-3h0m1 0h0m0 5h0m1-5h0m1 2h0m3 0h0m0 3h0m3-5h0m1 5h0m3-4h0m13 3h0m0 1h0m1-3h0m1 2h0m0-2h0m1 1h0m2 2h0m1-1h0m1-1h0m0 1h0m0 1h0m1 2h0m-1 2h0m-1-3h0m0 2h0m-1 0h0m0 1h0m-1-2h0m0-1h0m0 4h0m-1-1h0m-4-1h0m0 1h0m-1 0h0m0 2h0m-6-1h0m-1-3h0m-11 0h0m0 1h0m-3-1h0m-1 2h0m-2 2h0m-3-4h0m-1 4h0m-1 0h0m-1-3h0m-1-2h0m-1 5h0m-7-5h0m-2 3h0m0 1h0m-7 5h0m2 0h0m2-3h0m2 5h0m0-3h0m0-1h0m1 3h0m2-2h0m1 3h0m4 0h0m14-5h0m13 5h0m0-5h0m0 3h0m2 2h0m1-2h0m3 2h0m0-4h0m1 2h0m1-2h0m0 3h0m0-1h0m1-1h0m3-1h0m1 1h0m-5 7h0m-1 2h0m-1-4h0m-1 2h0m-2 1h0m-1-2h0m-4-2h0m-29 5h0m0-2h0m-6 1h0m-1 0h0m-1 0h0m-1-1h0m-1 2h0m0-4h0m-1 1h0m-1 2h0m-4 6h0m1 0h0m2 0h0m1 1h0m0-1h0m0-1h0m1-1h0m1-2h0m1 5h0m2-4h0m38 0h0m2 3h0m2 1h0m0-2h0m1-2h0m1 0h0m0-1h0m1 0h0m-5 7h0m-1 0h0m-2 2h0m-4 2h0m-40-1h0m-1 0h0m0-4h0m0 1h0m-2 1h0m-1 1h0m-3 0h0m-7 1h0m-7 5h0m2 2h0m1-4h0m1-1h0m3 5h0m1 0h0m0-1h0m0-2h0m1 2h0m1-2h0m1 1h0m2 0h0m1-2h0m0 3h0m1-2h0m4 2h0m0-3h0m36 4h0m3-5h0m1 2h0m1 3h0m2-2h0m0-2h0m1-1h0m1 1h0m-5 8h0m-3 1h0m-2-4h0m-1 2h0m-10 1h0m-20-3h0m-3 1h0m-2 0h0m-3 1h0m-1 3h0m-2-1h0m-1-2h0m-1 3h0m0-1h0m0 7h0m1-5h0m35 4h0m0-1h0m1 0h0m1-2h0m2 4h0m2-4h0m0 1h0m-2 9h0m-1-5h0m0 1h0m-3 3h0m-1-4h0m-1 4h0m0-1h0m-1 0h0m-2 1h0m-4-1h0m-1 1h0m0-1h0m0 2h0m-1 0h0m-1 0h0m-3-2h0m-14 0h0m-6 5h0m1 2h0m0-1h0m2-3h0m3 4h0m0-1h0m1 1h0m5-1h0m3 2h0m0-2h0m1-1h0m0 1h0m1-1h0m1-1h0m3 3h0m2-4h0m7 0h0m-14 7h0m-1-1h0m-1 5h0m0-3h0m0-2h0m-1 3h0m-2 0h0m-1-2h0m-1 3h0m0-2h0m-1 2h0m-2 0h0m-1 0h0m0-1h0m-1 2h0m-1-1h0m-1 0h0m0 1h0m-1-2h0m-1 2h0m-1 0h0m0 1h0m0 4h0m3-4h0m1 3h0m1-3h0m0 4h0m1-4h0m2 1h0m1 2h0m1-3h0m1 2h0m2-1h0m1 1h0m2 0h0m-9 6h0m-4-2h0" stroke="#00d8ff" stroke-width="1.7" stroke-linecap="square"/>
<path d="M658 1798h0m0 1h0m-1-2h0m-9 7h0m0 1h0m9-5h0m-14 9h0m-22 0h0m10 3h0m0 2h0m2 0h0m-41 37h0m2 0h0m2 0h0m1 2h0m-1 6h0m-1-5h0m0 5h0m-2-5h0m0 1h0m-1 2h0m0 2h0m-1-1h0m0 1h0m-1-1h0m0-2h0m-3 3h0m2 6h0m5-2h0m0 4h0m0-1h0m-1 1h0m-1 1h0m-2 3h0m-1 0h0m-1-1h0m-25 5h0m11-2h0m1 0h0m2 3h0m3 0h0m1 1h0m2 5h0m-2-3h0m-1 2h0m-4-2h0m-1 1h0m0 2h0m-1-1h0m-1 0h0m0 2h0m0-1h0m-1 1h0m-1-3h0m0 3h0m-1-2h0m0 1h0m-3-3h0m0-1h0m0 5h0m-1-1h0m-1-2h0m0 1h0m-1-3h0m-2 4h0m-9 6h0m2-1h0m1 2h0m1-1h0m1-1h0m1-2h0m0 4h0m2 0h0m1-1h0m0-4h0m0 3h0m2-1h0m1 1h0m0-2h0m1 1h0m0 1h0m1 0h0m0-1h0m0-2h0m1 3h0m0 1h0m0 1h0m1-3h0m0-2h0m0 4h0m1-2h0m0 2h0m1-2h0m0 3h0m0-1h0m1-2h0m1 2h0m0-1h0m0-1h0m1-1h0m0 3h0m0-2h0m0 1h0m0-3h0m1 5h0m1-2h0m0 1h0m0-4h0m1 3h0m0-1h0m0 2h0m0-4h0m1 1h0m1 0h0m2 2h0m2-1h0m0 2h0m2-2h0m0 4h0m0 4h0m-2-4h0m-1 2h0m0 1h0m-1-2h0m0-1h0m-1 3h0m-1 2h0m-1-3h0m-1 0h0m0-2h0m0 3h0m0 1h0m-1-1h0m0-2h0m-1 4h0m-1 0h0m0-3h0m-1 2h0m0-4h0m0 3h0m-1 2h0m0-5h0m-1 3h0m0 1h0m-1-3h0m-1 3h0m-2 1h0m0-5h0m0 2h0m0-1h0m0 3h0m-1-1h0m-1-3h0m0 3h0m0 1h0m0-2h0m-1 0h0m-1-1h0m0-1h0m0 2h0m0 3h0m-2-1h0m0-3h0m0 2h0m-2 2h0m0-3h0m0 2h0m-1-3h0m-1-1h0m-1 4h0m0 1h0m0-5h0m0 2h0m-1 0h0m-1 0h0m0-1h0m0 3h0m-1-4h0m-1 3h0m0-2h0m-1-1h0m0 3h0m0 1h0m-1-1h0m0-1h0m-1 1h0m-1 0h0m-1 1h0m0 1h0m-11 5h0m1 1h0m2-1h0m1-1h0m0 1h0m2 1h0m0-4h0m0 2h0m0 1h0m1-1h0m0-2h0m1 0h0m0-1h0m0 4h0m1-1h0m1 2h0m0-3h0m0-2h0m1 4h0m0 1h0m1-1h0m1-3h0m1 0h0m1 3h0m0-4h0m1 3h0m0-3h0m2 5h0m2-3h0m0 3h0m0-4h0m1 3h0m0-4h0m0 5h0m1-1h0m0-2h0m1 1h0m0 2h0m0-5h0m2 1h0m0 2h0m2 1h0m2-4h0m0 3h0m1 1h0m0-3h0m1 4h0m0-4h0m0 3h0m1 1h0m0-4h0m1-1h0m1 5h0m0-2h0m0-3h0m3 2h0m0 2h0m1-2h0m0-2h0m0 5h0m1-1h0m0 1h0m3-5h0m1 0h0m2 0h0m0 2h0m1-1h0m-6 10h0m-1 0h0m0-5h0m0 2h0m-1-1h0m0 1h0m-2 3h0m0-3h0m-1 1h0m0 2h0m0-1h0m-1-4h0m0 5h0m-1 0h0m-2-3h0m-1 0h0m0 3h0m-1-2h0m-1 0h0m-2-3h0m-2 0h0m-1 4h0m-1-2h0m-2 3h0m0-4h0m-2 4h0m-1-3h0m-1-2h0m0 2h0m-3 3h0m-1-3h0m-1 1h0m0-2h0m-2 4h0m0-4h0m0-1h0m-1 2h0m0 3h0m0-4h0m-1 2h0m0-3h0m0 5h0m-1-4h0m0 1h0m-1 0h0m0 1h0m-1-1h0m-1 0h0m-1 3h0m0-4h0m0 1h0m-1 3h0m0-3h0m-1 0h0m-2 0h0m0 1h0m-1 2h0m0-2h0m-1-1h0m-1-2h0m-2 5h0m0-1h0m0 7h0m2-4h0m1 1h0m0 3h0m1-3h0m1 2h0m0-2h0m0-1h0m0 2h0m0-3h0m3 0h0m0 3h0m1 2h0m0-1h0m1-4h0m1 1h0m1 1h0m0-2h0m1 5h0m1-1h0m3-2h0m1 1h0m0-3h0m1 1h0m0 4h0m2-4h0m1 2h0m2 1h0m2-4h0m0 5h0m1-4h0m0 2h0m1 1h0m0-4h0m1 4h0m0-2h0m4 0h0m0 3h0m0-4h0m0-1h0m2 4h0m1-4h0m0 3h0m1 1h0m0-3h0m0-1h0m0 5h0m1-2h0m0-3h0m1 4h0m0-3h0m0 4h0m0-3h0m1 1h0m0-2h0m1 4h0m3 0h0m-3 1h0m-4 1h0m0 1h0m-1 2h0m0-2h0m0-1h0m-1 3h0m-1-3h0m0 1h0m-1 0h0m-2 0h0m-1-2h0m0 1h0m0 1h0m-1 1h0m-2-2h0m0 3h0m-1-3h0m0 3h0m-1-4h0m0 3h0m-1-1h0m-1 1h0m0 2h0m-2-5h0m-1 1h0m0 4h0m-1-5h0m0 4h0m0-3h0m-1 0h0m-3 4h0m-2-1h0m-2 1h0m-2-2h0m-1-1h0m-1 2h0m-3 0h0m-1-2h0m-1 2h0m-2 1h0m-1-3h0m0 2h0m-1 1h0m0-1h0m-1-2h0m-1 0h0m-1-1h0m-1 4h0m0-2h0m-11 6h0m2-3h0m1 4h0m5 1h0m3-3h0m0 2h0m1-2h0m1-2h0m0 3h0m1-3h0m0 4h0m1-2h0m0 1h0m1 2h0m0-1h0m1-1h0m1 0h0m0 1h0m1-4h0m0 4h0m1-1h0m0 1h0m1 0h0m0-1h0m0-1h0m1 2h0m0-1h0m0-1h0m1 2h0m1 1h0m1-5h0m0 4h0m1-3h0m0 1h0m0 2h0m2 1h0m1-3h0m2-1h0m2 1h0m0-1h0m3 3h0m1-1h0m0 2h0m1-4h0m1-1h0m1 5h0m1-2h0m1-3h0m0 5h0m1-3h0m0-1h0m2 0h0m0 4h0m1-1h0m0-1h0m1-1h0m0 1h0m0 1h0m0-3h0m0-1h0m1 1h0m0 2h0m1-3h0m1 3h0m1 1h0m1-4h0m-3 7h0m-1 0h0m-3 0h0m0 1h0m0-2h0m-1 4h0m-1-2h0m0 3h0m0-4h0m-1 3h0m0 1h0m-1-2h0m0 2h0m0-1h0m0-4h0m-1 3h0m0 2h0m-1-1h0m-1 1h0m0-1h0m-1-1h0m0-1h0m0-1h0m-1-1h0m0 5h0m0-3h0m0 2h0m-1 0h0m-1 0h0m-1-4h0m-1 1h0m0 2h0m-1 0h0m-1 0h0m-2 0h0m-2 0h0m-1 0h0m0 1h0m0-3h0m0-1h0m-1 3h0m-1 1h0m-1-4h0m0 4h0m0 1h0m-1-1h0m0-4h0m-1 3h0m-1-2h0m-1-1h0m0 1h0m-1 0h0m-1 3h0m0-1h0m0-1h0m0-1h0m-1-1h0m0 2h0m-1 3h0m0-4h0m-1-1h0m-1 2h0m0 3h0m-1-1h0m-1 0h0m0 1h0m0-4h0m-1 1h0m0-1h0m-1-1h0m-1 4h0m0-1h0m-2 0h0m-3 6h0m0-2h0m1 1h0m0-1h0m2 4h0m0-1h0m1-3h0m1 3h0m0-2h0m1-2h0m1 3h0m0-2h0m0 1h0m1 2h0m0-4h0m1 1h0m0 4h0m0-2h0m2 1h0m0-4h0m1 3h0m0-3h0m0 5h0m1-4h0m1 2h0m0 2h0m0-3h0m1-1h0m1 4h0m1-1h0m0-3h0m2 2h0m0 1h0m0 1h0m1 0h0m0-5h0m0 4h0m0-2h0m0-1h0m1 2h0m0 1h0m2-1h0m0-3h0m0 2h0m0 3h0m1-5h0m0 1h0m2 0h0m2 4h0m0-3h0m2 3h0m0-1h0m1-4h0m1 4h0m0-2h0m0 3h0m0-5h0m1 3h0m0-1h0m0 2h0m1-1h0m0-1h0m1 3h0m1-3h0m3-2h0m-1 6h0m-3 2h0m-3 3h0m-1-4h0m0 1h0m-1-2h0m-2 0h0m-1 1h0m-1-1h0m0 1h0m-1 0h0m0-1h0m-1 5h0m0-1h0m0-3h0m-1 0h0m-1 3h0m-1-1h0m0-2h0m0 1h0m-1 2h0m-1-3h0m0 2h0m0-1h0m-1 3h0m0-5h0m-1 0h0m0 1h0m0 4h0m-1-2h0m0-3h0m0 1h0m-1 4h0m0-2h0m-1-3h0m0 5h0m-1-3h0m0 3h0m0-4h0m-1 2h0m0 1h0m-1-4h0m0 1h0m-1 4h0m0-2h0m0-3h0m0 4h0m-1 0h0m0-3h0m0 4h0m-2-4h0m0-1h0m0 4h0m0 1h0m0-3h0m-1 1h0m0 1h0m-1-3h0m-1 3h0m0-3h0m-1 0h0m0 4h0m-1-2h0m-1-3h0m0 5h0m-1-3h0m0-1h0m0 3h0m0 7h0m0-3h0m0 1h0m1 1h0m0-2h0m1 2h0m0-3h0m0-1h0m1 2h0m0 3h0m1 0h0m0-3h0m0-1h0m0-1h0m1 5h0m0-4h0m2 4h0m1-3h0m1 1h0m1 2h0m0-1h0m0-4h0m1 0h0m0 4h0m1 0h0m0-4h0m0 3h0m1 2h0m0-3h0m0 2h0m1-4h0m1 1h0m0-1h0m0 5h0m1-2h0m1 1h0m0-4h0m2 1h0m8-1h0m-11 7h0m-3 0h0m0 3h0m-2-1h0m0-3h0m-1 2h0m-1 0h0m0-2h0m0 3h0m0-2h0m-1 2h0m0-3h0m0 2h0m-2 2h0m-4-1h0m-2-3h0m0 2h0m1 5h0m4-1h0m7 1h0m2 1h0" stroke="#00ff00" stroke-width="1.7" stroke-linecap="square"/>
<path d="M565 1888h0m1 1h0m1 0h0m7 0h0m1 1h0m-7 1h0m-1 2h0m-2-2h0m-1 4h0m0-5h0m-1 3h0m-1 1h0m0 1h0m0-2h0m-1-3h0m-1 5h0m-13 4h0m1-1h0m0 1h0m1 0h0m0 1h0m1-1h0m1-2h0m0 2h0m0 2h0m2-3h0m1-2h0m1 5h0m1-1h0m0-1h0m2 0h0m2-3h0m1 2h0m1-2h0m0 3h0m0 1h0m0 1h0m2-4h0m0 1h0m0-2h0m1 4h0m0-3h0m1 1h0m0 1h0m0-3h0m1 3h0m3-2h0m0 6h0m-1 0h0m0 2h0m-2 0h0m0-3h0m-1 0h0m0 1h0m-1 1h0m0-1h0m0 4h0m0-1h0m-1 1h0m0-1h0m0-2h0m-1 0h0m0-2h0m0 1h0m-2 3h0m0-4h0m-1 2h0m0 3h0m0-1h0m0-3h0m-1 2h0m0-2h0m0-1h0m-1 3h0m0 2h0m0-5h0m-1 4h0m-2 0h0m0-3h0m0 2h0m-1 1h0m0-3h0m-1 0h0m-2-1h0m0 5h0m0-3h0m-1-2h0m-1 1h0m0-1h0m0 3h0m-1-2h0m-1 3h0m-1 1h0m0-1h0m0-4h0m0 3h0m-1-1h0m0 2h0m-1-4h0m-2 3h0m0 1h0m-1-3h0m0 4h0m-9 4h0m1 1h0m1 1h0m1-1h0m0-3h0m0 2h0m2 2h0m0-1h0m1-1h0m1-1h0m0-1h0m1 4h0m0-1h0m2-4h0m0 4h0m1-3h0m1 3h0m1-3h0m1 0h0m0 2h0m2-1h0m0 2h0m0-4h0m1 2h0m1 1h0m1-3h0m0 4h0m1-1h0m1-1h0m0-1h0m0 2h0m1 0h0m1-1h0m1 3h0m0-3h0m1 3h0m0-2h0m1-3h0m1 4h0m0-1h0m0-2h0m0 1h0m1-2h0m3 2h0m0-2h0m0 1h0m1 1h0m0 3h0m1-1h0m-1 3h0m-1-1h0m-1 0h0m-1 4h0m0-1h0m-1 1h0m0 1h0m-1-1h0m0-1h0m0 2h0m-2-1h0m-1 1h0m0-3h0m-1 1h0m0 2h0m-2-1h0m-1-3h0m-1 4h0m0-4h0m0 1h0m-1 2h0m0-3h0m0 4h0m-1-2h0m0-3h0m-1 2h0m-1 0h0m-1-2h0m-1 0h0m0 5h0m0-4h0m-3 1h0m0-2h0m-1 3h0m-1-3h0m-1 2h0m0-2h0m0 5h0m-1-5h0m-1 1h0m-1 1h0m-2 3h0m0-2h0m-1-3h0m0 2h0m0-1h0m-1-1h0m0 4h0m-1 1h0m0-3h0m0 1h0m-1-3h0m0 5h0m-1-5h0m0 10h0m0-2h0m1-1h0m0-1h0m2 2h0m1 3h0m1 0h0m1-3h0m1 0h0m0 2h0m1-2h0m0 1h0m2-3h0m1 1h0m0 2h0m4-2h0m0 4h0m1-1h0m1-3h0m0 3h0m0-2h0m0 1h0m1 0h0m0-2h0m1 1h0m0-2h0m1 4h0m0-4h0m1 3h0m0 1h0m1 1h0m0-1h0m1 0h0m0-4h0m0 2h0m1 0h0m3 2h0m0-1h0m0-3h0m2 2h0m3-1h0m-6 5h0m-1 1h0m0-1h0m-2 0h0m0 4h0m0-2h0m-2 1h0m0-1h0m-3-2h0m-1 5h0m0-3h0m0-2h0m0 3h0m-1 2h0m0-3h0m0 1h0m-1-1h0m0-2h0m-1 4h0m0-3h0m-1 0h0m0 4h0m0-1h0m-1-2h0m0 2h0m-1-2h0m0 2h0m-1-2h0m-1 2h0m0-4h0m-1 5h0m0-3h0m-1 0h0m0-2h0m-1 5h0m0-5h0m-1 1h0m-1 0h0m-2 3h0m0-2h0m-1 1h0m-1-1h0m-4 1h0m-4 2h0m0-1h0m-3 7h0m0-3h0m1 1h0m0-3h0m0 1h0m0 4h0m1-3h0m0 2h0m0 1h0m0-2h0m2 0h0m1-3h0m1 0h0m3 3h0m0 2h0m0-1h0m1-4h0m0 4h0m1-2h0m1-1h0m1-1h0m0 3h0m3 0h0m1 2h0m1 0h0m0-3h0m0-2h0m1 4h0m1 1h0m0-3h0m1 0h0m0-1h0m1-1h0m0 3h0m1-3h0m0 3h0m1 1h0m0-4h0m1 4h0m0-4h0m0 1h0m2 0h0m0 2h0m1-2h0m1 0h0m1-1h0m-12 6h0m-8 1h0m0 1h0m-1 1h0m-1-3h0m-1 3h0m-3-3h0m-2 1h0m-3-1h0" stroke="#ffff00" stroke-width="1.7" stroke-linecap="square"/>
<path d="M562 1904h0m-1 1h0m-4 0h0m0 2h0m0-5h0m-1 0h0m0 2h0m-1 0h0m-1-2h0m-1 5h0m0-5h0m-1 4h0m0-1h0m0 2h0m0-4h0m-1 0h0m0 3h0m-1-3h0m0 1h0m-1 2h0m-8 5h0m0 2h0m3 0h0m0-2h0m1 1h0m0 1h0m0-2h0m0-3h0m1 4h0m1-2h0m0-1h0m0 3h0m2-4h0m0 4h0m3-4h0m0 4h0m1-4h0m1 0h0m0 2h0m-5 6h0m-1 1h0m0 2h0m-2-1h0m0-1h0m0 2h0m-1-1h0m-1-4h0m0 3h0m0 1h0m-1-3h0m0 2h0m0 2h0m0-5h0m-1 1h0m0 4h0m-1 0h0m0-1h0m0-2h0m0-1h0m-1 3h0m-1 0h0m-1 0h0m-1 1h0m0-5h0m-1 5h0m-1 0h0m-1-3h0m0-1h0m0 3h0m-1 1h0m-1-4h0m0 4h0m6 1h0m0 5h0m1 0h0m0-1h0m0-2h0m0-1h0m0 2h0m1-3h0m1 1h0m0 2h0m0 2h0m0-5h0m0 4h0m1-1h0m0 2h0m0-4h0m0-1h0m0 2h0m1 1h0m0 1h0m0 1h0m1-5h0m1 0h0m1 5h0m1 0h0m0-5h0m2 1h0m7 0h0m2 0h0m-13 6h0m-2-1h0m-1 2h0m-3-2h0m-1 1h0m1 5h0" stroke="#ff0000" stroke-width="1.7" stroke-linecap="square"/>
<path d="M598 1984h1M584 1984h1M527 1984h1M586 1984h1M549 1984h1M532 1984h1M574 1984h1M567 1984h1M597 1984h1M522 1984h1M596 1984h1M584 1984h1M574 1984h1M583 1984h1M548 1984h1" stroke="#1a3cff" stroke-width="1.6"/>
<rect x="468.5" y="1664.6" width="321.5" height="320.4" fill="none" stroke="#111" stroke-width="1.6"/>
<line x1="598" y1="1664.6" x2="598" y2="1985" stroke="#000" stroke-width="2.8"/>
<line x1="468.5" y1="1851.6" x2="790" y2="1851.6" stroke="#000" stroke-width="2.8"/>
<path d="M457.5 1984.5H468.5M463.5 1965.3H468.5M463.5 1954.1H468.5M463.5 1946.1H468.5M463.5 1939.9H468.5M463.5 1934.9H468.5M463.5 1930.6H468.5M463.5 1926.9H468.5M463.5 1923.6H468.5M457.5 1920.7H468.5M463.5 1901.5H468.5M463.5 1890.3H468.5M463.5 1882.3H468.5M463.5 1876.1H468.5M463.5 1871.1H468.5M463.5 1866.8H468.5M463.5 1863.1H468.5M463.5 1859.8H468.5M457.5 1856.9H468.5M463.5 1837.7H468.5M463.5 1826.5H468.5M463.5 1818.5H468.5M463.5 1812.3H468.5M463.5 1807.3H468.5M463.5 1803H468.5M463.5 1799.3H468.5M463.5 1796H468.5M457.5 1793.7H468.5M463.5 1774.5H468.5M463.5 1763.3H468.5M463.5 1755.3H468.5M463.5 1749.1H468.5M463.5 1744.1H468.5M463.5 1739.8H468.5M463.5 1736.1H468.5M463.5 1732.8H468.5M457.5 1729.3H468.5M463.5 1710.1H468.5M463.5 1698.9H468.5M463.5 1690.9H468.5M463.5 1684.7H468.5M463.5 1679.7H468.5M463.5 1675.4H468.5M463.5 1671.7H468.5M463.5 1668.4H468.5" stroke="#111" stroke-width="1.4"/>
<rect x="457.5" y="1983.5" width="11" height="2.2" fill="#111"/>
<rect x="457.5" y="1919.7" width="11" height="2.2" fill="#111"/>
<rect x="457.5" y="1855.9" width="11" height="2.2" fill="#111"/>
<rect x="457.5" y="1792.7" width="11" height="2.2" fill="#111"/>
<rect x="457.5" y="1728.3" width="11" height="2.2" fill="#111"/>
<path d="M502.9 1985V1994M524.5 1985V1990M537.1 1985V1990M546.1 1985V1990M553 1985V1990M558.7 1985V1990M563.5 1985V1990M567.7 1985V1990M571.3 1985V1990M474.4 1985V1990M481.3 1985V1990M487 1985V1990M491.8 1985V1990M496 1985V1990M499.6 1985V1990M574.6 1985V1994M596.2 1985V1990M608.8 1985V1990M617.8 1985V1990M624.7 1985V1990M630.4 1985V1990M635.2 1985V1990M639.4 1985V1990M643 1985V1990M645.2 1985V1994M666.8 1985V1990M679.4 1985V1990M688.4 1985V1990M695.3 1985V1990M701 1985V1990M705.8 1985V1990M710 1985V1990M713.6 1985V1990M715 1985V1994M736.6 1985V1990M749.2 1985V1990M758.2 1985V1990M765.1 1985V1990M770.8 1985V1990M775.6 1985V1990M779.8 1985V1990M783.4 1985V1990M786.6 1985V1994" stroke="#111" stroke-width="1.4"/>
<rect x="501.7" y="1985" width="2.4" height="9" fill="#111"/>
<rect x="573.4" y="1985" width="2.4" height="9" fill="#111"/>
<rect x="644" y="1985" width="2.4" height="9" fill="#111"/>
<rect x="713.8" y="1985" width="2.4" height="9" fill="#111"/>
<rect x="785.4" y="1985" width="2.4" height="9" fill="#111"/>
<text class="a" x="438.9" y="1992.2" font-size="13" text-anchor="middle">10</text>
<text class="a" x="446.6" y="1982.8" font-size="13">2</text>
<text class="a" x="438.9" y="1928.4" font-size="13" text-anchor="middle">10</text>
<text class="a" x="446.6" y="1919" font-size="13">3</text>
<text class="a" x="438.9" y="1864.6" font-size="13" text-anchor="middle">10</text>
<text class="a" x="446.6" y="1855.2" font-size="13">4</text>
<text class="a" x="438.9" y="1801.4" font-size="13" text-anchor="middle">10</text>
<text class="a" x="446.6" y="1792" font-size="13">5</text>
<text class="a" x="438.9" y="1737" font-size="13" text-anchor="middle">10</text>
<text class="a" x="446.6" y="1727.6" font-size="13">6</text>
<text class="a" x="504.9" y="2021.5" font-size="13" text-anchor="middle">10</text>
<text class="a" x="512.6" y="2012.1" font-size="13">3</text>
<text class="a" x="576.6" y="2021.5" font-size="13" text-anchor="middle">10</text>
<text class="a" x="584.3" y="2012.1" font-size="13">4</text>
<text class="a" x="647.2" y="2021.5" font-size="13" text-anchor="middle">10</text>
<text class="a" x="654.9" y="2012.1" font-size="13">5</text>
<text class="a" x="717" y="2021.5" font-size="13" text-anchor="middle">10</text>
<text class="a" x="724.7" y="2012.1" font-size="13">6</text>
<text class="a" x="788.6" y="2021.5" font-size="13" text-anchor="middle">10</text>
<text class="a" x="796.3" y="2012.1" font-size="13">7</text>
<text class="a" x="475.1" y="1691.4" font-size="15.5">Q1</text>
<text class="a" x="475.1" y="1714.9" font-size="15.5">1.95</text>
<text class="a" x="762" y="1691.4" font-size="15.5" text-anchor="end">Q2</text>
<text class="a" x="762" y="1714.9" font-size="15.5" text-anchor="end">6.33</text>
<text class="a" x="762" y="1942.2" font-size="15.5" text-anchor="end">Q3</text>
<text class="a" x="762" y="1963.7" font-size="15.5" text-anchor="end">1.22</text>
<text class="a" x="475.1" y="1942.2" font-size="15.5">Q4</text>
<text class="a" x="475.1" y="1963.7" font-size="15.5">90.5</text>
<text class="a" x="438" y="1687.5" font-size="13" text-anchor="middle">10</text>
<text class="a" x="446" y="1678" font-size="13">7</text>
<text class="s" x="426" y="1841.8" font-size="27.5" text-anchor="middle" transform="rotate(-90 426 1841.8)">PE-A</text>
<text class="s" x="598.8" y="2065.5" font-size="27.5" text-anchor="middle">Annexin V FITC-A</text>
<text class="s b" x="845" y="1123.3" font-size="50">e</text>
<line x1="961" y1="1175.2" x2="961" y2="1484" stroke="#000" stroke-width="3.8" stroke-linecap="round"/>
<line x1="944" y1="1483.3" x2="1221" y2="1483.3" stroke="#000" stroke-width="3.8" stroke-linecap="round"/>
<line x1="944" y1="1483.4" x2="961" y2="1483.4" stroke="#000" stroke-width="3.8" stroke-linecap="round"/>
<text class="s b" x="939.5" y="1494.2" font-size="30.5" text-anchor="end">0</text>
<line x1="944" y1="1406.4" x2="961" y2="1406.4" stroke="#000" stroke-width="3.8" stroke-linecap="round"/>
<text class="s b" x="939.5" y="1417.2" font-size="30.5" text-anchor="end">5</text>
<line x1="944" y1="1329.3" x2="961" y2="1329.3" stroke="#000" stroke-width="3.8" stroke-linecap="round"/>
<text class="s b" x="939.5" y="1340.1" font-size="30.5" text-anchor="end">10</text>
<line x1="944" y1="1252.2" x2="961" y2="1252.2" stroke="#000" stroke-width="3.8" stroke-linecap="round"/>
<text class="s b" x="939.5" y="1263" font-size="30.5" text-anchor="end">15</text>
<line x1="944" y1="1175.2" x2="961" y2="1175.2" stroke="#000" stroke-width="3.8" stroke-linecap="round"/>
<text class="s b" x="939.5" y="1186" font-size="30.5" text-anchor="end">20</text>
<line x1="1000.2" y1="1483.3" x2="1000.2" y2="1501.3" stroke="#000" stroke-width="3.8" stroke-linecap="round"/>
<line x1="1059" y1="1483.3" x2="1059" y2="1501.3" stroke="#000" stroke-width="3.8" stroke-linecap="round"/>
<line x1="1118.6" y1="1483.3" x2="1118.6" y2="1501.3" stroke="#000" stroke-width="3.8" stroke-linecap="round"/>
<line x1="1178.4" y1="1483.3" x2="1178.4" y2="1501.3" stroke="#000" stroke-width="3.8" stroke-linecap="round"/>
<text class="s b" x="889.5" y="1328.6" font-size="29.5" text-anchor="middle" transform="rotate(-90 889.5 1328.6)" textLength="196.4" lengthAdjust="spacingAndGlyphs">Apoptosis(%)</text>
<path d="M985.4 1483.1V1426.1H1014.4V1483.1" stroke="#000" stroke-width="5.6" fill="#fff"/>
<path d="M1045.4 1483.1V1238.1H1073.2V1483.1" stroke="#4e4030" stroke-width="5.6" fill="#fff"/>
<path d="M1104.6 1483.1V1376.8H1132.8V1483.1" stroke="#224a7a" stroke-width="5.6" fill="#fff"/>
<path d="M1163.6 1483.1V1333.6H1192.4V1483.1" stroke="#b93434" stroke-width="5.6" fill="#fff"/>
<line x1="1000.2" y1="1432.5" x2="1000.2" y2="1415.6" stroke="#000" stroke-width="4"/>
<line x1="990.2" y1="1415.6" x2="1010.2" y2="1415.6" stroke="#000" stroke-width="4"/>
<line x1="990.2" y1="1432.5" x2="1010.2" y2="1432.5" stroke="#000" stroke-width="4"/>
<line x1="1059" y1="1249.2" x2="1059" y2="1218.3" stroke="#4e4030" stroke-width="4"/>
<line x1="1049" y1="1218.3" x2="1069" y2="1218.3" stroke="#4e4030" stroke-width="4"/>
<line x1="1049" y1="1249.2" x2="1069" y2="1249.2" stroke="#4e4030" stroke-width="4"/>
<line x1="1118.6" y1="1394" x2="1118.6" y2="1352.4" stroke="#224a7a" stroke-width="4"/>
<line x1="1108.6" y1="1352.4" x2="1128.6" y2="1352.4" stroke="#224a7a" stroke-width="4"/>
<line x1="1108.6" y1="1394" x2="1128.6" y2="1394" stroke="#224a7a" stroke-width="4"/>
<line x1="1178.4" y1="1363.2" x2="1178.4" y2="1298.5" stroke="#b93434" stroke-width="4"/>
<line x1="1168.4" y1="1298.5" x2="1188.4" y2="1298.5" stroke="#b93434" stroke-width="4"/>
<line x1="1168.4" y1="1363.2" x2="1188.4" y2="1363.2" stroke="#b93434" stroke-width="4"/>
<circle cx="989.5" cy="1413.5" r="7" fill="#000"/>
<circle cx="1011.2" cy="1419.8" r="7" fill="#000"/>
<circle cx="988.5" cy="1431" r="7" fill="#000"/>
<rect x="1052" y="1210.5" width="16" height="16" fill="#e9a75f"/>
<rect x="1063.5" y="1228.5" width="16" height="16" fill="#e9a75f"/>
<rect x="1039.8" y="1237.5" width="16" height="16" fill="#e9a75f"/>
<path d="M1118.6 1342.8L1127.4 1358.9H1109.8Z" fill="#97b2d6"/>
<path d="M1107.3 1379.8L1116.1 1395.9H1098.5Z" fill="#97b2d6"/>
<path d="M1130.8 1372.8L1139.6 1388.9H1122Z" fill="#97b2d6"/>
<path d="M1178.4 1311.2L1187.2 1295.1H1169.6Z" fill="#e8928c"/>
<path d="M1178.4 1329.2L1187.2 1313.1H1169.6Z" fill="#e8928c"/>
<path d="M1178.4 1376.2L1187.2 1360.1H1169.6Z" fill="#e8928c"/>
<line x1="999.4" y1="1206" x2="1059.8" y2="1206" stroke="#000" stroke-width="2.4"/>
<line x1="1058.4" y1="1159.1" x2="1179" y2="1159.1" stroke="#000" stroke-width="2.4"/>
<text class="s" x="1028.6" y="1188.4" font-size="24.3" text-anchor="middle">&lt;0.0001</text>
<text class="s" x="1118" y="1141" font-size="24.5" text-anchor="middle">0.0027</text>
<text class="s" x="843" y="1537.9" font-size="36.4" textLength="109.2" lengthAdjust="spacingAndGlyphs">Bufalin</text>
<text class="s" x="845.7" y="1578.5" font-size="35.2" textLength="105.7" lengthAdjust="spacingAndGlyphs">siESR1</text>
<line x1="990.7" y1="1524.3" x2="1009.7" y2="1524.3" stroke="#000" stroke-width="2.4"/>
<line x1="1049.5" y1="1524.3" x2="1068.5" y2="1524.3" stroke="#000" stroke-width="2.4"/>
<line x1="1059" y1="1514.8" x2="1059" y2="1533.8" stroke="#000" stroke-width="2.4"/>
<line x1="1109.1" y1="1524.3" x2="1128.1" y2="1524.3" stroke="#000" stroke-width="2.4"/>
<line x1="1168.9" y1="1524.3" x2="1187.9" y2="1524.3" stroke="#000" stroke-width="2.4"/>
<line x1="1178.4" y1="1514.8" x2="1178.4" y2="1533.8" stroke="#000" stroke-width="2.4"/>
<line x1="990.7" y1="1565.5" x2="1009.7" y2="1565.5" stroke="#000" stroke-width="2.4"/>
<line x1="1049.5" y1="1565.5" x2="1068.5" y2="1565.5" stroke="#000" stroke-width="2.4"/>
<line x1="1109.1" y1="1565.5" x2="1128.1" y2="1565.5" stroke="#000" stroke-width="2.4"/>
<line x1="1118.6" y1="1556" x2="1118.6" y2="1575" stroke="#000" stroke-width="2.4"/>
<line x1="1168.9" y1="1565.5" x2="1187.9" y2="1565.5" stroke="#000" stroke-width="2.4"/>
<line x1="1178.4" y1="1556" x2="1178.4" y2="1575" stroke="#000" stroke-width="2.4"/>
<text class="s b" x="1270" y="1122.7" font-size="50">f</text>
<text class="s" x="1532.6" y="1145" font-size="33" text-anchor="middle" textLength="97.4" lengthAdjust="spacingAndGlyphs">MCF-7</text>
<text class="s" x="1294.2" y="1196.2" font-size="32.5" textLength="97.4" lengthAdjust="spacingAndGlyphs">siESR1</text>
<text class="s" x="1289" y="1244" font-size="33.6" textLength="100.9" lengthAdjust="spacingAndGlyphs">Bufalin</text>
<line x1="1418.9" y1="1188" x2="1427.9" y2="1188" stroke="#000" stroke-width="2.2"/>
<line x1="1495.8" y1="1188" x2="1504.8" y2="1188" stroke="#000" stroke-width="2.2"/>
<line x1="1567.6" y1="1186" x2="1584.6" y2="1186" stroke="#000" stroke-width="2"/>
<line x1="1576.1" y1="1177.5" x2="1576.1" y2="1194.5" stroke="#000" stroke-width="2"/>
<line x1="1646.9" y1="1186" x2="1663.9" y2="1186" stroke="#000" stroke-width="2"/>
<line x1="1655.4" y1="1177.5" x2="1655.4" y2="1194.5" stroke="#000" stroke-width="2"/>
<line x1="1434.9" y1="1235.5" x2="1443.9" y2="1235.5" stroke="#000" stroke-width="2.2"/>
<line x1="1507.1" y1="1233.8" x2="1524.1" y2="1233.8" stroke="#000" stroke-width="2"/>
<line x1="1515.6" y1="1225.3" x2="1515.6" y2="1242.3" stroke="#000" stroke-width="2"/>
<line x1="1563.8" y1="1235.5" x2="1572.8" y2="1235.5" stroke="#000" stroke-width="2.2"/>
<line x1="1637" y1="1233.8" x2="1654" y2="1233.8" stroke="#000" stroke-width="2"/>
<line x1="1645.5" y1="1225.3" x2="1645.5" y2="1242.3" stroke="#000" stroke-width="2"/>
<clipPath id="cb1"><rect x="1388.2" y="1256.7" width="347.5" height="89.2"/></clipPath>
<rect x="1388.2" y="1256.7" width="347.5" height="89.2" fill="#dedede"/>
<g clip-path="url(#cb1)">
<rect x="1407" y="1277" width="74" height="36" rx="15" fill="#000" opacity="1.0" filter="url(#bl1)"/>
<rect x="1430" y="1262" width="30" height="18" rx="8" fill="#000" opacity="0.08" filter="url(#bl2)"/>
<rect x="1487" y="1289" width="71" height="19" rx="9" fill="#000" opacity="1.0" filter="url(#bl1)"/>
<rect x="1569" y="1288.5" width="64" height="16" rx="8" fill="#000" opacity="1.0" filter="url(#bl1)"/>
<rect x="1648" y="1289" width="66" height="15" rx="7.5" fill="#000" opacity="1.0" filter="url(#bl1)"/>
<rect x="1493" y="1318.5" width="58" height="9" rx="4.5" fill="#000" opacity="0.95" filter="url(#bl1)"/>
<rect x="1415" y="1320" width="60" height="5" rx="2.5" fill="#000" opacity="0.18" filter="url(#bl1)"/>
<rect x="1575" y="1318" width="50" height="4" rx="2" fill="#000" opacity="0.1" filter="url(#bl1)"/>
</g>
<rect x="1388.2" y="1256.7" width="347.5" height="89.2" fill="none" stroke="#333" stroke-width="1.4"/>
<text class="s" x="1292.5" y="1317.5" font-size="34.7" textLength="83.7" lengthAdjust="spacingAndGlyphs">PARP</text>
<text class="s" x="1740.2" y="1312.4" font-size="24.2">100kd</text>
<text class="s" x="1442.8" y="1377.3" font-size="23.5" text-anchor="middle">1.00</text>
<text class="s" x="1516.3" y="1377.3" font-size="23.5" text-anchor="middle">9.73</text>
<text class="s" x="1603.5" y="1377.3" font-size="23.5" text-anchor="middle">0.28</text>
<text class="s" x="1677.2" y="1377.3" font-size="23.5" text-anchor="middle">0.08</text>
<clipPath id="cb2"><rect x="1388.2" y="1389.3" width="347.5" height="88.9"/></clipPath>
<rect x="1388.2" y="1389.3" width="347.5" height="88.9" fill="#d6d6d6"/>
<g clip-path="url(#cb2)">
<rect x="1409" y="1425" width="63" height="17.5" rx="8" fill="#000" opacity="1.0" filter="url(#bl1)"/>
<rect x="1492" y="1428" width="61" height="13" rx="6" fill="#000" opacity="0.55" filter="url(#bl2)"/>
<rect x="1570" y="1430" width="60" height="10" rx="5" fill="#000" opacity="0.06" filter="url(#bl2)"/>
<rect x="1650" y="1430" width="60" height="10" rx="5" fill="#000" opacity="0.04" filter="url(#bl2)"/>
</g>
<rect x="1388.2" y="1389.3" width="347.5" height="88.9" fill="none" stroke="#333" stroke-width="1.4"/>
<text class="s" x="1316.4" y="1447.4" font-size="33.2" textLength="59.8" lengthAdjust="spacingAndGlyphs">ER&#945;</text>
<text class="s" x="1740.2" y="1437.1" font-size="23.9">70kd</text>
<clipPath id="cb3"><rect x="1388.2" y="1486" width="347.5" height="89.6"/></clipPath>
<rect x="1388.2" y="1486" width="347.5" height="89.6" fill="#dcdcdc"/>
<g clip-path="url(#cb3)">
<rect x="1407" y="1521" width="67" height="19" rx="9" fill="#000" opacity="1.0" filter="url(#bl1)"/>
<rect x="1485.6" y="1521" width="67.9" height="19" rx="9" fill="#000" opacity="1.0" filter="url(#bl1)"/>
<rect x="1565" y="1521.5" width="66" height="18" rx="9" fill="#000" opacity="1.0" filter="url(#bl1)"/>
<rect x="1642" y="1520.5" width="72" height="18.5" rx="9" fill="#000" opacity="1.0" filter="url(#bl1)"/>
</g>
<rect x="1388.2" y="1486" width="347.5" height="89.6" fill="none" stroke="#333" stroke-width="1.4"/>
<text class="s" x="1283.2" y="1546.5" font-size="33.3" textLength="93" lengthAdjust="spacingAndGlyphs">&#946;-actin</text>
<text class="s" x="1738.5" y="1543.8" font-size="23.9">40kd</text>
<text class="s b" x="813.5" y="1649.5" font-size="50">g</text>
<text class="s b" x="1089.7" y="1688.9" font-size="27" text-anchor="middle">T47D</text>
<line x1="885.4" y1="1725" x2="885.4" y2="2019.3" stroke="#000" stroke-width="2.9" stroke-linecap="round"/>
<line x1="872.9" y1="2018.3" x2="1294.7" y2="2018.3" stroke="#000" stroke-width="2.9" stroke-linecap="round"/>
<line x1="872.9" y1="2018.3" x2="885.4" y2="2018.3" stroke="#000" stroke-width="2.9" stroke-linecap="round"/>
<text class="s b" x="869.7" y="2026.3" font-size="21.8" text-anchor="end">0</text>
<line x1="872.9" y1="1969.4" x2="885.4" y2="1969.4" stroke="#000" stroke-width="2.9" stroke-linecap="round"/>
<text class="s b" x="869.7" y="1977.4" font-size="21.8" text-anchor="end">20</text>
<line x1="872.9" y1="1920.5" x2="885.4" y2="1920.5" stroke="#000" stroke-width="2.9" stroke-linecap="round"/>
<text class="s b" x="869.7" y="1928.5" font-size="21.8" text-anchor="end">40</text>
<line x1="872.9" y1="1871.7" x2="885.4" y2="1871.7" stroke="#000" stroke-width="2.9" stroke-linecap="round"/>
<text class="s b" x="869.7" y="1879.7" font-size="21.8" text-anchor="end">60</text>
<line x1="872.9" y1="1822.8" x2="885.4" y2="1822.8" stroke="#000" stroke-width="2.9" stroke-linecap="round"/>
<text class="s b" x="869.7" y="1830.8" font-size="21.8" text-anchor="end">80</text>
<line x1="872.9" y1="1773.9" x2="885.4" y2="1773.9" stroke="#000" stroke-width="2.9" stroke-linecap="round"/>
<text class="s b" x="869.7" y="1781.9" font-size="21.8" text-anchor="end">100</text>
<line x1="872.9" y1="1725" x2="885.4" y2="1725" stroke="#000" stroke-width="2.9" stroke-linecap="round"/>
<text class="s b" x="869.7" y="1733" font-size="21.8" text-anchor="end">120</text>
<line x1="925.6" y1="2018.3" x2="925.6" y2="2031.3" stroke="#000" stroke-width="2.9" stroke-linecap="round"/>
<text class="s b" x="925.6" y="2053.8" font-size="21.8" text-anchor="middle">0</text>
<line x1="991" y1="2018.3" x2="991" y2="2031.3" stroke="#000" stroke-width="2.9" stroke-linecap="round"/>
<text class="s b" x="991" y="2053.8" font-size="21.8" text-anchor="middle">10</text>
<line x1="1056" y1="2018.3" x2="1056" y2="2031.3" stroke="#000" stroke-width="2.9" stroke-linecap="round"/>
<text class="s b" x="1056" y="2053.8" font-size="21.8" text-anchor="middle">20</text>
<line x1="1121" y1="2018.3" x2="1121" y2="2031.3" stroke="#000" stroke-width="2.9" stroke-linecap="round"/>
<text class="s b" x="1121" y="2053.8" font-size="21.8" text-anchor="middle">50</text>
<line x1="1185.7" y1="2018.3" x2="1185.7" y2="2031.3" stroke="#000" stroke-width="2.9" stroke-linecap="round"/>
<text class="s b" x="1185.7" y="2053.8" font-size="21.8" text-anchor="middle">100</text>
<line x1="1250.7" y1="2018.3" x2="1250.7" y2="2031.3" stroke="#000" stroke-width="2.9" stroke-linecap="round"/>
<text class="s b" x="1250.7" y="2053.8" font-size="21.8" text-anchor="middle">200</text>
<path d="M900.6 2018.3V1776.1H921.6V2018.3" stroke="#4e4030" stroke-width="4.4" fill="#fff"/>
<path d="M930.3 2018.3V1776.1H951.4V2018.3" stroke="#224a7a" stroke-width="4.4" fill="#fff"/>
<path d="M966 2018.3V1839.6H987V2018.3" stroke="#4e4030" stroke-width="4.4" fill="#fff"/>
<path d="M995.7 2018.3V1785.9H1016.8V2018.3" stroke="#224a7a" stroke-width="4.4" fill="#fff"/>
<path d="M1031 2018.3V1894.6H1052V2018.3" stroke="#4e4030" stroke-width="4.4" fill="#fff"/>
<path d="M1060.7 2018.3V1849.4H1081.8V2018.3" stroke="#224a7a" stroke-width="4.4" fill="#fff"/>
<path d="M1096 2018.3V1917.9H1117V2018.3" stroke="#4e4030" stroke-width="4.4" fill="#fff"/>
<path d="M1125.7 2018.3V1873.9H1146.8V2018.3" stroke="#224a7a" stroke-width="4.4" fill="#fff"/>
<path d="M1160.7 2018.3V1938.6H1181.8V2018.3" stroke="#4e4030" stroke-width="4.4" fill="#fff"/>
<path d="M1190.4 2018.3V1898.3H1211.5V2018.3" stroke="#224a7a" stroke-width="4.4" fill="#fff"/>
<path d="M1225.7 2018.3V1972.8H1246.8V2018.3" stroke="#4e4030" stroke-width="4.4" fill="#fff"/>
<path d="M1255.4 2018.3V1903.2H1276.5V2018.3" stroke="#224a7a" stroke-width="4.4" fill="#fff"/>
<line x1="976.5" y1="1847.2" x2="976.5" y2="1825.2" stroke="#4e4030" stroke-width="3"/>
<line x1="969.5" y1="1825.2" x2="983.5" y2="1825.2" stroke="#4e4030" stroke-width="3"/>
<line x1="969.5" y1="1847.2" x2="983.5" y2="1847.2" stroke="#4e4030" stroke-width="3"/>
<line x1="1006.2" y1="1791" x2="1006.2" y2="1776.3" stroke="#224a7a" stroke-width="3"/>
<line x1="999.2" y1="1776.3" x2="1013.2" y2="1776.3" stroke="#224a7a" stroke-width="3"/>
<line x1="999.2" y1="1791" x2="1013.2" y2="1791" stroke="#224a7a" stroke-width="3"/>
<line x1="1041.5" y1="1908.3" x2="1041.5" y2="1876.5" stroke="#4e4030" stroke-width="3"/>
<line x1="1034.5" y1="1876.5" x2="1048.5" y2="1876.5" stroke="#4e4030" stroke-width="3"/>
<line x1="1034.5" y1="1908.3" x2="1048.5" y2="1908.3" stroke="#4e4030" stroke-width="3"/>
<line x1="1071.2" y1="1857" x2="1071.2" y2="1836.2" stroke="#224a7a" stroke-width="3"/>
<line x1="1064.2" y1="1836.2" x2="1078.2" y2="1836.2" stroke="#224a7a" stroke-width="3"/>
<line x1="1064.2" y1="1857" x2="1078.2" y2="1857" stroke="#224a7a" stroke-width="3"/>
<line x1="1106.5" y1="1923" x2="1106.5" y2="1905.9" stroke="#4e4030" stroke-width="3"/>
<line x1="1099.5" y1="1905.9" x2="1113.5" y2="1905.9" stroke="#4e4030" stroke-width="3"/>
<line x1="1099.5" y1="1923" x2="1113.5" y2="1923" stroke="#4e4030" stroke-width="3"/>
<line x1="1136.2" y1="1880.2" x2="1136.2" y2="1864.3" stroke="#224a7a" stroke-width="3"/>
<line x1="1129.2" y1="1864.3" x2="1143.2" y2="1864.3" stroke="#224a7a" stroke-width="3"/>
<line x1="1129.2" y1="1880.2" x2="1143.2" y2="1880.2" stroke="#224a7a" stroke-width="3"/>
<line x1="1171.2" y1="1943.8" x2="1171.2" y2="1926.6" stroke="#4e4030" stroke-width="3"/>
<line x1="1164.2" y1="1926.6" x2="1178.2" y2="1926.6" stroke="#4e4030" stroke-width="3"/>
<line x1="1164.2" y1="1943.8" x2="1178.2" y2="1943.8" stroke="#4e4030" stroke-width="3"/>
<line x1="1200.9" y1="1903.4" x2="1200.9" y2="1886.3" stroke="#224a7a" stroke-width="3"/>
<line x1="1193.9" y1="1886.3" x2="1207.9" y2="1886.3" stroke="#224a7a" stroke-width="3"/>
<line x1="1193.9" y1="1903.4" x2="1207.9" y2="1903.4" stroke="#224a7a" stroke-width="3"/>
<line x1="1236.2" y1="1976.8" x2="1236.2" y2="1963.3" stroke="#4e4030" stroke-width="3"/>
<line x1="1229.2" y1="1963.3" x2="1243.2" y2="1963.3" stroke="#4e4030" stroke-width="3"/>
<line x1="1229.2" y1="1976.8" x2="1243.2" y2="1976.8" stroke="#4e4030" stroke-width="3"/>
<line x1="1265.9" y1="1908.3" x2="1265.9" y2="1888.8" stroke="#224a7a" stroke-width="3"/>
<line x1="1258.9" y1="1888.8" x2="1272.9" y2="1888.8" stroke="#224a7a" stroke-width="3"/>
<line x1="1258.9" y1="1908.3" x2="1272.9" y2="1908.3" stroke="#224a7a" stroke-width="3"/>
<circle cx="903.1" cy="1773.9" r="6.3" fill="#e9a75f"/>
<circle cx="911.1" cy="1773.9" r="6.3" fill="#e9a75f"/>
<circle cx="919.1" cy="1773.9" r="6.3" fill="#e9a75f"/>
<rect x="928.3" y="1767.9" width="25" height="12" fill="#97b2d6"/>
<circle cx="976.8" cy="1825.5" r="6.3" fill="#e9a75f"/>
<circle cx="969.6" cy="1844.3" r="6.3" fill="#e9a75f"/>
<circle cx="985.3" cy="1841.2" r="6.3" fill="#e9a75f"/>
<circle cx="1034.6" cy="1880.5" r="6.3" fill="#e9a75f"/>
<circle cx="1049" cy="1885.8" r="6.3" fill="#e9a75f"/>
<circle cx="1041.2" cy="1910.3" r="6.3" fill="#e9a75f"/>
<circle cx="1100" cy="1907.8" r="6.3" fill="#e9a75f"/>
<circle cx="1114" cy="1912.5" r="6.3" fill="#e9a75f"/>
<circle cx="1107.2" cy="1925" r="6.3" fill="#e9a75f"/>
<circle cx="1164.3" cy="1932" r="6.3" fill="#e9a75f"/>
<circle cx="1179" cy="1932" r="6.3" fill="#e9a75f"/>
<circle cx="1171.5" cy="1945.5" r="6.3" fill="#e9a75f"/>
<circle cx="1228.7" cy="1964.3" r="6.3" fill="#e9a75f"/>
<circle cx="1243.5" cy="1968" r="6.3" fill="#e9a75f"/>
<circle cx="1229.3" cy="1977.5" r="6.3" fill="#e9a75f"/>
<rect x="992.5" y="1771.5" width="12" height="12" fill="#97b2d6"/>
<rect x="1007" y="1774.6" width="12" height="12" fill="#97b2d6"/>
<rect x="992.5" y="1784" width="12" height="12" fill="#97b2d6"/>
<rect x="1057.8" y="1829.5" width="12" height="12" fill="#97b2d6"/>
<rect x="1072" y="1840.5" width="12" height="12" fill="#97b2d6"/>
<rect x="1064.7" y="1852.2" width="12" height="12" fill="#97b2d6"/>
<rect x="1122.2" y="1858.4" width="12" height="12" fill="#97b2d6"/>
<rect x="1136.3" y="1863.5" width="12" height="12" fill="#97b2d6"/>
<rect x="1129.4" y="1876" width="12" height="12" fill="#97b2d6"/>
<rect x="1187.2" y="1882" width="12" height="12" fill="#97b2d6"/>
<rect x="1201.7" y="1887.7" width="12" height="12" fill="#97b2d6"/>
<rect x="1194.4" y="1900.2" width="12" height="12" fill="#97b2d6"/>
<rect x="1251.9" y="1884.5" width="12" height="12" fill="#97b2d6"/>
<rect x="1266.7" y="1891.7" width="12" height="12" fill="#97b2d6"/>
<rect x="1252.5" y="1902.7" width="12" height="12" fill="#97b2d6"/>
<text class="s b" x="822" y="1871.6" font-size="24.5" text-anchor="middle" transform="rotate(-90 822 1871.6)" textLength="185.3" lengthAdjust="spacingAndGlyphs">Cell Viability (%)</text>
<text class="s b" x="1022.4" y="2088.4" font-size="23.8" textLength="132.5" lengthAdjust="spacingAndGlyphs">Bufalin (nM)</text>
<circle cx="1179.4" cy="1732" r="6.3" fill="#e9a75f"/>
<text class="s" x="1214" y="1739.8" font-size="22.5">siNT</text>
<rect x="1173.4" y="1765.2" width="12" height="12" fill="#97b2d6"/>
<text class="s" x="1214" y="1778.4" font-size="22.7">siESR1</text>
<line x1="975.9" y1="1765" x2="1006.7" y2="1765" stroke="#000" stroke-width="2.3"/>
<text class="s" x="991.3" y="1753.3" font-size="18.2" text-anchor="middle">&lt;0.0001</text>
<line x1="1041.2" y1="1819.8" x2="1071.7" y2="1819.8" stroke="#000" stroke-width="2.3"/>
<text class="s" x="1056.5" y="1808" font-size="18.2" text-anchor="middle">&lt;0.0001</text>
<line x1="1106.2" y1="1850.3" x2="1136.7" y2="1850.3" stroke="#000" stroke-width="2.3"/>
<text class="s" x="1121.5" y="1837.7" font-size="18.2" text-anchor="middle">&lt;0.0001</text>
<line x1="1171.2" y1="1877" x2="1201.4" y2="1877" stroke="#000" stroke-width="2.3"/>
<text class="s" x="1186.3" y="1864.8" font-size="18.2" text-anchor="middle">0.0001</text>
<line x1="1236" y1="1878" x2="1266.4" y2="1878" stroke="#000" stroke-width="2.3"/>
<text class="s" x="1251.2" y="1864.8" font-size="18.2" text-anchor="middle">&lt;0.0001</text>
<text class="s b" x="1307" y="1646" font-size="50">h</text>
<text class="s b" x="1594.5" y="1688.8" font-size="27" text-anchor="middle">293T</text>
<line x1="1391.3" y1="1724.3" x2="1391.3" y2="2019" stroke="#000" stroke-width="2.9" stroke-linecap="round"/>
<line x1="1377.7" y1="2018" x2="1799.5" y2="2018" stroke="#000" stroke-width="2.9" stroke-linecap="round"/>
<line x1="1377.7" y1="2018" x2="1391.3" y2="2018" stroke="#000" stroke-width="2.9" stroke-linecap="round"/>
<text class="s b" x="1376" y="2026" font-size="21.8" text-anchor="end">0</text>
<line x1="1377.7" y1="1969" x2="1391.3" y2="1969" stroke="#000" stroke-width="2.9" stroke-linecap="round"/>
<text class="s b" x="1376" y="1977" font-size="21.8" text-anchor="end">20</text>
<line x1="1377.7" y1="1920.1" x2="1391.3" y2="1920.1" stroke="#000" stroke-width="2.9" stroke-linecap="round"/>
<text class="s b" x="1376" y="1928.1" font-size="21.8" text-anchor="end">40</text>
<line x1="1377.7" y1="1871.2" x2="1391.3" y2="1871.2" stroke="#000" stroke-width="2.9" stroke-linecap="round"/>
<text class="s b" x="1376" y="1879.2" font-size="21.8" text-anchor="end">60</text>
<line x1="1377.7" y1="1822.2" x2="1391.3" y2="1822.2" stroke="#000" stroke-width="2.9" stroke-linecap="round"/>
<text class="s b" x="1376" y="1830.2" font-size="21.8" text-anchor="end">80</text>
<line x1="1377.7" y1="1773.2" x2="1391.3" y2="1773.2" stroke="#000" stroke-width="2.9" stroke-linecap="round"/>
<text class="s b" x="1376" y="1781.2" font-size="21.8" text-anchor="end">100</text>
<line x1="1377.7" y1="1724.3" x2="1391.3" y2="1724.3" stroke="#000" stroke-width="2.9" stroke-linecap="round"/>
<text class="s b" x="1376" y="1732.3" font-size="21.8" text-anchor="end">120</text>
<line x1="1430.7" y1="2018" x2="1430.7" y2="2031" stroke="#000" stroke-width="2.9" stroke-linecap="round"/>
<text class="s b" x="1430.7" y="2053.5" font-size="21.8" text-anchor="middle">0</text>
<line x1="1496" y1="2018" x2="1496" y2="2031" stroke="#000" stroke-width="2.9" stroke-linecap="round"/>
<text class="s b" x="1496" y="2053.5" font-size="21.8" text-anchor="middle">20</text>
<line x1="1560.7" y1="2018" x2="1560.7" y2="2031" stroke="#000" stroke-width="2.9" stroke-linecap="round"/>
<text class="s b" x="1560.7" y="2053.5" font-size="21.8" text-anchor="middle">50</text>
<line x1="1626" y1="2018" x2="1626" y2="2031" stroke="#000" stroke-width="2.9" stroke-linecap="round"/>
<text class="s b" x="1626" y="2053.5" font-size="21.8" text-anchor="middle">100</text>
<line x1="1691" y1="2018" x2="1691" y2="2031" stroke="#000" stroke-width="2.9" stroke-linecap="round"/>
<text class="s b" x="1691" y="2053.5" font-size="21.8" text-anchor="middle">200</text>
<line x1="1755.8" y1="2018" x2="1755.8" y2="2031" stroke="#000" stroke-width="2.9" stroke-linecap="round"/>
<text class="s b" x="1755.8" y="2053.5" font-size="21.8" text-anchor="middle">400</text>
<path d="M1405.7 2018V1775.5H1426.8V2018" stroke="#4e4030" stroke-width="4.4" fill="#fff"/>
<path d="M1435 2018V1775.5H1456V2018" stroke="#224a7a" stroke-width="4.4" fill="#fff"/>
<path d="M1471 2018V1833H1492V2018" stroke="#4e4030" stroke-width="4.4" fill="#fff"/>
<path d="M1500.2 2018V1873.4H1521.3V2018" stroke="#224a7a" stroke-width="4.4" fill="#fff"/>
<path d="M1535.7 2018V1851.3H1556.8V2018" stroke="#4e4030" stroke-width="4.4" fill="#fff"/>
<path d="M1565 2018V1895.4H1586V2018" stroke="#224a7a" stroke-width="4.4" fill="#fff"/>
<path d="M1601 2018V1862.3H1622V2018" stroke="#4e4030" stroke-width="4.4" fill="#fff"/>
<path d="M1630.2 2018V1910.1H1651.3V2018" stroke="#224a7a" stroke-width="4.4" fill="#fff"/>
<path d="M1666 2018V1884.4H1687V2018" stroke="#4e4030" stroke-width="4.4" fill="#fff"/>
<path d="M1695.2 2018V1922.3H1716.3V2018" stroke="#224a7a" stroke-width="4.4" fill="#fff"/>
<path d="M1730.8 2018V1899H1751.8V2018" stroke="#4e4030" stroke-width="4.4" fill="#fff"/>
<path d="M1760 2018V1944.3H1781.1V2018" stroke="#224a7a" stroke-width="4.4" fill="#fff"/>
<line x1="1481.5" y1="1840.6" x2="1481.5" y2="1821" stroke="#4e4030" stroke-width="3"/>
<line x1="1474.5" y1="1821" x2="1488.5" y2="1821" stroke="#4e4030" stroke-width="3"/>
<line x1="1474.5" y1="1840.6" x2="1488.5" y2="1840.6" stroke="#4e4030" stroke-width="3"/>
<line x1="1510.8" y1="1879.7" x2="1510.8" y2="1863.8" stroke="#224a7a" stroke-width="3"/>
<line x1="1503.8" y1="1863.8" x2="1517.8" y2="1863.8" stroke="#224a7a" stroke-width="3"/>
<line x1="1503.8" y1="1879.7" x2="1517.8" y2="1879.7" stroke="#224a7a" stroke-width="3"/>
<line x1="1546.2" y1="1856.5" x2="1546.2" y2="1840.6" stroke="#4e4030" stroke-width="3"/>
<line x1="1539.2" y1="1840.6" x2="1553.2" y2="1840.6" stroke="#4e4030" stroke-width="3"/>
<line x1="1539.2" y1="1856.5" x2="1553.2" y2="1856.5" stroke="#4e4030" stroke-width="3"/>
<line x1="1575.5" y1="1896.8" x2="1575.5" y2="1889.5" stroke="#224a7a" stroke-width="3"/>
<line x1="1568.5" y1="1889.5" x2="1582.5" y2="1889.5" stroke="#224a7a" stroke-width="3"/>
<line x1="1568.5" y1="1896.8" x2="1582.5" y2="1896.8" stroke="#224a7a" stroke-width="3"/>
<line x1="1611.5" y1="1873.6" x2="1611.5" y2="1846.7" stroke="#4e4030" stroke-width="3"/>
<line x1="1604.5" y1="1846.7" x2="1618.5" y2="1846.7" stroke="#4e4030" stroke-width="3"/>
<line x1="1604.5" y1="1873.6" x2="1618.5" y2="1873.6" stroke="#4e4030" stroke-width="3"/>
<line x1="1640.8" y1="1916.4" x2="1640.8" y2="1901.7" stroke="#224a7a" stroke-width="3"/>
<line x1="1633.8" y1="1901.7" x2="1647.8" y2="1901.7" stroke="#224a7a" stroke-width="3"/>
<line x1="1633.8" y1="1916.4" x2="1647.8" y2="1916.4" stroke="#224a7a" stroke-width="3"/>
<line x1="1676.5" y1="1889.5" x2="1676.5" y2="1874.8" stroke="#4e4030" stroke-width="3"/>
<line x1="1669.5" y1="1874.8" x2="1683.5" y2="1874.8" stroke="#4e4030" stroke-width="3"/>
<line x1="1669.5" y1="1889.5" x2="1683.5" y2="1889.5" stroke="#4e4030" stroke-width="3"/>
<line x1="1705.8" y1="1928.7" x2="1705.8" y2="1910.3" stroke="#224a7a" stroke-width="3"/>
<line x1="1698.8" y1="1910.3" x2="1712.8" y2="1910.3" stroke="#224a7a" stroke-width="3"/>
<line x1="1698.8" y1="1928.7" x2="1712.8" y2="1928.7" stroke="#224a7a" stroke-width="3"/>
<line x1="1741.3" y1="1903" x2="1741.3" y2="1889.5" stroke="#4e4030" stroke-width="3"/>
<line x1="1734.3" y1="1889.5" x2="1748.3" y2="1889.5" stroke="#4e4030" stroke-width="3"/>
<line x1="1734.3" y1="1903" x2="1748.3" y2="1903" stroke="#4e4030" stroke-width="3"/>
<line x1="1770.6" y1="1951.9" x2="1770.6" y2="1929.9" stroke="#224a7a" stroke-width="3"/>
<line x1="1763.6" y1="1929.9" x2="1777.6" y2="1929.9" stroke="#224a7a" stroke-width="3"/>
<line x1="1763.6" y1="1951.9" x2="1777.6" y2="1951.9" stroke="#224a7a" stroke-width="3"/>
<circle cx="1408.2" cy="1773.2" r="6.3" fill="#e9a75f"/>
<circle cx="1416.2" cy="1773.2" r="6.3" fill="#e9a75f"/>
<circle cx="1424.2" cy="1773.2" r="6.3" fill="#e9a75f"/>
<rect x="1433" y="1767.2" width="25" height="12" fill="#97b2d6"/>
<circle cx="1473.8" cy="1819.5" r="6.3" fill="#e9a75f"/>
<circle cx="1488.7" cy="1831.5" r="6.3" fill="#e9a75f"/>
<circle cx="1473.8" cy="1840" r="6.3" fill="#e9a75f"/>
<circle cx="1539.5" cy="1840" r="6.3" fill="#e9a75f"/>
<circle cx="1553.7" cy="1851.2" r="6.3" fill="#e9a75f"/>
<circle cx="1540" cy="1856.3" r="6.3" fill="#e9a75f"/>
<circle cx="1603.8" cy="1848" r="6.3" fill="#e9a75f"/>
<circle cx="1618.7" cy="1858.5" r="6.3" fill="#e9a75f"/>
<circle cx="1611.8" cy="1873.4" r="6.3" fill="#e9a75f"/>
<circle cx="1668.9" cy="1874.3" r="6.3" fill="#e9a75f"/>
<circle cx="1683.1" cy="1884.8" r="6.3" fill="#e9a75f"/>
<circle cx="1668.9" cy="1888" r="6.3" fill="#e9a75f"/>
<circle cx="1733.9" cy="1890.2" r="6.3" fill="#e9a75f"/>
<circle cx="1748.8" cy="1895" r="6.3" fill="#e9a75f"/>
<circle cx="1733.9" cy="1904.5" r="6.3" fill="#e9a75f"/>
<rect x="1497" y="1857.9" width="12" height="12" fill="#97b2d6"/>
<rect x="1512.2" y="1864.2" width="12" height="12" fill="#97b2d6"/>
<rect x="1497" y="1874.7" width="12" height="12" fill="#97b2d6"/>
<rect x="1563.6" y="1884.2" width="12" height="12" fill="#97b2d6"/>
<rect x="1570" y="1887.4" width="12" height="12" fill="#97b2d6"/>
<rect x="1577.9" y="1889" width="12" height="12" fill="#97b2d6"/>
<rect x="1627" y="1895.3" width="12" height="12" fill="#97b2d6"/>
<rect x="1641.9" y="1906.4" width="12" height="12" fill="#97b2d6"/>
<rect x="1627" y="1909.6" width="12" height="12" fill="#97b2d6"/>
<rect x="1692" y="1904.8" width="12" height="12" fill="#97b2d6"/>
<rect x="1707" y="1914.3" width="12" height="12" fill="#97b2d6"/>
<rect x="1692.7" y="1920" width="12" height="12" fill="#97b2d6"/>
<rect x="1764" y="1922.3" width="12" height="12" fill="#97b2d6"/>
<rect x="1756.4" y="1938.1" width="12" height="12" fill="#97b2d6"/>
<rect x="1771.3" y="1938.1" width="12" height="12" fill="#97b2d6"/>
<text class="s b" x="1327" y="1872" font-size="24.5" text-anchor="middle" transform="rotate(-90 1327 1872)" textLength="185.5" lengthAdjust="spacingAndGlyphs">Cell Viability (%)</text>
<text class="s b" x="1526.8" y="2088.4" font-size="23.8" textLength="133.2" lengthAdjust="spacingAndGlyphs">Bufalin (nM)</text>
<circle cx="1659.3" cy="1733.2" r="6.3" fill="#e9a75f"/>
<text class="s" x="1693.3" y="1740.5" font-size="23.3">Vector</text>
<rect x="1653.3" y="1766.2" width="12" height="12" fill="#97b2d6"/>
<text class="s" x="1693.3" y="1779.2" font-size="23.6">Flag-ER&#945;</text>
<line x1="1481.4" y1="1807.7" x2="1511" y2="1807.7" stroke="#000" stroke-width="2.3"/>
<text class="s" x="1496.2" y="1794" font-size="18.2" text-anchor="middle">&lt;0.0001</text>
<line x1="1546.7" y1="1834.7" x2="1576" y2="1834.7" stroke="#000" stroke-width="2.3"/>
<text class="s" x="1561.3" y="1821.4" font-size="18.2" text-anchor="middle">&lt;0.0001</text>
<line x1="1611.8" y1="1839.5" x2="1641" y2="1839.5" stroke="#000" stroke-width="2.3"/>
<text class="s" x="1626.4" y="1826.8" font-size="18.2" text-anchor="middle">&lt;0.0001</text>
<line x1="1676.8" y1="1862.6" x2="1706" y2="1862.6" stroke="#000" stroke-width="2.3"/>
<text class="s" x="1691.4" y="1849" font-size="18.2" text-anchor="middle">&lt;0.0001</text>
<line x1="1741.8" y1="1880.7" x2="1771" y2="1880.7" stroke="#000" stroke-width="2.3"/>
<text class="s" x="1756.4" y="1867" font-size="18.2" text-anchor="middle">&lt;0.0001</text>
<text class="s b" x="33" y="2111.7" font-size="50">i</text>
<text class="s" x="94.8" y="2163.4" font-size="36.6" textLength="109.9" lengthAdjust="spacingAndGlyphs">Bufalin</text>
<text class="s" x="98.3" y="2215.2" font-size="35.4" textLength="106.4" lengthAdjust="spacingAndGlyphs">siESR1</text>
<line x1="271.7" y1="2151.5" x2="288.7" y2="2151.5" stroke="#000" stroke-width="1.5"/>
<line x1="559.5" y1="2151.5" x2="576.5" y2="2151.5" stroke="#000" stroke-width="1.5"/>
<line x1="857.9" y1="2152.7" x2="874.9" y2="2152.7" stroke="#000" stroke-width="1.5"/>
<line x1="866.4" y1="2144.2" x2="866.4" y2="2161.2" stroke="#000" stroke-width="1.5"/>
<line x1="1157.9" y1="2152.7" x2="1174.9" y2="2152.7" stroke="#000" stroke-width="1.5"/>
<line x1="1166.4" y1="2144.2" x2="1166.4" y2="2161.2" stroke="#000" stroke-width="1.5"/>
<line x1="271.7" y1="2201.4" x2="288.7" y2="2201.4" stroke="#000" stroke-width="1.5"/>
<line x1="562.5" y1="2204.4" x2="579.5" y2="2204.4" stroke="#000" stroke-width="1.5"/>
<line x1="571" y1="2195.9" x2="571" y2="2212.9" stroke="#000" stroke-width="1.5"/>
<line x1="861.3" y1="2201.4" x2="878.3" y2="2201.4" stroke="#000" stroke-width="1.5"/>
<line x1="1159.5" y1="2204.4" x2="1176.5" y2="2204.4" stroke="#000" stroke-width="1.5"/>
<line x1="1168" y1="2195.9" x2="1168" y2="2212.9" stroke="#000" stroke-width="1.5"/>
<rect x="129.3" y="2231.6" width="1202.6" height="305.4" fill="#e6e6e6"/>
<clipPath id="pi1"><circle cx="283.4" cy="2381.8" r="146.5"/></clipPath>
<circle cx="283.4" cy="2381.8" r="146.5" fill="url(#gpi)" stroke="#cfcfcf" stroke-width="1.5"/>
<g clip-path="url(#pi1)"><g filter="url(#bc)"><circle cx="344.1" cy="2484.4" r="1.2" fill="#33206e"/><circle cx="362.4" cy="2262.9" r="1" fill="#4a2c9a"/><circle cx="325.6" cy="2477.1" r="1.5" fill="#1e1428"/><circle cx="207.7" cy="2461.3" r="0.7" fill="#33205a"/><circle cx="388.7" cy="2325.2" r="0.9" fill="#40288c"/><circle cx="263.6" cy="2364.2" r="0.8" fill="#33206e"/><circle cx="243.5" cy="2273.3" r="1.8" fill="#1e1428"/><circle cx="356.5" cy="2489" r="0.7" fill="#1e1428"/><circle cx="181.4" cy="2412.7" r="0.9" fill="#33206e"/><circle cx="351.5" cy="2477" r="1" fill="#33205a"/><circle cx="340.3" cy="2410.6" r="1.3" fill="#2a1a3c"/><circle cx="354.5" cy="2450.7" r="1.6" fill="#33205a"/><circle cx="253.6" cy="2427.9" r="1.1" fill="#16101e"/><circle cx="219.5" cy="2454" r="0.9" fill="#33206e"/><circle cx="265.6" cy="2397.2" r="0.7" fill="#33206e"/><circle cx="321.4" cy="2382.5" r="1.2" fill="#4a2c9a"/><circle cx="303" cy="2492.1" r="1.1" fill="#2a1a3c"/><circle cx="308.4" cy="2435.5" r="0.9" fill="#3a2380"/><circle cx="220.1" cy="2472.9" r="0.8" fill="#2a1a3c"/><circle cx="350.8" cy="2502.1" r="0.7" fill="#40288c"/><circle cx="199.6" cy="2465.7" r="1.3" fill="#33205a"/><circle cx="164.4" cy="2460.5" r="1.9" fill="#1e1428"/><circle cx="358" cy="2314.4" r="0.9" fill="#33205a"/><circle cx="348.9" cy="2354.1" r="1.1" fill="#33206e"/><circle cx="326.4" cy="2263.1" r="1" fill="#16101e"/><circle cx="352.4" cy="2405.3" r="0.8" fill="#40288c"/><circle cx="284.2" cy="2471.9" r="1.7" fill="#241636"/><circle cx="406.7" cy="2368.9" r="1" fill="#16101e"/><circle cx="357.4" cy="2470.8" r="1.8" fill="#33206e"/><circle cx="348.4" cy="2393.5" r="1.6" fill="#241636"/><circle cx="365.2" cy="2306.4" r="0.9" fill="#33206e"/><circle cx="246" cy="2479.8" r="0.8" fill="#1e1428"/><circle cx="245.8" cy="2416.1" r="1.4" fill="#16101e"/><circle cx="187.6" cy="2317.9" r="1.6" fill="#40288c"/><circle cx="279.3" cy="2473.1" r="1.9" fill="#241636"/><circle cx="312.9" cy="2414.7" r="0.7" fill="#1e1428"/><circle cx="203.4" cy="2282.9" r="0.7" fill="#2a1a3c"/><circle cx="254.8" cy="2339.5" r="1.1" fill="#3a2380"/><circle cx="175.9" cy="2463.8" r="1.2" fill="#241636"/><circle cx="319" cy="2462.5" r="1.4" fill="#4a2c9a"/><circle cx="288.3" cy="2270.4" r="1" fill="#1e1428"/><circle cx="286.6" cy="2369.5" r="1" fill="#2a1a3c"/><circle cx="196.8" cy="2446.4" r="1.6" fill="#33205a"/><circle cx="281.2" cy="2501.6" r="0.8" fill="#1e1428"/><circle cx="285.3" cy="2438.5" r="1.4" fill="#16101e"/><circle cx="336.4" cy="2264.6" r="1" fill="#2a1a3c"/><circle cx="249.7" cy="2371.9" r="1.2" fill="#3a2380"/><circle cx="361.6" cy="2365.4" r="1.3" fill="#4a2c9a"/><circle cx="286.5" cy="2319.4" r="1.2" fill="#3a2380"/><circle cx="368" cy="2369.4" r="0.8" fill="#40288c"/><circle cx="314.3" cy="2406.6" r="0.7" fill="#33206e"/><circle cx="143.8" cy="2377.4" r="1.3" fill="#33206e"/><circle cx="182.3" cy="2400.5" r="1.7" fill="#2a1a3c"/><circle cx="288.3" cy="2413.1" r="0.9" fill="#33205a"/><circle cx="265.8" cy="2490.5" r="0.9" fill="#40288c"/><circle cx="216.3" cy="2400.8" r="0.9" fill="#33206e"/><circle cx="302.5" cy="2517.7" r="1.3" fill="#1e1428"/><circle cx="183.6" cy="2394.6" r="1.4" fill="#33205a"/><circle cx="304.3" cy="2270.1" r="1.4" fill="#16101e"/><circle cx="287.5" cy="2519.1" r="0.9" fill="#40288c"/><circle cx="347.2" cy="2256.2" r="2" fill="#1e1428"/><circle cx="317.3" cy="2436.7" r="1.7" fill="#241636"/><circle cx="334" cy="2414.2" r="1.1" fill="#40288c"/><circle cx="278.7" cy="2284.3" r="0.7" fill="#241636"/><circle cx="264.8" cy="2319.4" r="0.8" fill="#33205a"/><circle cx="273.8" cy="2521.4" r="0.8" fill="#16101e"/><circle cx="416.2" cy="2334" r="1.8" fill="#4a2c9a"/><circle cx="317.8" cy="2487.3" r="0.8" fill="#40288c"/><circle cx="332.9" cy="2456.9" r="0.9" fill="#33206e"/><circle cx="227" cy="2330.8" r="0.7" fill="#40288c"/><circle cx="250.8" cy="2350.5" r="1.9" fill="#33205a"/><circle cx="409.6" cy="2409.5" r="1.8" fill="#3a2380"/><circle cx="384.3" cy="2393.9" r="0.7" fill="#33206e"/><circle cx="261.8" cy="2314.9" r="0.7" fill="#4a2c9a"/><circle cx="368.1" cy="2495.2" r="0.7" fill="#3a2380"/><circle cx="352.2" cy="2328.1" r="0.7" fill="#40288c"/><circle cx="252.1" cy="2376" r="0.7" fill="#40288c"/><circle cx="335.9" cy="2334.1" r="1.1" fill="#33206e"/><circle cx="297.6" cy="2369.1" r="1.1" fill="#2a1a3c"/><circle cx="163" cy="2433.2" r="2" fill="#33205a"/><circle cx="341.8" cy="2464.5" r="1.1" fill="#4a2c9a"/><circle cx="211.7" cy="2314.2" r="1.5" fill="#3a2380"/><circle cx="315.7" cy="2427.8" r="0.8" fill="#1e1428"/><circle cx="312.9" cy="2357.5" r="0.7" fill="#4a2c9a"/><circle cx="389.9" cy="2457.3" r="0.9" fill="#3a2380"/><circle cx="309.2" cy="2391.8" r="1" fill="#40288c"/><circle cx="308.7" cy="2420.6" r="1.8" fill="#4a2c9a"/><circle cx="283.2" cy="2445.8" r="0.7" fill="#4a2c9a"/><circle cx="210.9" cy="2419.6" r="0.8" fill="#4a2c9a"/><circle cx="365.8" cy="2403.2" r="1.1" fill="#241636"/><circle cx="369.7" cy="2393.3" r="1" fill="#33206e"/><circle cx="331.1" cy="2253.8" r="1.3" fill="#33205a"/><circle cx="234.8" cy="2277" r="1.2" fill="#2a1a3c"/><circle cx="371.5" cy="2365.1" r="1.9" fill="#3a2380"/><circle cx="368.3" cy="2387.8" r="1.2" fill="#1e1428"/><circle cx="287.5" cy="2266.5" r="0.7" fill="#4a2c9a"/><circle cx="191.2" cy="2381.5" r="0.8" fill="#4a2c9a"/><circle cx="164.5" cy="2339.1" r="1.4" fill="#3a2380"/><circle cx="342.8" cy="2344.2" r="1.2" fill="#3a2380"/><circle cx="157.9" cy="2349.7" r="0.9" fill="#241636"/><circle cx="420.3" cy="2376.8" r="6.2" fill="#1e1428"/><circle cx="406.2" cy="2369.6" r="4.9" fill="#33205a"/><circle cx="376.7" cy="2336.3" r="5.8" fill="#4a2c9a"/><circle cx="266.9" cy="2437" r="4.5" fill="#33206e"/><circle cx="299.7" cy="2258.5" r="4.5" fill="#16101e"/><circle cx="335.7" cy="2501.4" r="3.2" fill="#33206e"/><circle cx="273.2" cy="2486.5" r="3.7" fill="#1e1428"/><circle cx="303.7" cy="2301.1" r="3.7" fill="#16101e"/><circle cx="273" cy="2259.6" r="6.5" fill="#40288c"/><circle cx="299.7" cy="2402" r="5.1" fill="#16101e"/><circle cx="156.3" cy="2315.6" r="3.1" fill="#33205a"/><circle cx="356.4" cy="2303.9" r="5" fill="#1e1428"/><circle cx="418.8" cy="2405.1" r="3.1" fill="#3a2380"/><circle cx="196.5" cy="2403.3" r="4.4" fill="#2a1a3c"/><circle cx="365.8" cy="2288.6" r="3.5" fill="#16101e"/><circle cx="273.8" cy="2285.1" r="3.1" fill="#33205a"/><circle cx="215" cy="2335.1" r="5.5" fill="#16101e"/><circle cx="283.8" cy="2433.5" r="5" fill="#16101e"/><circle cx="372.8" cy="2450.5" r="4.5" fill="#4a2c9a"/><circle cx="310.4" cy="2479.3" r="4.8" fill="#33205a"/><circle cx="416.8" cy="2409.1" r="6" fill="#4a2c9a"/><circle cx="240.7" cy="2428.3" r="3.1" fill="#1e1428"/><circle cx="273.2" cy="2511.7" r="3" fill="#4a2c9a"/><circle cx="404.5" cy="2398" r="4.2" fill="#33206e"/><circle cx="178.5" cy="2389.8" r="4.1" fill="#40288c"/><circle cx="208.4" cy="2295.4" r="3.5" fill="#3a2380"/><circle cx="205.4" cy="2437.1" r="4.5" fill="#4a2c9a"/><circle cx="201.9" cy="2332.8" r="3.2" fill="#33206e"/><circle cx="353.4" cy="2276.7" r="5.8" fill="#2a1a3c"/><circle cx="251.8" cy="2428.5" r="3" fill="#16101e"/><circle cx="245.2" cy="2454.6" r="3.2" fill="#1e1428"/><circle cx="221.3" cy="2399.1" r="3" fill="#241636"/><circle cx="322.1" cy="2326.6" r="3" fill="#4a2c9a"/><circle cx="212.8" cy="2292.6" r="3.1" fill="#2a1a3c"/><circle cx="318.2" cy="2496.7" r="4" fill="#2a1a3c"/><circle cx="296" cy="2315.7" r="4.1" fill="#33205a"/><circle cx="314.7" cy="2486.2" r="5.3" fill="#4a2c9a"/><circle cx="242.2" cy="2259.2" r="3.6" fill="#3a2380"/><circle cx="324.7" cy="2270.3" r="5.7" fill="#40288c"/><circle cx="382.4" cy="2403.5" r="5.8" fill="#33206e"/><circle cx="340.5" cy="2507.5" r="3" fill="#16101e"/><circle cx="303.4" cy="2261.7" r="4" fill="#241636"/><circle cx="262.1" cy="2466.6" r="3.8" fill="#16101e"/><circle cx="184.8" cy="2464.1" r="3" fill="#16101e"/><circle cx="197.2" cy="2330.9" r="5.4" fill="#241636"/><circle cx="284.6" cy="2326.4" r="3.3" fill="#2a1a3c"/><circle cx="268.8" cy="2499" r="5.9" fill="#1e1428"/><circle cx="189.5" cy="2476.7" r="3.6" fill="#2a1a3c"/><circle cx="214.8" cy="2310.8" r="4.1" fill="#3a2380"/><circle cx="278.7" cy="2351.1" r="4.4" fill="#3a2380"/><circle cx="167.8" cy="2431.9" r="3" fill="#4a2c9a"/><circle cx="291.3" cy="2406.1" r="3.2" fill="#3a2380"/><circle cx="409.2" cy="2392.2" r="5.5" fill="#33206e"/><circle cx="284.1" cy="2467.3" r="5.5" fill="#33205a"/><circle cx="262.6" cy="2490.4" r="5.4" fill="#3a2380"/><circle cx="201.8" cy="2392" r="5.8" fill="#241636"/><circle cx="254.2" cy="2502.6" r="4.7" fill="#2a1a3c"/><circle cx="335" cy="2332.7" r="6.5" fill="#3a2380"/><circle cx="162.5" cy="2334" r="5.1" fill="#40288c"/><circle cx="390.8" cy="2400.7" r="5.9" fill="#33205a"/><circle cx="314.2" cy="2273.8" r="6.2" fill="#1e1428"/><circle cx="377.6" cy="2284.2" r="6.7" fill="#2a1a3c"/><circle cx="163.2" cy="2382.3" r="5.1" fill="#2a1a3c"/><circle cx="230.5" cy="2303.9" r="5.8" fill="#241636"/><circle cx="296.3" cy="2279.2" r="4" fill="#1e1428"/><circle cx="285" cy="2323.4" r="4" fill="#33205a"/><circle cx="392.6" cy="2416.2" r="4" fill="#16101e"/><circle cx="182.8" cy="2324.1" r="7" fill="#241636"/><circle cx="206.6" cy="2428.3" r="6.1" fill="#1e1428"/><circle cx="281.4" cy="2392.3" r="4.7" fill="#241636"/><circle cx="150.3" cy="2413.1" r="7.1" fill="#241636"/><circle cx="313.4" cy="2338.4" r="4.5" fill="#241636"/><circle cx="299.5" cy="2437.1" r="4" fill="#2a1a3c"/><circle cx="367.1" cy="2383.7" r="4.1" fill="#241636"/><circle cx="247.9" cy="2286.3" r="4" fill="#1e1428"/><circle cx="333.6" cy="2478.1" r="5.2" fill="#2a1a3c"/><circle cx="348.1" cy="2289" r="4.1" fill="#2a1a3c"/><circle cx="396.5" cy="2461.3" r="4.4" fill="#241636"/><circle cx="226.9" cy="2490.4" r="4.6" fill="#241636"/><circle cx="280.4" cy="2259.3" r="4.2" fill="#241636"/></g></g>
<clipPath id="pi2"><circle cx="580" cy="2382" r="146"/></clipPath>
<circle cx="580" cy="2382" r="146" fill="url(#gpi)" stroke="#cfcfcf" stroke-width="1.5"/>
<g clip-path="url(#pi2)"><g filter="url(#bc)"><circle cx="631.7" cy="2368.1" r="0.7" fill="#33206e"/><circle cx="599.9" cy="2427.5" r="1.3" fill="#3a2380"/><circle cx="590.7" cy="2343.1" r="0.8" fill="#1e1428"/><circle cx="533.1" cy="2482.5" r="2" fill="#9a72c0"/><circle cx="570.1" cy="2288.8" r="1.9" fill="#8c6ab8"/><circle cx="660.7" cy="2307.5" r="0.8" fill="#33205a"/><circle cx="600.2" cy="2425.3" r="1.1" fill="#6a4aa0"/><circle cx="601" cy="2243.4" r="1.2" fill="#6a4aa0"/><circle cx="541.8" cy="2455.4" r="0.8" fill="#40288c"/><circle cx="531.7" cy="2498.8" r="2.1" fill="#9a72c0"/><circle cx="504.7" cy="2374.7" r="0.8" fill="#6a4aa0"/><circle cx="592.6" cy="2411.1" r="1.1" fill="#1e1428"/><circle cx="517.3" cy="2416.8" r="0.8" fill="#40288c"/><circle cx="470.2" cy="2464.7" r="0.8" fill="#8c6ab8"/><circle cx="503.4" cy="2459.8" r="0.8" fill="#8c6ab8"/><circle cx="483.8" cy="2343" r="1.6" fill="#4a2c9a"/><circle cx="541.4" cy="2401" r="1" fill="#2a1a3c"/><circle cx="497.5" cy="2419.7" r="2" fill="#33205a"/><circle cx="489.7" cy="2375.2" r="0.7" fill="#33205a"/><circle cx="630.1" cy="2475.1" r="0.9" fill="#3a2380"/><circle cx="675.7" cy="2321.1" r="1" fill="#2a1a3c"/><circle cx="455.6" cy="2353.8" r="1.3" fill="#33205a"/><circle cx="554.6" cy="2344.3" r="0.8" fill="#2a1a3c"/><circle cx="644.7" cy="2261" r="1" fill="#2a1a3c"/><circle cx="476.5" cy="2383" r="1.2" fill="#9a72c0"/><circle cx="576.1" cy="2283.7" r="1.5" fill="#9a72c0"/><circle cx="548.7" cy="2245.8" r="0.7" fill="#8c6ab8"/><circle cx="577.2" cy="2431.4" r="0.8" fill="#3a2380"/><circle cx="524.6" cy="2319.5" r="0.7" fill="#6a4aa0"/><circle cx="481.9" cy="2313.6" r="0.7" fill="#2a1a3c"/><circle cx="663.1" cy="2364.6" r="0.7" fill="#33205a"/><circle cx="482.6" cy="2360.6" r="0.7" fill="#1e1428"/><circle cx="572.6" cy="2426" r="1" fill="#33205a"/><circle cx="539.8" cy="2410.1" r="1.9" fill="#4a2c9a"/><circle cx="594.1" cy="2357.8" r="0.9" fill="#8c6ab8"/><circle cx="643.1" cy="2395.3" r="1.1" fill="#40288c"/><circle cx="693.1" cy="2418.1" r="1" fill="#16101e"/><circle cx="580.4" cy="2450.7" r="0.8" fill="#2a1a3c"/><circle cx="677.6" cy="2336.7" r="0.7" fill="#9a72c0"/><circle cx="569.6" cy="2404.5" r="0.7" fill="#16101e"/><circle cx="676.3" cy="2408.2" r="0.7" fill="#1e1428"/><circle cx="607.8" cy="2507.8" r="1" fill="#9a72c0"/><circle cx="590.9" cy="2486" r="0.7" fill="#3a2380"/><circle cx="572" cy="2522.7" r="1.4" fill="#6a4aa0"/><circle cx="496.6" cy="2460.4" r="0.7" fill="#8c6ab8"/><circle cx="498.4" cy="2354.7" r="1.8" fill="#4a2c9a"/><circle cx="574" cy="2454.6" r="1.1" fill="#3a2380"/><circle cx="634" cy="2295.3" r="1.4" fill="#241636"/><circle cx="641.6" cy="2371.8" r="0.9" fill="#2a1a3c"/><circle cx="492.3" cy="2457.6" r="0.8" fill="#241636"/><circle cx="697.8" cy="2452.4" r="0.9" fill="#1e1428"/><circle cx="440.1" cy="2366.4" r="0.7" fill="#4a2c9a"/><circle cx="489.7" cy="2488.4" r="0.7" fill="#3a2380"/><circle cx="582.4" cy="2361" r="2" fill="#9a72c0"/><circle cx="687.8" cy="2418.1" r="0.7" fill="#8c6ab8"/><circle cx="635.2" cy="2406.5" r="1.1" fill="#3a2380"/><circle cx="657.3" cy="2332.5" r="1.3" fill="#6a4aa0"/><circle cx="502.6" cy="2357.4" r="1.4" fill="#6a4aa0"/><circle cx="645.5" cy="2404.3" r="1.1" fill="#3a2380"/><circle cx="576.4" cy="2374.5" r="0.8" fill="#2a1a3c"/><circle cx="649.8" cy="2346.9" r="0.7" fill="#3a2380"/><circle cx="683.4" cy="2470.6" r="1.7" fill="#241636"/><circle cx="620.9" cy="2446.4" r="0.9" fill="#241636"/><circle cx="610.7" cy="2309" r="1.1" fill="#8c6ab8"/><circle cx="664.7" cy="2359.7" r="0.7" fill="#16101e"/><circle cx="513.6" cy="2376.1" r="0.7" fill="#33205a"/><circle cx="581" cy="2275.4" r="1" fill="#16101e"/><circle cx="709.4" cy="2377.5" r="0.7" fill="#33206e"/><circle cx="553" cy="2433.7" r="0.9" fill="#9a72c0"/><circle cx="532.9" cy="2456.6" r="2" fill="#8c6ab8"/><circle cx="654.5" cy="2324.4" r="1.1" fill="#40288c"/><circle cx="529.8" cy="2263.7" r="1.4" fill="#3a2380"/><circle cx="610.4" cy="2496.6" r="2" fill="#2a1a3c"/><circle cx="634.3" cy="2461.5" r="1.6" fill="#33205a"/><circle cx="462.8" cy="2332.7" r="0.8" fill="#241636"/><circle cx="716.1" cy="2399.6" r="1.2" fill="#16101e"/><circle cx="473.6" cy="2356.3" r="0.8" fill="#3a2380"/><circle cx="573" cy="2286.4" r="1.5" fill="#40288c"/><circle cx="532.4" cy="2298.6" r="1.7" fill="#40288c"/><circle cx="570.1" cy="2514.9" r="1.6" fill="#33205a"/><circle cx="533.8" cy="2323.7" r="0.8" fill="#1e1428"/><circle cx="523.8" cy="2340.1" r="1.2" fill="#3a2380"/><circle cx="455.5" cy="2413.7" r="2.1" fill="#2a1a3c"/><circle cx="520.3" cy="2348.9" r="1" fill="#241636"/><circle cx="631.9" cy="2370.5" r="1.2" fill="#4a2c9a"/><circle cx="535.1" cy="2499.8" r="0.7" fill="#9a72c0"/><circle cx="443.2" cy="2374.3" r="0.9" fill="#2a1a3c"/><circle cx="499.8" cy="2464.7" r="0.8" fill="#1e1428"/><circle cx="652.1" cy="2505.1" r="0.9" fill="#33206e"/><circle cx="675" cy="2344.9" r="0.7" fill="#2a1a3c"/><circle cx="576.5" cy="2431.6" r="0.7" fill="#6a4aa0"/><circle cx="667.4" cy="2433" r="0.8" fill="#33206e"/><circle cx="500.7" cy="2362.8" r="1.6" fill="#3a2380"/><circle cx="588.2" cy="2442.1" r="1.8" fill="#1e1428"/><circle cx="515.1" cy="2325.3" r="0.7" fill="#4a2c9a"/><circle cx="447.1" cy="2347" r="1.3" fill="#3a2380"/><circle cx="699.6" cy="2345.1" r="0.7" fill="#40288c"/><circle cx="570.7" cy="2489.5" r="1.3" fill="#16101e"/><circle cx="662.3" cy="2490.3" r="2" fill="#4a2c9a"/><circle cx="600.4" cy="2396.1" r="0.9" fill="#2a1a3c"/><circle cx="656.2" cy="2499" r="2" fill="#33206e"/><circle cx="529.3" cy="2303.9" r="0.9" fill="#1e1428"/><circle cx="634.6" cy="2311.5" r="0.8" fill="#8c6ab8"/><circle cx="454.3" cy="2330.3" r="2" fill="#9a72c0"/><circle cx="655.2" cy="2443.9" r="0.8" fill="#40288c"/><circle cx="627.6" cy="2298.1" r="0.7" fill="#1e1428"/><circle cx="642.7" cy="2379" r="1" fill="#9a72c0"/><circle cx="611" cy="2272.7" r="0.8" fill="#9a72c0"/><circle cx="533.5" cy="2439.9" r="0.8" fill="#4a2c9a"/><circle cx="513.9" cy="2395.1" r="0.8" fill="#40288c"/><circle cx="654.5" cy="2487.1" r="1.6" fill="#3a2380"/><circle cx="578.8" cy="2367.2" r="1.9" fill="#33206e"/><circle cx="447.2" cy="2360.6" r="1" fill="#1e1428"/><circle cx="609.2" cy="2501" r="0.7" fill="#1e1428"/><circle cx="603.5" cy="2338.9" r="0.9" fill="#2a1a3c"/><circle cx="489.6" cy="2275.4" r="2.1" fill="#241636"/><circle cx="648.2" cy="2475.8" r="0.8" fill="#8c6ab8"/><circle cx="486.9" cy="2392.9" r="1.6" fill="#3a2380"/><circle cx="614.4" cy="2421.6" r="1.6" fill="#33205a"/><circle cx="681.2" cy="2321" r="0.9" fill="#16101e"/><circle cx="492.4" cy="2304.5" r="1.4" fill="#4a2c9a"/><circle cx="633.9" cy="2347.8" r="0.8" fill="#241636"/><circle cx="558" cy="2429.2" r="0.7" fill="#9a72c0"/><circle cx="584.5" cy="2413.6" r="1.1" fill="#8c6ab8"/><circle cx="566.7" cy="2429.7" r="0.7" fill="#1e1428"/><circle cx="578.9" cy="2361.4" r="1.3" fill="#8c6ab8"/><circle cx="482.9" cy="2390" r="1.1" fill="#241636"/><circle cx="586" cy="2257.1" r="0.7" fill="#16101e"/><circle cx="634.7" cy="2397.8" r="0.7" fill="#4a2c9a"/><circle cx="460.3" cy="2427.4" r="1.1" fill="#3a2380"/><circle cx="585.4" cy="2432.7" r="3.6" fill="#2a1a3c"/><circle cx="610.1" cy="2377" r="2.5" fill="#2a1a3c"/><circle cx="658.2" cy="2394.1" r="4.4" fill="#241636"/><circle cx="515.6" cy="2437.7" r="3.3" fill="#16101e"/><circle cx="619" cy="2409.6" r="3.2" fill="#16101e"/><circle cx="539" cy="2433.5" r="3.6" fill="#33206e"/><circle cx="644.5" cy="2425.4" r="3.6" fill="#16101e"/><circle cx="618" cy="2301.9" r="4.5" fill="#16101e"/><circle cx="547.4" cy="2419.7" r="2.7" fill="#33205a"/><circle cx="644.4" cy="2324.1" r="4.5" fill="#1e1428"/><circle cx="570.7" cy="2241.7" r="4.4" fill="#241636"/><circle cx="523.5" cy="2363.8" r="4.5" fill="#40288c"/><circle cx="437.2" cy="2388.5" r="4.3" fill="#4a2c9a"/><circle cx="550.2" cy="2270.2" r="4.5" fill="#33205a"/><circle cx="620.9" cy="2291.1" r="3.3" fill="#33205a"/><circle cx="457.8" cy="2419.4" r="5.2" fill="#40288c"/><circle cx="461.8" cy="2386.6" r="5.1" fill="#33205a"/><circle cx="666.7" cy="2311.7" r="3.1" fill="#1e1428"/><circle cx="690" cy="2372.5" r="3.6" fill="#241636"/><circle cx="521.5" cy="2421.2" r="3.2" fill="#33205a"/><circle cx="680.4" cy="2312.7" r="5.2" fill="#241636"/><circle cx="614.5" cy="2349.9" r="5.3" fill="#241636"/><circle cx="514.6" cy="2276.7" r="4.1" fill="#33205a"/><circle cx="659.3" cy="2321.9" r="5.2" fill="#33205a"/><circle cx="478.1" cy="2467.9" r="3" fill="#33205a"/><circle cx="599.5" cy="2468.2" r="5.4" fill="#2a1a3c"/><circle cx="602.5" cy="2482.9" r="2.5" fill="#40288c"/><circle cx="702.6" cy="2402.5" r="3" fill="#1e1428"/><circle cx="580" cy="2279.4" r="2.6" fill="#33205a"/><circle cx="614.3" cy="2285.8" r="3.5" fill="#40288c"/><circle cx="631.7" cy="2321.4" r="4.7" fill="#2a1a3c"/><circle cx="596.2" cy="2422.4" r="2.5" fill="#40288c"/><circle cx="708.6" cy="2369.4" r="2.6" fill="#16101e"/><circle cx="626.1" cy="2472" r="3.9" fill="#40288c"/><circle cx="512.5" cy="2346.5" r="2.6" fill="#33205a"/><circle cx="563.7" cy="2409.2" r="3" fill="#241636"/><circle cx="593" cy="2466.7" r="3" fill="#1e1428"/><circle cx="580.7" cy="2519.5" r="2.5" fill="#1e1428"/><circle cx="527.6" cy="2281.8" r="3.7" fill="#1e1428"/><circle cx="554" cy="2337.5" r="3" fill="#16101e"/><circle cx="528.4" cy="2323.5" r="3.3" fill="#1e1428"/><circle cx="465.6" cy="2399.4" r="4.3" fill="#33205a"/><circle cx="650" cy="2349.1" r="2.6" fill="#241636"/><circle cx="687.9" cy="2393.7" r="5.1" fill="#241636"/><circle cx="516" cy="2356.7" r="2.5" fill="#3a2380"/><circle cx="472.2" cy="2470.3" r="2.7" fill="#40288c"/><circle cx="709.4" cy="2371.3" r="3.5" fill="#33205a"/><circle cx="547.4" cy="2485.1" r="2.5" fill="#241636"/><circle cx="655.4" cy="2494.7" r="3.7" fill="#241636"/><circle cx="570.6" cy="2410.6" r="4.8" fill="#16101e"/><circle cx="602.7" cy="2283.6" r="4" fill="#241636"/><circle cx="623.2" cy="2265.1" r="3.7" fill="#1e1428"/><circle cx="566.9" cy="2322.3" r="3.8" fill="#2a1a3c"/><circle cx="616.4" cy="2486.9" r="3.8" fill="#33205a"/><circle cx="644.7" cy="2372.3" r="3.2" fill="#3a2380"/><circle cx="488.2" cy="2389.8" r="3.6" fill="#16101e"/><circle cx="510.3" cy="2319.4" r="2.6" fill="#16101e"/><circle cx="677" cy="2475.8" r="5.1" fill="#241636"/><circle cx="551" cy="2473.1" r="3.7" fill="#16101e"/><circle cx="460.6" cy="2358.8" r="2.7" fill="#241636"/><circle cx="630.5" cy="2467.5" r="2.5" fill="#241636"/><circle cx="516.7" cy="2409.5" r="3.2" fill="#33205a"/><circle cx="587.5" cy="2358" r="3.6" fill="#241636"/><circle cx="492.3" cy="2323.9" r="2.7" fill="#2a1a3c"/><circle cx="548.8" cy="2306.5" r="3.1" fill="#241636"/><circle cx="658.5" cy="2488" r="3.1" fill="#16101e"/><circle cx="650.4" cy="2269.8" r="3.1" fill="#1e1428"/><circle cx="541.1" cy="2270.2" r="2.7" fill="#33205a"/><circle cx="627.2" cy="2503.4" r="2.8" fill="#33206e"/><circle cx="494.9" cy="2287.2" r="2.5" fill="#241636"/><circle cx="474.2" cy="2379.4" r="2.5" fill="#40288c"/><circle cx="565.5" cy="2395.2" r="3.1" fill="#241636"/><circle cx="471.1" cy="2396.4" r="2.7" fill="#241636"/><circle cx="659.1" cy="2290.9" r="2.6" fill="#2a1a3c"/><circle cx="625" cy="2472.9" r="4.2" fill="#16101e"/><circle cx="468.5" cy="2360.2" r="5.7" fill="#33205a"/><circle cx="721.8" cy="2369" r="4.1" fill="#241636"/><circle cx="680" cy="2370.8" r="4.1" fill="#16101e"/><circle cx="677.5" cy="2351.6" r="4" fill="#33206e"/><circle cx="633.8" cy="2476" r="8" fill="#1e1428"/><circle cx="598.6" cy="2373.8" r="4" fill="#40288c"/><circle cx="572.8" cy="2350.8" r="6.1" fill="#33205a"/><circle cx="611" cy="2487.8" r="4.6" fill="#40288c"/><circle cx="651.5" cy="2487.5" r="6.4" fill="#1e1428"/><circle cx="462.7" cy="2368.4" r="7.5" fill="#16101e"/><circle cx="644.3" cy="2411" r="4.6" fill="#40288c"/><circle cx="520.5" cy="2282.9" r="7.4" fill="#33206e"/></g></g>
<clipPath id="pi3"><circle cx="879.5" cy="2382.9" r="146"/></clipPath>
<circle cx="879.5" cy="2382.9" r="146" fill="url(#gpi)" stroke="#cfcfcf" stroke-width="1.5"/>
<g clip-path="url(#pi3)"><g filter="url(#bc)"><circle cx="1003.5" cy="2319.6" r="1.4" fill="#3a2380"/><circle cx="958.2" cy="2391.4" r="0.7" fill="#33206e"/><circle cx="922.3" cy="2428.7" r="0.8" fill="#40288c"/><circle cx="780.6" cy="2289.8" r="0.6" fill="#4a2c9a"/></g></g>
<clipPath id="pi4"><circle cx="1176.7" cy="2383.7" r="146.5"/></clipPath>
<circle cx="1176.7" cy="2383.7" r="146.5" fill="url(#gpi)" stroke="#cfcfcf" stroke-width="1.5"/>
<g clip-path="url(#pi4)"><g filter="url(#bc)"><circle cx="1145.9" cy="2255.9" r="0.6" fill="#2a1a3c"/><circle cx="1217.1" cy="2494.1" r="0.6" fill="#2a1a3c"/><circle cx="1203.2" cy="2312.1" r="1.5" fill="#1e1428"/><circle cx="1052.1" cy="2431.8" r="1.6" fill="#1e1428"/><circle cx="1234.7" cy="2394.1" r="0.8" fill="#33205a"/><circle cx="1134.6" cy="2291.4" r="1.6" fill="#241636"/><circle cx="1208.2" cy="2336.2" r="0.7" fill="#241636"/><circle cx="1279.9" cy="2435.9" r="1" fill="#1e1428"/><circle cx="1248.5" cy="2346.9" r="1.4" fill="#1e1428"/><circle cx="1150.2" cy="2449.7" r="1" fill="#2a1a3c"/><circle cx="1236.9" cy="2254.1" r="1.3" fill="#241636"/><circle cx="1107.3" cy="2355.1" r="0.6" fill="#16101e"/><circle cx="1120.4" cy="2385.7" r="0.6" fill="#33205a"/><circle cx="1212.6" cy="2489.3" r="1.2" fill="#33205a"/><circle cx="1033.5" cy="2378.8" r="1.2" fill="#16101e"/><circle cx="1188.7" cy="2343.7" r="0.6" fill="#241636"/><circle cx="1105.2" cy="2292.9" r="0.8" fill="#241636"/><circle cx="1095.9" cy="2439.7" r="1.3" fill="#241636"/><circle cx="1195.7" cy="2261.5" r="1.3" fill="#241636"/><circle cx="1227.1" cy="2332.8" r="0.7" fill="#1e1428"/><circle cx="1259.6" cy="2296.5" r="0.8" fill="#1e1428"/><circle cx="1315.5" cy="2417" r="1.1" fill="#33205a"/><circle cx="1071" cy="2357.4" r="0.8" fill="#33205a"/><circle cx="1216.8" cy="2318.9" r="0.7" fill="#2a1a3c"/><circle cx="1106.3" cy="2500.8" r="1.2" fill="#1e1428"/><circle cx="1293.6" cy="2310.4" r="0.6" fill="#33205a"/><circle cx="1103.9" cy="2436.5" r="0.7" fill="#33205a"/><circle cx="1084.4" cy="2468.2" r="0.7" fill="#1e1428"/><circle cx="1160.7" cy="2395.7" r="0.8" fill="#1e1428"/><circle cx="1210.6" cy="2443.9" r="0.6" fill="#16101e"/><circle cx="1198.7" cy="2476.9" r="0.6" fill="#1e1428"/><circle cx="1207.9" cy="2410.5" r="0.7" fill="#1e1428"/><circle cx="1064.1" cy="2341.8" r="0.6" fill="#241636"/><circle cx="1189.3" cy="2339.2" r="0.6" fill="#2a1a3c"/><circle cx="1199.6" cy="2260.3" r="1" fill="#16101e"/><circle cx="1056.3" cy="2386.4" r="3.2" fill="#33205a"/><circle cx="1091.1" cy="2405.4" r="5.1" fill="#2a1a3c"/><circle cx="1142.7" cy="2436.4" r="3.1" fill="#2a1a3c"/><circle cx="1098.6" cy="2414.1" r="5.3" fill="#2a1a3c"/><circle cx="1143.4" cy="2342.8" r="3" fill="#16101e"/><circle cx="1069.2" cy="2300.6" r="5.1" fill="#33205a"/><circle cx="1238" cy="2409.2" r="5.4" fill="#16101e"/><circle cx="1214.5" cy="2280.5" r="5.5" fill="#33205a"/><circle cx="1155.6" cy="2331.2" r="3" fill="#2a1a3c"/><circle cx="1207.2" cy="2438.2" r="4.7" fill="#1e1428"/><circle cx="1184.6" cy="2462.9" r="4.2" fill="#16101e"/><circle cx="1182.7" cy="2465.8" r="3.1" fill="#33205a"/><circle cx="1044.9" cy="2339.3" r="3.1" fill="#16101e"/><circle cx="1050.9" cy="2325.6" r="3.3" fill="#2a1a3c"/><circle cx="1215.3" cy="2250.7" r="2.4" fill="#4a2c9a"/><circle cx="1155.9" cy="2420.1" r="1.8" fill="#4a2c9a"/><circle cx="1116.7" cy="2458.8" r="2" fill="#40288c"/><circle cx="1233.3" cy="2395.9" r="1.5" fill="#33206e"/><circle cx="1106.2" cy="2305.1" r="1.5" fill="#33206e"/><circle cx="1312.5" cy="2366.2" r="2.4" fill="#40288c"/></g></g>
<line x1="1491.9" y1="2134.6" x2="1491.9" y2="2432.5" stroke="#000" stroke-width="3.8" stroke-linecap="round"/>
<line x1="1473.5" y1="2432" x2="1737" y2="2432" stroke="#000" stroke-width="3.8" stroke-linecap="round"/>
<line x1="1473.5" y1="2432" x2="1491.9" y2="2432" stroke="#000" stroke-width="3.8" stroke-linecap="round"/>
<text class="s b" x="1468.5" y="2443" font-size="32.5" text-anchor="end" textLength="38" lengthAdjust="spacingAndGlyphs">0.0</text>
<line x1="1473.5" y1="2332.8" x2="1491.9" y2="2332.8" stroke="#000" stroke-width="3.8" stroke-linecap="round"/>
<text class="s b" x="1468.5" y="2343.8" font-size="32.5" text-anchor="end" textLength="38" lengthAdjust="spacingAndGlyphs">0.5</text>
<line x1="1473.5" y1="2233.7" x2="1491.9" y2="2233.7" stroke="#000" stroke-width="3.8" stroke-linecap="round"/>
<text class="s b" x="1468.5" y="2244.7" font-size="32.5" text-anchor="end" textLength="38" lengthAdjust="spacingAndGlyphs">1.0</text>
<line x1="1473.5" y1="2134.6" x2="1491.9" y2="2134.6" stroke="#000" stroke-width="3.8" stroke-linecap="round"/>
<text class="s b" x="1468.5" y="2145.6" font-size="32.5" text-anchor="end" textLength="38" lengthAdjust="spacingAndGlyphs">1.5</text>
<line x1="1521.9" y1="2432" x2="1521.9" y2="2447.4" stroke="#000" stroke-width="3.8" stroke-linecap="round"/>
<line x1="1582.2" y1="2432" x2="1582.2" y2="2447.4" stroke="#000" stroke-width="3.8" stroke-linecap="round"/>
<line x1="1642.7" y1="2432" x2="1642.7" y2="2447.4" stroke="#000" stroke-width="3.8" stroke-linecap="round"/>
<line x1="1703.3" y1="2432" x2="1703.3" y2="2447.4" stroke="#000" stroke-width="3.8" stroke-linecap="round"/>
<text class="s b" x="1405.5" y="2282.4" font-size="29.3" text-anchor="middle" transform="rotate(-90 1405.5 2282.4)" textLength="340.7" lengthAdjust="spacingAndGlyphs">Relative Colony Formation</text>
<path d="M1507.2 2432V2236.4H1536.8V2432" stroke="#000" stroke-width="5.4" fill="#fff"/>
<path d="M1566.4 2432V2346.5H1597V2432" stroke="#4e4030" stroke-width="5.4" fill="#fff"/>
<path d="M1627 2432V2418.8H1658.4V2432" stroke="#224a7a" stroke-width="5.4" fill="#fff"/>
<path d="M1687.2 2432V2377.2H1719V2432" stroke="#b93434" stroke-width="5.4" fill="#fff"/>
<circle cx="1511" cy="2233.7" r="6.8" fill="#000"/>
<circle cx="1522" cy="2233.7" r="6.8" fill="#000"/>
<circle cx="1533" cy="2233.7" r="6.8" fill="#000"/>
<line x1="1582.2" y1="2366.6" x2="1582.2" y2="2319" stroke="#4e4030" stroke-width="3.5"/>
<line x1="1575.2" y1="2319" x2="1589.2" y2="2319" stroke="#4e4030" stroke-width="3.5"/>
<line x1="1575.2" y1="2366.6" x2="1589.2" y2="2366.6" stroke="#4e4030" stroke-width="3.5"/>
<rect x="1573.6" y="2312.5" width="17.6" height="33" fill="#e9a75f"/>
<rect x="1573.6" y="2360" width="17.6" height="16" fill="#e9a75f"/>
<line x1="1642.7" y1="2420.1" x2="1642.7" y2="2410.2" stroke="#224a7a" stroke-width="3.5"/>
<line x1="1632.7" y1="2410.2" x2="1652.7" y2="2410.2" stroke="#224a7a" stroke-width="3.5"/>
<line x1="1632.7" y1="2420.1" x2="1652.7" y2="2420.1" stroke="#224a7a" stroke-width="3.5"/>
<path d="M1634 2408.8L1642.8 2424.9H1625.2Z" fill="#97b2d6"/>
<path d="M1642.7 2398.8L1651.5 2414.9H1633.9Z" fill="#97b2d6"/>
<path d="M1652 2408.8L1660.8 2424.9H1643.2Z" fill="#97b2d6"/>
<line x1="1703.3" y1="2388.4" x2="1703.3" y2="2360.6" stroke="#b93434" stroke-width="3.5"/>
<line x1="1693.3" y1="2360.6" x2="1713.3" y2="2360.6" stroke="#b93434" stroke-width="3.5"/>
<line x1="1693.3" y1="2388.4" x2="1713.3" y2="2388.4" stroke="#b93434" stroke-width="3.5"/>
<path d="M1703.3 2360.2L1712.1 2344.1H1694.5Z" fill="#e8928c"/>
<path d="M1693 2384.2L1701.8 2368.1H1684.2Z" fill="#e8928c"/>
<path d="M1714 2384.2L1722.8 2368.1H1705.2Z" fill="#e8928c"/>
<line x1="1520.8" y1="2157.3" x2="1643.6" y2="2157.3" stroke="#000" stroke-width="2.4"/>
<line x1="1520.8" y1="2212.8" x2="1582.8" y2="2212.8" stroke="#000" stroke-width="2.4"/>
<line x1="1641.8" y1="2340" x2="1704.1" y2="2340" stroke="#000" stroke-width="2.4"/>
<text class="s" x="1581.3" y="2140.3" font-size="26.5" text-anchor="middle">&lt;0.0001</text>
<text class="s" x="1550.6" y="2194.7" font-size="26.5" text-anchor="middle">&lt;0.0001</text>
<text class="s" x="1671.7" y="2322.5" font-size="26.4" text-anchor="middle">0.0331</text>
<text class="s" x="1375.7" y="2489.2" font-size="36.6" textLength="110" lengthAdjust="spacingAndGlyphs">Bufalin</text>
<text class="s" x="1373.6" y="2528.7" font-size="35.4" textLength="106.2" lengthAdjust="spacingAndGlyphs">siESR1</text>
<line x1="1513.5" y1="2479" x2="1530.5" y2="2479" stroke="#000" stroke-width="2.2"/>
<line x1="1574" y1="2479" x2="1591" y2="2479" stroke="#000" stroke-width="2.2"/>
<line x1="1636.3" y1="2477.5" x2="1653.3" y2="2477.5" stroke="#000" stroke-width="2.2"/>
<line x1="1644.8" y1="2469" x2="1644.8" y2="2486" stroke="#000" stroke-width="2.2"/>
<line x1="1701.5" y1="2477.5" x2="1718.5" y2="2477.5" stroke="#000" stroke-width="2.2"/>
<line x1="1710" y1="2469" x2="1710" y2="2486" stroke="#000" stroke-width="2.2"/>
<line x1="1513.5" y1="2518" x2="1530.5" y2="2518" stroke="#000" stroke-width="2.2"/>
<line x1="1574" y1="2517" x2="1591" y2="2517" stroke="#000" stroke-width="2.2"/>
<line x1="1582.5" y1="2508.5" x2="1582.5" y2="2525.5" stroke="#000" stroke-width="2.2"/>
<line x1="1634.5" y1="2518" x2="1651.5" y2="2518" stroke="#000" stroke-width="2.2"/>
<line x1="1701.5" y1="2517" x2="1718.5" y2="2517" stroke="#000" stroke-width="2.2"/>
<line x1="1710" y1="2508.5" x2="1710" y2="2525.5" stroke="#000" stroke-width="2.2"/>
</svg></body></html>
